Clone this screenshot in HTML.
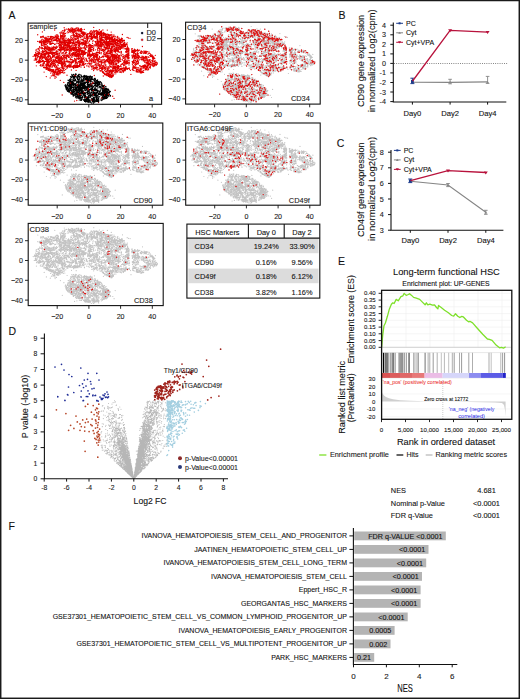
<!DOCTYPE html><html><head><meta charset="utf-8"><style>html,body{margin:0;padding:0;background:#fff}svg{display:block}</style></head><body>
<svg width="520" height="699" viewBox="0 0 520 699" font-family='"Liberation Sans", sans-serif'>
<style>text{stroke:#111;stroke-width:0.1px}</style>
<defs>
<path id="up" d="M47.8 12.3h0M51.4 7.4h0M50.3 7.3h0M50.8 6.9h0M47.9 6h0M49.9 6h0M53.1 7.5h0M52.3 7.2h0M50.5 6.8h0M49.6 7.6h0M78.2 33.5h0M76.9 33.1h0M76.2 31.4h0M82.2 28.7h0M82.4 28.6h0M83.3 29.4h0M79.8 28.5h0M43.4 39.1h0M46.8 37.6h0M42.7 39.8h0M44.2 38.2h0M47.6 39.5h0M43.2 40.6h0M44 39.7h0M47.2 40.2h0M38.1 24.5h0M33.7 23.4h0M37.9 22.2h0M36.4 25h0M34.7 25.6h0M37.5 23.9h0M37.2 24.7h0M36.9 25.2h0M80 18.4h0M80.8 19.2h0M79.7 19.3h0M84.4 21h0M55.9 9.4h0M55.6 9.9h0M55.1 9.6h0M56.2 9.3h0M56.5 9.9h0M54.7 8.9h0M36.5 21.9h0M33.1 22h0M36 21.9h0M38.8 23.1h0M37.2 20.6h0M36.6 20.7h0M50.8 38.5h0M109.9 31.1h0M108.8 30.2h0M109.2 29.5h0M104.4 41.1h0M37.3 18h0M44.3 17.1h0M39.9 17.8h0M40.8 17.9h0M41.2 18.6h0M42.9 16.1h0M65.7 37h0M63.5 38.4h0M31 48.6h0M32 47h0M29.5 50.1h0M33 49h0M31.1 50h0M31 49h0M87 21.9h0M88 20.4h0M89.3 22.9h0M90.1 24.2h0M88.3 23.9h0M88.3 22.1h0M84.7 21.9h0M86.4 23.1h0M87.5 21.6h0M85 46.8h0M86.1 45.7h0M87.6 45.7h0M87 46h0M90.6 45.8h0M88.7 46.7h0M87.6 44.5h0M87.1 46.8h0M85.4 45.1h0M19.4 33h0M20.5 33.3h0M22.3 33.1h0M20.4 33h0M125.7 34h0M124.6 34.8h0M38.6 32.2h0M39.3 33.4h0M39.2 33h0M40.2 33.3h0M27.1 42.3h0M26.2 40.5h0M26.6 40.4h0M20.6 40.9h0M25.6 40.1h0M23.5 41.2h0M49.2 14.5h0M47.1 15h0M47.6 13.1h0M46.7 13.9h0M48.7 13.9h0M48.9 13.7h0M29.8 41.5h0M30 42.4h0M26.8 42.4h0M27.2 42.7h0M28 44.5h0M29.8 44.6h0M28.5 42.9h0M19.8 18.2h0M15.7 17.6h0M13.8 16.6h0M16.9 17.9h0M72.3 16.1h0M72.6 18.3h0M83.3 32.3h0M84.3 32h0M84.9 31.3h0M86.2 31.3h0M74.2 14.8h0M73 12.5h0M73.1 12.7h0M77.2 12h0M73.8 14.4h0M74.3 14.4h0M75.9 12.6h0M77 16h0M7.4 36.2h0M7.1 35.2h0M8.8 36.2h0M50.9 21.1h0M51.8 20.4h0M51.6 21.7h0M52.1 21.2h0M50.4 20.2h0M51.2 20.4h0M51.4 20.3h0M49.8 20.3h0M50.4 22.2h0M116.6 42.6h0M115.1 44.2h0M115.7 43.8h0M117.4 42.7h0M114.8 44.1h0M115.8 43h0M118.5 43.2h0M77.2 44.4h0M116.7 39.1h0M113.9 37h0M116.6 39h0M74.4 16.6h0M71.7 15.3h0M69.6 16.2h0M74 17.2h0M71.7 16.9h0M39.2 42.8h0M36.1 41.8h0M41.8 42.4h0M40.9 41.8h0M79.6 20.6h0M78.4 21.1h0M80.8 20.9h0M80.5 22.1h0M79.8 20.2h0M64.9 45.9h0M63.9 43.2h0M61 43.8h0M65.2 43.1h0M63.5 44h0M64.6 43h0M62.9 43h0M60 42.9h0M65.5 44.7h0M92.3 16.2h0M91 16.7h0M91.7 16.3h0M93.9 16.5h0M92.3 16.7h0M90.1 17.3h0M93 16h0M13.1 24.8h0M14.1 24.3h0M18.1 46.3h0M20.2 46.5h0M19 45.7h0M21.2 47h0M76.9 14.9h0M72.1 14.9h0M87.3 18h0M26.5 26.8h0M28.3 25.1h0M26.5 24.5h0M25.8 24.9h0M27.6 25.8h0M30.2 50h0M30.5 51.8h0M30.1 50.9h0M31.8 51h0M30.5 50.1h0M29.9 51.7h0M31.9 50.6h0M32.8 49.7h0M38.8 45.1h0M40.7 43.3h0M37.4 41.1h0M39.7 43.3h0M39.5 43.5h0M36 43.3h0M41.2 40.9h0M41.8 42.8h0M118.2 28.2h0M116.7 28.7h0M117.7 29.2h0M121.8 36.7h0M118.1 36.9h0M119.8 36.6h0M118.6 39.3h0M120.1 37.8h0M39.4 20.3h0M40.6 22.7h0M40.1 19.4h0M42.3 20.4h0M89.6 26.5h0M88.2 26.4h0M88.6 24h0M88.4 26.3h0M90.6 25.5h0M67.4 15h0M67.4 13.4h0M69 13.9h0M67.7 14.9h0M58 37.9h0M59.6 38.3h0M55.6 38.9h0M61.1 37h0M62.8 40.1h0M63.9 39.8h0M60.9 39.6h0M61.2 41h0M32.4 21.3h0M33.3 22.6h0M29.4 23.9h0M32.2 23.2h0M32 22.1h0M47.8 19.5h0M44.8 16.8h0M20.8 40.4h0M19.3 41.7h0M15.9 40.7h0M20.5 42.3h0M19.1 38.8h0M19.6 39.3h0M18.7 41.4h0M17.7 42h0M15.9 14.5h0M17.7 14.4h0M13.9 16.6h0M34.9 9.7h0M39.7 8.2h0M22.5 25.7h0M22.1 27.2h0M23.2 26.9h0M21.2 27.2h0M36 18.7h0M36.9 16.9h0M36.6 17.3h0M68.5 34.7h0M72.5 37.9h0M108.5 47.2h0M108 47.5h0M109.2 46.8h0M108.6 46.6h0M108.4 46.2h0M81.1 36h0M85.8 36.9h0M82.1 36.1h0M82.1 34.8h0M52.8 37.5h0M51.5 35.7h0M19.7 25.3h0M17.8 23.4h0M18 27.2h0M17.9 23.3h0M21 24.8h0M19.8 23.5h0M21.2 24.4h0M19.3 22.9h0M17.4 24.9h0M16.4 33.7h0M19.2 33.7h0M15.2 31.9h0M19 34.3h0M16.1 34.4h0M18 34.2h0M18.6 30.9h0M22.7 29.7h0M18.7 30.4h0M19.1 28.8h0M92.2 37.7h0M92.6 38.3h0M94.6 40.3h0M52.3 12h0M50.5 11.4h0M50.9 11.2h0M48.9 10.9h0M83.1 20.4h0M82.4 20.3h0M82.6 19.7h0M87.9 19.7h0M81.9 19.9h0M81.5 18.4h0M85 18.1h0M48.2 22.7h0M51.2 22.8h0M51.5 22.3h0M50.3 22.3h0M50.4 20.6h0M48.9 21.3h0M50.9 22.8h0M48.6 21.7h0M107.5 45.1h0M106.3 44.1h0M107.2 44.2h0M106.6 44.2h0M31.9 18.4h0M32.3 18.4h0M31 16.8h0M31.1 18.3h0M32.1 16.7h0M31.9 17.1h0M34.3 15.4h0M30.1 17.8h0M30.6 15.5h0M37.1 30.5h0M36.2 32.1h0M38 32.1h0M38.2 31.8h0M34.4 29.8h0M36.7 32.6h0M35.8 33.8h0M116.9 42.3h0M84 25.1h0M83.7 26.8h0M83.5 25.4h0M82.9 25.8h0M82.7 25.9h0M81.6 24.7h0M31.5 36.1h0M32.1 34.5h0M30.8 36.1h0M32.7 37.1h0M31 37.8h0M31.8 35.9h0M32.7 34h0M29.7 35.2h0M80.5 32.7h0M82.2 30.8h0M79.5 30.9h0M82.9 31.1h0M82.3 30.6h0M81.2 30.3h0M80.8 29.9h0M43.1 6.4h0M44.6 5.1h0M40.8 6.8h0M42.2 6.7h0M44 6.9h0M44.5 6.7h0M43.2 4.9h0M44.5 5.2h0M37.6 30.3h0M40.2 32.2h0M41.8 31.4h0M40.5 33h0M40.5 34.3h0M39.5 31.8h0M40.7 34.2h0M27.7 25.2h0M33.5 22.6h0M30.8 22.9h0M28 24.1h0M114.9 44.1h0M116.1 44.1h0M116.1 44.5h0M116.6 44h0M115.6 44.6h0M117.6 44.8h0M113.8 43.3h0M79.5 22.4h0M81.3 21h0M79.7 22.4h0M79.2 23.1h0M81.9 23h0M79.8 21.3h0M80 21.3h0M78.9 23.1h0M81.1 23.6h0M31.3 21.3h0M31.8 20.2h0M31.6 18.1h0M31.7 19h0M30.2 20.5h0M31.3 18.6h0M33.2 20.6h0M17.2 27.8h0M68.8 44.5h0M68.5 44.5h0M66 44.5h0M30.1 12.7h0M34 12.3h0M48.4 7.8h0M44.5 9.5h0M45.6 9.5h0M44.7 9.4h0M48.5 11.4h0M44 7.1h0M47.8 9.8h0M90.4 35.7h0M25.2 46.6h0M22.9 47.8h0M24.6 46.9h0M22.3 47.7h0M25.4 47.8h0M24.5 48.6h0M25.8 46.7h0M25.9 47.8h0M24.4 48.2h0M25.8 23.3h0M26.9 20.8h0M25.4 20.2h0M26.5 21.3h0M44.1 20.6h0M44.2 19.7h0M43.1 19.4h0M41.3 20.3h0M42.8 18.1h0M84.1 29.4h0M82.4 27h0M109.7 36.9h0M109.3 38.4h0M110.1 37.9h0M108.3 39h0M95.2 35.3h0M97.1 36.5h0M92 36.1h0M96.4 34.7h0M94.1 36.4h0M20.6 18.3h0M20.9 16.4h0M20.8 17.6h0M16.9 16.5h0M67.8 36.6h0M70.3 36.5h0M68.8 35.8h0M69.4 36.2h0M70.8 36.6h0M70.5 37h0M57.2 25.3h0M57.3 26.5h0M61.6 24.8h0M61.6 25.4h0M56.9 25.7h0M30.3 36.4h0M28.5 35.3h0M30.4 35.9h0M32.5 36.8h0M84.5 45.5h0M86.2 44.9h0M86.3 45h0M86.4 44h0M86.1 43.1h0M86.4 44.8h0M84.8 44.1h0M84.9 42.8h0M108.2 35.8h0M12.4 18.1h0M15.6 20h0M54.2 29.5h0M56.5 29.5h0M33 40.4h0M30.1 39h0M31.6 40.2h0M31.3 38.5h0M28.9 39.1h0M32.4 38.6h0M30.5 40.1h0M28.5 38.5h0M31.2 40.2h0M92.8 28.7h0M88.7 30.7h0M90.7 28.4h0M93.3 29.1h0M32.1 26.6h0M31.8 27.2h0M30.8 26.3h0M35.2 26.1h0M31.6 26.8h0M31.4 26.3h0M33 27.8h0M54.9 32.3h0M55.3 32.5h0M53.9 30.9h0M53.7 31.3h0M53.5 31.5h0M31.7 37.7h0M30.8 36.4h0M31.7 38.4h0M32.6 38.1h0M32.9 37.8h0M31.5 39.6h0M33 37.7h0M32.6 38.2h0M74.2 33.6h0M105 42.6h0M107.7 43.7h0M106.4 44.5h0M111.9 42.5h0M106.4 43.8h0M109.7 44.5h0M108.2 44.2h0M37.3 41.1h0M36 40h0M37.6 42.9h0M38.9 33.1h0M42.2 35.1h0M42.3 32.4h0M44.5 32.7h0M42.6 32.2h0M41.4 34h0M43.8 34.3h0M41.8 32.6h0M50.6 33.6h0M52.2 33.3h0M52.4 33.3h0M52 32.4h0M51.8 32.4h0M51.1 35.1h0M50.9 34.1h0M49.9 32.4h0M106.1 33.5h0M42.6 27h0M41.7 24.7h0M44.6 25.2h0M45.4 26h0M73.4 44.1h0M71.2 43.2h0M74.5 45.4h0M74.8 43.5h0M72 42.8h0M72.8 43.9h0M73.7 45.5h0M74.2 42.7h0M19.4 44h0M70.9 29h0M71.5 29.8h0M69.3 29.4h0M69.1 29.1h0M20.3 37.5h0M18.2 37.4h0M67.2 32.7h0M67.5 33.7h0M64.4 32.3h0M68.1 34.5h0M63.6 35.8h0M50 4.7h0M79.8 23.9h0M79.5 25h0M67.9 13.9h0M68.5 12.7h0M72 12.5h0M13.7 32h0M101.1 39.4h0M104.3 40.9h0M113.8 47h0M114.5 49.1h0M113.7 49.6h0M35.6 10.5h0M37.2 10.5h0M34.2 9.7h0M35.8 9.3h0M34.2 10.2h0M34.6 11.8h0M48.7 13.3h0M46.6 12.7h0M45.3 12.5h0M48.2 10.4h0M44.8 11.9h0M49.3 13.7h0M49 12.4h0M47.3 13.3h0M35.9 23.8h0M35.3 23.2h0M35.8 24h0M36 23.1h0M35.6 24h0M36.4 22.9h0M36.1 25h0M75.6 11h0M77.6 12.3h0M96.9 44.3h0M95.6 41.2h0M95.5 42.6h0M16 39.6h0M12.8 41.4h0M13.8 42.9h0M14.8 41.4h0M12.1 42.4h0M15.7 42.6h0M14.2 42.8h0M90.7 35.3h0M50.7 14.6h0M47.3 15.5h0M50 17h0M50 15.5h0M52.8 16.8h0M50.9 17.1h0M18 36.2h0M17.2 35.5h0M19 36.6h0M80.2 34.6h0M79.7 33.9h0M80.6 34.2h0M78.2 33.8h0M80.2 33h0M82.4 35h0M79.1 33.3h0M80.4 35h0M78.7 33.8h0M88.4 40.1h0M85.9 39.8h0M82.2 40.6h0M83.9 37.6h0M80.5 38.4h0M83.9 40.4h0M83.3 39.2h0M85.9 40.7h0M82.7 41.1h0M17.9 14.1h0M20.4 13.7h0M22.1 13.3h0M19.9 13.4h0M83.5 16.3h0M86 17.7h0M85.5 17.7h0M85.4 17.9h0M86.4 18.2h0M79.6 52.1h0M78.7 52.4h0M80.6 52.4h0M80.1 50.6h0M77 51.1h0M83.1 28.2h0M79.1 29.4h0M83 27.7h0M8.3 32.3h0M7.6 32.9h0M8.7 31.7h0M9.4 34.7h0M8.7 31.6h0M8.1 33h0M90.3 34.5h0M89.3 33.9h0M89.6 34.4h0M90 34h0M90.2 35.3h0M96.9 35.9h0M100.3 35.4h0M100.2 33.2h0M99.8 34.7h0M98.7 33.8h0M100.6 33.9h0M52.8 19.9h0M51.4 18.8h0M56 20.5h0M51.8 21.1h0M55.1 17.2h0M53.6 20.4h0M53.3 19.3h0M55 19.7h0M49.7 19.4h0M99.8 31.4h0M100.4 32.6h0M99.5 33.5h0M100.8 30.5h0M100.1 32.3h0M75.4 49.1h0M73.5 46.7h0M76 50.1h0M77.4 48.5h0M77.8 48h0M79.4 50.4h0M92.5 45.3h0M92 46.7h0M89.5 45.9h0M91.7 46.6h0M89.9 45h0M88.4 48.6h0M91 45.8h0M89.1 46.9h0M90.5 47.4h0M110.7 35.1h0M73.6 17.6h0M75.1 18.9h0M75.5 18.6h0M74.1 17.6h0M77.7 18.7h0M72.7 17.7h0M72 18.4h0M73.1 16.4h0M73.7 17.4h0M35.5 18.6h0M118.5 35.1h0M118.8 33.9h0M115.7 34.8h0M118.2 33.9h0M117.8 34.5h0M118.8 34.9h0M109.5 27.4h0M113.2 28.3h0M112.1 29.2h0M110.5 27.5h0M113.2 27.9h0M49.2 14.1h0M48.8 15.3h0M49.2 14.8h0M51.9 13.3h0M52 12.9h0M54 28.2h0M53.2 27.1h0M55.2 29.2h0M54.9 28.3h0M54.3 27.5h0M51.3 28.6h0M48.3 40h0M48.1 38.9h0M51.7 41h0M51.5 40.9h0M95.9 42.1h0M43.6 22.3h0M44.6 24.6h0M119.8 46.7h0M120 45.7h0M119.6 44.3h0M117.2 46.7h0M116.9 45.5h0M84.4 49h0M84.4 46.7h0M84 48.1h0M83.3 47.1h0M85.3 48.2h0M42 17.6h0M43 18h0M42.5 18.7h0M41.8 18.1h0M43.5 36.4h0M42.7 36.7h0M46.5 36h0M22.4 41.9h0M17.9 42.3h0M22.2 42.9h0M21.2 43.3h0M20.2 42.2h0M85.2 16.6h0M79 16.4h0M81.2 13.8h0M83.1 14.1h0M81.6 15.4h0M81.6 14.3h0M78.7 15.1h0M83.9 16.5h0M84.3 15.7h0M85.7 31.7h0M84.5 32.2h0M84.3 31.4h0M84.2 30.8h0M48.6 18.9h0M49 19h0M46.3 20.4h0M58 14.7h0M59.3 15.1h0M56 15h0M54.9 17h0M57.1 15.5h0M76.6 18.9h0M78.9 18.7h0M78.5 19.6h0M78.3 18.7h0M77.7 19.6h0M75.5 19.1h0M76.2 18.8h0M78.3 18.1h0M74 17.1h0M88.9 17.7h0M88.2 17h0M87.6 17.6h0M88.5 16.6h0M117.3 37.1h0M116.6 38h0M29 46.8h0M31.4 45.3h0M28.9 46.6h0M31 47.4h0M34.5 44.2h0M28.5 46.4h0M34.9 25.6h0M32.2 25.3h0M32.9 26.2h0M85.8 23.6h0M34.7 21.4h0M103.7 25.9h0M103.5 25.8h0M104.2 25.6h0M90.6 33.5h0M85.6 33.7h0M92 32h0M93.3 32.6h0M87.5 31.8h0M91.6 33.6h0M88.5 32.5h0M86.2 32h0M66.7 36.2h0M63.5 35.7h0M65.9 38.8h0M65.2 36.6h0M63.8 36.5h0M36.5 27h0M37.2 25.8h0M38 27.9h0M35.8 27h0M34.6 26.5h0M64.3 32h0M66.2 30.2h0M63.9 31.6h0M65.4 30.7h0M22.1 28.1h0M26.1 31.8h0M22.6 29.3h0M23.4 28.9h0M24.5 32h0M20.3 29.1h0M24.4 31.1h0M23.7 30h0M22.5 29.9h0M80.1 15.3h0M80 14.7h0M80.5 14.9h0M81.3 16h0M78.6 15.7h0M110.4 44.7h0M53.7 42.5h0M51.6 41.1h0M49.5 42.4h0M51.5 41.5h0M21.8 46.9h0M21.3 43.9h0M20.8 43.9h0M84.9 34.8h0M82.1 36h0M83.2 39.5h0M81.3 36.9h0M81.4 36.9h0M84.2 38h0M83.4 38.8h0M94.8 21.6h0M97.9 21h0M95.8 21.1h0M91.7 21.7h0M96.7 21.1h0M95.3 20.3h0M95.7 22.1h0M95.8 22.3h0M75.7 42.1h0M74.4 42.8h0M74.8 45.2h0M77.8 41.8h0M90.1 18.4h0M89.3 18.9h0M88.8 19.2h0M91.5 19.9h0M88.3 22.2h0M88.8 19.7h0M36.8 16.6h0M37.9 15.1h0M34.9 16.6h0M36.6 13.7h0M35.4 15.7h0M35.9 15.3h0M77.6 38h0M78.5 37.1h0M76.3 38.6h0M72.8 38.3h0M75.9 36.2h0M79.3 36.8h0M43.1 12.5h0M44.8 12.4h0M46 13h0M42.5 13.7h0M45.2 14.1h0M20.4 16.1h0M22.8 13.5h0M22.8 13.8h0M21.7 15.4h0M24.7 13.8h0M24.3 15.4h0M23.2 13.2h0M24.5 13.6h0M85.1 19h0M86.6 20.4h0M87.3 20.5h0M87 19.6h0M87.5 19.1h0M84.9 19.7h0M84.8 19.6h0M81.1 19.9h0M82.5 21.2h0M79.3 19.9h0M79.9 19.7h0M79.2 21.9h0M37.8 17.2h0M40.1 16h0M41 16.9h0M40 16.5h0M40.7 17h0M41.6 17.4h0M39 16.7h0M41.3 16.6h0M40.5 17.5h0M83.4 21.8h0M85.3 21.4h0M84.6 21.3h0M83.7 20.8h0M85 21.4h0M83.2 21.2h0M87.8 20.5h0M85.9 15.7h0M83.6 16.4h0M82.8 16.4h0M83 17.5h0M79.3 15.5h0M104.5 28.3h0M106.8 28.5h0M103.8 29.3h0M100.9 26.8h0M61.7 13h0M59.2 12.3h0M58.3 12.5h0M58.3 11.4h0M60.3 35h0M58.3 37h0M57.9 35.4h0M56.2 36.9h0M56 38.8h0M56.4 36.9h0M26.9 38.2h0M30 39h0M30.2 37h0M34.9 7.8h0M34.7 7.6h0M36.3 8.2h0M44.5 5.8h0M48 5h0M45.3 6.6h0M42.8 7.4h0M45.2 6.8h0M45.6 6.4h0M46.5 6.1h0M80.3 49.9h0M84 51.3h0M80.8 51.1h0M80.9 51.2h0M80.8 50.4h0M73.8 38.8h0M75.1 39.1h0M75 37.1h0M73.1 39h0M76.2 39h0M73.4 37.9h0M73.4 40.2h0M73.6 39.8h0M84.2 39.5h0M80 36.7h0M81.9 37.9h0M83.4 37h0M80.6 39.8h0M76.6 37h0M12.4 42.6h0M14.7 42.1h0M15.5 44.4h0M15.7 40.9h0M14.5 42.6h0M23.6 18h0M23.8 16.8h0M90.2 18.1h0M86.3 18.4h0M88.6 16.5h0M89.2 19.3h0M86.7 19h0M35.8 22.3h0M35.4 23h0M35.3 24.3h0M34.8 24.2h0M36.4 22.6h0M35.3 24.1h0M71.4 30.3h0M71.5 27.9h0M51.7 6.5h0M50.1 6.8h0M51.9 7h0M52.5 5.8h0M53.2 5.2h0M52.9 6.5h0M63.1 24.3h0M62.1 22.8h0M61 23.1h0M10.4 39.7h0M10.5 38.9h0M12.2 37.7h0M12.9 38.9h0M11.7 38.2h0M8.4 39.3h0M11.5 39.7h0M12.3 37.8h0M11.1 36.9h0M24 24.4h0M48.1 31.7h0M70.2 10.4h0M68.6 8h0M69.9 8.6h0M69.3 10.3h0M71.3 6.6h0M70.3 9.1h0M72.1 8.8h0M52.1 27.2h0M53.5 27.4h0M50 28.2h0M51 26.4h0M52.8 27.8h0M54.9 27.2h0M53.3 27.9h0M51.3 28h0M81.8 25.4h0M82.8 26.6h0M82.1 25.2h0M83.5 23.5h0M81.3 24.8h0M81.1 23.2h0M82.1 25.4h0M81.1 23.2h0M107.2 33.1h0M105.3 31.8h0M107.3 32.4h0M87.1 16.7h0M89.6 17.7h0M90.2 17.7h0M87.2 17.9h0M86.3 16.8h0M86.7 17h0M88.6 16.7h0M87.9 16.7h0M51.7 35.5h0M53.3 37.3h0M53.6 37.6h0M52.7 37h0M53.1 37.6h0M48.3 37.5h0M48.1 39h0M46.1 37.7h0M16.1 28.1h0M18.3 29.1h0M17.2 30.9h0M18.2 28.2h0M17.9 28.7h0M46.6 27.9h0M49.4 28.2h0M48.1 25.5h0M44.9 27.5h0M10.5 33.2h0M9.8 33.2h0M9.4 34.7h0M11.5 34.2h0M12.2 33.3h0M12.7 32h0M10.1 33.7h0M19.3 29.2h0M20.6 30.7h0M21.7 29.6h0M21.7 29.1h0M16.4 28.4h0M22.6 28.5h0M19.5 29.2h0M21.1 29.7h0M23.1 30h0M93.5 15.1h0M90.9 15.4h0M94.2 15.6h0M21.2 39.3h0M21.5 36.5h0M22.1 38.3h0M17.5 36.3h0M11.7 34.8h0M11.8 34.6h0M11.4 35.6h0M37.1 42.3h0M37 42.1h0M36.6 42.4h0M105.7 29.1h0M106.6 29.3h0M105.2 28.9h0M105.8 28.3h0M104.4 27.5h0M104.1 27.4h0M40.2 38.6h0M39.5 38h0M36.8 38.9h0M39.3 38h0M39 38.9h0M75.6 31.7h0M79 32.5h0M77.9 31.9h0M76.9 31.5h0M77.9 33.6h0M79.7 32.5h0M77.4 31.2h0M77 30.9h0M58.5 19.6h0M60.9 20.8h0M57.5 18.9h0M58.3 20.2h0M57 21.1h0M83.5 18.9h0M83.8 18.3h0M72.4 16.1h0M73 15.8h0M72.1 18.9h0M71.9 16.9h0M115.5 36.1h0M117.9 34h0M113.7 34h0M117.5 35h0M118.9 35.4h0M116.9 35.7h0M114 34.7h0M96.8 37h0M96.7 38.2h0M97.1 37.9h0M95.5 39.2h0M96.5 39.3h0M96.7 39.4h0M96.5 37.2h0M99.6 37.9h0M99.1 39.2h0M69.7 40.1h0M89.8 33.7h0M91.7 33.7h0M87 33.2h0M90.3 32.6h0M91.6 32.2h0M91.8 34.6h0M85.3 32.4h0M91.4 33.7h0M126.9 37.3h0M123.8 37.4h0M125.8 34.7h0M126.7 35.2h0M123.8 42h0M124.6 40.3h0M121.9 39.9h0M125.9 42.1h0M126.2 40.7h0M67 37.5h0M92.2 18.8h0M91.1 18.1h0M91.7 18.9h0M88.8 19.6h0M91.6 18.6h0M93.1 17.4h0M92.9 16.7h0M92 17.1h0M23.3 41.1h0M24.4 43h0M23 43.8h0M22.7 43.9h0M25.3 42.4h0M24.7 42.8h0M22.6 42.5h0M24.2 44h0M115.6 47.3h0M113.2 49.8h0M21.9 19.4h0M18.9 18.1h0M17 21.2h0M96.4 21.5h0M99.3 22.8h0M94.9 22.7h0M97.5 22.2h0M96.4 19.4h0M97.9 21.5h0M75.4 16.8h0M76.5 18h0M77.7 14.2h0M78.3 17.3h0M77 14.9h0M79.5 14.8h0M76.8 14.2h0M84.4 47.4h0M83.8 50.4h0M85.6 47.3h0M81.9 29.6h0M77.9 29.2h0M82.6 30.2h0M97.9 26.3h0M99.5 26.2h0M99.5 28h0M7 31.6h0M9.5 30.3h0M10.7 30.5h0M11.1 29.5h0M8.1 28h0M11 30.2h0M7.5 29.6h0M33.6 38h0M38.7 35.9h0M37.9 38.1h0M101.4 46.1h0M104.5 44.7h0M49.7 26.3h0M50.9 26.6h0M51.1 25.4h0M50.7 25.6h0M47.8 27.1h0M50.4 24.4h0M50.4 25.7h0M51.3 26.8h0M45.3 25.9h0M122 43h0M119.8 43.7h0M118.7 45.7h0M117.4 45.9h0M119.6 44.4h0M118.2 46.5h0M116.1 44.5h0M118.6 44.1h0M98.8 31.3h0M103.7 29h0M45.8 32.8h0M48.2 33.4h0M49.1 32.1h0M49.5 33.5h0M48.6 33.1h0M46 33h0M46.4 31.5h0M47.4 32.8h0M63.9 23.4h0M65.7 23.6h0M65.5 25.3h0M62.5 25.5h0M7.4 33.1h0M9.4 32.7h0M7.2 33.1h0M31.1 36.7h0M33.1 39h0M35.7 38.6h0M36.4 40h0M33 37.8h0M33.5 37.8h0M32.5 38.4h0M33.9 36.4h0M33.3 38.4h0M109.2 32.4h0M109 31.5h0M72.5 17.8h0M73.7 19.5h0M70.6 18.8h0M74.1 20.4h0M73.3 17.4h0M75.5 18.8h0M75 19.5h0M36.6 49.6h0M35.2 49.9h0M67.1 33.4h0M67.8 33.7h0M66.4 32.2h0M65.5 33.4h0M65.4 34.3h0M65.1 31.7h0M97.8 43.4h0M10 38.5h0M9 38.3h0M9.9 39.4h0M10.6 37h0M11.3 39h0M10.4 39.4h0M12 38.4h0M64.4 36.6h0M64.3 36h0M64.9 38h0M65.7 35.5h0M64.9 34.2h0M66.6 34.8h0M70.6 9.8h0M72.5 9.6h0M70.8 9.5h0M73.9 9.9h0M71.9 11.6h0M73.5 8.9h0M82 11.8h0M81.9 12.8h0M81.6 11.9h0M81.7 15.1h0M80.7 11.5h0M86.9 35h0M87.4 34.7h0M86.6 35h0M88.5 35.4h0M89.4 34.3h0M86.8 36.3h0M87.4 35h0M41.3 25.5h0M46.4 26.2h0M42 26.5h0M33.5 47.1h0M35 47.8h0M34.8 47.4h0M33 46.7h0M33.5 47.2h0M34.5 48.1h0M87.8 33.5h0M86.3 35.5h0M87.9 32.8h0M85.7 33h0M50.5 42.7h0M51.4 42.7h0M51.8 41h0M52 42.7h0M50.3 42.8h0M12.4 38.2h0M11.7 38.2h0M10.1 38.4h0M13 38.3h0M11.4 38.1h0M12.5 39h0M50.2 27.9h0M51.1 29.6h0M47.9 27.2h0M53.6 27.6h0M53.5 29.6h0M49.6 27.9h0M28.5 48.9h0M23.6 48.7h0M27.3 47.8h0M27.9 46.9h0M20.3 19h0M17.1 18.5h0M16.1 18.3h0M19.4 16.4h0M16.8 17.2h0M20.3 18.7h0M101 37.6h0M29 15.4h0M28.6 15.9h0M27.8 15.8h0M29.4 17.2h0M25.5 14.4h0M26.7 16.5h0M32.2 15.8h0M28.7 16.7h0M84.6 18.8h0M81.8 15.3h0M84.1 14.9h0M81.7 15.6h0M82.7 14.9h0M82.2 15.5h0M82.8 15.1h0M81.9 14.6h0M62.9 33.3h0M65 34.5h0M62.7 33.2h0M60.2 32.6h0M62.6 32.5h0M62.3 33.4h0M60.8 32.2h0M90.1 47.7h0M89.1 48.6h0M89.5 45.7h0M88.3 47.8h0M87.8 47.4h0M51.2 18.8h0M50.8 19.4h0M52 18.5h0M50.7 19.2h0M50.8 19.9h0M52.6 20.4h0M55 17.4h0M51.7 18.6h0M53.8 19.2h0M106.4 39.1h0M87.8 45.2h0M112.6 28.9h0M116.4 28.8h0M116.3 29.5h0M114.6 29h0M34.9 15.8h0M35.1 14.1h0M32.6 14.1h0M32.3 15.3h0M32.3 14.8h0M105.7 39.8h0M105.4 38.9h0M105.3 39.3h0M34.8 35.7h0M36.3 33.8h0M38.3 34.8h0M35.5 32.8h0M79.6 25.5h0M80.6 25.1h0M79.6 25h0M79.8 25.9h0M78.6 22.2h0M80.4 25.2h0M83.3 24.1h0M80.5 25.8h0M78.3 25h0M55.9 30.5h0M57.5 29.3h0M61.5 29.4h0M59.7 30h0M56.8 29.6h0M24.4 33.4h0M24.4 34.1h0M23.4 35.2h0M23.3 35.3h0M23 35h0M25.1 36.4h0M21.9 35.3h0M24.3 33.7h0M24.3 34h0M108 27.4h0M109.6 27.7h0M109.9 27.6h0M108.8 27.4h0M109.5 26.3h0M33.1 13.4h0M30.2 13.7h0M28.5 13.6h0M29.2 12h0M29 11.7h0M57 31.2h0M56.8 31.1h0M55.3 31.3h0M53.3 30.7h0M49.8 39.9h0M51.5 39.5h0M53 38.8h0M51.4 39.1h0M53.8 41.9h0M53.2 38.8h0M86.7 47.8h0M86.8 47.9h0M87.8 47.6h0M86.7 49.3h0M87.8 48h0M88.1 47.9h0M71.9 47.6h0M72.6 45.2h0M62.5 33.9h0M65.2 30.9h0M79.9 19.2h0M81.3 17.2h0M82.2 18.2h0M81.9 17.9h0M80.8 18.6h0M78 18.6h0M79.3 16.2h0M79.7 18.2h0M95.9 47.2h0M97.3 47.5h0M96.2 47.7h0M35.5 20h0M33.1 19.6h0M33.5 22.6h0M36.5 20.4h0M34.3 18.6h0M78.5 50.6h0M98 45.6h0M98.1 46h0M99.1 45.3h0M100.1 45.3h0M45.3 43.4h0M46.9 42.7h0M44.3 43.9h0M45.9 44.5h0M45.6 44.1h0M45.4 43.9h0M45.9 43h0M46.1 43.8h0M64.4 24.3h0M61 23h0M62 26.5h0M62.5 24.4h0M60.8 23.6h0M61.5 24.4h0M60.5 25.6h0M85 14h0M86.7 13h0M87.2 13.6h0M86.4 15h0M89.1 14.7h0M89.2 14.6h0M44.2 31.4h0M41.6 30.2h0M39.6 32.2h0M42 29.8h0M41.6 30.1h0M40.9 30.8h0M115.6 35h0M114 34.4h0M115.3 34.3h0M113.9 33h0M111.5 36.7h0M113.8 35.2h0M110.5 34.9h0M75.8 10.4h0M74.3 10.9h0M75 12.4h0M73.6 11.3h0M75.4 11.4h0M74 12.7h0M75.2 10.6h0M75.2 12.6h0M30.1 34.6h0M29.1 35.6h0M26.9 34.5h0M28.6 34h0M68.6 29.2h0M61.6 38.2h0M62.9 37.4h0M63.7 37.6h0M62 36.1h0M63.5 37.3h0M63.8 37h0M62.2 37.8h0M63.6 37.7h0M59.2 37.7h0M64.9 14.6h0M66.4 14.8h0M65.8 13.9h0M63.4 15h0M62.9 15.4h0M63.7 14.5h0M65.6 13.2h0M67.2 14.2h0M64.1 13.2h0M85.9 50.7h0M85.1 52.3h0M83.9 51h0M83.1 49.8h0M83.2 50.2h0M83 52.3h0M84.4 52.9h0M25.2 32.8h0M28.8 30.7h0M23.4 31h0M61.6 17.5h0M57.2 17.6h0M59.4 17.2h0M60.4 19h0M58.4 19.7h0M59.4 17.9h0M61.5 18.2h0M23.5 15.9h0M70 42.5h0M68 41.5h0M69.8 41.6h0M67 41h0M68.3 42.6h0M65.6 39.1h0M58.1 24.4h0M58.3 22.1h0M61.8 22.9h0M58.2 23h0M57.4 22.5h0M99.9 32.6h0M79.5 21.2h0M82.8 21.8h0M78.6 21.1h0M80 20.7h0M79.3 20.3h0M82.4 20.5h0M83 20.5h0M48.6 39.4h0M52.7 39.5h0M106.2 44.3h0M47.1 42.7h0M45.6 42.5h0M44.8 43h0M54.1 20.1h0M59.5 20h0M57.1 19.5h0M58.4 18.3h0M57.1 18.3h0M57 17.6h0M57.8 20.5h0M57 20h0M73.8 45.9h0M73.7 46.8h0M76 45.5h0M76.7 44.8h0M76.5 45.1h0M84.6 24.5h0M84.4 23.4h0M87.1 24.1h0M85.5 22.8h0M80.1 47.9h0M81.2 48.6h0M21.2 44.2h0M22.9 46.3h0M39.9 6.4h0M40.7 6.8h0M36.9 6.2h0M110.2 27.3h0M111.5 27h0M55.2 35.1h0M54.3 37.1h0M52.7 36.2h0M52.7 37.8h0M54.6 38.3h0M52.3 37.4h0M52.2 38.4h0M53.6 36.1h0M25.6 49.7h0M27.9 49.1h0M25.8 50.2h0M25.3 49.1h0M26.3 48.5h0M22.5 50h0M58.9 23.2h0M64.5 22.5h0M62.8 23.5h0M62.8 23.7h0M61.7 21.4h0M61 22.4h0M68.6 36.6h0M73.9 36.5h0M68.7 36.5h0M70.2 37.9h0M43.4 33h0M94.8 31.3h0M95 33h0M96.6 32.7h0M67.9 21.4h0M72.3 21.3h0M70.5 20.5h0M69.7 19.8h0M70.6 21.3h0M67.8 18.5h0M74.5 20.4h0M82.1 38.1h0M85.3 39.1h0M81.8 38.4h0M27.1 12.8h0M74.6 33.1h0M76.9 32h0M79.2 34.5h0M80.2 32.8h0M75.4 34h0M78.1 31.5h0M75.5 33.2h0M30.6 16.4h0M32.8 18.1h0M32.9 18.1h0M28.4 17.8h0M31.3 18.2h0M31.2 17.1h0M79.7 27.9h0M78.5 29.8h0M76.1 29.3h0M54 16.3h0M58.8 16.9h0M57.1 15.7h0M55.2 16.1h0M16.3 39.9h0M16.4 38.6h0M15.1 40.1h0M16.2 39.4h0M18.6 39.7h0M20.3 39.1h0M18.4 30.2h0M20.2 29.1h0M17.9 29.8h0M15.8 28.6h0M18.8 30h0M16.4 30.3h0M19.4 29.8h0M20.8 29.6h0M104.6 45h0M105.5 44.9h0M93 22.9h0M96.2 22.7h0M95.7 22.3h0M93.9 21.5h0M95.7 24h0M94.8 21.2h0M20.5 45.3h0M21.9 45.6h0M84.3 52.6h0M84.4 53.4h0M84.7 52.2h0M84.1 52.5h0M85.2 52h0M84.5 52.4h0M85.9 51h0M100.7 30.2h0M47.2 37.7h0M45.1 39h0M47.3 38.8h0M45.6 38.1h0M45.5 39h0M44.4 38.6h0M44.3 39.5h0M81.6 48.9h0M80.9 50h0M81.9 48h0M79.8 49.6h0M81 50.7h0M110.7 49h0M112.2 49.6h0M110.6 47.5h0M113 49h0M110.9 48.7h0M111.2 48.7h0M110.2 48.7h0M111.3 47.3h0M18.2 18.7h0M19.8 18.1h0M18.7 18.5h0M21.3 18h0M19.9 17h0M19 16.6h0M20 18.1h0M18.9 16.7h0M19.6 18.5h0M36.3 34.9h0M32 33.8h0M36.3 34.6h0M35 35.1h0M38.2 33.9h0M36 34.1h0M47.2 25.8h0M46.8 24.6h0M47.9 22.7h0M46.8 26.2h0M42.7 24.8h0M48.5 24.8h0M47.4 25.8h0M76.3 23.6h0M73.8 21.5h0M64.6 18.5h0M69.7 19.9h0M67.4 18.8h0M69.5 18.3h0M69.8 18.2h0M67.8 20h0M73.9 17.5h0M76.5 17.7h0M126.3 38.6h0M126.8 37.7h0M54.9 11.4h0M54.8 12.7h0M56.2 11.2h0M56.5 11.4h0M87.8 38.1h0M89.8 38.5h0M90.8 39.2h0M91 37.5h0M89.6 37h0M88.7 36.9h0M89.9 39.8h0M89.9 37h0M19 16.9h0M17.9 16.9h0M18.9 17.7h0M17.2 18.7h0M17.5 17.3h0M52 25.7h0M52.7 27.8h0M54.5 27.4h0M126.3 40.9h0M129.2 39.9h0M128.2 41.5h0M126.2 41.7h0M126.9 40.3h0M36.7 12.8h0M36.9 13.5h0M36.1 13.5h0M35 13h0M36.2 14h0M35 15.6h0M120.6 45.9h0M122.2 44.9h0M118.3 44.2h0M118 45.9h0M61.9 15.7h0M63 13.4h0M61.9 13.1h0M63.2 16.5h0M49.5 30.2h0M51.8 28.3h0M51.2 29.1h0M52.5 31.1h0M54.5 28.9h0M53 31.5h0M50.7 30.4h0M52.6 30h0M53.6 29.6h0M36.7 34.2h0M37.7 33.8h0M79.3 47.1h0M79.7 46.4h0M80.3 46h0M77.7 46.3h0M81.2 48.3h0M78.6 49h0M101.1 39.3h0M104.1 38.5h0M104.5 39.3h0M71.8 26.6h0M75.5 26.3h0M69.6 27.2h0M72.1 26.1h0M69.8 27.3h0M74.6 26.4h0M69.6 25.2h0M73.2 27.3h0M74.7 27.6h0M45.8 17.4h0M44.8 16.5h0M31.4 17.7h0M34.9 17.1h0M34.5 16.9h0M35 16.5h0M35.5 17.4h0M34.6 13.2h0M33.8 16.7h0M33.7 15.4h0M35 16h0M44.7 6.2h0M43.1 7.1h0M44.7 6.9h0M46.2 5.8h0M45.1 7.1h0M45.7 7.9h0M47.8 7.1h0M46.5 7.7h0M46.4 8.8h0M65.6 12.2h0M65.7 13.6h0M66.3 11.4h0M65 10.9h0M60 22.4h0M58 20.1h0M62.5 21.7h0M50 12h0M52.2 12.9h0M49.9 13.5h0M51 13.4h0M52.9 12.8h0M52.2 14.3h0M51.3 12.3h0M68.3 31.7h0M69.9 34.7h0M23.7 25h0M25.5 24.5h0M24.6 25.8h0M25.2 24.1h0M26.9 24.6h0M87.9 44.1h0M88.7 44.2h0M87.3 45.9h0M89.5 44.6h0M89.2 45.2h0M88.9 44.5h0M88.1 44.8h0M88.9 44.8h0M68.2 11.5h0M68.5 13.4h0M66.2 10h0M67.9 10.6h0M69.9 11.3h0M71.2 11.7h0M69.1 10.7h0M111.3 48.3h0M108.5 47.3h0M111.1 48.8h0M109.3 49h0M73.1 34.3h0M69.3 36.3h0M68.7 34h0M71.6 34.4h0M106 34.1h0M104.6 33.7h0M27.2 36.9h0M25.4 37.5h0M27.4 37h0M29 39.7h0M26.4 38h0M53.2 36.6h0M49.6 40.1h0M52.3 38.1h0M99.9 26.6h0M104.1 27.9h0M106 29.5h0M112.7 30.2h0M113.7 30.1h0M113.6 30.2h0M40.1 24h0M63.8 26.1h0M65.1 26.2h0M63.8 27.9h0M62.2 26.8h0M63.4 26.2h0M62.7 26.8h0M65.5 27h0M97.9 33.7h0M100.4 35.3h0M98.2 33.5h0M99.1 33.3h0M99.3 33.9h0M16.9 19.1h0M19 20h0M16.3 21.5h0M18.4 21.5h0M16.7 19.8h0M37 39.7h0M36.3 38.4h0M35.5 40.4h0M109.8 46h0M63 26.1h0M65.8 23.8h0M35 19.8h0M35.6 19.5h0M38 20h0M34.5 19.9h0M35.8 19.6h0M37.1 18h0M36.6 18.7h0M34 19.7h0M19.8 23.5h0M18.1 24.8h0M20 23.9h0M17 24.2h0M17.7 23.6h0M18 21.6h0M83 49.2h0M79.5 47.9h0M82.6 47.7h0M81 48.1h0M78.8 48.1h0M41.7 44.1h0M117.9 33.9h0M83.2 32.9h0M83.2 32.8h0M83.4 31.4h0M85.8 43.1h0M86.1 43.4h0M88.7 44.8h0M85.5 44.6h0M105.6 47.2h0M104.5 46.6h0M76.3 43.7h0M71.6 43.7h0M76.6 45.3h0M73.6 44.4h0M75.6 43.5h0M74.7 44.1h0M22 19.3h0M107.4 31.4h0M105.8 30.7h0M61 30.6h0M61.1 32.1h0M59.5 31.1h0M59.5 29.7h0M60.9 29.4h0M61 32h0M51.7 11.3h0M101.1 44.7h0M54.1 8.7h0M54.3 11h0M57 10.6h0M55.8 12.2h0M55.1 8.7h0M53.4 10.1h0M56.7 11.1h0M55.3 11.2h0M45.6 19.8h0M46.9 18.7h0M47.8 18.9h0M44.7 19h0M45.4 18.9h0M45.6 17.1h0M45.3 18.4h0M49.4 18.5h0M46.8 35.6h0M50.4 36.2h0M47.8 38h0M48.1 37.9h0M45.2 37.3h0M51.3 35.6h0M44.6 37.2h0M50.6 38.6h0M46.5 35.3h0M98.7 26.5h0M98.8 27.6h0M96 25.6h0M98.7 28.6h0M97.5 29h0M98.4 27h0M97.7 28.4h0M32.6 19.3h0M35.5 19.7h0M49.6 26.8h0M44.9 25.3h0M48.7 26.3h0M10.8 29.9h0M11.4 30.4h0M11.3 27.5h0M10.9 31.3h0M9 30h0M10.3 29.5h0M12.7 30.2h0M10.1 28.7h0M13.1 28.7h0M42.7 8.4h0M43.8 7.7h0M42 9.2h0M41.4 8.3h0M40.4 9.5h0M43.2 8.5h0M44.8 8.9h0M46.4 6.7h0M43.4 6.9h0M95.5 45.9h0M93.6 46.2h0M94.6 47.4h0M93 45.2h0M93.4 45h0M96.7 45.7h0M92.5 46.2h0M93.2 46.4h0M93.4 45.3h0M32 35.1h0M33.6 33.8h0M28.7 38.5h0M34.9 36.6h0M33.7 36.7h0M29.9 37.5h0M31.4 37.1h0M32.2 35.2h0M31.9 35.3h0M32.6 27.4h0M99.3 46.2h0M101.2 45h0M101 45.2h0M26.1 26.3h0M24.6 25.6h0M24.2 26.4h0M23.8 27.3h0M25.4 24.9h0M97.5 40.8h0M101.1 39.3h0M98.9 40.3h0M99.2 37.9h0M98.6 40.5h0M98.4 38.2h0M98.4 40.8h0M99.5 39.5h0M97.3 40.7h0M48.4 31.3h0M47.2 30.3h0M45.8 29.7h0M48.1 29.1h0M50.7 29.1h0M46.8 29.6h0M48 30.5h0M115.6 35.9h0M115.5 35.8h0M69.7 11.6h0M70.2 10.1h0M69.6 9.9h0M71.7 10.6h0M70.6 10.4h0M70.6 11.2h0M71.8 11.7h0M72 12.3h0M18.7 36.4h0M18.2 34.8h0M19.2 35.5h0M15 37.4h0M15.8 38.1h0M18.8 35.5h0M14.6 35.2h0M20 47.2h0M21.3 47.3h0M21.1 45.9h0M56.2 43.8h0M106.1 26.9h0M105.3 27.6h0M105 27.7h0M107 26.5h0M16.1 39.9h0M80.9 45.2h0M77.9 45.2h0M79.4 46.8h0M80.4 47.6h0M79.6 46h0M85.7 39.3h0M84.7 38.5h0M84.2 38.7h0M85.3 38.5h0M87.4 38h0M93.2 30.8h0M93.2 28.4h0M93.1 28.9h0M91.1 29.1h0M91.2 29.2h0M92.9 29.6h0M17.6 27.6h0M17.4 27.8h0M15.6 28h0M17.7 27.9h0M22.6 15.9h0M19.8 15.8h0M124.6 32.9h0M121.6 32.5h0M120.1 33.7h0M76.4 10.3h0M76.9 11.8h0M76 10.5h0M76.7 11.4h0M75.6 9.9h0M76.5 11h0M75.9 10.6h0M77 11.4h0M64.5 20.2h0M88 27.1h0M89.8 28.6h0M89.1 26h0M87.1 28.4h0M88 25.3h0M92.1 25.6h0M87.8 27.3h0M88.5 25.9h0M79.3 45.1h0M76.7 44.7h0M79.9 43.7h0M21.8 17.8h0M22.9 16.5h0M22.5 14.4h0M17.2 15.4h0M21.1 15.4h0M21.3 15.6h0M26.5 29.9h0M29.1 46.8h0M30.3 48.1h0M30.4 47.8h0M31.6 47.6h0M31.3 49.3h0M32.2 47.9h0M31.7 48.7h0M31.8 49.1h0M29.4 49.3h0M56.8 29.1h0M57.5 30.3h0M56.7 27.2h0M55.3 28h0M90.4 42.6h0M90 44.1h0M88 42h0M37.3 17.4h0M36.6 18.6h0M36.7 17.6h0M35.7 17.8h0M38.7 19.1h0M84 51.1h0M83.8 47.4h0M87.9 49.1h0M83.7 50.2h0M21 36.2h0M20 35.8h0M23.4 36.9h0M18.7 36.5h0M20 38.2h0M19.7 37h0M52.6 34.1h0M51.1 32h0M55 33.1h0M52.7 34.7h0M54.8 32.6h0M54.7 33.6h0M52.5 33.4h0M77.9 12.3h0M77.4 13h0M75.7 11.4h0M78.6 13.1h0M79.1 11.2h0M79.5 13.4h0M26 38.7h0M24.4 38h0M25 38.3h0M24.8 38.4h0M23.5 39h0M23.3 37.5h0M61.9 42h0M46.6 25.2h0M47.3 24.5h0M47 24.6h0M48.2 25.4h0M45.8 25.4h0M44.6 26.1h0M47.3 24.4h0M45.6 24.6h0M45.1 26.3h0M17.2 21.3h0M99.2 32.6h0M98.4 31.3h0M99.1 31.5h0M99.3 34.6h0M29.1 51.1h0M27.4 49.5h0M29.2 49.3h0M28.8 50.6h0M29.5 50.8h0M28.6 50.2h0M25.9 50.4h0M29.4 51.8h0M120 41.9h0M120.2 42.3h0M117.5 43.1h0M117.7 42.1h0M116.6 42.5h0M116.8 41.9h0M80.3 37.8h0M82 36.9h0M77.2 38h0M80.9 38.6h0M79.5 36h0M76.8 40.1h0M75.3 19.3h0M74.7 20.9h0M78.4 18.6h0M74.9 19.9h0M74.8 20.2h0M33.9 26.7h0M34 26.8h0M35.8 25.9h0M34 25.9h0M33 26.3h0M32.9 26.4h0M31.7 25.9h0M89.4 31.4h0M88.7 32.3h0M86.5 33.3h0M88.8 33h0M90.6 32.4h0M86.4 28.5h0M65 14h0M65.3 12.5h0M63.5 11.9h0M64.5 14.1h0M69.3 12.3h0M48.6 42.1h0M48.6 39.1h0M42.7 41.4h0M47.2 41.9h0M47.2 41.7h0M48.1 31.1h0M45.7 31h0M78.3 51.3h0M77.6 51.6h0M76.5 51.5h0M76.9 50.4h0M80.2 53.1h0M18 41.1h0M14.8 37.9h0M15.9 38.8h0M15 40.3h0M14.3 37.9h0M16.2 39.3h0M105.7 29h0M107.9 27.7h0M107.5 28.1h0M105.4 28h0M109.4 30.1h0M61.1 12.8h0M59.2 11.8h0M59.6 13.3h0M58.5 13.9h0M59.3 12h0M59.4 10.7h0M63.2 13.8h0M45.8 8.4h0M46.6 7h0M47.7 7.8h0M46.4 7.5h0M41.5 8.2h0M48.6 19.5h0M45.3 20.3h0M45 20.9h0M43.9 19.8h0M47.7 20.9h0M45.6 20.2h0M46.3 22h0M46.5 19.8h0M89 25.5h0M90.8 24.2h0M90.7 24.8h0M91.3 25.9h0M90.3 24.8h0M88.2 26.1h0M90 24.4h0M87 25.7h0M110.1 30.3h0M112.8 29.3h0M109.7 32.2h0M113.3 30.1h0M109.7 30h0M109.8 28.1h0M112.1 29.7h0M112.5 29.9h0M71.1 35.5h0M70.6 37h0M70.5 35.9h0M72 36.1h0M126.2 42.6h0M126.5 42.2h0M124.5 42h0M128.1 41.5h0M125.4 40.7h0M122.4 43.6h0M126.3 42.3h0M123 41.3h0M123.4 41.8h0M108.6 41.3h0M110.4 40.7h0M108.7 40.9h0M109.1 40.5h0M108.4 40.8h0M108.7 38.8h0M104.9 43.7h0M84.2 52.6h0M83.7 53h0M85.3 52.8h0M84.1 51.2h0M79.9 51.5h0M84.3 50.7h0M84.4 52.9h0M44.9 22.7h0M67.4 45.1h0M68 45.3h0M67 44.2h0M98.5 32.9h0M97.7 33.6h0M95.5 33.1h0M97.6 33h0M97 33.1h0M97.9 33.5h0M98.5 32.5h0M82.7 26.1h0M84.2 24.5h0M83.6 25.3h0M82.6 26.7h0M13.6 20.3h0M15.2 18.6h0M11.1 18.6h0M11.3 19h0M13.2 18.2h0M13.3 19.1h0M15.8 19.4h0M11.6 18h0M13.9 20h0M70.3 22.9h0M71.9 20.9h0M73.8 23.3h0M72.7 23.2h0M67.4 18.6h0M70 20.3h0M66.9 18.2h0M67.7 19.9h0M70 19.4h0M68.6 19.8h0M69.2 20.9h0M69.2 21.1h0M106.7 32.4h0M60.8 10.6h0M62.1 10.6h0M59.6 10.5h0M62.6 11.3h0M32.9 13.9h0M33.3 12.5h0M32.5 13.8h0M30.1 12.8h0M32.3 13.5h0M29.8 12.9h0M33.9 14.3h0M37.2 34h0M35.5 32.9h0M31 32.9h0M35.5 33.6h0M34.4 32.2h0M36.9 32h0M37 34.4h0M36 34.7h0M33.2 35.5h0M87.4 29.7h0M63.6 32.4h0M66.9 32.2h0M60.5 32.2h0M63 31.4h0M63.1 32.4h0M63.9 35.9h0M62 36.8h0M100.1 31.3h0M45.4 10.1h0M48.9 11h0M47.5 10.1h0M46.1 9.2h0M50.8 13.9h0M44 9.8h0M46.4 11.7h0M45.5 10.8h0M69.3 13.9h0M68.2 15.5h0M69.2 14.3h0M69.1 16.1h0M69.8 14.8h0M68.9 12.8h0M68.6 13.9h0M69.5 13.7h0M69.1 13.3h0M118.2 29.8h0M115.9 27.8h0M114.1 28.5h0M116.4 29.2h0M93.3 41.1h0M97.7 39.3h0M94.9 41h0M96 40.8h0M39 9.7h0M35.9 11.1h0M36.4 12.7h0M35.1 11.7h0M36.2 10.9h0M35.1 12h0M35.9 11.8h0M37.2 12.5h0M36.3 10.7h0M34.2 49.2h0M30.2 48.4h0M33.3 49.3h0M99.3 27.7h0M98.9 26h0M99.3 25.9h0M65.7 42.7h0M65.9 42.7h0M64 42.8h0M63 41.5h0M63.9 43h0M67.3 15h0M66.8 13.5h0M67.1 14.9h0M28.3 33h0M28.6 31.3h0M25.9 32.9h0M29.8 33.4h0M82.6 43.6h0M82.1 43.8h0M81.8 42.7h0M81.7 42.5h0M80.5 44.2h0M85.1 43.9h0M83.4 43.9h0M84 44h0M80.5 43.7h0M79.4 25.2h0M37.4 19h0M36.7 20.6h0M37.6 21.5h0M89.9 22.1h0M89.2 21.8h0M91.4 21.8h0M90.1 20.8h0M87 21.1h0M89.3 22.6h0M88.2 21.3h0M89.5 20.3h0M73.7 21.9h0M76 22.6h0M71.9 21.5h0M73.3 22.3h0M73 14.9h0M71.5 13.2h0M29.2 33.7h0M25.1 32.8h0M26.4 32.3h0M30.2 34.5h0M29.2 34.5h0M29.6 34.6h0M13.9 36.7h0M14.5 38.5h0M8.4 37h0M11.2 37.6h0M117.5 30.1h0M117.9 30.5h0M118.7 28.8h0M116.7 29.1h0M117.1 30.1h0M115.7 30.4h0M65.7 7.3h0M68.3 9.9h0M62.8 7.8h0M65.7 8.3h0M15 28.6h0M16.3 26.4h0M14.4 28.2h0M17.2 27.6h0M14.5 27.2h0M37.3 29.6h0M38.5 29.4h0M104.7 39.1h0M106.9 35.7h0M105.5 37.5h0M104.2 38.3h0M105.7 36h0M39.4 26h0M37.6 27.5h0M37.3 26h0M39 27h0M38.4 25.5h0M42 25.5h0M40.2 26.1h0M38.3 26.3h0M38.6 26.6h0M124.8 37h0M121.8 38.4h0M122.3 38h0M124.2 38.8h0M121.3 36.5h0M122 36.5h0M124.5 38.6h0M9.6 34h0M7.8 32.9h0M8.1 30.9h0M9.1 32h0M120.1 41.1h0M125.7 40.3h0M120.3 40h0M124.7 41.2h0M123.1 40h0M121.2 40.8h0M124.7 41.1h0M122.8 39.4h0M125.2 43.5h0M50.1 6.8h0M47.6 8.2h0M50.9 8.7h0M50.4 7.6h0M23.7 30.1h0M24.9 29.7h0M24.5 29.7h0M23.7 29.5h0M24.1 31h0M24.2 28.9h0M22.8 30.4h0M70.7 18.9h0M69.1 18.1h0M70.3 18.1h0M69.8 17.5h0M71.5 18h0M69.2 18.7h0M69.2 18.2h0M69.7 17.5h0M70.1 17.6h0M61.4 32.9h0M61.1 32.6h0M60.1 31.2h0M62.5 31.8h0M64 31h0M63.3 31.6h0M61.7 30.9h0M14.5 29.4h0M12.8 31.1h0M13.6 30.3h0M17.3 30.2h0M16.1 28.5h0M13.9 30.1h0M15.1 29.9h0M16.7 30.4h0M11.4 29.1h0M83.4 36.7h0M81.3 34.7h0M82.5 36.5h0M80.4 36.3h0M82.5 33.9h0M81.9 35.5h0M84.7 36.6h0M26.9 44h0M69.4 46.7h0M70.9 46.2h0M70.9 46.4h0M66.5 45.7h0M69.6 22.8h0M71.6 23.2h0M71.6 22.9h0M76.1 22.9h0M71.9 21.9h0M72.9 23h0M75.8 21.6h0M71.7 23.3h0M72.2 22.1h0M24 34.1h0M19.8 32.7h0M21.7 32.4h0M20.3 32.5h0M20.9 31.7h0M20.3 33.7h0M21.8 33.3h0M20.5 34.2h0M26.7 36.9h0M26.9 40.8h0M107.8 45.3h0M111.6 42.6h0M106.5 44.7h0M106.8 41.4h0M104.7 28.3h0M106.3 26.1h0M106 30h0M105.3 28.6h0M104.4 27.2h0M107.1 27.6h0M106.4 27.8h0M49 41.3h0M119.3 43.1h0M119.4 42.2h0M120.8 41.4h0M119.6 42.4h0M119.8 43.1h0M121.8 43.9h0M121.3 44.3h0M121.9 42.9h0M118.4 43.9h0M60 27.4h0M58.3 29.5h0M61.6 30.1h0M61 28.6h0M60.4 27.9h0M61.2 29.2h0M61 27.7h0M76.5 47.5h0M74.7 46.4h0M75.6 19.1h0M74.2 20.4h0M73.1 18.1h0M16.4 25.1h0M10.6 25.2h0M15.6 25.5h0M16.3 26.1h0M13.8 25.7h0M25.7 41.9h0M43.5 31.2h0M41 30h0M45.4 29.4h0M76 31.5h0M75.6 30.1h0M77.2 31.4h0M49.8 18.1h0M50.1 17.7h0M50.2 17.4h0M51.4 19.3h0M50.6 18.5h0M49.3 17.7h0M92.5 20.7h0M95.1 17.6h0M96.2 22.7h0M93.8 19.7h0M95.3 21.8h0M92.5 19.7h0M98.3 20.9h0M94.1 22.5h0M124.9 39h0M123.5 41.7h0M71.3 33.3h0M69.8 31.9h0M68.1 30.5h0M69.3 32.2h0M69.4 31.8h0M69.6 31h0M65.7 32.9h0M70.4 29.4h0M123.8 32.5h0M122.7 33.4h0M124.7 34.1h0M123.8 31.9h0M122.5 33.3h0M124.4 33.2h0M120.8 34.3h0M125 34.4h0M18.3 17.4h0M16.6 15.1h0M15.5 19.4h0M51.9 27.2h0M54.1 27.9h0M51.5 27.3h0M52.7 25.9h0M50.3 25.7h0M52.1 25.5h0M53.6 25.2h0M51.9 26.8h0M53 27.4h0M112.1 45h0M112.9 46.3h0M113.3 45.2h0M112.1 45.4h0M113.4 44.9h0M112.8 43.4h0M112.1 46.4h0M114.9 45.1h0M47.5 25.2h0M44.4 25.1h0M43.1 23.5h0M41.1 24.2h0M45.1 24.9h0M42.7 26.8h0M48.9 43.5h0M48.9 42.8h0M62.2 32.3h0M62.7 32h0M64.4 29.7h0M63.4 32.2h0M64.9 30.4h0M67.1 31.1h0M62.2 31.9h0M62.4 32.7h0M65.3 37.8h0M65.2 38.7h0M63.5 37h0M117.2 33.3h0M115.1 36.3h0M116.4 34.6h0M117 34.3h0M118.1 33.6h0M116.6 34.6h0M115.5 34h0M114.9 33.2h0M31.2 30.4h0M33.1 26.9h0M35.3 29.2h0M31.7 26.6h0M30.6 34.4h0M30.7 34.4h0M33.6 34.6h0M33.4 33.4h0M32.2 35.7h0M30.1 33.9h0M30 34.8h0M30.6 32.6h0M29.2 34.3h0M38.9 22.5h0M37 20.2h0M37.4 21.2h0M36.8 20.1h0M38.3 19.2h0M39 19h0M19.8 46.4h0M55 30.6h0M55.4 29.8h0M53.9 30.3h0M53.6 29.8h0M53.5 28.9h0M54.4 31.3h0M46.3 6h0M48.8 4.9h0M39.5 24.7h0M41.2 25h0M42.1 22.8h0M27.4 17.1h0M26.4 17.1h0M26.7 53.7h0M28 51.6h0M18.3 44.1h0M17.5 44.2h0M17.9 41.7h0M19 42.9h0M18.9 44.7h0M18.6 43.1h0M18.2 43.8h0M67.6 22.6h0M65.8 22h0M62.5 22.4h0M66.6 21.9h0M62.1 22.4h0M64.3 22.5h0M63.2 22.2h0M63.9 23.4h0M34.7 19.2h0M33.9 19.5h0M30.9 19.8h0M33.7 19h0M26.1 52.4h0M28.3 54h0M25.5 51.8h0M24.6 52.5h0M25.1 52.5h0M27.1 53.6h0M98.5 39.6h0M92.7 42.1h0M94.4 41h0M96.8 42h0M91.9 43.2h0M32.5 11h0M29.4 13.7h0M32.5 12.3h0M31.7 9.7h0M77.7 20.7h0M76.3 19.7h0M78.5 21.2h0M72.9 23.4h0M15.5 31.7h0M72.2 21h0M72.7 23.4h0M71.3 22.2h0M72.1 22.2h0M68.9 23.7h0M56.3 28.4h0M53.7 31h0M56 31.2h0M56.4 30h0M56 30.7h0M82.2 46.8h0M82.8 48.4h0M81.4 47.8h0M82.2 47h0M80.5 47.8h0M78.3 48.4h0M81.4 47.6h0M82.5 47.9h0M83.7 13.8h0M81.2 16.2h0M80.7 16.2h0M84.7 14.1h0M84.2 15.1h0M30.6 47.2h0M29.8 48.4h0M36.2 47.5h0M29.1 49.8h0M33.2 47.5h0M30.6 47.6h0M31.9 46.7h0M83.6 40.9h0M82.8 39.2h0M86.2 38.6h0M82.5 37.7h0M81.3 41h0M83 40.9h0M83.2 40.5h0M83.6 38.4h0M83.3 39.1h0M89.9 27.6h0M90.8 26.5h0M93.4 23.2h0M90.6 24.9h0M92.8 24.4h0M92.4 25h0M90.7 24.9h0M95.7 24.2h0M55.8 28.5h0M54.6 28.5h0M40.6 23.4h0M40.2 21.9h0M40.1 22.7h0M37.3 20.8h0M38.6 18.1h0M35.7 19.6h0M34.4 19.9h0M36.3 20.4h0M35.3 18.6h0M21.6 16.2h0M22.3 18.4h0M26.1 26.8h0M21.3 27.5h0M25.5 26.4h0M28.2 27.7h0M25 26.9h0M83.6 11.8h0M124.2 34.1h0M125 33.5h0M122.6 31.6h0M122.6 32.6h0M123.7 33.3h0M63.1 11.1h0M61.9 9.1h0M61.6 9.7h0M63.2 10.8h0M62.1 8.9h0M62.1 11h0M62.8 11.3h0M64 11h0M85.5 41h0M88.4 40.8h0M85.8 40.5h0M69.8 7.7h0M68 10.4h0M71.1 9.3h0M72.2 9.4h0M69.2 9.1h0M70.2 9.2h0M74.1 9.8h0M70.7 9h0M69.3 8.2h0M71.2 45h0M74.7 48.3h0M99.8 25.4h0M98.3 25.5h0M97.3 23.3h0M98.9 24.8h0M99.3 23.8h0M100.5 25.2h0M97.5 25.2h0M99.4 23h0M84.1 28h0M82.1 27.1h0M83.8 28.3h0M81.7 27.9h0M84.3 28h0M82 28.2h0M37.3 22.3h0M36.3 22.5h0M35.9 20.2h0M96.7 36.7h0M97.5 35.7h0M54 38.3h0M61.9 27.3h0M60.2 27.4h0M60.6 28h0M61.6 27.4h0M60.4 27h0M60.1 27.9h0M59.9 28.1h0M110.3 33.7h0M110.6 34h0M109.5 34.4h0M108.5 34.3h0M109.3 31.3h0M111.4 33.8h0M109.3 33.5h0M107.5 32.6h0M110.5 33.6h0M26.7 49.8h0M96.6 45.4h0M99 45.5h0M96.5 46h0M97.6 46.5h0M95 45.8h0M97.8 46.2h0M80.9 28h0M80.1 27.3h0M97.9 39.9h0M101.2 40.1h0M49.9 44.2h0M51.8 42.7h0M48.6 44.3h0M51.1 43h0M48.8 44.3h0M50.3 42.5h0M46.3 42.1h0M46.6 42.2h0M50.3 43.2h0M49 42.9h0M47.5 42.9h0M44 43.5h0M47.7 43.1h0M50.8 23.7h0M20.5 47.1h0M83.6 54.3h0M81.6 52.9h0M82.7 53.3h0M77.9 13.1h0M80.9 14.4h0M79.9 14.2h0M81 14.3h0M80.3 12.5h0M78.6 14.1h0M76.7 14.8h0M80.1 15.8h0M25.3 14.8h0M105 29.3h0M104 32h0M105.4 30h0M39.2 43.1h0M40.6 42.6h0M36.3 42.8h0M37.8 41h0M37 41.7h0M78.5 21.2h0M79 22.1h0M75.3 22.7h0M77.3 21.6h0M36.7 6.7h0M15.6 20.5h0M13.3 19.4h0M15.7 20.4h0M15.1 19.9h0M17.4 19.5h0M16.2 21.1h0M16 20.4h0M13.6 21.9h0M17.5 19.3h0M81.3 33.8h0M88.3 33.8h0M85.7 31.9h0M83.1 33.4h0M84.1 34.7h0M87 32.3h0M87.7 35h0M84.5 32.5h0M85 34.4h0M79 15.9h0M77.8 15h0M77.8 16.6h0M83.1 15.4h0M81.8 14.5h0M79.1 18.7h0M79.3 14.9h0M78.5 15.6h0M100.6 30.8h0M99.2 32.7h0M99.3 31h0M15.1 33.4h0M15.8 34.5h0M14.3 34.1h0M15.5 34.2h0M17.5 32.9h0M16.9 35.4h0M14.7 34.6h0M13.7 32.8h0M35.2 13.9h0M33.9 13.4h0M35 15.2h0M119.7 39.4h0M120.2 39.6h0M118 38.9h0M119.4 39.2h0M118.5 39h0M120.1 39.3h0M120.5 40h0M28 28.5h0M28.8 27.7h0M30 26.6h0M27.6 46.1h0M21.9 46.1h0M24.4 47.4h0M23.7 46.6h0M22.6 46.9h0M24.1 47h0M23.4 48h0M24.3 46.6h0M31.4 36.7h0M33.1 38.3h0M31 40h0M28.4 39h0M41.8 7.2h0M38.4 6h0M40.3 5.5h0M41.4 6.3h0M42.7 5.6h0M52.4 39.2h0M51.6 37.8h0M52.8 39.8h0M51.9 39.3h0M53.5 38.6h0M55 39.4h0M51.7 39.7h0M50.2 38.2h0M7.4 36.6h0M109 37.7h0M106.1 35.6h0M107.4 37.3h0M105.2 38.2h0M106.1 37.2h0M97.3 32h0M95 33.1h0M95.8 34.6h0M97 34.1h0M94.6 33.9h0M106 47.5h0M111.1 46.8h0M20.6 36.6h0M21.2 38.1h0M22.7 37.4h0M20 35.8h0M43.7 38.5h0M41 39.5h0M40.8 39.2h0M40.9 39.1h0M41.4 38.4h0M42.2 38.9h0M40.1 38h0M79.7 14.7h0M81 11.8h0M79.9 14.7h0M80.6 12.8h0M85.8 11.7h0M84 12.9h0M82.6 11.9h0M80.7 14.1h0M55.9 21.1h0M51.7 23.8h0M54.2 20.4h0M54.1 21.9h0M55.7 19.2h0M54.7 19.4h0M54.5 41.8h0M68.1 20.4h0M97.9 45.1h0M98 43.7h0M47.8 36.5h0M61.8 25.2h0M56.4 24.6h0M33.8 30.6h0M35.6 30.8h0M33.8 29.7h0M81.8 38.8h0M85.6 37.1h0M48.8 10.6h0M52.3 8.2h0M54.2 9h0M49.2 32h0M45.7 29.6h0M45.4 31.3h0M44.7 31.7h0M44.4 31.4h0M32.4 46.6h0M30.1 46.4h0M30.8 45.6h0M29.1 45.4h0M32.1 44.7h0M29.1 45.8h0M29.2 45.3h0M86.3 25.6h0M86 25.8h0M87.7 28.4h0M89 27h0M23.8 41h0M22.4 40.8h0M19.4 39.8h0M83.8 48.4h0M87.7 50.7h0M82.6 48.5h0M81.5 49.5h0M83.2 48.5h0M82.9 50.2h0M87.4 41.2h0M90.2 39.8h0M88.5 41.3h0M87.5 41.3h0M87.6 41.1h0M87.5 41.4h0M88.5 40.4h0M90.1 42.6h0M60.5 26.6h0M54.2 19.8h0M55.4 21.1h0M55.7 20h0M56.5 20.2h0M57.5 19.1h0M56 17.9h0M54.6 20.3h0M57.3 18.4h0M57.7 19.9h0M104 32.4h0M107.3 30.6h0M13.3 22.7h0M14.3 22.1h0M13.3 21.1h0M15.8 23h0M15.3 21.7h0M70.4 22.2h0M71.8 23.1h0M72.7 20.9h0M72.4 22.7h0M69.2 21.5h0M70.6 20.4h0M70.1 22.2h0M74.1 21.6h0M70.7 21.7h0M54.8 13.6h0M53.6 13.1h0M81.6 12.8h0M71.5 18.9h0M72.4 19.1h0M68.4 22.1h0M73.1 19.6h0M69.6 20.9h0M74.2 21h0M72.2 19.2h0M68.6 20.8h0M72.7 20.5h0M36.4 36.6h0M37 35.2h0M38.2 35.9h0M35 35.3h0M36.1 37.3h0M36.7 34h0M99.6 28.2h0M99.8 30.1h0M98.7 29.4h0M100.8 27.8h0M98.7 32.5h0M98.8 29.2h0M100.7 37h0M79.3 25.6h0M79 25.8h0M29.1 38.3h0M27.1 39.4h0M30.4 39.3h0M28.5 37.3h0M29.1 38.6h0M29 37.9h0M27.7 37.7h0M29.1 38h0M127.6 41.3h0M126.7 42.7h0M19.8 46.4h0M18.4 45.6h0M18.4 46.2h0M19 44.4h0M19 45.5h0M12.7 34.4h0M11.5 34h0M76.9 27.8h0M76.3 27.2h0M76.8 24.5h0M75.6 26.4h0M74.1 26.9h0M75.3 26.7h0M76.9 24.9h0M75.5 28.3h0M76.7 26.8h0M57.8 35.3h0M61.2 35.2h0M58.2 36.3h0M127 38.8h0M126.1 40.8h0M81.4 16.7h0M77.9 18.4h0M80.3 18.7h0M73.7 37.9h0M71.5 38.6h0M70.9 38.3h0M70.1 36.3h0M73.2 38h0M70.5 37.7h0M62.9 27.9h0M60.9 27.3h0M60.4 27.4h0M61.3 28.1h0M62.4 28.3h0M61.1 28.3h0M62.1 28.3h0M61.5 26.9h0M47.1 32.6h0M52.2 31.4h0M49.6 31.3h0M47.1 30.6h0M34.3 42h0M35.7 44.9h0M36 43.5h0M36.1 45h0M35 45.4h0M29.7 30.2h0M27.7 29.2h0M28.9 28.3h0M27.4 30.9h0M30 31h0M28.1 29.3h0M28.3 29.5h0M120.1 38.9h0M120.4 37.9h0M121.3 37.3h0M118.7 36.9h0M18.8 16.3h0M19.4 16.9h0M20 16.4h0M19.3 15.6h0M18.1 15.1h0M19 15h0M18.3 15.9h0M22.3 16h0M18.5 16.4h0M73.7 9.7h0M72.7 12.2h0M73.8 10.9h0M73.2 12.2h0M72.9 10h0M73 11.4h0M71.3 10.9h0M13.9 38.3h0M13 35.6h0M11.9 36.9h0M23.8 39.7h0M24.2 38.8h0M24.5 40.4h0M23.1 39.5h0M24 38.9h0M23.4 41.6h0M65.9 9.7h0M64.6 9.5h0M63.2 10.6h0M23.3 26.8h0M21.1 25.5h0M24.7 26.3h0M23.8 24.9h0M25 26h0M46.2 44h0M46.3 44h0M48.6 43.9h0M46.5 44h0M45.4 44.6h0M20.4 24.1h0M21.8 24.8h0M19.6 26.8h0M55.9 10.2h0M54.4 10.2h0M53.1 9.7h0M56.5 10.1h0M55 10.6h0M30.9 48.5h0M29.9 46.9h0M30.2 47.5h0M30.9 48.7h0M28.8 46.4h0M30.6 47.3h0M10.6 30.5h0M13.1 31.2h0M10 30.9h0M9.7 33.2h0M10.1 31.6h0M13.4 31.7h0M71.4 41.5h0M32.3 28.2h0M36.4 27h0M12.5 32.6h0M10.9 36.8h0M14.1 34.4h0M13.6 32.6h0M13.5 35.8h0M13.4 33.5h0M14.5 34.3h0M12.3 35h0M104.5 34.3h0M103.9 32.6h0M105.2 33.4h0M42 43.1h0M42.7 43.4h0M42.9 43.9h0M41.8 43.3h0M43.2 42h0M7.9 33.2h0M28.8 20.5h0M73.7 25.8h0M71.4 25.6h0M69.2 35.9h0M74 33.9h0M68.9 34.3h0M68.7 33.4h0M69.2 33.3h0M52.4 41.5h0M54.9 40.9h0M52.4 39.6h0M73.6 9.6h0M73.4 8.6h0M83.8 50h0M84 48.7h0M82 48.3h0M82.9 47.8h0M80.7 50.5h0M45 20.1h0M44.6 20.6h0M44.9 20.3h0M41.4 18.8h0M17.9 18h0M19.4 18h0M18 17.5h0M15.6 17.7h0M19.6 17.7h0M16.6 18.4h0M18.2 16.2h0M56.4 21.9h0M57.8 21.1h0M106.1 33.7h0M107.5 32.1h0M108.5 33.6h0M106.1 32.2h0M109.3 32.3h0M89.1 24.9h0M91.2 25.5h0M119.9 39.3h0M118 39.9h0M119.2 39.6h0M119.8 40.8h0M120.2 40.2h0M120.4 40.9h0M120.6 40.5h0M118.9 40.9h0M35.4 24h0M35.2 24.8h0M33.7 25.1h0M34.7 26.1h0M35.8 23.2h0M32.6 24.4h0M33.9 24.1h0M34.5 40.5h0M34 41.2h0M35 41.5h0M35.3 40h0M22.5 40.6h0M19.8 40.8h0M119.6 28.5h0M118 30h0M117.9 28.5h0M118.2 29.7h0M120.8 30.4h0M121 29h0M115.8 29h0M117.6 28.1h0M71.2 10.4h0M71.3 9.9h0M71.2 11.4h0M69.9 10.3h0M25.5 30.7h0M28.7 29.9h0M26.3 30.7h0M29.5 30.6h0M97.5 38.8h0M98.6 37.7h0M99.2 38.4h0M97.1 39.3h0M98.9 38.9h0M97.2 38.8h0M98.4 37.7h0M99 36h0M76.7 39h0M76.8 40.9h0M96.8 40.5h0M98.6 40.6h0M95.5 37.9h0M94.3 37h0M97 37.9h0M95.9 38.2h0M43 17.3h0M40.7 18.6h0M39.5 20.6h0M39.2 17.7h0M41.3 18.7h0M41.3 20h0M41.6 18.6h0M41 19.9h0M38.1 19.7h0M37 40.7h0M40.9 42.6h0M40.7 43.2h0M34.2 44h0M34.2 45.3h0M35.9 45.7h0M33.6 44.1h0M35.4 46.1h0M33.7 44.2h0M34.1 45.4h0M88.8 27.3h0M88.4 27.7h0M88.2 27.1h0M88 26.1h0M52.8 24.3h0M54.9 24.8h0M78 25.8h0M78.6 24.1h0M77.6 26.1h0M77.6 25h0M78.5 24.7h0M78 25h0M80.1 25.9h0M78.7 23.7h0M68.5 35.7h0M68.1 39.9h0M69.5 38h0M66.6 39.2h0M67.7 38.7h0M67.5 38.5h0M66.4 38.9h0M6.9 32.3h0M6.4 32.2h0M9.5 32.4h0M6.6 32.6h0M8.2 32h0M7.8 33.1h0M7.7 30.2h0M16.2 31.3h0M18.3 30.3h0M16.6 32h0M20.4 31.3h0M84.2 52.2h0M81.3 52.8h0M82.3 51.2h0M82.9 52.9h0M81.6 53h0M81.7 52.6h0M69.4 26.5h0M67.4 26.7h0M57.4 40.6h0M54.6 41.8h0M15.2 18h0M14.5 18.6h0M15.2 18.4h0M15.8 18.6h0M16.8 18.3h0M78 13.7h0M74.7 14.2h0M73.9 13.4h0M75.3 12.7h0M71.5 13.5h0M71.5 14.9h0M73.1 13.6h0M75.7 14.4h0M87.2 47.5h0M84.9 48.6h0M61.2 34.6h0M59.7 32.2h0M59.4 32.5h0M22 24.6h0M24.7 26.1h0M23 25.5h0M21.5 24.5h0M23.8 24h0M21.7 24.2h0M18.4 25.4h0M23.1 25.6h0M19.8 24.4h0M87.1 37.2h0M83.7 38.4h0M84.9 37.4h0M120.1 46.7h0M119.1 46.7h0M120 45.6h0M117.2 46.6h0M118.3 45.5h0M27.5 24.4h0M28.2 23.1h0M27.5 24.3h0M32.2 22.9h0M8.5 35.9h0M7.2 37h0M68.9 31.6h0M68.9 31.5h0M29.9 28.8h0M31.2 27.1h0M56.3 13.8h0M125 37.8h0M125.6 35h0M124.3 37.9h0M62.9 40.4h0M59.1 40.6h0M59.1 40.6h0M61.6 40.6h0M60.7 40.4h0M89.4 45.6h0M90.5 45.8h0M89.4 44.9h0M87.8 43.5h0M88.3 46.8h0M87.2 45.1h0M89.6 44.9h0M92.8 46.2h0M56.8 11.4h0M54.8 11.3h0M54.3 13.4h0M51.9 10.9h0M25.5 37.4h0M27.4 36h0M25.4 33.6h0M81.7 35.7h0M94.8 48.3h0M94.6 47.8h0M93.6 46.5h0M91.8 48h0M95.7 48h0M93.3 46.8h0M55.9 34.8h0M59.6 33.2h0M58.5 36.2h0M110.1 39.1h0M113.1 36.3h0M109.8 35.8h0M84.5 31.4h0M84.3 33.2h0M84 32.6h0M56.8 40.7h0M55.3 42.2h0M54.4 41h0M52.8 14.6h0M36.9 7.4h0M36.2 7.1h0M34.3 7.7h0M28.1 30.8h0M27.9 28.8h0M26.5 29.7h0M26.1 32h0M25.8 30.1h0M25.9 29.3h0M106.1 45.1h0M107.1 44.7h0M75 21.1h0M82.3 12.1h0M77.2 10.9h0M79.8 11h0M79.9 12.8h0M80.3 11.8h0M78.2 11.2h0M79.8 12.4h0M77.5 10.8h0M110.4 39.1h0M75.6 50.1h0M75.2 49.8h0M76.7 50.9h0M74.4 49.2h0M74.8 48.9h0M89.5 43.5h0M86.8 43.1h0M86.5 43.4h0M89.9 43.8h0M87.3 45.6h0M87.5 43.3h0M88.5 43.8h0M87.1 44h0M89.2 42.5h0M69.5 32.3h0M67.8 33.9h0M68.4 33h0M66.2 35.1h0M66.2 33.6h0M67.9 34.2h0M70.2 18.6h0M69.7 16.4h0M72.7 20.2h0M69.1 17.3h0M72.9 16.7h0M72.1 17.9h0M69.8 17.6h0M72.4 16.9h0M72.1 19.6h0M69.9 20.1h0M68.2 21h0M71 18.6h0M70.5 20.7h0M68.8 21.8h0M72.5 21.5h0M72.8 21h0M73.9 22.3h0M106.8 33.8h0M106.5 33.6h0M107.6 35.2h0M106.5 34.6h0M107.5 33.9h0M108.3 31.8h0M107.2 32.1h0M108.6 34.5h0M109.1 31.9h0M78.3 36.5h0M79.9 35.8h0M80.6 38h0M96.3 17.4h0M96 17.3h0M66.8 8.7h0M67.1 7.7h0M68 7.9h0M66.3 8.2h0M25.3 29.4h0M23.8 29.5h0M22.7 30.3h0M23.5 29.2h0M21.7 30.2h0M25.8 32.7h0M23.7 29.9h0M24.4 50.9h0M28.1 50.8h0M26.5 50.6h0M26.2 50.8h0M25.7 49.1h0M27.2 49.4h0M27.6 49h0M27 48.9h0M26.5 52h0M86 41.5h0M84.8 42.5h0M87.6 41.4h0M83.4 41.1h0M85.3 40.9h0M84.8 42.7h0M85.2 40.5h0M84.7 41.7h0M83.1 41.6h0M18.7 24.6h0M21.9 25.7h0M21.3 26.6h0M18.2 25.7h0M20.4 27.1h0M20.9 25.4h0M20 26.7h0M18.9 26.2h0M46.7 24.8h0M43.3 25.8h0M46.5 25.6h0M43.9 25h0M48.3 26.4h0M47.3 23.2h0M54.9 24.6h0M55.8 25h0M54.2 21.3h0M86 16.5h0M85.4 17.2h0M83.4 16.6h0M83.6 17h0M83.4 16.4h0M84.3 17.1h0M85.2 17.9h0M96.5 45.2h0M98.5 45h0M98.3 45.4h0M97.3 45.2h0M96.9 44.4h0M95.3 44.7h0M95.2 44.9h0M98 43.8h0M97.7 45.1h0M91.6 23.5h0M90.7 22.4h0M91.7 23.1h0M90.8 23h0M92.9 24.4h0M17.2 25.8h0M20.4 25.8h0M14.1 25h0M18.1 25.3h0M18.3 25.4h0M29 17h0M28.9 19h0M25.8 17.5h0M28.1 16.7h0M29 18.9h0M27.9 16.3h0M33.8 13.7h0M30.9 16h0M32.5 14.5h0M30.3 15.2h0M36.3 13.5h0M31.5 16.6h0M73 48.2h0M74.5 48.4h0M73 47.4h0M74.4 45.8h0M31.9 22.7h0M33 24.3h0M33.4 25.2h0M31.4 24.4h0M32.1 23.1h0M32.7 24.8h0M35.3 21.7h0M25.3 17.4h0M28.4 16.6h0M68.3 31.2h0M69 33.5h0M68.7 33h0M65.1 31.4h0M67.9 33.1h0M67.1 33h0M65.9 33.8h0M34.1 40.9h0M87.8 38h0M85.4 37.1h0M84.8 38.1h0M84.1 38.2h0M87.5 39.8h0M72.8 15.9h0M77 13.8h0M73.2 14.1h0M73.4 14.7h0M73.7 15.1h0M49 15.5h0M46.7 16h0M47.3 16.8h0M50.4 16.7h0M45.9 15.6h0M48.3 16.1h0M48.3 16.2h0M48.8 14.2h0M75.1 16.7h0M73.9 15h0M74.9 17.1h0M77.3 16.5h0M75.5 17h0M74.1 16.2h0M73.9 16.9h0M76.1 17.3h0M71.8 16.2h0M14.3 31.3h0M17.6 31.5h0M15.4 31.1h0M128.1 42.3h0M127 40.1h0M27.5 13.4h0M28.9 14.2h0M25.8 13.8h0M26.5 14.5h0M28.2 11.9h0M26.2 14.7h0M29.7 12.1h0M27.5 13.7h0M23.8 14.1h0M96.4 46.6h0M96.8 47.5h0M95.3 47.9h0M94.3 45.2h0M94.5 47.7h0M95 47.6h0M96.2 47.2h0M97 45.7h0M59.9 24.2h0M57.8 26.3h0M56.4 23.6h0M50.2 35h0M50.1 34.7h0M52.7 34.5h0M28.7 43.2h0M28.5 43.9h0M26.5 43.1h0M26.4 43.5h0M28.4 43.6h0M79.2 28.1h0M85.7 28.5h0M83.4 28.9h0M86.2 28.4h0M35.6 24.5h0M33.5 25.1h0M66 9.7h0M66.4 12.6h0M68.7 10.4h0M65.8 8h0M68.4 9.7h0M69.3 9.9h0M65.8 9.7h0M82.7 48h0M81.3 50h0M82.9 47.6h0M84.9 48.4h0M84.1 49h0M81.4 48.6h0M121.6 41.3h0M123 41.2h0M121 40.3h0M124.8 42.9h0M120.4 40.6h0M122.2 41.8h0M46.7 7.3h0M47.6 5.6h0M49.3 6.8h0M36.5 21.7h0M37.8 20.2h0M36.1 22.3h0M37.6 21.2h0M40.7 20.5h0M36.9 21.7h0M64.7 13.7h0M63.8 16.1h0M65 17.4h0M63.3 13.8h0M62.8 13.9h0M64.6 15.2h0M64.4 15.3h0M112.4 34.6h0M110.4 33.9h0M111.5 33h0M113.6 34.3h0M111.2 33.5h0M21.8 47.9h0M70.4 24.2h0M72 21.4h0M81.3 43.9h0M45.4 27.3h0M45.3 26.7h0M47 27.4h0M46.6 26h0M46.8 24.2h0M50.3 25.8h0M46.3 24.9h0M46.5 27.5h0M45.6 26.4h0M20.6 34.4h0M21.1 36.4h0M22.7 36.5h0M22.4 34.4h0M20.4 36.3h0M20.7 34.1h0M87.3 34.5h0M84.6 33.2h0M85.7 31.7h0M84.6 35.4h0M87.1 33.8h0M87.5 34.6h0M85.6 33.9h0M85.8 36.1h0M86.8 34.7h0M17.9 30.7h0M18.4 29.9h0M20.1 29.5h0M37.6 46.4h0M68.3 7.4h0M68.5 11.1h0M68.1 10.1h0M66.2 9h0M115.8 42.2h0M114.8 42.6h0M117.2 43.2h0M115.2 43.5h0M116.2 42.4h0M118.1 43.4h0M115.4 43.3h0M116.8 43.4h0M34.7 49.4h0M30.9 48h0M31.5 48.6h0M29 50.2h0M31.4 47.4h0M31.1 48.1h0M76 24.4h0M74.1 22.6h0M40 42.2h0M40.4 42.5h0M42.5 42.7h0M126.9 41.1h0M129.1 40.6h0M128 39.6h0M128.9 41.3h0M128.2 39h0M127.1 40h0M126.2 38.5h0M65.5 27.5h0M79.2 38.2h0M80.8 36.2h0M79.8 38.6h0M77.8 37.8h0M77.8 38.9h0M59.4 32.3h0M59.4 32.2h0M93.4 21.5h0M96.8 22h0M94 22.7h0M95.3 23.5h0M94.4 22.6h0M94.4 22.9h0M94 22.7h0M92.4 23.8h0M92.9 21.9h0M91 38.3h0M91.3 37.7h0M90.4 37.6h0M88.5 37.7h0M90.2 38h0M89.1 37.9h0M87 37.7h0M90.3 36.8h0M89.7 38.4h0M116.7 29.8h0M117.3 29.7h0M119.8 31h0M96.6 22.4h0M96.5 23.3h0M41.2 42.5h0M39.5 44.5h0M39.8 44.5h0M37.9 44h0M38.5 43h0M39.3 42.9h0M38.9 43.2h0M67.1 31.3h0M67.6 30h0M68.5 29.4h0M82.1 11.8h0M78.8 11.2h0M83.8 11.2h0M85.5 13.1h0M21 42h0M20.4 38.7h0M18.7 42.4h0M19.6 41.6h0M20 42.3h0M20.6 43.2h0M21.8 42h0M20.5 41.2h0M126.4 35.3h0M125.5 36h0M124.6 35.6h0M125.9 35.4h0M87 15.6h0M89.1 13.8h0M86.4 16.1h0M88.3 16.2h0M86.9 15.8h0M47.1 31.4h0M51.3 30.6h0M47.6 33.2h0M47.4 29.3h0M49 30.9h0M46 32.7h0M75 44.6h0M73.8 44.4h0M77.4 42.7h0M72.6 43.9h0M74.9 43.1h0M71.7 45.2h0M75.7 43.1h0M100.7 30.3h0M100.9 32.4h0M91.8 49.1h0M92.9 49.2h0M95.2 48.6h0M89.7 49h0M93 48.5h0M93.1 49.4h0M91.8 48.1h0M51 31.9h0M47.7 32.9h0M50.7 33.4h0M48.9 31.7h0M48.6 32.5h0M49.1 32h0M72.8 41.7h0M70.6 40.7h0M68 41h0M70.8 39.2h0M72.7 39.7h0M71.4 42.4h0M73.2 41.4h0M44.2 8h0M40.9 7.3h0M44.1 6.9h0M105.8 43h0M107.5 42.2h0M105.7 40.3h0M51.5 28.9h0M48.4 27.5h0M49.8 30.7h0M48.2 28.6h0M49 29.3h0M48.9 30.8h0M100.9 41.8h0M99.9 39.6h0M98.6 39.1h0M99.9 40.4h0M114.1 48.3h0M114.9 48.8h0M115.5 49.2h0M112.5 49.5h0M66.4 46h0M63.6 46h0M64.9 44.6h0M8.1 26.2h0M9.7 25.8h0M7.9 27.2h0M11.1 26.9h0M22.3 19.9h0M24.3 20.3h0M19.6 20.1h0M17.8 21.2h0M58 13.6h0M59.8 15.9h0M58.9 13.9h0M58.9 15.3h0M59.8 14.1h0M86 20.5h0M85.9 18.9h0M83.9 20.5h0M82 21.1h0M82.9 18.8h0M32.9 27.6h0M32 29.6h0M65.9 31.7h0M33.8 36.3h0M34.2 34.8h0M83.3 28.6h0M83.6 27.5h0M41.6 28.6h0M43.2 28h0M43.5 26.9h0M42.4 26.8h0M42.2 26.9h0M40.8 27.7h0M42.1 27.5h0M42.2 27.1h0M41.9 27.2h0M70.9 38.4h0M69.7 37.7h0M80.7 33.9h0M12.8 24.7h0M11.6 24.7h0M10.4 26h0M14.3 25.4h0M11.5 23.6h0M12.8 24.8h0M89.5 43.5h0M91 43.7h0M89 43.7h0M93 43.2h0M90.9 45h0M89.6 43.5h0M95.1 45.2h0M61.6 9.7h0M62.5 11.5h0M63.6 9.8h0M99.4 31h0M100.9 31.8h0M10.7 33h0M7.5 33.4h0M6.4 31.6h0M8 35.7h0M7.8 34.6h0M6.2 32.7h0M81.3 51.9h0M83.5 53.2h0M82.9 54.4h0M82.2 52.2h0M81.1 51.4h0M80.3 53.2h0M41.7 17h0M44.2 15.3h0M43.2 14.2h0M42.2 15.8h0M40.3 15.5h0M43.4 16.2h0M43.1 14.3h0M44.6 16.7h0M25.1 40.8h0M25 42.3h0M27.4 41.5h0M23.8 41.4h0M25.5 41.2h0M25.1 39h0M106.8 33.2h0M110.3 32.2h0M110.9 34.4h0M110.4 32.6h0M107.2 34.1h0M109.6 34.1h0M107.2 30.6h0M19.7 37.3h0M17.5 38.2h0M19.1 38.2h0M19.9 38.7h0M21.1 38.5h0M18 38.1h0M19.2 40.4h0M20.9 38.8h0M19 40h0M79.7 50.7h0M78.9 51.9h0M82.4 51.8h0M81.4 52.9h0M79 47.4h0M93 24.9h0M92.7 24.6h0M92.3 26.4h0M94.2 24.4h0M93.9 25.4h0M92.4 24.7h0M93.5 24h0M92 24.4h0M90.9 14.7h0M89.5 17.3h0M89.6 14.9h0M44.6 24.8h0M44.1 24h0M47.3 23.1h0M45.2 22.8h0M104.3 46.4h0M104.7 46.2h0M104.7 46.9h0M101.2 45.7h0M12.5 14.5h0M14 14.7h0M12.6 13.5h0M13.4 13.7h0M14.3 13.4h0M15.5 14h0M87.9 25.8h0M89.2 28h0M88 26.5h0M89.3 27.5h0M90 27.2h0M87.4 27.1h0M88.4 25h0M90.3 27.1h0M33.5 21.7h0M33.8 23.5h0M31.2 21.9h0M32.8 21.5h0M115.5 36.9h0M110.2 38.9h0M62.5 10.4h0M86.2 35.3h0M87.8 34.8h0M88.2 35.7h0M84.3 34.8h0M87 35.3h0M89.4 34.2h0M87.8 33.4h0M87.2 34.1h0M87.5 35.4h0M87.7 34.8h0M88.9 36h0M92.2 36.1h0M90.5 36.8h0M90.3 35.7h0M90.9 35.5h0M91 37.1h0M92.4 35.9h0M91.9 34.3h0M52.9 12.2h0M50.8 13.2h0M89.6 13.2h0M87.8 20.7h0M90.6 20h0M90.8 18.1h0M89.4 16.6h0M87.3 18.4h0M104.3 33.8h0M101.1 34.9h0M104.2 35h0M105.4 33.1h0M58.9 12.9h0M61.8 13.4h0M63.4 12.5h0M61.4 13.7h0M88.1 35.6h0M84.1 35.4h0M88.2 34.9h0M71.3 42.1h0M73.5 42h0M70.2 42.2h0M72.3 42.7h0M116.7 37.3h0M118.6 35.5h0M115.6 36.6h0M115.4 35.5h0M118.9 37.1h0M115.7 34.5h0M115.2 35.3h0M119.6 38h0M31.9 39.8h0M34.4 38.8h0M31.5 40.1h0M31.9 40.2h0M33.6 40.5h0M34.5 42.6h0M33.6 39.9h0M34.6 41.2h0M53.7 35.4h0M53.7 34.9h0M54.4 36h0M51 34.9h0M53.3 34.7h0M44.4 36.7h0M31.3 35.4h0M28.8 33.5h0M29.5 34.9h0M26.9 33.9h0M27.3 34.5h0M31.7 34.5h0M29.5 34.6h0M27.5 34.6h0M27.1 34.4h0M41.7 22.4h0M38 24h0M39.5 22h0M64.2 8.7h0M63.4 7.7h0M63.9 8h0M84 37.3h0M80.7 38.7h0M81.6 38h0M81.6 39.6h0M84.1 37.8h0M83.2 40.8h0M82.5 37.6h0M52.1 7.6h0M50.6 5.4h0M53.5 6h0M6.8 31.5h0M9.8 30h0M122 30.5h0M38.7 37.7h0M42.1 36.4h0M42.2 39h0M45.2 38.6h0M22.2 20.7h0M22.7 21.3h0M21.9 21.3h0M21.6 19.2h0M23.5 20.7h0M24.1 18.8h0M22.9 20h0M22.5 20.2h0M22.2 20h0M110.9 47.4h0M108 48.1h0M109.9 46.5h0M109.1 48h0M108.3 46.5h0M112.1 48.1h0M109 46.3h0M108.7 48.3h0M69 46.8h0M67.2 41.8h0M69.8 42.7h0M67.9 43.7h0M67.4 44.2h0M69 44.7h0M68.6 44.2h0M65.6 45.2h0M69.3 44.3h0M56.3 44.3h0M54.3 40.6h0M58.5 42.7h0M16.7 44.8h0M19.4 45h0M17.7 45h0M16.6 44h0M81.4 23.6h0M83.7 24.8h0M106.8 38.9h0M108.1 38.5h0M108.3 39.1h0M106.9 39.3h0M107.5 40.6h0M105.8 38.7h0M35 41h0M35 41.4h0M34.5 41.4h0M34.7 40.6h0M34.5 39.4h0M36.3 39.8h0M34.7 41.7h0M98.1 21.7h0M96.6 20.6h0M96.8 23.3h0M98.9 21.3h0M85.2 26.2h0M85 27.1h0M84.3 27.2h0M86.4 27.4h0M86.4 27.4h0M45.5 24.4h0M48 27.6h0M48.2 24.3h0M47.4 23.3h0M46.3 25.2h0M45.8 24.4h0M97.8 33.8h0M100.7 34.4h0M100.6 34.7h0M100.2 34.5h0M70.5 24.5h0M71.9 25.1h0M69.9 25.5h0M70.6 24.1h0M70.4 24.1h0M70.2 25h0M69.8 27.5h0M52.2 20.6h0M55.8 19.3h0M44.5 30.8h0M44.1 30.9h0M43.6 30.7h0M45.7 30.7h0M43.3 30.8h0M44.6 30.8h0M44.1 31.6h0M44.4 29.9h0M45.3 30.2h0M22.4 27.1h0M22.2 27h0M21 18.1h0M19.9 18h0M17.7 18.2h0M21.1 18.7h0M19.9 18.1h0M20.5 18.5h0M18 19.4h0M23.4 17.8h0M69.4 37.4h0M75 39.8h0M19.4 23.2h0M16.8 25.5h0M18.4 25.4h0M50.4 42.7h0M51.5 42.8h0M52.9 44h0M51.4 43.5h0M49.9 43.7h0M95 17.5h0M96.8 19.7h0M96.3 17.6h0M92.9 19.1h0M38 28h0M41.4 27h0M36.3 28.1h0M38.4 26.2h0M39.5 27.1h0M36.7 24.7h0M36.6 27.5h0M55.2 35.8h0M73.4 23.1h0M70.9 24.9h0M73.2 24.6h0M71.8 25.3h0M47.5 22.7h0M49.6 24h0M27.9 23.9h0M31 22.5h0M28.4 24.7h0M27.2 21h0M86.4 33.3h0M82.5 33h0M86.3 34.5h0M15.7 20.7h0M18 21.3h0M17.5 23.8h0M16.7 21.5h0M21.4 20.5h0M16 21.9h0M16.4 23.7h0M16.8 21.6h0M46.8 22.6h0M47 21.5h0M43.8 22h0M44.9 24.7h0M46.8 36.4h0M48.9 36h0M47.5 36.8h0M49.7 35.4h0M48.5 35h0M80.3 35h0M79.5 37.9h0M76.9 37.2h0M54.8 19.4h0M95 17.4h0M93.4 17.8h0M96 17.3h0M91.8 17.8h0M94.4 18.3h0M94.8 18.8h0M92.8 17.7h0M93.2 16.2h0M17.5 33.9h0M16.5 32.7h0M18.3 34.4h0M14.6 33h0M18 34h0M15.3 34.3h0M16.7 34.3h0M45.5 43.2h0M47.5 44.4h0M48.6 43h0M46.2 44.1h0M44.6 43.6h0M45.9 43.8h0M49.2 43.5h0M50.2 42.8h0M51.3 38.9h0M53.8 39.2h0M78.1 30.7h0M80.2 30.5h0M77.3 31.4h0M77.7 30.7h0M77.4 31.4h0M79 29.8h0M78.7 30.3h0M80.8 27.7h0M80.8 30.6h0M65.7 37h0M69 34.1h0M29.2 17.6h0M25.1 16.8h0M25.9 15.3h0M25.8 17.4h0M104 29h0M103.7 28.8h0M103.6 28h0M103.9 27.1h0M109.7 40.4h0M75.5 9.2h0M71.7 11.3h0M72.4 9.5h0M72.2 8.3h0M73.4 7.9h0M72.6 10.3h0M36.1 17.1h0M36.2 17.9h0M50.2 31.4h0M51.1 31.2h0M42.2 26h0M40.4 26.3h0M38.4 25.6h0M38.9 26.9h0M41.9 23.9h0M41.1 23.7h0M42.6 26.2h0M41.5 23.1h0M11.4 19.4h0M12.4 19.5h0M12.1 18.8h0M13 17.5h0M11.3 18.8h0M15.2 16.9h0M19.6 30.3h0M20.9 30.1h0M20 31.4h0M51.2 11.9h0M45.9 12h0M49.8 10.7h0M45.3 11.6h0M58.3 11.8h0M57.7 9.8h0M59.7 10.9h0M62.2 11.8h0M26.1 30.9h0M27 29.6h0M25 33.1h0M24 31.1h0M27.6 31.5h0M26.6 29.5h0M25.8 29.6h0M29.4 31.4h0M27.6 31.2h0M41.7 29.2h0M42.9 27.9h0M112.3 47.9h0M112.3 48.2h0M109.3 48.4h0M109.7 48.5h0M113 46.6h0M113.1 48.6h0M111.1 47.3h0M54.5 41.8h0M56 41.6h0M55.4 40.3h0M48.4 32.5h0M45.1 30.4h0M48.6 31.5h0M48.2 31.1h0M47.7 30.9h0M48.4 31.6h0M48.8 32h0M53.9 21.2h0M9.7 28.2h0M20.3 16.5h0M17.4 15.1h0M15.2 13.1h0M19 15.4h0M52 8h0M51.3 7h0M48.7 9.8h0M54 6.6h0M53.4 7.9h0M53.2 8.8h0M36.6 10.6h0M37.3 10.3h0M33.1 8.9h0M33 9.8h0M32.5 11h0M98.3 25.4h0M100 28h0M98.6 25.1h0M76.4 45.5h0M76.7 45.9h0M76.5 44.6h0M79.1 47.3h0M76.4 44.8h0M78.5 43.8h0M83.8 53.2h0M81.5 54h0M81.6 53.8h0M80.6 53.1h0M81.2 51.9h0M100.9 25.9h0M100.7 27.3h0M98.1 28h0M99.2 25.8h0M100.2 24.8h0M100.8 27.7h0M100.5 28.4h0M100.6 28h0M100.7 29.4h0M114 36.3h0M114.1 36.1h0M113.5 36.4h0M115.3 37.8h0M33.5 42.6h0M35 44.9h0M34.5 43.3h0M71.4 29.9h0M73 30.6h0M73.1 29.3h0M69.4 44.6h0M68.1 45.8h0M68 45.2h0M77.5 24.1h0M40.4 6.7h0M42.8 6.6h0M42.8 6.5h0M41.3 6.2h0M40.8 21.4h0M42.1 19.8h0M41.1 21.2h0M40.6 23.2h0M79.4 34.9h0M78.6 32.7h0M82.7 34.7h0M78.3 33.6h0M80.8 35.2h0M79.8 32.6h0M81 32.5h0M76.8 20.3h0M78.2 22.3h0M81.3 22.2h0M75.9 22.5h0M80 22h0M79.5 23.4h0M79.6 22.2h0M80 22.5h0M60.6 15h0M60 13.7h0M58.8 16.2h0M59 12.6h0M28.9 33.7h0M32 32h0M31.1 31.8h0M29.5 32.7h0M28.2 30.9h0M93.8 16.5h0M93.3 17.7h0M95.6 17.3h0M92.6 16.3h0M94.4 17.3h0M93.6 16.7h0M45.2 43.2h0M41.8 23.4h0M41.7 23h0M38.7 21.6h0M39.1 23.2h0M41.2 21.8h0M39.1 23.5h0M40.8 23.4h0M38.6 21.8h0M28.9 14.7h0M28 14.9h0M27.9 15.6h0M30.2 13.3h0M29.4 15.2h0M30.8 15.8h0M29.7 14.9h0M29.9 15.5h0M29.2 14.9h0M47.4 43.8h0M51.6 41.4h0M30.1 39.2h0M36.6 41.7h0M33 41.4h0M35 40.2h0M33.9 41.4h0M35.1 40.8h0M36.4 40.3h0M87.5 26.8h0M86.1 25.4h0M87.8 26.2h0M88.2 27.6h0M87.3 27.1h0M87.7 26.8h0M86.7 26.8h0M85.9 75.3h0M34.1 71.9h0M36.1 4.6h0M66.2 52.4h0M46.4 78h0M23.2 52.8h0M26.6 6.9h0M99.1 19.7h0M83.1 9h0M22.1 54.8h0M16 49h0M9.6 11.6h0M94.3 11.4h0M6.1 37h0M99 14.3h0M74.8 6.9h0M87 67.2h0M108.2 48.7h0M79.2 7h0M102.3 47.2h0M70.5 79.5h0M84.6 73.1h0M8.2 42.7h0M127.2 32.2h0M9.6 18.3h0M35.7 59.3h0M101.9 15.2h0M102.8 51.3h0M56.2 6.3h0M65.6 4.3h0M95.1 49.1h0M26.9 55.2h0M5 33.2h0M65.5 47.4h0M75.2 52.9h0M38.9 52.1h0M48.7 77.4h0M14.3 8.8h0M48 47.3h0M32.2 57.2h0M100.3 14.9h0M43.3 46.9h0M114.3 23.4h0M18.2 53.5h0M45.5 45.3h0"/>
<path id="lo" d="M66.4 69.3h0M69.4 69.8h0M71 68.3h0M69.3 68.6h0M68.3 69.8h0M67.4 67.5h0M61.5 69.1h0M62.3 70.8h0M59.7 57h0M58.8 56.6h0M62.3 58.9h0M59.7 57.6h0M58.5 56.8h0M61.4 57.6h0M60.7 57h0M55.9 54.3h0M56.8 55.1h0M56.8 54.6h0M51.3 58.6h0M49.6 58.5h0M48.5 59.2h0M49.3 59.1h0M51.2 56.6h0M62.5 66.2h0M64.3 65.9h0M65.3 70.9h0M63.3 72.6h0M61 73h0M66.4 70h0M65.2 71.7h0M65.8 71.4h0M64.4 73h0M63.7 72.1h0M65.4 71.6h0M36.9 62.6h0M39.5 64h0M42.2 62.7h0M41.3 62.1h0M41.8 63.5h0M41.5 61.2h0M37.3 61.8h0M39.7 59.5h0M45 69.4h0M44.4 67.6h0M42.9 67.6h0M54.4 67.6h0M55.8 65.3h0M57.2 64.6h0M54.9 64.5h0M53 65.6h0M53.1 66h0M52.8 67.4h0M52 64.4h0M77 65.7h0M78.2 66.8h0M74 69.9h0M76.3 68.2h0M76.7 66.9h0M76.8 67.6h0M78.5 75.3h0M77.7 75.4h0M77.6 73.2h0M79.5 74.1h0M78.8 74.9h0M55.4 60h0M54 62h0M55.5 60.5h0M54.5 59.9h0M57.2 60.4h0M59.6 56.6h0M57.9 56.7h0M58.6 57.1h0M55.7 57.4h0M59.8 64.7h0M63.2 65.6h0M59.8 66.8h0M62.7 65.8h0M62.6 65.8h0M75.4 75.1h0M75.8 76.1h0M74.9 75.7h0M75 74.5h0M77 75.1h0M76.7 74.9h0M75.6 74.8h0M71 59h0M54.6 60.5h0M54.9 61.2h0M51.5 61.9h0M53.4 61.7h0M52.8 62.3h0M54.1 60.5h0M50.6 60.8h0M52.9 59.9h0M46.2 69.7h0M50.9 69.8h0M47.8 71.4h0M48.3 69.1h0M51 68.8h0M69.6 62.6h0M70.1 59.7h0M66.7 62.5h0M42.5 60.8h0M44.5 61.6h0M43.1 62.6h0M41.8 62h0M43.3 61.1h0M57.1 69.7h0M46.4 63.8h0M48.1 65.7h0M75.4 63.8h0M75 65.7h0M75.5 65.5h0M67.1 71.7h0M68.2 70.8h0M66.6 71.9h0M67.6 72.1h0M70 71.7h0M67.2 72.8h0M67.6 71.1h0M66 72.8h0M53.4 57.5h0M72.2 64h0M73.4 59.9h0M76.6 68.6h0M79.5 67.6h0M78.5 67.8h0M78 67.6h0M78.1 68.5h0M80.5 66.6h0M72.3 66.9h0M74 66.8h0M80.1 69.6h0M79 69.6h0M77.4 68.1h0M78.1 70.1h0M78.3 70.3h0M77.4 69.3h0M78.7 69.5h0M78.8 71h0M77.9 69.7h0M54.8 59.8h0M68.4 63.1h0M41.8 65h0M39.9 64.2h0M38.2 65.4h0M38.1 64h0M49.3 53.8h0M46.7 54.7h0M47.5 53.1h0M50.4 53.8h0M48.7 54.2h0M51 53.1h0M50.9 52.9h0M52.9 71.8h0M51.7 70.6h0M53 72.1h0M54.1 69.3h0M52.3 71.4h0M71.1 63.7h0M75.4 64.3h0M72 63.7h0M74.6 65.1h0M47.3 71h0M45.6 71.4h0M46.3 71.9h0M47.8 70.3h0M62.1 52.7h0M62.9 54h0M64.2 53.6h0M63.9 54.9h0M60.5 53.8h0M61.2 53.7h0M44.4 71h0M42.6 69.8h0M43 70.3h0M42 69.5h0M43 71h0M40.6 68.7h0M53.6 62.4h0M54.3 62.7h0M56.8 62.7h0M54.7 63.8h0M56.5 61.8h0M54.8 61.5h0M55.1 64.1h0M53.6 62.5h0M41.4 67.1h0M40 65.3h0M38.5 64.2h0M40.2 66.1h0M41.1 67.1h0M38.9 65.1h0M38 64.8h0M62 62.2h0M62.7 62.9h0M61.4 61.1h0M63.5 63.8h0M62.5 62.9h0M63.6 62.6h0M63.2 62h0M62.9 63.7h0M63.9 63.8h0M60.1 56.3h0M59.2 55.2h0M58.4 56.5h0M58.3 57.6h0M59.5 56.7h0M59.1 56.2h0M57.8 56.3h0M57.3 56.4h0M49.8 62.8h0M48.5 63.7h0M47.2 63.5h0M48 63.6h0M50.2 63.4h0M67.1 60.3h0M69.5 60.6h0M67.6 63h0M70.9 61.2h0M71.9 60.8h0M69.1 60.7h0M69.4 62.4h0M68.9 60.6h0M69.7 62.2h0M45 66.1h0M42.4 53.5h0M44.9 54.8h0M42.4 55h0M46.1 55.3h0M41.6 56.4h0M43 56.1h0M58.5 59.2h0M60.3 59.3h0M57 59.3h0M56.7 59.1h0M45.4 64.3h0M46 65.9h0M46.9 66.5h0M47.2 64.5h0M45.5 65.7h0M45.6 63.9h0M48.2 67.7h0M45.9 61.4h0M43.5 60.9h0M42.5 58.9h0M46.2 60.6h0M42 61.3h0M45.4 61.2h0M43.9 59.6h0M44.4 58.8h0M43.9 61.2h0M77.5 73.2h0M78 73.5h0M77.1 73.6h0M77.8 74.2h0M78.6 73.1h0M78.9 73.7h0M56.7 62.9h0M57 63.6h0M56.6 64h0M56.7 63.3h0M57.5 63.8h0M50.8 72h0M50.1 70.6h0M47.3 70.3h0M49.9 72.9h0M53.9 70.5h0M49.9 71.3h0M52.8 71.4h0M50.9 71.6h0M49.7 71.2h0M77.6 66.3h0M77.3 66.5h0M79.6 66.2h0M79.6 66.5h0M77.3 67.2h0M77.3 66.9h0M79.3 65.8h0M60.4 57.2h0M62.1 57.9h0M59.1 57.8h0M60.5 58.2h0M64 58.5h0M62.8 57.8h0M61.4 58.4h0M54.7 57.9h0M52.1 58.1h0M50.3 58.2h0M54.9 58.3h0M55.4 56.8h0M50.6 59.6h0M66.9 60.4h0M63 62.2h0M63.2 62.6h0M66.7 62.4h0M63.9 61.1h0M64.4 62.7h0M64 60.2h0M63.8 60.1h0M64.9 75.5h0M66.8 76h0M67.8 77.2h0M66.6 74.6h0M64 77.2h0M66.1 77h0M71.6 60.5h0M69.3 62.1h0M68.6 60.8h0M67.5 60.8h0M71.8 59.2h0M70.2 59.3h0M70 62.7h0M60.8 63.6h0M59.7 61.2h0M60.6 61.3h0M59.7 62.3h0M62.5 63h0M63.4 63h0M61.3 61.2h0M60.7 66.2h0M48.2 75h0M45.4 73h0M45.1 72.8h0M44.9 71.9h0M78.2 69.4h0M80.8 69.4h0M77.6 71h0M67.4 65.6h0M66.7 67.5h0M66 67.4h0M69 67.3h0M63.9 66h0M65.7 66.3h0M64.7 64.7h0M45.3 53.3h0M45.9 54.6h0M43.5 54.3h0M54.1 65.6h0M52.2 66.1h0M52 64.6h0M56.2 64.6h0M52.4 64.4h0M52.8 66h0M52.6 66.2h0M50.9 63.8h0M42.5 57h0M40.9 58.9h0M40 57.1h0M41.7 57h0M39.5 63.9h0M39.8 61.8h0M37.7 64.7h0M43.1 65.5h0M38.5 64.4h0M40.4 63.6h0M38.2 62.8h0M40.6 62.5h0M38.3 63.1h0M43.3 58.6h0M44.4 56.7h0M43.8 58.3h0M44.7 58.2h0M43.7 58.2h0M41.4 57.7h0M42.5 56.9h0M42.7 57.7h0M75.2 74.1h0M77.9 74.2h0M74.3 74.2h0M75.4 72.7h0M76.5 72h0M75.7 73.4h0M78.3 73.7h0M70 74h0M45.9 60.4h0M39.6 60.5h0M67.1 55.4h0M67.2 62.9h0M67.2 64.5h0M66.1 62.2h0M63.4 62.8h0M68.3 62.8h0M68 62.7h0M67.9 62.7h0M65.6 63.4h0M68.6 63h0M62.4 73.4h0M57.9 74.6h0M62.7 72.4h0M60.2 72h0M61.8 72.3h0M60.6 72.6h0M61.4 74h0M60.2 73.7h0M60.9 73h0M52.2 67.1h0M53.5 68.9h0M52.2 67.8h0M50.4 68.6h0M51.7 70.1h0M50.3 69.4h0M51.6 68.1h0M51.4 65.3h0M52.9 64.9h0M51.7 66.6h0M54 67h0M53.4 64.4h0M53.9 65.1h0M63.2 67.6h0M67.7 69.6h0M38.6 66.6h0M38.5 66.8h0M69.8 69.5h0M70.8 70.3h0M45 53.6h0M43.6 52.9h0M43.8 53.3h0M57.1 63.8h0M53.9 61.1h0M55.2 62.8h0M55 63.2h0M52.1 60.2h0M54.9 63.2h0M55.4 64.3h0M57.2 62.8h0M55.8 61.6h0M80.4 66.2h0M75 67.9h0M78.5 68.4h0M78.1 66.9h0M78.3 68.9h0M79.8 69.2h0M65.6 60.5h0M66.6 60.4h0M66 58h0M67.6 61.4h0M64.9 59.6h0M67 59.6h0M66.8 59.5h0M67.1 59.3h0M65.4 77.4h0M65 76.6h0M64.4 76.9h0M59.1 61.8h0M56.5 60.8h0M53.3 58.6h0M54 58.7h0M55.8 59.4h0M56.5 60.5h0M55.5 60.3h0M57.4 59.3h0M67.4 62.7h0M47.8 67h0M48.7 66.3h0M48.2 67.8h0M48.1 68.4h0M48.6 66.2h0M49.2 66.5h0M75.8 68.6h0M78.7 68.1h0M81.3 70.8h0M79.9 67.4h0M81 68.8h0M58 52.7h0M57.6 53.2h0M53 53.8h0M53.7 53.3h0M56.2 52.3h0M56.3 52.5h0M57.4 52.9h0M56.5 78.3h0M57 76.3h0M55.6 77h0M57.7 77.1h0M56.7 77.6h0M58.6 76.4h0M57.5 76.6h0M56.5 76.8h0M58.4 77h0M71.3 68h0M67.8 67.8h0M68.1 67h0M69.5 67.8h0M70.1 67.8h0M60 67.8h0M60.5 70.3h0M63.4 69.3h0M61.9 70.6h0M61.8 69h0M55.4 69.6h0M61.9 70.2h0M62.6 72.2h0M59.5 69.7h0M61.2 78.8h0M61.2 78.1h0M59.7 78.6h0M69.4 59.2h0M53.5 61h0M54.9 60.4h0M52.1 61.2h0M53.1 61.4h0M53.1 60.7h0M53.4 60.4h0M52.4 62.4h0M56.5 53.4h0M62.6 53.2h0M61.5 54.1h0M60 54h0M76.4 70.1h0M76.2 70.3h0M73.4 70.9h0M71.9 68.5h0M77.9 69.6h0M72 71.1h0M62.6 78h0M60.8 75.8h0M61.3 77.5h0M63.9 75.1h0M63.5 76.8h0M59.9 74.7h0M59.4 53.5h0M61.6 53.2h0M48.2 70.1h0M48.6 70.4h0M50.2 70.7h0M73.9 66.1h0M79.2 66h0M77.7 68.1h0M76.6 66.6h0M79.8 67.7h0M76.8 67.2h0M45 62.5h0M48 60.8h0M49.3 64.8h0M51.7 63h0M50.5 63.6h0M50.3 64.8h0M51.6 63.1h0M75.2 69h0M73.1 69.8h0M45 53.3h0M47.7 52h0M46 51.7h0M64.8 70.7h0M63.3 71.8h0M68.4 73h0M66.2 72.1h0M66.3 72.5h0M65.3 71.8h0M67.7 70h0M58 73.7h0M56.9 72.3h0M59.9 77.4h0M59.3 77.5h0M58.4 77.8h0M60.5 77.9h0M58.1 77.6h0M57.6 77.2h0M53 65.8h0M52.7 60.9h0M50.9 64.3h0M51.6 63.4h0M52.1 65h0M52.7 63.3h0M51.9 64h0M48.7 66.8h0M51.5 65.5h0M52.7 66.2h0M54 64.2h0M51.3 63.2h0M54.1 66.2h0M41.8 59.1h0M44.8 60.3h0M42.4 58.2h0M43.6 59.9h0M45.6 59.9h0M40.9 59h0M50 74.7h0M47.4 73.9h0M41.3 68.3h0M43.2 68.6h0M62.1 74.4h0M56.8 58.9h0M60.4 61.5h0M53.7 58.9h0M59.7 60.7h0M60.5 57.7h0M60.6 58.1h0M56.7 59.5h0M56.4 59.8h0M70.3 78.8h0M69.2 78.3h0M59.8 70.8h0M59.1 74.4h0M59.9 54.8h0M58.8 54h0M57.9 54.6h0M58.8 55.6h0M62 54.8h0M60.8 56.8h0M61.2 54.1h0M59.2 55.2h0M57.4 56.2h0M52.4 74.2h0M49.9 74.1h0M53.2 74.7h0M50.7 74.4h0M51.7 75.1h0M57.1 73.2h0M53.7 74.3h0M52.3 75.1h0M54.5 73.6h0M47.4 60.9h0M49.3 67.9h0M49.5 74.1h0M51.6 72.7h0M52.6 72.6h0M49.3 73h0M52.4 71.4h0M51.7 74h0M46 58h0M47 56.2h0M47.9 57.8h0M47.6 57.2h0M49.4 56.8h0M47.3 56.4h0M49.8 56.3h0M49.5 72.6h0M48.1 74.5h0M51.2 73.1h0M47.4 73.6h0M48.6 73.1h0M49 72.6h0M61.5 64.2h0M60.6 63.3h0M59.6 63.2h0M59 64.3h0M61.4 63.2h0M61 62.8h0M59.5 53.6h0M57.2 55.2h0M58.6 57h0M60.2 53.4h0M58.6 53.7h0M58.3 54.1h0M58.7 54.5h0M72.3 67.9h0M76.3 67.5h0M74 65.7h0M76.5 66.7h0M55.3 53.1h0M53.1 52.1h0M55.7 53.4h0M82.4 72.9h0M79.1 72.7h0M79.3 72.2h0M77.7 72.3h0M56.7 77.9h0M57.7 77.4h0M57.5 77.7h0M57.6 78.1h0M56.7 76.4h0M55.7 77.2h0M58.9 78h0M57.5 77.8h0M46.8 57.4h0M50.4 58.6h0M47 57.2h0M45.7 55.7h0M76 68.3h0M75 67.1h0M74.4 68.2h0M76.2 69.1h0M74.7 70h0M74 69.6h0M74.6 69.3h0M74.5 70.3h0M74.3 70.9h0M78.1 65.2h0M61.9 76.9h0M58.5 78.3h0M59.2 76.1h0M58.3 78.2h0M58.5 75.6h0M59.8 77h0M58.1 77.5h0M65.6 75.9h0M42.3 66.3h0M39.7 67.2h0M43.3 66.8h0M37.9 65.2h0M39.4 68.2h0M58.7 52.9h0M54.3 62.5h0M54.1 60.2h0M52.4 61h0M55.3 69.5h0M43.8 70h0M44.3 69.3h0M44.9 70h0M47.4 70h0M46.5 70.2h0M48 68.2h0M45.9 68.4h0M45.6 68.9h0M45.7 69.8h0M48.3 65h0M46.1 63.7h0M45.4 64.2h0M47.3 65.6h0M45.6 63.7h0M67 60.6h0M67 59.9h0M68.4 58.6h0M60.8 63.5h0M70.6 75.1h0M69 74.8h0M68.1 72.1h0M70.2 73.6h0M69.9 72.4h0M68.7 74.4h0M71.6 73.7h0M52.5 70.8h0M51.7 70.1h0M51.4 70.7h0M53.1 69.9h0M50 71.1h0M52.6 70.3h0M50.7 69.3h0M49.3 71.8h0M69.4 57.4h0M67.5 58.6h0M67.9 57.1h0M68.9 57.4h0M69.4 58.8h0M67.3 56.4h0M68.9 57.9h0M62.1 77.9h0M59.5 78.8h0M64.4 56.2h0M63.6 54.2h0M64 54.9h0M63.4 55.6h0M64.1 55.5h0M61.6 55.8h0M62.3 55.8h0M63.4 53.7h0M63.5 54.6h0M47.3 72.2h0M48.8 70.1h0M48 70.3h0M50.2 66.1h0M47.3 66.6h0M51.1 65.4h0M51.7 67.1h0M48.5 66h0M50.7 66.6h0M59.7 55.7h0M62.1 57.4h0M61 58.2h0M59.6 57.8h0M60.8 55.7h0M61.3 53.8h0M60.5 57.9h0M58.2 56.1h0M58.3 54.9h0M63.6 63.7h0M47 52.4h0M44.6 52.4h0M43.7 51.2h0M47 53.7h0M46.9 53.8h0M47.1 53.3h0M46.1 53.3h0M45.3 51.2h0M43.4 65.2h0M46.6 66.1h0M44.3 63.7h0M46.9 64.1h0M46.1 61.7h0M48.9 62.5h0M57.4 72.4h0M57 73.9h0M55.1 72.2h0M52.3 71.9h0M54.7 74.5h0M44.4 59.4h0M45.3 60.1h0M44.5 59.9h0M45.4 61.1h0M43.3 61h0M46.1 60.8h0M44 60.2h0M51.6 74.5h0M50.9 73.1h0M50.5 74.2h0M49.6 74.8h0M48.1 74h0M50 74.9h0M48.9 72.9h0M50.7 75h0M52.4 75.1h0M67.9 59.6h0M68.5 60.1h0M70 59.3h0M70.8 59.1h0M67.1 61.5h0M49.8 53.1h0M50.2 52.2h0M51 53.3h0M49.9 53h0M49.4 53.5h0M51.6 53.8h0M49.9 52.4h0M61.6 72.3h0M61.6 71.2h0M48.1 51.1h0M47.4 50.9h0M50.8 51.4h0M51.2 51.4h0M64.2 67.6h0M66.2 67.2h0M63.5 66.5h0M64.1 67.2h0M64 66.6h0M64.7 68h0M66.3 66.3h0M70 58.5h0M64.6 60.1h0M66 58h0M67.1 59.2h0M66.7 58.8h0M66.7 57.2h0M67.5 59.3h0M65.3 56.6h0M55.5 55.4h0M65.8 77.8h0M46.7 61.6h0M71.3 59.8h0M70.6 58.7h0M73.9 61.2h0M71.6 59.2h0M71.7 61.4h0M73.9 60.8h0M76.7 67h0M76.9 67.3h0M76.2 65.7h0M77.3 63.7h0M75.7 67.6h0M75.3 67.9h0M78.8 65.5h0M56.1 61.5h0M55.3 61.1h0M56.7 62h0M57 59.5h0M54.4 61.4h0M49.6 61.1h0M47.4 60.9h0M45.8 60h0M51.4 63h0M48 62h0M49.3 61.9h0M47.7 61h0M50.2 61.1h0M49.4 63h0M46.1 72.1h0M72.5 71.8h0M74.4 71.4h0M75.1 70.4h0M72.7 70.5h0M75.1 69.1h0M75.5 69.8h0M72.6 70.7h0M72.7 70.3h0M60 62.3h0M60.3 62.8h0M59.3 60.4h0M60.3 60.7h0M59.2 61.4h0M62.9 61.7h0M59.4 63.4h0M59.5 63.3h0M56.4 67h0M56.6 66.5h0M59.5 68.1h0M59.6 68.4h0M60.3 68.3h0M58.9 69.4h0M59.3 73.9h0M58.7 75.5h0M58.7 74.9h0M57.1 73.4h0M58 74.4h0M60.8 74h0M56.7 73.3h0M54 74.7h0M67.3 71h0M65.9 69.5h0M65.4 69.1h0M68.5 69.3h0M65.5 70.5h0M67.4 69.9h0M70.1 70.2h0M80.2 71.2h0M79.2 72h0M74.2 73.1h0M76.6 72h0M80 72h0M65.1 69.5h0M66.3 67.2h0M65.6 67.1h0M66.8 67.2h0M70.4 61.4h0M70.5 62h0M69.2 63.9h0M70.9 64.7h0M80.2 72.3h0M77.3 73.2h0M79.6 71.6h0M60.2 66.1h0M59.7 68.1h0M59.6 67.7h0M59.6 65.9h0M63.7 67.4h0M58.4 66.6h0M60.3 68.4h0M61.6 66.4h0M59.9 67.2h0M60 64.6h0M60 63.3h0M57 62.4h0M58.1 64.1h0M58.5 63.5h0M60.2 63.2h0M57.8 63.5h0M57 63.5h0M53.4 66.7h0M48.2 67.2h0M52.8 66.1h0M49.2 66.9h0M60.2 65.7h0M59.7 65.9h0M58.2 63.9h0M44.2 61.8h0M44.9 62.2h0M40.4 67.6h0M38.6 65.6h0M39.4 67h0M40.2 66.2h0M62.4 60.6h0M63.8 62.3h0M61.2 63.1h0M62.3 61.7h0M59.1 64.3h0M61.6 62.5h0M64.1 71.7h0M77.2 74.9h0M75.9 75.8h0M76.5 74.3h0M42.5 63.1h0M51.2 75h0M52.6 76.6h0M53.9 74.4h0M51.7 74.6h0M52.6 77.1h0M51.9 74.5h0M53.3 77.1h0M63.9 62.1h0M63.1 62.4h0M60.4 61.7h0M61.4 63h0M63.1 63h0M63.8 63.9h0M63.7 63.1h0M61 63h0M64.9 64.1h0M73.7 65.1h0M75.6 62.5h0M72.1 63.1h0M72.9 64.1h0M76 63.9h0M74.6 62.5h0M73.4 61.8h0M73.8 62.8h0M56.6 66.7h0M43.8 70.7h0M45.1 68.7h0M43.1 67.9h0M43.1 68.2h0M47 67.8h0M46.4 68.3h0M44.6 69.7h0M44.4 68.6h0M45.7 67.5h0M74.3 68.2h0M74.8 70.6h0M73.2 69.9h0M73.6 71.4h0M71.8 69.6h0M73.5 71.2h0M71.3 68.6h0M71 71.2h0M74.6 69.8h0M69.9 67.3h0M69.1 65.8h0M67 67h0M66.3 67.3h0M66.2 66.2h0M68.2 66.4h0M76.2 62.2h0M47.6 61.2h0M47.1 60.9h0M45.4 61.2h0M50.9 62.4h0M47.9 60.2h0M49.8 62h0M43.4 62.6h0M45.9 61.4h0M47.5 61.6h0M54.7 56.2h0M57.5 56.2h0M53.1 57h0M55.4 55.6h0M56.2 56.8h0M55 56.3h0M54.9 56.6h0M53.4 55.7h0M56.6 56.7h0M53.4 67.3h0M54.8 65.9h0M52.6 66.3h0M55.3 69.6h0M53.7 67h0M54.2 69.5h0M55.1 68.8h0M52.9 67.4h0M64 67.4h0M65.4 67.7h0M63.5 66h0M66.5 66.5h0M65.1 67.5h0M64.9 67.2h0M61.2 67.7h0M60.2 66.7h0M57.8 67.7h0M60.4 67.2h0M60 68.6h0M64.2 64.4h0M56 71.5h0M59.1 71.1h0M56.3 72.3h0M56.8 71.5h0M55.8 69.1h0M58.6 69.4h0M55.1 70.5h0M55.3 71h0M52.7 72.3h0M52.5 71.3h0M59.7 65h0M56.7 65.5h0M58.1 64.8h0M55.7 64.1h0M57.7 64.9h0M57.5 67.1h0M58.1 65.3h0M58.2 66.4h0M41.9 63.1h0M43.9 63.7h0M45.7 66.5h0M41.4 65.2h0M44.7 66.4h0M43.5 65.1h0M46.3 64h0M45.2 66.3h0M68.5 73.3h0M68.7 72.3h0M67.7 72.1h0M69.3 72.6h0M67.7 72.8h0M70.2 73.9h0M68.7 72.2h0M69.4 72.7h0M51.3 55.6h0M51.6 58.8h0M50.6 57.3h0M51 55.9h0M49.7 55h0M54.4 63.6h0M54.2 62h0M55.5 63.7h0M55.2 62.4h0M55.8 62.4h0M52.8 63.7h0M56.2 63.9h0M55.7 63.3h0M66 78.2h0M63.4 76.6h0M65.1 77.3h0M63.9 76.3h0M65 77.9h0M63.6 75.5h0M65.4 75.3h0M50.9 74.1h0M51.3 74.7h0M50.8 75.2h0M75.3 66h0M75.2 64.6h0M74.5 67.5h0M74.1 65.2h0M73.2 65h0M76.7 66h0M63.3 56.4h0M64 56.5h0M66.2 55.4h0M63.6 55.7h0M63.7 56h0M66.3 56.9h0M78.3 72.4h0M79.2 68.7h0M76.4 70.6h0M79.6 70h0M43.4 63.2h0M42.9 63.6h0M79 66.2h0M79.7 67.8h0M80 67.4h0M79.1 68.4h0M81.2 67.8h0M59.2 58.8h0M59.2 59.5h0M75.9 67h0M72.7 64.9h0M52.5 69.6h0M51.9 72.1h0M50.3 70.9h0M54 69.4h0M57.1 74.5h0M56.3 73.6h0M57.7 76.6h0M56.5 74.8h0M59.3 74h0M57.7 74.3h0M59.8 75.7h0M60.4 74.6h0M43.4 71h0M42.7 69.5h0M69.5 56.8h0M61.2 57.7h0M62.3 56.1h0M61.2 56.1h0M60.5 56h0M63.4 56.4h0M62.2 57.8h0M43.7 60.3h0M40.7 59.2h0M42.7 62.9h0M40.1 60.6h0M42.6 62.3h0M43.3 60.6h0M43.7 60.8h0M42.7 61.9h0M42.7 60.2h0M59.5 64h0M60.9 63h0M61.2 63.6h0M56.8 62.7h0M61.7 64.2h0M59.8 62.4h0M58.4 63.8h0M58.7 74.6h0M60.6 73.9h0M57.3 74h0M53.1 55.8h0M53 57.1h0M53.9 57.2h0M50.9 56.4h0M49 55.2h0M53.2 58.1h0M51.1 56.6h0M50.8 57.5h0M64.7 69.9h0M65.7 70.2h0M66.8 70.8h0M65.2 68.9h0M65.9 69.6h0M66.7 72.3h0M66.6 70.5h0M61.3 63.3h0M58.6 64.9h0M64 64.6h0M62.9 62.4h0M80.3 72.7h0M80.2 71.7h0M80.8 73.2h0M41.2 63.4h0M39.2 62.1h0M39.2 62.1h0M57.4 70.4h0M60 69.3h0M60.2 70h0M54.8 70.3h0M55.2 69.2h0M56.9 69.6h0M55.3 67.9h0M53.7 67.3h0M65.2 78.5h0M67 77.6h0M65.8 79.7h0M64.1 76.9h0M63.3 79.9h0M65.5 74.3h0M65.8 74.6h0M53.9 75.7h0M53.9 76.1h0M55.3 76.8h0M57.5 76.5h0M55.6 76.6h0M56.4 76.5h0M60 77.4h0M61 77.1h0M60.2 76.6h0M61.3 78.1h0M58.1 78.1h0M60.2 79.1h0M65.2 77.4h0M62.1 79.3h0M64.3 78.7h0M65.1 80.1h0M60.3 77.9h0M57.7 78.9h0M69.3 76.2h0M68.9 77.5h0M66.5 76.5h0M70.1 78.1h0M69.3 76.2h0M66.4 78.8h0M69.3 77.2h0M71.7 63.2h0M73.7 63h0M71.6 63.1h0M70.7 59.9h0M74 62h0M42.8 64.6h0M41.7 65.5h0M44.4 64.3h0M40.9 63.3h0M42.2 63.6h0M43.2 62.7h0M41.6 63.6h0M42.8 63.7h0M40.3 63.6h0M48.6 71.6h0M73.1 77.4h0M70.8 76.9h0M67.9 78.5h0M67 78.4h0M70.1 76.9h0M70.6 78.2h0M68.5 78.1h0M71.9 61.3h0M74.2 62.3h0M75.4 70.5h0M77.5 68.7h0M73.6 70.9h0M76.7 70.2h0M74.8 68.9h0M69.9 76.1h0M68.9 75.1h0M68.4 75.6h0M68.1 74.6h0M67.8 73.9h0M75.5 74.1h0M79.1 73h0M76.3 74.2h0M76.1 75.3h0M76.3 75.1h0M42.2 66.7h0M41.7 67.1h0M39.3 66.8h0M45.4 67.7h0M40.8 68.9h0M41.4 66.6h0M75.7 63.8h0M75.4 65.1h0M75.5 64.8h0M74.6 63.5h0M76 64.4h0M77.1 65.6h0M66.5 65h0M63.7 66.5h0M63.5 66.4h0M67.8 66.6h0M65.8 67.5h0M63.4 66.9h0M66 66h0M65.9 67.2h0M38 63.1h0M37.5 63.7h0M37.4 61.7h0M38 65.8h0M60.7 57.9h0M60.6 58.5h0M59.5 57.4h0M62.9 57.9h0M41.5 60.2h0M48.8 58.6h0M52.4 60.3h0M50.6 59.4h0M52.1 59.3h0M54.5 60.1h0M57.2 74.6h0M51.2 76.8h0M76.2 62.3h0M77.8 63.2h0M67.6 59.8h0M69.2 61.1h0M70.1 58.5h0M68.2 60.8h0M69.4 60.2h0M67.7 60.9h0M45.9 62.2h0M47.6 64.3h0M43.8 63.5h0M47.5 62.4h0M49.5 69.2h0M49.1 55.1h0M50.5 52.8h0M51.6 54.1h0M49.4 55.6h0M48.4 53.8h0M51.3 53.4h0M48.6 73h0M47.6 73.8h0M50.6 73.8h0M49.6 73.6h0M47.4 73.6h0M49.5 73.8h0M67.7 69.6h0M69.6 68.2h0M67.6 69.8h0M69.5 69.6h0M81.4 68.6h0M55.5 69h0M55.9 70.3h0M55.3 69.6h0M54.2 68.8h0M59.6 68.6h0M54.4 68.7h0M54.2 68.2h0M56.5 70.1h0M54.9 70.9h0M54.7 53.9h0M52.9 54.7h0M61.7 55h0M57.1 54.7h0M59.2 56.2h0M59 55.8h0M57.8 56h0M60 55.4h0M49.6 52.5h0M52.6 51.8h0M81.1 71.6h0M78.9 69.2h0M82.2 68.4h0M80.3 71.2h0M42.3 64.4h0M53.6 67.1h0M50.9 67.1h0M52 68.1h0M47.2 69.8h0M53.6 68.1h0M49.6 69.2h0M49.8 66.6h0M50.5 65.8h0M64.8 69.5h0M64.9 67.6h0M77.5 71.6h0M74.7 71.1h0M76.1 72.1h0M77.9 73h0M77 72.6h0M76.1 71.7h0M75.9 71.8h0M73.9 72.4h0M75.5 71.8h0M74.4 69h0M73.1 70.6h0M73.7 70.1h0M73.5 72h0M75.2 68.8h0M73.7 70.8h0M80.5 71.8h0M81.5 69.2h0M82.3 72.3h0M72.1 59h0M70.3 58.6h0M71 58.2h0M72.3 58.6h0M72.7 59h0M44.9 68.6h0M44.6 68.8h0M44.3 68.8h0M67.7 60.6h0M42.5 60h0M40.2 57.3h0M40 60h0M39.2 61.1h0M45.3 59.5h0M44.7 58.3h0M45.7 56.7h0M45.2 57.4h0M46.3 57.8h0M70.7 77.6h0M68.6 76.7h0M63.6 70h0M63.1 69.7h0M49.9 67.2h0M49.3 64.9h0M50.6 65.9h0M48 65.5h0M49.5 64.6h0M48.5 66.1h0M46.2 66.5h0M48.5 67.3h0M51.5 67.3h0M57.1 67.2h0M53.5 68.3h0M72.8 76h0M74.1 76.2h0M74.2 76.8h0M73.6 74.8h0M51.1 63.9h0M49.8 63.9h0M51.8 63.5h0M51.9 62.4h0M51 62.7h0M54.8 62.2h0M55.2 61h0M52.7 62.6h0M77.3 72.4h0M78.3 71.1h0M75.6 72.1h0M77.2 74.2h0M76.6 71.9h0M76.3 73.1h0M78.8 73.3h0M79.1 70.4h0M56.7 74.5h0M56.4 74.1h0M53.2 72.6h0M54.7 73.2h0"/>
</defs>
<rect x="0" y="0" width="520" height="699" fill="#fff"/>
<text x="8.6" y="18.8" font-size="10.5" fill="#111">A</text>
<text x="338.5" y="19.2" font-size="10.5" fill="#111">B</text>
<text x="336.8" y="147" font-size="10.5" fill="#111">C</text>
<text x="8.6" y="335" font-size="10.5" fill="#111">D</text>
<text x="338" y="265" font-size="10.5" fill="#111">E</text>
<text x="8.6" y="529.7" font-size="10.5" fill="#111">F</text>
<g transform="translate(28.1,23.1)"><g fill="none" stroke-linecap="round" stroke-width="1.35"><use href="#up" stroke="#e00000"/><use href="#lo" stroke="#000"/><path stroke="#e00000" d="M75.2 64.6h0M42.5 60h0M52.3 71.4h0M64.9 59.6h0M63.5 76.8h0M42.6 69.8h0M60.2 66.7h0M50.3 70.9h0M60.2 65.7h0M61.4 58.4h0M65.1 67.5h0M62.9 61.7h0M76.5 72h0M58 74.4h0M58.3 57.6h0M55.8 69.1h0M76.2 62.2h0M80.3 71.2h0M76.6 72h0M64 60.2h0M65.2 71.7h0M42.7 69.5h0M47 52.4h0M49.3 61.9h0M73.6 74.8h0"/></g><circle cx="114" cy="10" r="1.5" fill="#8090c0" opacity="0.5"/><circle cx="114" cy="10" r="1.1" fill="#05081a"/><circle cx="114" cy="16.7" r="1.5" fill="#8090c0" opacity="0.5"/><circle cx="114" cy="16.7" r="1.1" fill="#e02020"/><text x="118.3" y="11.6" font-size="7.4" fill="#222">D0</text><text x="118.3" y="18.2" font-size="7.4" fill="#222">D2</text><path d="M119.6 0v4.9M129 15.6h4.5" stroke="#111" stroke-width="1"/><text x="120.8" y="77.6" font-size="7.4" fill="#222">a</text><text x="1.4" y="6.3" font-size="7.6" fill="#222" textLength="27.7" lengthAdjust="spacingAndGlyphs">samples</text><rect x="0" y="0" width="133.5" height="81.2" fill="none" stroke="#111" stroke-width="1.1"/><path d="M-3.2 17.3H0" stroke="#111" stroke-width="0.9"/><text x="-5.2" y="19.8" font-size="7.1" fill="#222" text-anchor="end">20</text><path d="M-3.2 37.1H0" stroke="#111" stroke-width="0.9"/><text x="-5.2" y="39.6" font-size="7.1" fill="#222" text-anchor="end">0</text><path d="M-3.2 56.9H0" stroke="#111" stroke-width="0.9"/><text x="-5.2" y="59.4" font-size="7.1" fill="#222" text-anchor="end">−20</text><path d="M-3.2 76.7H0" stroke="#111" stroke-width="0.9"/><text x="-5.2" y="79.2" font-size="7.1" fill="#222" text-anchor="end">−40</text><path d="M29 81.2v3.2" stroke="#111" stroke-width="0.9"/><text x="29" y="94.5" font-size="7.1" fill="#222" text-anchor="middle">−20</text><path d="M60.7 81.2v3.2" stroke="#111" stroke-width="0.9"/><text x="60.7" y="94.5" font-size="7.1" fill="#222" text-anchor="middle">0</text><path d="M92.4 81.2v3.2" stroke="#111" stroke-width="0.9"/><text x="92.4" y="94.5" font-size="7.1" fill="#222" text-anchor="middle">20</text><path d="M124.1 81.2v3.2" stroke="#111" stroke-width="0.9"/><text x="124.1" y="94.5" font-size="7.1" fill="#222" text-anchor="middle">40</text></g>
<g transform="translate(185.6,22.2)"><g fill="none" stroke-linecap="round" stroke-width="1.2"><use href="#up" stroke="#c3c3c3"/><use href="#lo" stroke="#c3c3c3"/><path stroke="#e01010" stroke-width="1.4" d="M51.4 7.4h0M50.8 6.9h0M47.9 6h0M53.1 7.5h0M49.6 7.6h0M78.2 33.5h0M76.2 31.4h0M79.8 28.5h0M36.4 25h0M37.5 23.9h0M55.9 9.4h0M55.1 9.6h0M56.5 9.9h0M33.1 22h0M37.2 20.6h0M36.6 20.7h0M37.3 18h0M32 47h0M29.5 50.1h0M33 49h0M31 49h0M88.3 23.9h0M85 46.8h0M87.6 45.7h0M90.6 45.8h0M85.4 45.1h0M20.5 33.3h0M27.1 42.3h0M26.2 40.5h0M20.6 40.9h0M25.6 40.1h0M23.5 41.2h0M47.1 15h0M46.7 13.9h0M29.8 41.5h0M27.2 42.7h0M29.8 44.6h0M73.1 12.7h0M77.2 12h0M73.8 14.4h0M7.1 35.2h0M49.8 20.3h0M50.4 22.2h0M116.6 42.6h0M115.7 43.8h0M74.4 16.6h0M80.8 20.9h0M61 43.8h0M91 16.7h0M91.7 16.3h0M87.3 18h0M26.5 26.8h0M30.2 50h0M30.5 51.8h0M31.8 51h0M29.9 51.7h0M31.9 50.6h0M38.8 45.1h0M88.2 26.4h0M62.8 40.1h0M60.9 39.6h0M32.4 21.3h0M32 22.1h0M44.8 16.8h0M19.3 41.7h0M20.5 42.3h0M15.9 14.5h0M23.2 26.9h0M21.2 27.2h0M36 18.7h0M82.1 36.1h0M18 27.2h0M21 24.8h0M19.3 22.9h0M16.1 34.4h0M18.6 30.9h0M22.7 29.7h0M92.6 38.3h0M50.9 11.2h0M82.6 19.7h0M106.6 44.2h0M32.3 18.4h0M34.3 15.4h0M30.1 17.8h0M36.2 32.1h0M34.4 29.8h0M36.7 32.6h0M31.5 36.1h0M32.7 37.1h0M31 37.8h0M82.9 31.1h0M44.6 5.1h0M40.8 6.8h0M44 6.9h0M30.8 22.9h0M79.5 22.4h0M31.6 18.1h0M31.7 19h0M30.2 20.5h0M31.3 18.6h0M33.2 20.6h0M44 7.1h0M25.2 46.6h0M22.3 47.7h0M25.9 47.8h0M24.4 48.2h0M94.1 36.4h0M20.9 16.4h0M70.8 36.6h0M57.2 25.3h0M61.6 24.8h0M56.9 25.7h0M30.3 36.4h0M28.5 35.3h0M84.5 45.5h0M86.4 44h0M108.2 35.8h0M12.4 18.1h0M54.2 29.5h0M30.1 39h0M31.3 38.5h0M92.8 28.7h0M93.3 29.1h0M32.1 26.6h0M31.6 26.8h0M31.4 26.3h0M31.5 39.6h0M108.2 44.2h0M36 40h0M42.3 32.4h0M41.4 34h0M68.5 12.7h0M72 12.5h0M34.2 9.7h0M34.6 11.8h0M47.3 13.3h0M75.6 11h0M77.6 12.3h0M95.6 41.2h0M14.2 42.8h0M50 17h0M19 36.6h0M80.2 34.6h0M79.7 33.9h0M80.2 33h0M78.7 33.8h0M88.4 40.1h0M85.9 39.8h0M80.5 38.4h0M17.9 14.1h0M20.4 13.7h0M22.1 13.3h0M83.5 16.3h0M80.1 50.6h0M8.3 32.3h0M9.4 34.7h0M8.7 31.6h0M90 34h0M100.1 32.3h0M91.7 46.6h0M91 45.8h0M73.6 17.6h0M74.1 17.6h0M72 18.4h0M73.7 17.4h0M118.8 34.9h0M54.9 28.3h0M119.8 46.7h0M22.4 41.9h0M22.2 42.9h0M21.2 43.3h0M20.2 42.2h0M85.2 16.6h0M81.6 15.4h0M83.9 16.5h0M84.3 15.7h0M84.5 32.2h0M78.3 18.7h0M76.2 18.8h0M116.6 38h0M28.9 46.6h0M34.9 25.6h0M32.2 25.3h0M90.6 33.5h0M93.3 32.6h0M63.5 35.7h0M37.2 25.8h0M22.6 29.3h0M23.4 28.9h0M21.3 43.9h0M82.1 36h0M94.8 21.6h0M75.7 42.1h0M74.8 45.2h0M90.1 18.4h0M88.8 19.2h0M34.9 16.6h0M78.5 37.1h0M79.3 36.8h0M46 13h0M20.4 16.1h0M22.8 13.5h0M22.8 13.8h0M21.7 15.4h0M24.7 13.8h0M24.5 13.6h0M82.5 21.2h0M79.2 21.9h0M41.3 16.6h0M40.5 17.5h0M82.8 16.4h0M83 17.5h0M104.5 28.3h0M58.3 11.4h0M56.4 36.9h0M48 5h0M42.8 7.4h0M45.2 6.8h0M84 51.3h0M80.8 51.1h0M80.9 51.2h0M73.1 39h0M84.2 39.5h0M80 36.7h0M89.2 19.3h0M35.3 24.3h0M36.4 22.6h0M51.7 6.5h0M62.1 22.8h0M10.4 39.7h0M12.2 37.7h0M12.9 38.9h0M11.7 38.2h0M11.5 39.7h0M12.3 37.8h0M24 24.4h0M50 28.2h0M82.8 26.6h0M81.3 24.8h0M81.1 23.2h0M105.3 31.8h0M107.3 32.4h0M87.1 16.7h0M87.2 17.9h0M86.7 17h0M87.9 16.7h0M53.1 37.6h0M16.1 28.1h0M10.5 33.2h0M11.5 34.2h0M21.7 29.1h0M16.4 28.4h0M21.1 29.7h0M17.5 36.3h0M11.8 34.6h0M36.6 42.4h0M58.3 20.2h0M96.5 37.2h0M92.2 18.8h0M92 17.1h0M23.3 41.1h0M24.4 43h0M23 43.8h0M22.7 43.9h0M22.6 42.5h0M24.2 44h0M18.9 18.1h0M17 21.2h0M97.5 22.2h0M76.5 18h0M78.3 17.3h0M77 14.9h0M79.5 14.8h0M97.9 26.3h0M9.5 30.3h0M10.7 30.5h0M37.9 38.1h0M50.9 26.6h0M47.8 27.1h0M7.2 33.1h0M31.1 36.7h0M36.4 40h0M33 37.8h0M33.5 37.8h0M32.5 38.4h0M33.9 36.4h0M72.5 17.8h0M75 19.5h0M65.4 34.3h0M9 38.3h0M64.9 34.2h0M66.6 34.8h0M70.8 9.5h0M71.9 11.6h0M73.5 8.9h0M81.9 12.8h0M81.6 11.9h0M81.7 15.1h0M87.4 34.7h0M86.8 36.3h0M33 46.7h0M51.4 42.7h0M12.4 38.2h0M11.4 38.1h0M12.5 39h0M27.9 46.9h0M16.8 17.2h0M28.6 15.9h0M27.8 15.8h0M32.2 15.8h0M28.7 16.7h0M82.7 14.9h0M82.8 15.1h0M62.3 33.4h0M53.8 19.2h0M34.8 35.7h0M36.3 33.8h0M35.5 32.8h0M79.6 25.5h0M80.4 25.2h0M23 35h0M24.3 33.7h0M24.3 34h0M109.9 27.6h0M29.2 12h0M87.8 48h0M81.9 17.9h0M95.9 47.2h0M97.3 47.5h0M33.5 22.6h0M36.5 20.4h0M34.3 18.6h0M98.1 46h0M64.4 24.3h0M62 26.5h0M60.8 23.6h0M60.5 25.6h0M86.7 13h0M86.4 15h0M89.1 14.7h0M89.2 14.6h0M40.9 30.8h0M115.3 34.3h0M111.5 36.7h0M110.5 34.9h0M75.8 10.4h0M74.3 10.9h0M75.4 11.4h0M75.2 10.6h0M75.2 12.6h0M26.9 34.5h0M62.9 37.4h0M62 36.1h0M64.9 14.6h0M65.8 13.9h0M62.9 15.4h0M65.6 13.2h0M60.4 19h0M68 41.5h0M58.1 24.4h0M79.5 21.2h0M73.8 45.9h0M76.5 45.1h0M84.4 23.4h0M87.1 24.1h0M21.2 44.2h0M27.9 49.1h0M62.8 23.5h0M96.6 32.7h0M74.5 20.4h0M85.3 39.1h0M75.4 34h0M28.4 17.8h0M31.2 17.1h0M76.1 29.3h0M57.1 15.7h0M17.9 29.8h0M15.8 28.6h0M18.8 30h0M104.6 45h0M47.3 38.8h0M81 50.7h0M110.9 48.7h0M18.2 18.7h0M19.8 18.1h0M18.9 16.7h0M19.6 18.5h0M47.4 25.8h0M76.3 23.6h0M64.6 18.5h0M76.5 17.7h0M54.9 11.4h0M56.2 11.2h0M56.5 11.4h0M18.9 17.7h0M17.5 17.3h0M52.7 27.8h0M129.2 39.9h0M36.7 12.8h0M36.1 13.5h0M61.9 15.7h0M63 13.4h0M50.7 30.4h0M75.5 26.3h0M74.6 26.4h0M34.9 17.1h0M34.5 16.9h0M35 16.5h0M35.5 17.4h0M44.7 6.9h0M46.2 5.8h0M46.5 7.7h0M65.7 13.6h0M66.3 11.4h0M52.2 12.9h0M51.3 12.3h0M68.3 31.7h0M69.9 34.7h0M25.5 24.5h0M26.9 24.6h0M68.2 11.5h0M66.2 10h0M71.2 11.7h0M69.3 36.3h0M29 39.7h0M26.4 38h0M53.2 36.6h0M99.9 26.6h0M104.1 27.9h0M113.7 30.1h0M65.1 26.2h0M65.5 27h0M97.9 33.7h0M100.4 35.3h0M37 39.7h0M35.6 19.5h0M20 23.9h0M18 21.6h0M82.6 47.7h0M83.2 32.9h0M83.2 32.8h0M76.3 43.7h0M61 32h0M55.1 8.7h0M55.3 11.2h0M46.9 18.7h0M45.6 17.1h0M98.4 27h0M44.9 25.3h0M10.8 29.9h0M11.4 30.4h0M12.7 30.2h0M42.7 8.4h0M43.8 7.7h0M42 9.2h0M41.4 8.3h0M46.4 6.7h0M93 45.2h0M93.4 45.3h0M28.7 38.5h0M33.7 36.7h0M31.4 37.1h0M31.9 35.3h0M99.3 46.2h0M101.2 45h0M26.1 26.3h0M25.4 24.9h0M101.1 39.3h0M98.9 40.3h0M98.6 40.5h0M48.1 29.1h0M48 30.5h0M69.7 11.6h0M71.7 10.6h0M70.6 10.4h0M72 12.3h0M18.2 34.8h0M15.8 38.1h0M18.8 35.5h0M21.3 47.3h0M106.1 26.9h0M16.1 39.9h0M80.9 45.2h0M91.1 29.1h0M91.2 29.2h0M22.5 14.4h0M26.5 29.9h0M31.6 47.6h0M31.3 49.3h0M56.8 29.1h0M36.7 17.6h0M84 51.1h0M20 35.8h0M23.4 36.9h0M52.5 33.4h0M77.9 12.3h0M75.7 11.4h0M78.6 13.1h0M79.1 11.2h0M79.5 13.4h0M25 38.3h0M61.9 42h0M46.6 25.2h0M17.2 21.3h0M29.1 51.1h0M27.4 49.5h0M28.6 50.2h0M25.9 50.4h0M76.8 40.1h0M75.3 19.3h0M74.8 20.2h0M33.9 26.7h0M34 26.8h0M33 26.3h0M32.9 26.4h0M69.3 12.3h0M42.7 41.4h0M48.1 31.1h0M78.3 51.3h0M18 41.1h0M15.9 38.8h0M15 40.3h0M59.6 13.3h0M58.5 13.9h0M46.6 7h0M47.7 7.8h0M41.5 8.2h0M45.6 20.2h0M46.5 19.8h0M109.7 32.2h0M112.5 29.9h0M125.4 40.7h0M108.7 40.9h0M83.7 53h0M98.5 32.9h0M95.5 33.1h0M97 33.1h0M84.2 24.5h0M11.3 19h0M13.3 19.1h0M11.6 18h0M67.4 18.6h0M67.7 19.9h0M60.8 10.6h0M32.3 13.5h0M35.5 32.9h0M31 32.9h0M37 34.4h0M33.2 35.5h0M60.5 32.2h0M63.9 35.9h0M45.4 10.1h0M50.8 13.9h0M69.1 13.3h0M118.2 29.8h0M115.9 27.8h0M34.2 49.2h0M30.2 48.4h0M66.8 13.5h0M67.1 14.9h0M83.4 43.9h0M79.4 25.2h0M36.7 20.6h0M89.2 21.8h0M91.4 21.8h0M73.7 21.9h0M76 22.6h0M71.5 13.2h0M29.2 34.5h0M13.9 36.7h0M62.8 7.8h0M65.7 8.3h0M15 28.6h0M14.4 28.2h0M17.2 27.6h0M14.5 27.2h0M37.3 26h0M9.6 34h0M7.8 32.9h0M50.1 6.8h0M47.6 8.2h0M50.9 8.7h0M23.7 30.1h0M24.9 29.7h0M23.7 29.5h0M24.2 28.9h0M71.5 18h0M14.5 29.4h0M17.3 30.2h0M13.9 30.1h0M26.9 44h0M70.9 46.2h0M19.8 32.7h0M106.3 26.1h0M104.4 27.2h0M60.4 27.9h0M61.2 29.2h0M74.7 46.4h0M10.6 25.2h0M15.6 25.5h0M16.3 26.1h0M25.7 41.9h0M50.1 17.7h0M51.4 19.3h0M49.3 17.7h0M95.1 17.6h0M94.1 22.5h0M69.8 31.9h0M69.6 31h0M18.3 17.4h0M16.6 15.1h0M15.5 19.4h0M51.9 26.8h0M112.8 43.4h0M62.2 32.3h0M64.9 30.4h0M62.2 31.9h0M31.2 30.4h0M31.7 26.6h0M30.6 34.4h0M33.4 33.4h0M32.2 35.7h0M30.6 32.6h0M37 20.2h0M36.8 20.1h0M19.8 46.4h0M54.4 31.3h0M48.8 4.9h0M27.4 17.1h0M26.4 17.1h0M19 42.9h0M65.8 22h0M34.7 19.2h0M24.6 52.5h0M92.7 42.1h0M72.9 23.4h0M15.5 31.7h0M72.1 22.2h0M82.2 47h0M80.5 47.8h0M81.4 47.6h0M30.6 47.2h0M36.2 47.5h0M29.1 49.8h0M30.6 47.6h0M82.8 39.2h0M81.3 41h0M89.9 27.6h0M90.6 24.9h0M95.7 24.2h0M55.8 28.5h0M37.3 20.8h0M21.6 16.2h0M26.1 26.8h0M62.8 11.3h0M69.8 7.7h0M68 10.4h0M71.1 9.3h0M70.2 9.2h0M69.3 8.2h0M71.2 45h0M99.8 25.4h0M98.3 25.5h0M99.3 23.8h0M99.4 23h0M84.1 28h0M36.3 22.5h0M60.2 27.4h0M61.6 27.4h0M108.5 34.3h0M97.6 46.5h0M80.1 27.3h0M49 42.9h0M47.5 42.9h0M80.9 14.4h0M105.4 30h0M37.8 41h0M37 41.7h0M13.3 19.4h0M17.4 19.5h0M16.2 21.1h0M17.5 19.3h0M79 15.9h0M77.8 16.6h0M78.5 15.6h0M14.3 34.1h0M14.7 34.6h0M35 15.2h0M119.4 39.2h0M21.9 46.1h0M24.4 47.4h0M24.3 46.6h0M31.4 36.7h0M41.8 7.2h0M41.4 6.3h0M51.6 37.8h0M53.5 38.6h0M51.7 39.7h0M109 37.7h0M105.2 38.2h0M106 47.5h0M20 35.8h0M40.8 39.2h0M79.9 14.7h0M84 12.9h0M98 43.7h0M35.6 30.8h0M81.8 38.8h0M48.8 10.6h0M44.4 31.4h0M32.4 46.6h0M29.1 45.4h0M32.1 44.7h0M86 25.8h0M87.7 28.4h0M19.4 39.8h0M83.8 48.4h0M83.2 48.5h0M88.5 40.4h0M90.1 42.6h0M71.8 23.1h0M72.4 22.7h0M70.6 20.4h0M70.1 22.2h0M74.1 21.6h0M54.8 13.6h0M53.6 13.1h0M71.5 18.9h0M36.4 36.6h0M37 35.2h0M36.7 34h0M100.7 37h0M29.1 38.6h0M27.7 37.7h0M29.1 38h0M18.4 45.6h0M76.7 26.8h0M127 38.8h0M61.3 28.1h0M62.1 28.3h0M34.3 42h0M35.7 44.9h0M29.7 30.2h0M118.7 36.9h0M20 16.4h0M19.3 15.6h0M18.1 15.1h0M18.3 15.9h0M73.8 10.9h0M24.5 40.4h0M24 38.9h0M23.4 41.6h0M65.9 9.7h0M64.6 9.5h0M23.3 26.8h0M54.4 10.2h0M56.5 10.1h0M28.8 46.4h0M30.6 47.3h0M14.5 34.3h0M41.8 43.3h0M71.4 25.6h0M74 33.9h0M73.6 9.6h0M73.4 8.6h0M45 20.1h0M15.6 17.7h0M119.2 39.6h0M120.6 40.5h0M32.6 24.4h0M22.5 40.6h0M19.8 40.8h0M119.6 28.5h0M120.8 30.4h0M115.8 29h0M71.2 10.4h0M71.3 9.9h0M25.5 30.7h0M26.3 30.7h0M98.6 40.6h0M95.5 37.9h0M43 17.3h0M39.2 17.7h0M38.1 19.7h0M37 40.7h0M34.2 44h0M34.2 45.3h0M35.9 45.7h0M35.4 46.1h0M33.7 44.2h0M77.6 26.1h0M66.6 39.2h0M6.9 32.3h0M6.4 32.2h0M9.5 32.4h0M7.8 33.1h0M18.3 30.3h0M20.4 31.3h0M84.2 52.2h0M67.4 26.7h0M14.5 18.6h0M15.8 18.6h0M75.3 12.7h0M75.7 14.4h0M59.7 32.2h0M24.7 26.1h0M87.1 37.2h0M27.5 24.4h0M8.5 35.9h0M29.9 28.8h0M90.5 45.8h0M87.8 43.5h0M87.2 45.1h0M56.8 11.4h0M54.3 13.4h0M25.5 37.4h0M27.4 36h0M91.8 48h0M84.5 31.4h0M52.8 14.6h0M28.1 30.8h0M27.9 28.8h0M26.5 29.7h0M79.9 12.8h0M89.5 43.5h0M86.5 43.4h0M66.2 35.1h0M69.1 17.3h0M72.9 16.7h0M69.8 17.6h0M71 18.6h0M72.8 21h0M106.5 33.6h0M106.5 34.6h0M96.3 17.4h0M67.1 7.7h0M68 7.9h0M23.8 29.5h0M22.7 30.3h0M23.7 29.9h0M24.4 50.9h0M28.1 50.8h0M26.5 50.6h0M26.2 50.8h0M25.7 49.1h0M87.6 41.4h0M84.8 42.7h0M21.9 25.7h0M20.4 27.1h0M48.3 26.4h0M86 16.5h0M83.6 17h0M98 43.8h0M91.7 23.1h0M17.2 25.8h0M25.8 17.5h0M33.8 13.7h0M30.9 16h0M32.5 14.5h0M73 48.2h0M74.5 48.4h0M73 47.4h0M74.4 45.8h0M31.9 22.7h0M32.7 24.8h0M35.3 21.7h0M28.4 16.6h0M68.3 31.2h0M87.8 38h0M84.1 38.2h0M73.2 14.1h0M47.3 16.8h0M48.3 16.1h0M48.3 16.2h0M73.9 16.9h0M17.6 31.5h0M15.4 31.1h0M127 40.1h0M26.5 14.5h0M26.2 14.7h0M29.7 12.1h0M27.5 13.7h0M95.3 47.9h0M95 47.6h0M26.4 43.5h0M28.4 43.6h0M85.7 28.5h0M83.4 28.9h0M35.6 24.5h0M33.5 25.1h0M68.4 9.7h0M65.8 9.7h0M84.9 48.4h0M121.6 41.3h0M36.1 22.3h0M20.6 34.4h0M21.1 36.4h0M22.7 36.5h0M85.7 31.7h0M20.1 29.5h0M37.6 46.4h0M68.3 7.4h0M68.5 11.1h0M68.1 10.1h0M66.2 9h0M116.8 43.4h0M29 50.2h0M128 39.6h0M128.9 41.3h0M126.2 38.5h0M80.8 36.2h0M95.3 23.5h0M94 22.7h0M92.9 21.9h0M83.8 11.2h0M20.4 38.7h0M20 42.3h0M87 15.6h0M88.3 16.2h0M51.3 30.6h0M73.8 44.4h0M77.4 42.7h0M100.7 30.3h0M95.2 48.6h0M93.1 49.4h0M49.1 32h0M72.7 39.7h0M105.8 43h0M100.9 41.8h0M99.9 39.6h0M99.9 40.4h0M11.1 26.9h0M24.3 20.3h0M58 13.6h0M59.8 15.9h0M58.9 13.9h0M32.9 27.6h0M32 29.6h0M83.3 28.6h0M43.2 28h0M42.2 26.9h0M70.9 38.4h0M12.8 24.7h0M11.5 23.6h0M89.6 43.5h0M99.4 31h0M10.7 33h0M6.4 31.6h0M6.2 32.7h0M82.9 54.4h0M43.1 14.3h0M25 42.3h0M19.7 37.3h0M17.5 38.2h0M19.9 38.7h0M21.1 38.5h0M20.9 38.8h0M79.7 50.7h0M81.4 52.9h0M93.5 24h0M89.5 17.3h0M44.1 24h0M15.5 14h0M89.2 28h0M88.4 25h0M31.2 21.9h0M32.8 21.5h0M62.5 10.4h0M88.9 36h0M90.9 35.5h0M90.8 18.1h0M89.4 16.6h0M88.1 35.6h0M84.1 35.4h0M118.9 37.1h0M31.5 40.1h0M51 34.9h0M27.3 34.5h0M27.5 34.6h0M63.4 7.7h0M63.9 8h0M81.6 38h0M122 30.5h0M22.2 20.7h0M24.1 18.8h0M22.5 20.2h0M69.8 42.7h0M67.4 44.2h0M68.6 44.2h0M54.3 40.6h0M16.7 44.8h0M17.7 45h0M108.1 38.5h0M108.3 39.1h0M34.5 41.4h0M36.3 39.8h0M96.8 23.3h0M86.4 27.4h0M45.5 24.4h0M71.9 25.1h0M44.1 31.6h0M22.4 27.1h0M22.2 27h0M21 18.1h0M20.5 18.5h0M18 19.4h0M23.4 17.8h0M19.4 23.2h0M18.4 25.4h0M51.5 42.8h0M36.3 28.1h0M36.6 27.5h0M28.4 24.7h0M27.2 21h0M18 21.3h0M17.5 23.8h0M16.7 21.5h0M16.4 23.7h0M16.8 21.6h0M80.3 35h0M95 17.4h0M96 17.3h0M91.8 17.8h0M92.8 17.7h0M17.5 33.9h0M16.5 32.7h0M18.3 34.4h0M14.6 33h0M18 34h0M16.7 34.3h0M46.2 44.1h0M25.9 15.3h0M25.8 17.4h0M75.5 9.2h0M72.2 8.3h0M36.1 17.1h0M42.2 26h0M11.4 19.4h0M12.1 18.8h0M11.3 18.8h0M19.6 30.3h0M45.9 12h0M57.7 9.8h0M59.7 10.9h0M27 29.6h0M27.6 31.5h0M25.8 29.6h0M29.4 31.4h0M113 46.6h0M20.3 16.5h0M19 15.4h0M52 8h0M53.4 7.9h0M33.1 8.9h0M76.7 45.9h0M79.1 47.3h0M100.9 25.9h0M100.7 27.3h0M100.2 24.8h0M100.5 28.4h0M100.6 28h0M34.5 43.3h0M42.8 6.5h0M41.3 6.2h0M81 32.5h0M79.6 22.2h0M80 22.5h0M60.6 15h0M58.8 16.2h0M59 12.6h0M31.1 31.8h0M29.5 32.7h0M93.8 16.5h0M95.6 17.3h0M93.6 16.7h0M30.2 13.3h0M35 40.2h0M36.4 40.3h0M86.1 25.4h0M87.8 26.2h0M34.1 71.9h0M36.1 4.6h0M66.2 52.4h0M23.2 52.8h0M83.1 9h0M22.1 54.8h0M6.1 37h0M79.2 7h0M70.5 79.5h0M8.2 42.7h0M9.6 18.3h0M56.2 6.3h0M65.5 47.4h0M14.3 8.8h0M100.3 14.9h0M66.4 69.3h0M61.5 69.1h0M58.8 56.6h0M49.3 59.1h0M51.2 56.6h0M63.7 72.1h0M55.8 65.3h0M58.6 57.1h0M59.8 66.8h0M75.8 76.1h0M74.9 75.7h0M71 59h0M50.9 69.8h0M69.6 62.6h0M75 65.7h0M67.6 72.1h0M79.5 67.6h0M74 66.8h0M79 69.6h0M78.7 69.5h0M78.8 71h0M54.8 59.8h0M39.9 64.2h0M38.1 64h0M46.7 54.7h0M51 53.1h0M52.3 71.4h0M72 63.7h0M74.6 65.1h0M42 69.5h0M54.7 63.8h0M55.1 64.1h0M38 64.8h0M63.2 62h0M58.4 56.5h0M47.2 63.5h0M70.9 61.2h0M69.1 60.7h0M42.4 53.5h0M44.9 54.8h0M46.1 55.3h0M60.3 59.3h0M57 59.3h0M56.7 59.1h0M45.4 64.3h0M46.9 66.5h0M45.9 61.4h0M43.9 61.2h0M56.6 64h0M56.7 63.3h0M50.8 72h0M79.3 65.8h0M52.1 58.1h0M63 62.2h0M63.2 62.6h0M63.9 61.1h0M64.4 62.7h0M66.6 74.6h0M66.1 77h0M67.5 60.8h0M62.5 63h0M44.9 71.9h0M66.7 67.5h0M45.3 53.3h0M45.9 54.6h0M56.2 64.6h0M40.9 58.9h0M43.3 58.6h0M43.8 58.3h0M39.6 60.5h0M66.1 62.2h0M68.3 62.8h0M57.9 74.6h0M61.4 74h0M52.9 64.9h0M53.4 64.4h0M53.9 65.1h0M38.5 66.8h0M64.9 59.6h0M54 58.7h0M48.1 68.4h0M75.8 68.6h0M53.7 53.3h0M71.3 68h0M60.5 70.3h0M59.5 69.7h0M61.2 78.1h0M53.4 60.4h0M77.9 69.6h0M72 71.1h0M76.6 66.6h0M73.1 69.8h0M45 53.3h0M64.8 70.7h0M59.3 77.5h0M57.6 77.2h0M53 65.8h0M52.7 63.3h0M41.3 68.3h0M62.1 74.4h0M57.9 54.6h0M53.7 74.3h0M49.3 73h0M49.4 56.8h0M59 64.3h0M58.7 54.5h0M82.4 72.9h0M55.7 77.2h0M74.5 70.3h0M74.3 70.9h0M58.5 78.3h0M59.2 76.1h0M58.5 75.6h0M59.8 77h0M58.1 77.5h0M37.9 65.2h0M54.1 60.2h0M52.4 61h0M44.3 69.3h0M46.5 70.2h0M45.9 68.4h0M45.7 69.8h0M67 59.9h0M69 74.8h0M70.2 73.6h0M51.7 70.1h0M53.1 69.9h0M67.5 58.6h0M68.9 57.9h0M62.3 55.8h0M47.3 72.2h0M50.2 66.1h0M62.1 57.4h0M60.5 57.9h0M58.2 56.1h0M47 52.4h0M47 53.7h0M45.3 60.1h0M50.9 73.1h0M49.6 74.8h0M67.9 59.6h0M51.6 53.8h0M49.9 52.4h0M61.6 72.3h0M64.6 60.1h0M66.7 57.2h0M71.6 59.2h0M78.8 65.5h0M55.3 61.1h0M57 59.5h0M72.6 70.7h0M60.3 60.7h0M54 74.7h0M67.3 71h0M68.5 69.3h0M80.2 71.2h0M74.2 73.1h0M69.2 63.9h0M60.2 63.2h0M48.2 67.2h0M51.7 74.6h0M53.3 77.1h0M64.9 64.1h0M72.1 63.1h0M74.3 68.2h0M47.6 61.2h0M47.9 60.2h0M49.8 62h0M43.4 62.6h0M59.1 71.1h0M55.8 69.1h0M57.7 64.9h0M57.5 67.1h0M58.1 65.3h0M45.2 66.3h0M68.7 72.3h0M68.7 72.2h0M54.4 63.6h0M54.2 62h0M66 78.2h0M65.1 77.3h0M63.9 76.3h0M50.8 75.2h0M63.7 56h0M43.4 63.2h0M79.7 67.8h0M51.9 72.1h0M56.5 74.8h0M43.4 71h0M42.7 69.5h0M62.3 56.1h0M40.7 59.2h0M40.1 60.6h0M61.7 64.2h0M60.6 73.9h0M53 57.1h0M61.3 63.3h0M58.6 64.9h0M39.2 62.1h0M39.2 62.1h0M64.1 76.9h0M65.5 74.3h0M57.5 76.5h0M71.7 63.2h0M70.7 59.9h0M41.6 63.6h0M73.1 77.4h0M67.9 78.5h0M74.2 62.3h0M76.3 75.1h0M42.2 66.7h0M41.4 66.6h0M66.5 65h0M66 66h0M51.2 76.8h0M67.6 59.8h0M51.6 54.1h0M48.6 73h0M49.6 73.6h0M55.9 70.3h0M54.9 70.9h0M57.1 54.7h0M59.2 56.2h0M57.8 56h0M50.9 67.1h0M53.6 68.1h0M77.5 71.6h0M73.9 72.4h0M72.7 59h0M44.9 68.6h0M44.6 68.8h0M67.7 60.6h0M40.2 57.3h0M53.5 68.3h0M72.8 76h0M55.2 61h0M78.3 71.1h0M53.2 72.6h0M54.7 73.2h0"/></g><text x="124.19999999999999" y="79.30000000000001" font-size="7.4" fill="#222" text-anchor="end">CD34</text><text x="1.4" y="8.3" font-size="7.6" fill="#222">CD34</text><rect x="0" y="0" width="134.6" height="81.9" fill="none" stroke="#111" stroke-width="1.1"/><path d="M-3.2 17.3H0" stroke="#111" stroke-width="0.9"/><text x="-5.2" y="19.8" font-size="7.1" fill="#222" text-anchor="end">20</text><path d="M-3.2 37.1H0" stroke="#111" stroke-width="0.9"/><text x="-5.2" y="39.6" font-size="7.1" fill="#222" text-anchor="end">0</text><path d="M-3.2 56.9H0" stroke="#111" stroke-width="0.9"/><text x="-5.2" y="59.4" font-size="7.1" fill="#222" text-anchor="end">−20</text><path d="M-3.2 76.7H0" stroke="#111" stroke-width="0.9"/><text x="-5.2" y="79.2" font-size="7.1" fill="#222" text-anchor="end">−40</text><path d="M29 81.9v3.2" stroke="#111" stroke-width="0.9"/><text x="29" y="95.2" font-size="7.1" fill="#222" text-anchor="middle">−20</text><path d="M60.7 81.9v3.2" stroke="#111" stroke-width="0.9"/><text x="60.7" y="95.2" font-size="7.1" fill="#222" text-anchor="middle">0</text><path d="M92.4 81.9v3.2" stroke="#111" stroke-width="0.9"/><text x="92.4" y="95.2" font-size="7.1" fill="#222" text-anchor="middle">20</text><path d="M124.1 81.9v3.2" stroke="#111" stroke-width="0.9"/><text x="124.1" y="95.2" font-size="7.1" fill="#222" text-anchor="middle">40</text></g>
<g transform="translate(28.2,123)"><g fill="none" stroke-linecap="round" stroke-width="1.2"><use href="#up" stroke="#c3c3c3"/><use href="#lo" stroke="#c3c3c3"/><path stroke="#e01010" stroke-width="1.4" d="M37.5 23.9h0M79.7 19.3h0M56.2 9.3h0M54.7 8.9h0M39.2 33h0M27.2 42.7h0M71.7 16.9h0M20.2 46.5h0M19 45.7h0M21.2 47h0M36 43.3h0M32 22.1h0M17.7 42h0M31 37.8h0M31.8 35.9h0M80.8 29.9h0M43.1 6.4h0M113.8 43.3h0M79.2 23.1h0M31.6 18.1h0M20.6 18.3h0M20.9 16.4h0M69.1 29.1h0M79.5 25h0M72 12.5h0M83 27.7h0M9.4 34.7h0M89.9 45h0M72 18.4h0M119.8 46.7h0M84.3 15.7h0M28.5 46.4h0M63.9 31.6h0M78.6 15.7h0M110.4 44.7h0M36.8 16.6h0M37.9 15.1h0M87.5 19.1h0M37.8 17.2h0M79.3 15.5h0M58.3 12.5h0M23.6 18h0M11.7 38.2h0M68.6 8h0M81.3 24.8h0M81.1 23.2h0M21.7 29.6h0M22.6 28.5h0M105.7 29.1h0M77 30.9h0M23.3 41.1h0M17 21.2h0M77 14.9h0M97.9 26.3h0M118.2 46.5h0M75 19.5h0M65.1 31.7h0M9.9 39.4h0M64.9 34.2h0M10.1 38.4h0M29 15.4h0M82.2 15.5h0M112.6 28.9h0M79.6 25.5h0M115.6 35h0M75.2 10.6h0M63.4 15h0M23.4 31h0M69.8 41.6h0M76.9 32h0M31.2 17.1h0M20.2 29.1h0M19.4 29.8h0M18.2 18.7h0M126.8 37.7h0M90.8 39.2h0M36.9 13.5h0M69.6 27.2h0M35 16.5h0M65.7 13.6h0M52.9 12.8h0M68.3 31.7h0M19.8 23.5h0M97.5 29h0M101.2 45h0M26.1 26.3h0M77.9 45.2h0M80.4 47.6h0M124.6 32.9h0M64.5 20.2h0M22.5 14.4h0M30.4 47.8h0M116.6 42.5h0M32.9 26.4h0M105.7 29h0M45.3 20.3h0M90.8 24.2h0M85.3 52.8h0M62.6 11.3h0M47.5 10.1h0M46.4 11.7h0M35.9 11.8h0M28.3 33h0M73.7 21.9h0M117.5 30.1h0M16.3 26.4h0M14.4 28.2h0M124.7 41.1h0M47.6 8.2h0M60.1 31.2h0M11.4 29.1h0M61.6 30.1h0M30.6 32.6h0M64.3 22.5h0M63.9 23.4h0M124.2 34.1h0M61.9 27.3h0M78.6 14.1h0M80.1 15.8h0M77.3 21.6h0M79.3 14.9h0M79.9 14.7h0M68.1 20.4h0M54.2 9h0M23.8 41h0M19.4 39.8h0M54.6 20.3h0M15.8 23h0M74.1 21.6h0M71.5 18.9h0M72.7 20.5h0M36.4 36.6h0M79 25.8h0M126.7 42.7h0M76.9 24.9h0M77.9 18.4h0M13 35.6h0M64.6 9.5h0M30.9 48.7h0M73.4 8.6h0M15.6 17.7h0M119.2 39.6h0M96.8 40.5h0M73.1 13.6h0M56.8 40.7h0M80.3 11.8h0M77.5 10.8h0M72.1 19.6h0M26.2 50.8h0M83.6 17h0M90.8 23h0M33 24.3h0M73.4 14.7h0M48.3 16.1h0M57.8 26.3h0M26.5 43.1h0M85.7 28.5h0M33.5 25.1h0M65.8 8h0M66.2 9h0M74.1 22.6h0M90.2 38h0M21 42h0M8.1 26.2h0M19.6 20.1h0M58 13.6h0M59.8 14.1h0M82 21.1h0M34.2 34.8h0M83.3 28.6h0M69.7 37.7h0M6.2 32.7h0M81.3 51.9h0M27.4 41.5h0M19.2 40.4h0M19 40h0M92 24.4h0M90.9 14.7h0M32.8 21.5h0M115.7 34.5h0M6.8 31.5h0M106.9 39.3h0M35 41h0M96.6 20.6h0M19.9 18.1h0M16.8 25.5h0M54.8 19.4h0M17.5 33.9h0M15.3 34.3h0M103.9 27.1h0M41.1 23.7h0M98.1 28h0M78.3 33.6h0M86.1 25.4h0M99 14.3h0M9.6 18.3h0M56.8 54.6h0M41.8 65h0M59.1 56.2h0M77.1 73.6h0M70 62.7h0M45.7 55.7h0M74.4 68.2h0M44.9 70h0M63.5 54.6h0M72.9 64.1h0M59.2 58.8h0M56.8 62.7h0M56.7 74.5h0M56.4 74.1h0"/></g><text x="124.19999999999999" y="79.60000000000001" font-size="7.4" fill="#222" text-anchor="end">CD90</text><text x="1.4" y="8.3" font-size="7.6" fill="#222" textLength="37.5" lengthAdjust="spacingAndGlyphs">THY1:CD90</text><rect x="0" y="0" width="134.6" height="82.2" fill="none" stroke="#111" stroke-width="1.1"/><path d="M-3.2 17.3H0" stroke="#111" stroke-width="0.9"/><text x="-5.2" y="19.8" font-size="7.1" fill="#222" text-anchor="end">20</text><path d="M-3.2 37.1H0" stroke="#111" stroke-width="0.9"/><text x="-5.2" y="39.6" font-size="7.1" fill="#222" text-anchor="end">0</text><path d="M-3.2 56.9H0" stroke="#111" stroke-width="0.9"/><text x="-5.2" y="59.4" font-size="7.1" fill="#222" text-anchor="end">−20</text><path d="M-3.2 76.7H0" stroke="#111" stroke-width="0.9"/><text x="-5.2" y="79.2" font-size="7.1" fill="#222" text-anchor="end">−40</text><path d="M29 82.2v3.2" stroke="#111" stroke-width="0.9"/><text x="29" y="95.5" font-size="7.1" fill="#222" text-anchor="middle">−20</text><path d="M60.7 82.2v3.2" stroke="#111" stroke-width="0.9"/><text x="60.7" y="95.5" font-size="7.1" fill="#222" text-anchor="middle">0</text><path d="M92.4 82.2v3.2" stroke="#111" stroke-width="0.9"/><text x="92.4" y="95.5" font-size="7.1" fill="#222" text-anchor="middle">20</text><path d="M124.1 82.2v3.2" stroke="#111" stroke-width="0.9"/><text x="124.1" y="95.5" font-size="7.1" fill="#222" text-anchor="middle">40</text></g>
<g transform="translate(185.7,123)"><g fill="none" stroke-linecap="round" stroke-width="1.2"><use href="#up" stroke="#c3c3c3"/><use href="#lo" stroke="#c3c3c3"/><path stroke="#e01010" stroke-width="1.4" d="M82.4 28.6h0M85.4 45.1h0M47.6 13.1h0M27.2 42.7h0M77.2 44.4h0M76.9 14.9h0M40.7 43.3h0M118.6 39.3h0M82.1 34.8h0M22.7 29.7h0M107.2 44.2h0M80.8 29.9h0M37.6 30.3h0M22.9 47.8h0M95.2 35.3h0M33 27.8h0M54.9 32.3h0M101.1 39.4h0M36.1 25h0M80.6 34.2h0M79.1 33.3h0M80.5 38.4h0M96.9 35.9h0M88.4 48.6h0M43.5 36.4h0M22.2 42.9h0M20.2 42.2h0M54.9 17h0M66.7 36.2h0M63.5 35.7h0M90.1 18.4h0M36.8 16.6h0M72.8 38.3h0M84.9 19.7h0M82.5 21.2h0M37.8 17.2h0M75.1 39.1h0M73.4 40.2h0M12.4 42.6h0M72.1 8.8h0M39.5 38h0M9.5 30.3h0M8.1 28h0M118.2 46.5h0M66.4 32.2h0M64.9 38h0M87.8 33.5h0M51.1 29.6h0M27.3 47.8h0M20.3 19h0M28.6 15.9h0M89.5 45.7h0M105.3 39.3h0M59.7 30h0M24.4 33.4h0M56.8 31.1h0M53.8 41.9h0M86.7 49.3h0M44.3 43.9h0M45.4 43.9h0M42 29.8h0M30.1 34.6h0M67 41h0M45.6 42.5h0M44.8 43h0M25.8 50.2h0M74.6 33.1h0M80.2 32.8h0M32.8 18.1h0M19.4 29.8h0M20.8 29.6h0M93 22.9h0M85.2 52h0M85.9 51h0M47.3 38.8h0M36 34.1h0M89.8 38.5h0M52.6 30h0M81.2 48.3h0M89.2 45.2h0M113.7 30.1h0M83 49.2h0M79.5 47.9h0M81 48.1h0M83.4 31.4h0M59.5 31.1h0M47.8 38h0M51.3 35.6h0M46.8 29.6h0M70.6 10.4h0M79.4 46.8h0M91.1 29.1h0M121.6 32.5h0M79.9 43.7h0M21.1 15.4h0M90 44.1h0M52.6 34.1h0M54.7 33.6h0M47.3 24.4h0M48.6 39.1h0M72.7 23.2h0M29.8 12.9h0M63.1 32.4h0M63 41.5h0M67.3 15h0M80.5 44.2h0M79.4 25.2h0M16.3 26.4h0M105.5 37.5h0M11.4 29.1h0M75.6 30.1h0M37 20.2h0M41.2 25h0M33.9 19.5h0M96.8 42h0M53.7 31h0M29.8 48.4h0M90.8 26.5h0M38.6 18.1h0M28.2 27.7h0M72.2 9.4h0M97.9 39.9h0M88.3 33.8h0M41.8 7.2h0M97 34.1h0M54.7 19.4h0M49.2 32h0M45.4 31.3h0M44.4 31.4h0M83.8 48.4h0M87.5 41.3h0M15.3 21.7h0M61.2 35.2h0M70.1 36.3h0M19.3 15.6h0M46.2 44h0M104.5 34.3h0M80.7 50.5h0M35.4 24h0M35.2 24.8h0M94.3 37h0M38.1 19.7h0M57.4 40.6h0M71.5 14.9h0M8.5 35.9h0M68.9 31.5h0M82.3 12.1h0M84.3 17.1h0M98.3 45.4h0M74.4 45.8h0M68.7 33h0M37.8 20.2h0M36.9 21.7h0M45.3 26.7h0M31.5 48.6h0M79.8 38.6h0M59.4 32.3h0M87 37.7h0M124.6 35.6h0M51.3 30.6h0M77.4 42.7h0M71.7 45.2h0M71.4 42.4h0M98.6 39.1h0M8.1 26.2h0M70.9 38.4h0M82.2 52.2h0M92.2 36.1h0M91.9 34.3h0M104.3 33.8h0M88.2 34.9h0M53.7 35.4h0M53.3 34.7h0M51.5 42.8h0M52.9 44h0M49.7 35.4h0M79.5 37.9h0M14.6 33h0M48.6 43h0M53.8 39.2h0M77.7 30.7h0M77.4 31.4h0M65.7 37h0M69 34.1h0M109.7 48.5h0M55.4 40.3h0M48.4 32.5h0M77.5 24.1h0M81 32.5h0M79.6 22.2h0M29.2 14.9h0M47.4 43.8h0M38.9 52.1h0M43.3 46.9h0M45.5 45.3h0M60.5 53.8h0M62.5 62.9h0M50.2 63.4h0M42.5 58.9h0M67.9 62.7h0M38.5 66.8h0M50.5 63.6h0M56.4 59.8h0M70.5 62h0M77.5 71.6h0"/></g><text x="124.1" y="79.60000000000001" font-size="7.4" fill="#222" text-anchor="end">CD49f</text><text x="1.4" y="8.3" font-size="7.6" fill="#222" textLength="46" lengthAdjust="spacingAndGlyphs">ITGA6:CD49F</text><rect x="0" y="0" width="134.5" height="82.2" fill="none" stroke="#111" stroke-width="1.1"/><path d="M-3.2 17.3H0" stroke="#111" stroke-width="0.9"/><text x="-5.2" y="19.8" font-size="7.1" fill="#222" text-anchor="end">20</text><path d="M-3.2 37.1H0" stroke="#111" stroke-width="0.9"/><text x="-5.2" y="39.6" font-size="7.1" fill="#222" text-anchor="end">0</text><path d="M-3.2 56.9H0" stroke="#111" stroke-width="0.9"/><text x="-5.2" y="59.4" font-size="7.1" fill="#222" text-anchor="end">−20</text><path d="M-3.2 76.7H0" stroke="#111" stroke-width="0.9"/><text x="-5.2" y="79.2" font-size="7.1" fill="#222" text-anchor="end">−40</text><path d="M29 82.2v3.2" stroke="#111" stroke-width="0.9"/><text x="29" y="95.5" font-size="7.1" fill="#222" text-anchor="middle">−20</text><path d="M60.7 82.2v3.2" stroke="#111" stroke-width="0.9"/><text x="60.7" y="95.5" font-size="7.1" fill="#222" text-anchor="middle">0</text><path d="M92.4 82.2v3.2" stroke="#111" stroke-width="0.9"/><text x="92.4" y="95.5" font-size="7.1" fill="#222" text-anchor="middle">20</text><path d="M124.1 82.2v3.2" stroke="#111" stroke-width="0.9"/><text x="124.1" y="95.5" font-size="7.1" fill="#222" text-anchor="middle">40</text></g>
<g transform="translate(28.2,223.4)"><g fill="none" stroke-linecap="round" stroke-width="1.2"><use href="#up" stroke="#c3c3c3"/><use href="#lo" stroke="#c3c3c3"/><path stroke="#e01010" stroke-width="1.4" d="M53.1 7.5h0M79.8 28.5h0M79.5 30.9h0M99.8 34.7h0M118.2 33.9h0M80.6 39.8h0M105.7 29.1h0M99.3 46.2h0M87.8 27.3h0M16.3 26.1h0M80.9 28h0M13.3 19.4h0M88.3 33.8h0M90.1 42.6h0M80.3 18.7h0M97.5 38.8h0M78.7 23.7h0M81.3 52.8h0M79.9 12.8h0M91.7 23.1h0M81.3 50h0M116.8 43.4h0M94.4 22.9h0M49.6 24h0M80.8 30.6h0M75.5 9.2h0M12.4 19.5h0M48.4 32.5h0M64.3 65.9h0M59.8 66.8h0M58.5 59.2h0M77.5 73.2h0M67.5 60.8h0M59.7 62.3h0M43.1 65.5h0M57.1 63.8h0M53.3 58.6h0M79.9 67.4h0M43.2 68.6h0M60.8 56.8h0M61.5 64.2h0M62.3 55.8h0M63.5 66.5h0M53.9 74.4h0M52.6 66.3h0M55.1 68.8h0M59.7 65h0M55.2 62.4h0M53.2 58.1h0M57.4 70.4h0M77.5 68.7h0M54.5 60.1h0M56.5 70.1h0M80.3 71.2h0M44.7 58.3h0M48 65.5h0M49.8 63.9h0"/></g><text x="124.6" y="79.60000000000001" font-size="7.4" fill="#222" text-anchor="end">CD38</text><text x="1.4" y="8.3" font-size="7.6" fill="#222">CD38</text><rect x="0" y="0" width="135" height="82.2" fill="none" stroke="#111" stroke-width="1.1"/><path d="M-3.2 17.3H0" stroke="#111" stroke-width="0.9"/><text x="-5.2" y="19.8" font-size="7.1" fill="#222" text-anchor="end">20</text><path d="M-3.2 37.1H0" stroke="#111" stroke-width="0.9"/><text x="-5.2" y="39.6" font-size="7.1" fill="#222" text-anchor="end">0</text><path d="M-3.2 56.9H0" stroke="#111" stroke-width="0.9"/><text x="-5.2" y="59.4" font-size="7.1" fill="#222" text-anchor="end">−20</text><path d="M-3.2 76.7H0" stroke="#111" stroke-width="0.9"/><text x="-5.2" y="79.2" font-size="7.1" fill="#222" text-anchor="end">−40</text><path d="M29 82.2v3.2" stroke="#111" stroke-width="0.9"/><text x="29" y="95.5" font-size="7.1" fill="#222" text-anchor="middle">−20</text><path d="M60.7 82.2v3.2" stroke="#111" stroke-width="0.9"/><text x="60.7" y="95.5" font-size="7.1" fill="#222" text-anchor="middle">0</text><path d="M92.4 82.2v3.2" stroke="#111" stroke-width="0.9"/><text x="92.4" y="95.5" font-size="7.1" fill="#222" text-anchor="middle">20</text><path d="M124.1 82.2v3.2" stroke="#111" stroke-width="0.9"/><text x="124.1" y="95.5" font-size="7.1" fill="#222" text-anchor="middle">40</text></g>
<g font-size="7.4" fill="#111"><rect x="188.3" y="238.6" width="130.2" height="14.6" fill="#dcdcdc"/><rect x="188.3" y="268.6" width="130.2" height="14.6" fill="#dcdcdc"/><rect x="186.9" y="224.1" width="132.9" height="74" fill="none" stroke="#111" stroke-width="1.1"/><path d="M186.9 238.1H319.8M248.4 224.1V238.1M284.2 224.1V238.1" stroke="#111" stroke-width="1.1"/><text x="217.4" y="234.6" text-anchor="middle">HSC Markers</text><text x="266.3" y="234.6" text-anchor="middle">Day 0</text><text x="302" y="234.6" text-anchor="middle">Day 2</text><text x="194.6" y="249.2">CD34</text><text x="266.2" y="249.2" text-anchor="middle">19.24%</text><text x="302" y="249.2" text-anchor="middle">33.90%</text><text x="194.6" y="264.6">CD90</text><text x="266.2" y="264.6" text-anchor="middle">0.16%</text><text x="302" y="264.6" text-anchor="middle">9.56%</text><text x="194.6" y="279.4">CD49f</text><text x="266.2" y="279.4" text-anchor="middle">0.18%</text><text x="302" y="279.4" text-anchor="middle">6.12%</text><text x="194.6" y="294.6">CD38</text><text x="266.2" y="294.6" text-anchor="middle">3.82%</text><text x="302" y="294.6" text-anchor="middle">1.16%</text></g>
<g><text transform="translate(364.1,61) rotate(-90)" font-size="9.2" fill="#111" text-anchor="middle" textLength="92" lengthAdjust="spacingAndGlyphs">CD90 gene expression</text><text transform="translate(374.9,60.7) rotate(-90)" font-size="9.2" fill="#111" text-anchor="middle" textLength="102.6" lengthAdjust="spacingAndGlyphs">in normalized Log2(cpm)</text><path d="M393.3 22.6V102H506.3" fill="none" stroke="#111" stroke-width="1.1"/><path d="M390.3 25.2H393.3" stroke="#111" stroke-width="1"/><text x="386" y="27.7" font-size="7.2" fill="#222" text-anchor="end">4</text><path d="M390.3 34.8H393.3" stroke="#111" stroke-width="1"/><text x="386" y="37.3" font-size="7.2" fill="#222" text-anchor="end">3</text><path d="M390.3 44.3H393.3" stroke="#111" stroke-width="1"/><text x="386" y="46.8" font-size="7.2" fill="#222" text-anchor="end">2</text><path d="M390.3 53.9H393.3" stroke="#111" stroke-width="1"/><text x="386" y="56.4" font-size="7.2" fill="#222" text-anchor="end">1</text><path d="M390.3 63.4H393.3" stroke="#111" stroke-width="1"/><text x="386" y="65.9" font-size="7.2" fill="#222" text-anchor="end">0</text><path d="M390.3 72.9H393.3" stroke="#111" stroke-width="1"/><text x="386" y="75.4" font-size="7.2" fill="#222" text-anchor="end">-1</text><path d="M390.3 82.5H393.3" stroke="#111" stroke-width="1"/><text x="386" y="85" font-size="7.2" fill="#222" text-anchor="end">-2</text><path d="M390.3 92H393.3" stroke="#111" stroke-width="1"/><text x="386" y="94.5" font-size="7.2" fill="#222" text-anchor="end">-3</text><path d="M390.3 101.6H393.3" stroke="#111" stroke-width="1"/><text x="386" y="104.1" font-size="7.2" fill="#222" text-anchor="end">-4</text><path d="M412.4 102v2.6" stroke="#111" stroke-width="1"/><text x="412.4" y="115.6" font-size="7.6" fill="#111" text-anchor="middle">Day0</text><path d="M450.1 102v2.6" stroke="#111" stroke-width="1"/><text x="450.1" y="115.6" font-size="7.6" fill="#111" text-anchor="middle">Day2</text><path d="M487.6 102v2.6" stroke="#111" stroke-width="1"/><text x="487.6" y="115.6" font-size="7.6" fill="#111" text-anchor="middle">Day4</text><path d="M396.2 23.3h6.8" stroke="#1d3c8c" stroke-width="1"/><rect x="398.6" y="22.3" width="2" height="2" fill="#1d3c8c"/><text x="406" y="25.8" font-size="7" fill="#111">PC</text><path d="M396.2 32.8h6.8" stroke="#858585" stroke-width="1"/><path d="M398.2 33.8h2.8l-1.4 -2.1z" fill="#858585"/><text x="406" y="35.3" font-size="7" fill="#111">Cyt</text><path d="M396.2 42.3h6.8" stroke="#b8123c" stroke-width="1"/><path d="M398 41.2h3.2l-1.6 2.4z" fill="#b8123c"/><text x="406" y="44.8" font-size="7" fill="#111">Cyt+VPA</text><path d="M394 63.5H507.5" stroke="#555" stroke-width="0.8" stroke-dasharray="0.9 1.3"/><path d="M412.4 82.3L450.1 82.4L487.6 81.9" fill="none" stroke="#858585" stroke-width="1.1"/><path d="M450.1 79.3V83.8M448.3 79.3h3.6M448.3 83.8h3.6" stroke="#858585" stroke-width="0.9" fill="none"/><path d="M448.6 83.2h3l-1.5 -2.2z" fill="#858585"/><path d="M487.6 76.4V83.4M485.8 76.4h3.6M485.8 83.4h3.6" stroke="#858585" stroke-width="0.9" fill="none"/><path d="M486.1 83.2h3l-1.5 -2.2z" fill="#858585"/><path d="M412.4 78.2V83.6M410.4 78.2h4M410.4 83.6h4" stroke="#1d3c8c" stroke-width="1" fill="none"/><rect x="411" y="80" width="2.8" height="3" fill="#1d3c8c"/><path d="M412.6 81L450.1 30.3L487.6 32.2" fill="none" stroke="#b8123c" stroke-width="1.3"/><path d="M448.1 29.2h4l-2 3zM485.6 31.1h4l-2 3z" fill="#b8123c"/></g>
<g><text transform="translate(363.8,189.8) rotate(-90)" font-size="9.2" fill="#111" text-anchor="middle" textLength="94.5" lengthAdjust="spacingAndGlyphs">CD49f gene expression</text><text transform="translate(374.9,188.9) rotate(-90)" font-size="9.2" fill="#111" text-anchor="middle" textLength="104" lengthAdjust="spacingAndGlyphs">in normalized Log2(cpm)</text><path d="M391 150V230.2H503.4" fill="none" stroke="#111" stroke-width="1.1"/><path d="M388 152.2H391" stroke="#111" stroke-width="1"/><text x="383.7" y="154.7" font-size="7.2" fill="#222" text-anchor="end">8</text><path d="M388 167.8H391" stroke="#111" stroke-width="1"/><text x="383.7" y="170.3" font-size="7.2" fill="#222" text-anchor="end">7</text><path d="M388 183.4H391" stroke="#111" stroke-width="1"/><text x="383.7" y="185.9" font-size="7.2" fill="#222" text-anchor="end">6</text><path d="M388 199H391" stroke="#111" stroke-width="1"/><text x="383.7" y="201.5" font-size="7.2" fill="#222" text-anchor="end">5</text><path d="M388 214.6H391" stroke="#111" stroke-width="1"/><text x="383.7" y="217.1" font-size="7.2" fill="#222" text-anchor="end">4</text><path d="M388 230.2H391" stroke="#111" stroke-width="1"/><text x="383.7" y="232.7" font-size="7.2" fill="#222" text-anchor="end">3</text><path d="M410.3 230.2v2.6" stroke="#111" stroke-width="1"/><text x="410.3" y="243.4" font-size="7.6" fill="#111" text-anchor="middle">Day0</text><path d="M448 230.2v2.6" stroke="#111" stroke-width="1"/><text x="448" y="243.4" font-size="7.6" fill="#111" text-anchor="middle">Day2</text><path d="M485.8 230.2v2.6" stroke="#111" stroke-width="1"/><text x="485.8" y="243.4" font-size="7.6" fill="#111" text-anchor="middle">Day4</text><path d="M393.9 150.4h6.8" stroke="#1d3c8c" stroke-width="1"/><rect x="396.3" y="149.4" width="2" height="2" fill="#1d3c8c"/><text x="403.7" y="152.9" font-size="7" fill="#111">PC</text><path d="M393.9 159.9h6.8" stroke="#858585" stroke-width="1"/><path d="M395.9 160.9h2.8l-1.4 -2.1z" fill="#858585"/><text x="403.7" y="162.4" font-size="7" fill="#111">Cyt</text><path d="M393.9 169.4h6.8" stroke="#b8123c" stroke-width="1"/><path d="M395.7 168.3h3.2l-1.6 2.4z" fill="#b8123c"/><text x="403.7" y="171.9" font-size="7" fill="#111">Cyt+VPA</text><path d="M410.3 181.3L448 185L485.8 212.3" fill="none" stroke="#858585" stroke-width="1.1"/><path d="M448 183.5V186.6M446.2 183.5h3.6M446.2 186.6h3.6" stroke="#858585" stroke-width="0.9" fill="none"/><path d="M446.5 186.1h3l-1.5 -2.2z" fill="#858585"/><path d="M485.8 210.3V214.3M484.0 210.3h3.6M484.0 214.3h3.6" stroke="#858585" stroke-width="0.9" fill="none"/><path d="M484.3 213.4h3l-1.5 -2.2z" fill="#858585"/><path d="M410.3 179V182.6M408.3 179h4M408.3 182.6h4" stroke="#1d3c8c" stroke-width="1" fill="none"/><rect x="408.9" y="179.4" width="2.8" height="2.8" fill="#1d3c8c"/><path d="M410.5 180.6L448 170.7L485.8 172.5" fill="none" stroke="#b8123c" stroke-width="1.3"/><path d="M446 169.6h4l-2 3zM483.8 171.4h4l-2 3z" fill="#b8123c"/></g>
<g><path d="M138.2 457.8h0M128.8 466.5h0M125.4 469.8h0M134.2 477.5h0M126 454.9h0M135.7 472.5h0M139 460.3h0M146.1 448.5h0M138.2 469.1h0M126.7 448.1h0M146 435.7h0M132.4 474.8h0M133.4 477.5h0M132.3 476.5h0M134.8 475.1h0M134.3 477h0M132.2 475.2h0M126.7 461.1h0M122.1 441.7h0M134.5 475.7h0M131.4 473.7h0M133.2 477.2h0M128.4 463h0M138.9 453.4h0M132.7 475.9h0M130.2 473.5h0M132.4 476.1h0M158 442.6h0M137.4 468.5h0M140.8 471.1h0M137.1 469h0M130.6 468.7h0M137.5 465.1h0M101.1 411.2h0M132.4 475h0M146.4 407.3h0M107 453.5h0M145.3 439.2h0M131.6 468h0M130.9 465.3h0M124.5 454.3h0M147.8 450.9h0M139.8 440.1h0M140 461.6h0M124.9 455h0M145.8 443.2h0M154 403.7h0M135.9 472.1h0M139.2 461.5h0M128.6 460h0M147.8 415.8h0M139.4 467.5h0M141.5 441.9h0M132.2 475.6h0M141.3 449.6h0M145.1 424.6h0M121.3 443.4h0M137.8 467.8h0M132.9 476.3h0M134.9 474.3h0M139.6 461.2h0M133.7 478.6h0M140.8 469.4h0M145.2 450.5h0M124.1 451.8h0M133.1 476.4h0M157.5 407.3h0M160.8 440.8h0M132.1 472.8h0M130.4 459.6h0M114.4 437.4h0M129.6 465.1h0M133.6 478.3h0M131.3 471.8h0M132.7 476h0M141.7 444.1h0M132.3 474.5h0M144.9 440.1h0M131.8 472.4h0M135.2 471.9h0M125 457.5h0M141.5 458h0M131.2 470h0M120.8 449.5h0M138.5 463h0M123.1 462.8h0M138 459.6h0M147.5 450.2h0M132.4 475.1h0M141.3 465.8h0M125.1 456.2h0M140 456.4h0M137.4 463h0M141.2 448.6h0M153.5 421.1h0M150.4 409.7h0M148.1 402.8h0M134.7 474.5h0M135.7 475.8h0M130.6 469.9h0M132.2 474.9h0M133.2 475.7h0M148.1 444.5h0M140 455h0M135 474.1h0M147.3 401.2h0M144.4 460.1h0M144.1 443h0M129.9 468.4h0M129.4 466.5h0M142.6 442.6h0M121.9 455.9h0M135.9 469.9h0M122.9 436.7h0M141.3 443.6h0M117.2 446.7h0M138.2 460h0M136.6 471h0M118 451.9h0M129.9 470.3h0M123.1 443h0M131.4 473.7h0M136.2 472.3h0M140.4 455.1h0M112 456.1h0M122.9 433.1h0M140.4 450.8h0M144.5 456.6h0M132.1 473h0M113.3 447.3h0M135.2 473.7h0M120.2 439.7h0M133.5 477.5h0M129.6 467.6h0M120.9 456.8h0M140.3 451.3h0M139.3 460.7h0M139.3 461.4h0M131.8 473.6h0M131.7 475.8h0M130 467.7h0M143.7 452.2h0M128.3 471.6h0M133.6 477.8h0M140.2 462.4h0M133.2 477.2h0M129.8 467.1h0M137.3 466.3h0M130.7 475.6h0M132.2 472.8h0M141.7 447.3h0M127.8 465.1h0M128.1 467.3h0M136.1 476.2h0M123.7 453.1h0M144.8 446.6h0M136.7 468.9h0M150 440.4h0M156.3 404.4h0M114 438.2h0M139.7 463.7h0M126 467.6h0M136 472.4h0M115.6 433.6h0M125.8 454.4h0M129.9 465.3h0M120.5 438h0M145.9 432.8h0M134.6 476.2h0M120.5 455.3h0M129.4 466.1h0M131.9 471.7h0M125.3 459.5h0M131.2 465.6h0M124.6 437.8h0M129.1 453.2h0M137.8 462.6h0M137.8 464.8h0M144.5 462.4h0M143.9 467.9h0M134.3 476.9h0M157.2 407.6h0M135.8 470.8h0M130.1 473.7h0M143.5 436.8h0M136 469.8h0M122.3 459h0M131.9 474.5h0M137.3 464.4h0M143.8 447h0M136.1 459.8h0M141.7 451.2h0M152.1 418.4h0M133.8 478.8h0M133.3 476.7h0M150.5 459.4h0M154.5 421h0M150.2 455.5h0M143.7 425.9h0M138 460.1h0M127 458.8h0M163.3 426.3h0M131.2 470.7h0M133.7 478.6h0M115.9 454.9h0M141 455.8h0M137.2 470h0M107.8 435h0M134.4 475.9h0M123.7 465.9h0M127.8 472.4h0M156.5 403.6h0M141.8 447.9h0M128.4 468.7h0M133.6 478.3h0M140.5 447.6h0M157.2 427h0M124.4 453.8h0M132.7 476.2h0M120.6 447.4h0M118.6 429h0M129 464h0M118.3 433.3h0M134.5 474.5h0M130.2 464.7h0M127.4 449.6h0M118.4 448.9h0M150.6 453.5h0M133.6 478.2h0M139.9 446.9h0M137.7 464.5h0M127.8 473.2h0M137.9 464.3h0M127.6 464.4h0M134.1 477.7h0M130.7 467.9h0M144.3 444.1h0M126.5 464.6h0M126.1 460.2h0M134.8 477.1h0M127.4 456.1h0M132.9 476.5h0M138.2 463.8h0M137 470.7h0M153.4 406.9h0M130.8 465.1h0M125.8 455.2h0M136.1 470.5h0M134.3 476.9h0M128 467.8h0M132.3 472.5h0M137.2 459.8h0M152.4 402.8h0M130.1 467.8h0M135 472.1h0M118.1 442.3h0M153.4 410.4h0M108.3 449h0M133.2 477.4h0M135.5 472.9h0M137.2 465h0M131.4 472.3h0M136.8 469.2h0M104.5 408.8h0M141.9 451.6h0M147.3 430.6h0M136.5 469.1h0M156.8 411.3h0M129.6 470.5h0M132.6 475.4h0M150 433.5h0M144.9 423.4h0M125.3 452.8h0M136.1 470.8h0M145.4 432.3h0M139.1 458.3h0M140.9 441.6h0M130.6 474.7h0M137.1 469.7h0M120 437.9h0M132.8 476.1h0M137.6 467.6h0M133.2 477.2h0M132.4 473.7h0M144.4 432.9h0M143.9 436.3h0M133.5 478.1h0M145.6 464h0M134.4 476.4h0M144.1 439.5h0M140 460.4h0M131.1 471.7h0M120.6 465.9h0M118.8 444.5h0M128 466.3h0M126.4 452.7h0M135.1 473.5h0M137.5 460.1h0M144.5 419.9h0M134.4 476.6h0M132.5 475.3h0M153.7 402.5h0M115 431.4h0M153.6 408.3h0M137.3 464.4h0M158.8 435.1h0M134.2 477.6h0M134 477.8h0M145.4 442.4h0M135.3 474.1h0M144.4 441.8h0M136.3 468.5h0M134.2 477.6h0M135.2 471.6h0M124.4 428.1h0M134.7 476h0M136.3 467h0M135.1 473.7h0M135.6 470.7h0M136.9 462.5h0M144.8 443.1h0M139 465.4h0M139.1 452.6h0M135.9 470.1h0M135.7 469.8h0M129.1 467.9h0M121.8 457.3h0M125.5 454.6h0M152.7 415.9h0M137.9 474.5h0M136 465.5h0M127 459.2h0M139.1 455.5h0M143.6 455.2h0M151.3 414.3h0M143.9 444.4h0M113.9 454.5h0M147 437.8h0M135.8 470.3h0M134.4 476.9h0M143.9 442.6h0M135.2 473.5h0M126.5 471.5h0M152.7 441.4h0M140.7 466.7h0M128.9 457.9h0M151.5 426h0M130 470.7h0M128.3 463.7h0M108.8 449.7h0M137.8 463.8h0M102.4 447.6h0M133.9 478h0M149.4 431h0M131 470.3h0M131.6 466.5h0M132.6 475.5h0M146.8 458.9h0M134 478.2h0M132 474.4h0M136.7 469.9h0M134.4 476.4h0M140.6 462.9h0M128.5 460.4h0M117.7 430.8h0M112.2 434h0M133.1 476.6h0M144.9 437.2h0M147.2 429.5h0M112.5 438.2h0M133.3 476.1h0M118 437.5h0M136.4 471.1h0M138.7 465.3h0M131 473.2h0M126.4 455.5h0M146.8 445h0M134.9 474.2h0M136.8 463.5h0M157.8 437.2h0M136.5 469.3h0M130.7 473.7h0M157.3 448.9h0M136.1 471.7h0M128.3 454h0M140.2 444.1h0M140.8 464.4h0M138.7 453.6h0M142.9 452.1h0M120.7 463h0M113.3 445.4h0M118.9 444.1h0M137.2 470.9h0M125.3 434.6h0M121.8 443.7h0M123.4 450.5h0M136.2 469.1h0M128.2 464.9h0M121.8 445.6h0M123.4 438.2h0M133.5 478.2h0M134.7 475.1h0M147.9 422.7h0M135.1 472.3h0M133.7 478.5h0M142.6 451.4h0M132.8 476.4h0M117.1 430.2h0M132.5 475h0M130.7 467.6h0M137.4 462.4h0M130.7 468.3h0M153.7 442.7h0M136.9 468.8h0M101.8 411h0M140 461.1h0M135.4 469h0M155.2 443.6h0M118.2 440h0M137 466.4h0M126.6 459.1h0M145.5 465.4h0M137.7 466.3h0M107.3 453.7h0M145.3 445.8h0M145.3 443h0M130 468.1h0M143.1 438.6h0M140.7 447.7h0M105.2 437.1h0M119.9 463h0M146.5 411.7h0M135.2 475.3h0M129.1 466.6h0M139.2 457.5h0M144.2 462.9h0M138.3 461h0M148.2 422.5h0M140 463.3h0M131.4 465.5h0M149.3 428.2h0M118.2 459.9h0M144.4 448.2h0M131.7 469.6h0M135.8 467h0M122.7 438.6h0M137.6 465.2h0M138.3 465.6h0M134.1 476.9h0M137.3 463.7h0M140.2 459.2h0M133.9 478.5h0M160.8 452.1h0M128.7 463.1h0M137.9 467.6h0M148.3 437.2h0M146.8 431.7h0M138.8 468.8h0M111.5 407.6h0M122.4 452.1h0M127.3 454h0M149.1 448.6h0M140.6 453.1h0M150.2 445h0M143 461.2h0M137.7 467.4h0M128.6 459.9h0M134.5 475.1h0M162.3 403h0M135.6 474.9h0M133.6 478.3h0M141.3 458.6h0M119.5 452.9h0M153.7 452.6h0M140.2 452.2h0M139.4 453.5h0M103.4 411.1h0M139.9 469.8h0M132.7 477.1h0M124.9 457.1h0M136.6 471h0M133.5 478.2h0M129.8 468.7h0M146.5 430.2h0M138.4 472.2h0M134.4 475h0M120.5 414.4h0M132.2 472.9h0M129 471.6h0M136.5 470.1h0M135.9 469.4h0M138.4 457.7h0M129.2 462.6h0M146.4 446.8h0M132.9 477.4h0M120.6 452.2h0M136.3 466.1h0M128.9 464.5h0M134.6 477.9h0M119 430.5h0M133.3 477.4h0M141.1 458.3h0M143.4 459.1h0M140.8 454.6h0M126.1 469.9h0M118.6 410.5h0M144.9 450.6h0M116.6 460.5h0M132.9 476.8h0M132.9 478h0M124.7 457.1h0M131.9 477h0M130.8 465.7h0M135.3 469.8h0M131.3 471.8h0M132.6 475.5h0M136.8 459.4h0M131.9 473.6h0M145.2 416.6h0M145.3 440.3h0M133 476.8h0M132.5 474.6h0M140.7 465.7h0M131.8 475.2h0M110.9 439.7h0M141.6 459.6h0M128.6 466.9h0M135.4 472h0M131.8 468.3h0M125.4 457.3h0M122.7 442h0M128.3 467.2h0M137 467.9h0M139.5 456.6h0M134.7 476.4h0M137.9 458h0M149.7 432.1h0M127.5 462.9h0M113.6 413.3h0M134.6 477.2h0M139.6 439.2h0M138.9 458.3h0M132.9 475.3h0M140.2 450.2h0M141.4 449.8h0M137.2 462.8h0M138 466.8h0M124.4 442.1h0M141.2 452.8h0M135.7 475.8h0M127.8 464.7h0M139.6 464.7h0M142.3 449.1h0M137.7 458.4h0M137.6 461.4h0M118.6 438.7h0M144.2 458.8h0M152.7 424.2h0M147.6 425.5h0M128 449.9h0M124 438.4h0M138.7 470.5h0M129.8 466.5h0M158.4 407h0M106.9 451.3h0M136.2 467.8h0M120.9 444h0M129.3 457.8h0M128.5 466.7h0M135.4 473.6h0M124.7 458.4h0M137.7 469.3h0M138.1 466.9h0M131.2 468.7h0M143.9 458.9h0M141.3 459.8h0M132.2 474.1h0M134.1 477.2h0M136.8 462.9h0M139.8 459.7h0M121.8 454.1h0M124.6 465.9h0M138.3 474h0M147.1 441.1h0M126.3 457.8h0M135.2 475.5h0M134.2 477.1h0M135 474.7h0M148.6 438.3h0M134.3 477.4h0M133.3 477.8h0M137.8 460h0M138.2 459h0M110 408.1h0M139.1 457.7h0M144.1 414.1h0M138.9 461.1h0M143.9 449.8h0M145.1 434.8h0M136.9 464.8h0M130.5 466h0M113.4 446.6h0M129.3 464.5h0M123 453.5h0M154.3 441.9h0M141.4 450.6h0M157.7 452.8h0M121.9 456.5h0M127.9 457.2h0M142.5 455.5h0M125.9 456.5h0M127.5 464.4h0M148.9 412.3h0M125.7 450.6h0M141.7 456.4h0M131.8 467.9h0M131.2 472.7h0M131 466.8h0M137.9 464.9h0M131.4 472.4h0M130.4 473.9h0M136 469.7h0M123.3 457.9h0M130.1 467.8h0M149.5 429.2h0M132.7 472.5h0M136 466.4h0M141.8 426.6h0M125 467.8h0M132.6 474.4h0M149 441.2h0M137.1 465.9h0M133.4 477.2h0M143.1 443.4h0M137.7 467.2h0M143.6 454.3h0M136.3 469.8h0M139.6 452.2h0M138.7 457.5h0M141.5 449.9h0M128 465.5h0M140.5 460h0M135.6 471.3h0M134.3 477.8h0M130.4 473.5h0M124.7 449.4h0M117.4 442.3h0M133.4 476.9h0M142.1 457.3h0M138.6 474h0M134.6 475.3h0M116.2 442.9h0M121.4 463.2h0M122.9 464h0M134 478.3h0M135.4 476.6h0M111 424.4h0M149.7 428.8h0M132.9 477.9h0M132.2 474.9h0M140.2 467.3h0M155.8 448.9h0M112.8 458.1h0M158.1 441.5h0M134.2 476.8h0M137.2 468.6h0M128.9 451.1h0M133.4 477.8h0M142.3 456.3h0M136.3 466.9h0M154.5 405.7h0M144.8 454.1h0M144.3 440.5h0M139.8 472.6h0M147.5 438.2h0M149.9 416.6h0M134.2 477.4h0M133.6 477.8h0M135.5 472.2h0M132.7 475.6h0M138.5 457.8h0M134 477.6h0M119.8 441.2h0M129 465.4h0M130.1 470.8h0M125.2 470.4h0M142.8 443.1h0M131.2 470.2h0M120.8 455.6h0M113.1 423.6h0M148 433.8h0M136.6 469.1h0M148.1 421h0M131.5 471h0M129 464.8h0M133.8 478.8h0M143.3 448.7h0M147 459.3h0M131.2 465.1h0M135.1 467.7h0M123.7 452.6h0M127.1 462.3h0M146.3 439.9h0M133.5 477.3h0M138.4 460.5h0M114.6 430.3h0M136 471.1h0M134.4 476.8h0M139 466.3h0M151.6 414.9h0M156.1 419.8h0M109.8 441.6h0M132.3 473.5h0M129.4 466.5h0M129.2 468.3h0M134.5 476.3h0M128.7 463h0M131.9 472.8h0M134 478.5h0M120.8 440.8h0M127.2 459.5h0M146.9 433.8h0M156.5 410.3h0M133.4 478h0M132.1 474.8h0M123.2 434.6h0M114.3 446.6h0M115.9 461.3h0M135.2 470.3h0M135.6 473.3h0M125.8 465.2h0M132.3 475.7h0M141.1 448.1h0M135.9 473.1h0M107.5 448.5h0M127.7 455.4h0M120.3 452.7h0M138.5 465.9h0M142 445.3h0M128.6 461.1h0M147.7 403.4h0M134.6 475.1h0M136 470.1h0M119.8 442.7h0M138 462.4h0M163.1 448.6h0M132.7 475.1h0M133.9 478.3h0M138.3 467.4h0M139.5 465.6h0M132.5 475.4h0M130.4 464.8h0M127.2 443.3h0M124.9 453h0M128.2 466.4h0M119 439.9h0M132.8 476.1h0M137.5 461.6h0M136.7 469.1h0M133.8 478.8h0M160.5 414.9h0M142.4 446.2h0M136.5 472.1h0M135.1 474.4h0M141.8 452.9h0M137.1 464.6h0M134.8 473h0M132.7 473h0M152.2 407.4h0M135.8 465.9h0M138.9 461.7h0M139.9 465.1h0M137.2 467.1h0M131.5 471.2h0M138 462.3h0M123.9 469.3h0M145.5 424.6h0M134.5 475.5h0M159.7 440.6h0M125.1 453.6h0M130.6 468.5h0M146.6 429.4h0M121 409.3h0M139.7 461.5h0M131.9 472.9h0M151.7 428h0M143.8 439.8h0M137.8 463h0M140.4 454.1h0M140 458.7h0M134.3 477.2h0M138.9 459.4h0M143.2 461.4h0M134.6 475.6h0M129.2 468.3h0M121 440.3h0M124.9 459.7h0M118.2 449.4h0M128.1 463.1h0M128.4 467.7h0M152.5 454.2h0M150.6 439.3h0M141.4 471.2h0M131.7 470.8h0M134.3 476.9h0M131.7 471.7h0M134.6 474.9h0M142.3 445.7h0M139.9 461.8h0M122.3 419.3h0M132.2 474h0M134.7 476h0M134.1 477.5h0M136 469.7h0M140.5 441.4h0M139.3 457.7h0M149.7 446.6h0M135 471.8h0M148.2 401.8h0M128.8 457.9h0M146.2 424.8h0M139.7 439.9h0M136.9 461.2h0M130.3 467.3h0M125.9 450.9h0M140.2 461h0M130.6 470.1h0M135.8 471.4h0M140.5 445.3h0M147.2 439.7h0M126.6 460.1h0M140.3 446.1h0M126.1 437h0M133.7 478.5h0M128.6 455.1h0M134 478.5h0M136.9 468h0M142.2 451.8h0M136.7 468.1h0M129.7 467.3h0M137.7 466h0M143 443h0M133.4 477.4h0M128.4 464.4h0M134.3 476.6h0M132.2 474.6h0M156.8 408.8h0M132.4 471.5h0M129.6 463.8h0M142.8 441.3h0M147.3 432h0M138.6 458.4h0M140.1 456.6h0M105.5 446.9h0M124 453.4h0M131.3 473h0M124.2 453.5h0M139.3 437.5h0M129.4 474.3h0M141.7 449.9h0M132.8 476.1h0M137.5 462.6h0M164.2 426.7h0M145.4 417.3h0M157.1 444.3h0M130.8 474.6h0M130 459.3h0M152.2 407.3h0M135.8 465.8h0M135.4 472h0M140.5 456.1h0M148.8 429.8h0M143.6 464h0M123.8 457.2h0M129.8 473.3h0M141.2 454.9h0M134.5 477.3h0M147.9 415.6h0M162.8 440.4h0M133.3 477.3h0M132.4 475.8h0M132.9 476.3h0M123 435h0M134 477.9h0M129.7 462.1h0M124.2 437.8h0M134.2 477.1h0M130.8 469.1h0M119.4 425.3h0M127.7 462.3h0M137.7 457.9h0M134.3 476.3h0M149.3 421.8h0M134.2 477.1h0M131.8 474.9h0M138 462.4h0M154.4 418.9h0M136.2 469.2h0M125.5 453.8h0M133.5 478h0M135.4 472h0M148.4 429.9h0M132.4 473.9h0M131.6 470.6h0M125 454.3h0M153.9 412.8h0M137 470h0M128.1 462.6h0M145.4 434.3h0M142.2 465.4h0M126.3 457h0M144 448.3h0M133.3 478.1h0M150.6 423.2h0M146.1 445.2h0M136.5 470.8h0M135.5 468.5h0M128.6 468.4h0M140.5 471.1h0M139.6 456.8h0M140.5 451.6h0M129.3 468.1h0M124.5 456.1h0M126.9 458.9h0M124.1 456h0M117.1 425.9h0M131.5 470.5h0M141.2 452.2h0M130.1 464.5h0M127.1 458.9h0M107.6 450.7h0M132.9 475.7h0M135.4 473.4h0M129.1 466.3h0M119.9 445.1h0M137.4 461.1h0M130.5 468.8h0M129.6 465.5h0M136.7 467.2h0M120.6 459h0M125.2 460.9h0M138 461.7h0M136 469.4h0M132.3 474.1h0M130.2 471.8h0M149.8 444.6h0M142.6 455.2h0M133.1 476.4h0M133.4 477.9h0M130 467.1h0M132.7 475.7h0M111.7 418.5h0M131.4 470.8h0M135.2 472.2h0M150.3 452.5h0M135.8 472.6h0M157.4 444.2h0M132.1 468.7h0M133.2 477.3h0M133.6 478.2h0M144.9 435.6h0M141.4 445h0M124.5 459.5h0M132 471.7h0M132.7 475.3h0M118.5 429.5h0M137.2 460.9h0M126.4 460.3h0M122.4 460.2h0M144.9 434.8h0M146.4 439.7h0M136.2 470.3h0M123.3 452.5h0M141.1 458.7h0M141.9 439h0M134.9 475.1h0M143.7 439.5h0M132.1 474.2h0M121.2 461.1h0M131.7 473.7h0M140.6 456.7h0M126 461h0M158.7 415.8h0M126.2 449.5h0M135 475.6h0M126.6 462.7h0M137.5 468.1h0M128.1 469.4h0M150.2 435.5h0M131.1 463.9h0M164.4 426.3h0M142.3 457h0M142.1 432.3h0M146.5 415.7h0M143.4 427.3h0M128.8 466.7h0M138.5 468.7h0M131.9 473.7h0M140.3 462.6h0M114.1 427.1h0M142 455h0M133.4 477.6h0M128.1 461.8h0M122.9 462.9h0M138.3 453h0M139.6 456.7h0M119.6 438.9h0M130.7 470.4h0M138.1 465.5h0M136.2 465.8h0M114.8 415.7h0M119.7 417.6h0M130.8 471h0M133.9 478.6h0M119.5 447.1h0M127.6 459.9h0M142.7 461.1h0M145.3 440.7h0M134.7 475.9h0M136.7 468.8h0M138.9 456.7h0M133.4 477.4h0M136 468.3h0M133.6 478.3h0M122.4 448.7h0M134.5 476.5h0M130.4 459.2h0M131.7 474.1h0M126.4 459.3h0M137.5 459.4h0M137.9 468.6h0M134.2 476.9h0M138.8 455.5h0M130 469h0M126.5 460.6h0M147.9 458.8h0M142.3 441.5h0M139 460h0M145.3 439.7h0M126.8 460.3h0M125.9 460.9h0M135.8 472.3h0M125.2 448.3h0M115.9 426.7h0M136.8 469.6h0M134.1 477.6h0M137.4 460.2h0M132.7 477h0M132.7 475.7h0M122.3 451.3h0M122.9 467.5h0M123.9 445.9h0M133.3 477.3h0M132.1 473h0M115.5 424.8h0M142.5 439.5h0M118.1 418.3h0M102.1 445.1h0M129.1 461.3h0M130.7 468.7h0M107.7 408.1h0M136.5 466.2h0M145 454.6h0M111.7 451.3h0M138.1 469.3h0M138.2 467.3h0M148.1 425.1h0M131.5 472.7h0M133.7 478.5h0M139 451.3h0M140.1 454.4h0M139.1 459.2h0M141.6 445.5h0M135.7 472h0M129.1 459.9h0M131 467.7h0M134.5 474.7h0M158.3 403.3h0M130.7 471.6h0M135.7 468.3h0M156.7 434.6h0M150.7 459.8h0M121.7 436h0M136 476.4h0M147.7 405.3h0M145.6 433.5h0M130.7 474.9h0M137.7 468.7h0M133.1 476.9h0M127.5 463.3h0M125.8 458.4h0M146.1 428.1h0M145.5 450h0M133.9 478.4h0M138.9 455.9h0M136.2 467.7h0M132.7 475.5h0M134.9 475.8h0M129.7 468.3h0M132.6 475.4h0M140.5 451.3h0M142.1 443.6h0M132.5 472.8h0M142.6 454.9h0M134.7 476.2h0M133.9 478.6h0M136.1 467.8h0M137.8 459.3h0M138.1 458.3h0M125.2 454.8h0M132.6 475.5h0M147.2 441.2h0M150.9 407.7h0M125.7 449.5h0M127.4 458.8h0M137.5 472.5h0M148.4 441.6h0M130.8 470.1h0M133.2 476.8h0M111.6 454.9h0M126.2 461.1h0M113.2 436.9h0M133.5 476.9h0M135.4 471.2h0M141.2 452.6h0M154.2 437.3h0M148.3 438.9h0M132.1 476.1h0M135.4 474h0M134.7 474.9h0M146 456.1h0M119.7 443.3h0M124 461.9h0M118.8 426.4h0M137.9 460.5h0M133.4 477.5h0M134.6 476h0M137.5 466.8h0M146.4 449h0M124.9 462.4h0M143.7 450.6h0M121.5 464.4h0M137.2 465.8h0M141.4 469.5h0M141.7 434.9h0M128.6 465.8h0M139.2 461h0M136.2 466.7h0M135.8 471.7h0M153.2 425.1h0M145.2 452.9h0M138.8 460.8h0M137.6 466.6h0M135.9 469.7h0M153.2 413.9h0M136.7 467.6h0M147.2 420.5h0M133.9 478.6h0M146.9 417.4h0M134.6 475.3h0M135.2 470.4h0M130.7 467.8h0M131.6 472.4h0M108.3 407.1h0M125 451.5h0M141.5 458.9h0M137.2 463.9h0M132.1 471.4h0M133.4 477.7h0M135.6 475.9h0M139.3 454.7h0M134.7 474.7h0M111.6 439.7h0M128.8 469.4h0M133.5 477h0M133.4 478.3h0M130.9 468.7h0M166.8 440.7h0M105.6 426.3h0M123.7 465.7h0M153.1 407.2h0M124.4 445.4h0M146.8 458.9h0M138.1 470.5h0M145.5 448.9h0M134 477.3h0M126.1 461.2h0M141 471h0M131.3 472.8h0M129.5 464.9h0M127.5 462.1h0M142.5 454.4h0M123.9 444.4h0M141.1 450h0M146.1 415.4h0M123.6 431.7h0M130.2 468.3h0M142.1 447.2h0M127.5 473h0M147.3 406.1h0M143.4 465.8h0M126.8 460.5h0M140.5 443.4h0M137.8 464.1h0M134.5 476.1h0M132.2 473h0M134.9 475.2h0M139.1 459.7h0M132.8 474.9h0M116.1 421.5h0M113.6 445.7h0M127.3 442.9h0M123.1 457.5h0M118.2 464h0M103.3 410.8h0M127.7 458h0M124 446.4h0M137.1 468.1h0M141.5 447.7h0M123.4 451.8h0M129.7 459.9h0M121.9 450.4h0M133.2 478h0M132.9 475.9h0M134.5 475h0M131 469.7h0M127.5 463.4h0M144.9 430.8h0M136.6 471h0M131.3 470.4h0M109.9 444.9h0M134.5 476.6h0M138.6 460.5h0M144.6 457h0M130.9 475.1h0M165.9 416h0M114.9 444.6h0M146.3 448.8h0M117.2 457.8h0M135.6 471.9h0M137.4 461.1h0M129.9 461.3h0M134.6 476.2h0M147.2 456.2h0M142.2 445h0M146.2 445.2h0M129.5 467h0M132.5 475.8h0M131 470.6h0M114.5 416.9h0M138 467.2h0M108.1 408.6h0M136.4 469.5h0M133.2 477.5h0M144.9 428.5h0M130 468.7h0M126.7 438.6h0M137.6 462.8h0M126.3 458.5h0M161.6 403.5h0M125 459.9h0M135.8 469.1h0M131.6 473.1h0M125.1 452.8h0M130.7 469.2h0M120.5 442.3h0M136.6 474.7h0M131.8 475.4h0M126.2 462.3h0M120.8 434.9h0M134.9 475.2h0M140 460h0M131 471.1h0M147.5 404.9h0M134.7 475.5h0M130.8 465.8h0M159.1 424.6h0M134 477.6h0M140.1 456.6h0M136.1 472.8h0M140.4 453.5h0M133.1 476.6h0M136.1 463h0M147.8 455.3h0M128.4 465.4h0M133.2 475.8h0M147.1 464.2h0M112.4 429.9h0M126.4 457.6h0M145.6 412.7h0M153.5 458.2h0M139.2 464.5h0M136.4 469.1h0M138.7 467.1h0M136.1 469.8h0M133.9 478.6h0M130 470.5h0M133.7 478.5h0M137.5 465.8h0M131.5 474.3h0M119.8 438.9h0M131.6 472.9h0M123.1 468.8h0M149 435h0M133.3 477.6h0M164 415.6h0M160.7 406.6h0M108.9 425.1h0M131.8 472.6h0M134.5 476.6h0M157 409.1h0M139.1 461.9h0M129.2 467.5h0M134.6 476.4h0M142.1 446.4h0M139.3 469.4h0M155.4 403.4h0M156 415.3h0M128.8 466.6h0M144.3 447.8h0M117.3 443.2h0M136.8 463.2h0M141.9 456.3h0M122.6 452h0M133.9 478.5h0M132.9 476.8h0M128.9 472.9h0M114.1 459.9h0M134 478.4h0M144.7 408.6h0M140.1 454.5h0M137.7 464.8h0M132.6 476h0M123.2 448.5h0M127.8 465.2h0M140 450.7h0M139.8 444.6h0M142.2 459.8h0M151.2 423.5h0M130.2 466h0M148.6 433.3h0M134.7 476.3h0M136.7 464.6h0M107.8 406.6h0M138.3 470.4h0M127.3 459.3h0M108.6 442.2h0M136.4 469.1h0M144.5 462.4h0M131.3 471.4h0M144.1 442.1h0M165 445.9h0M123.1 455.6h0M133 476.6h0M147.8 460.4h0M118 444.6h0M136.9 468.7h0M159.3 413.4h0M125.1 449.8h0M133.7 478.5h0M147.2 404.5h0M129.7 465h0M134.3 476.9h0M137.6 472.6h0M137.1 463.4h0M134.4 477.7h0M115.2 441.2h0M134.5 477.4h0M140 464.9h0M140.1 455.9h0M136.7 468.6h0M138.4 462.1h0M125.5 453.5h0M127.6 456.8h0M146.8 430.9h0M146.3 457.3h0M132.8 475.4h0M129.3 469.9h0M140.5 440.6h0M133.2 477.2h0M137.3 463h0M135.3 470.9h0M139.9 459.1h0M139.5 449.4h0M126.3 460.3h0M125 449.6h0M123.8 448.7h0M135.7 471h0M130.1 461.2h0M134.4 476.2h0M150.1 422.4h0M144.6 433.2h0M127.8 461.6h0M158 413.2h0M126.8 450.1h0M132 475h0M133.1 476.3h0M146.5 454.3h0M113 451h0M145.4 434.1h0M135 473.1h0M143.3 458.2h0M134.5 475.5h0M125.7 455.6h0M131.6 472.3h0M135.4 473.9h0M126.6 460h0M137.6 456h0M140.3 449.2h0M156.3 456.7h0M133.1 476.4h0M126.4 459.1h0M132.1 477.1h0M131.4 472.1h0M139.6 458.2h0M157.7 444.8h0M141.4 458.5h0M131.5 474h0M143.9 465.6h0M130.2 461h0M124.3 453.4h0M131.4 473.9h0M141 456.7h0M130.7 474.2h0M143.4 444.5h0M137.6 459.9h0M116.5 460.3h0M134.7 476.5h0M129.5 472.2h0M131.7 471.7h0M132.5 475.8h0M134.7 475.3h0M141.2 454.2h0M137 467.2h0M131.4 472.7h0M141.4 443.9h0M135.6 468.3h0M138.1 455.1h0M133.9 478.3h0M136.3 473h0M132.6 475.4h0M133.7 478.3h0M135.2 475.2h0M157.5 432.1h0M134.7 474h0M125.3 452.9h0M130.6 467.6h0M135 477.5h0M131 472.9h0M137 465.4h0M147.9 460.4h0M160.1 433.3h0M141.4 449.4h0M135.6 470.7h0M133 475.1h0M152.6 443.7h0M156.8 448.6h0M136.9 472.5h0M132.2 475.5h0M132.6 474.5h0M130.8 461.7h0M158 425.2h0M129.3 470h0M137.9 464.1h0M150.1 449.6h0M136.9 465.7h0M144.8 430.1h0M137 454.5h0M134.7 474.5h0M128.3 467.9h0M139.7 455.5h0M134.6 475.3h0M142.1 460.9h0M147.4 442.6h0M125.4 470.1h0M138.1 462.7h0M141.6 447.9h0M115.8 455.2h0M146.7 430.4h0M150.9 402.9h0M137.7 469.6h0M136.6 467.9h0M139.7 459.5h0M148.1 412.4h0M147.9 423h0M140.8 438.2h0M123.8 447.7h0M128.1 467.8h0M123.1 459.5h0M137.2 463.6h0M141.3 446.4h0M122.2 451h0M150 428.7h0M139 450h0M132 475.2h0M133.6 478.3h0M131.7 472.6h0M136.7 463.7h0M107.6 430.6h0M130.4 467.7h0M138.8 455.8h0M136.7 470.7h0M135.5 471.1h0M127.5 469.9h0M134.7 475.9h0M138.9 459.3h0M116.3 415.3h0M127.9 455.6h0M135.2 473.9h0M139 458.1h0M134.6 476.4h0M138.3 459.9h0M126.2 460.3h0M137.9 458.3h0M120.9 436.2h0M141.1 471.3h0M128.4 466.3h0M127.2 458h0M134.2 478.1h0M134.4 476.6h0M132.1 473h0M141.2 460.8h0M132.5 474.4h0M133.5 477.7h0M140.3 446.3h0M127.6 459.3h0M129.9 467.9h0M128 464.6h0M119.4 440.9h0M128 462.7h0M139.1 466.6h0M124.1 457.6h0M131.7 471.8h0M134.4 476.2h0M141.4 461.6h0M129.8 467.4h0M135.3 474.1h0M135.1 471.5h0M150.9 431.5h0M111 419.7h0M122.7 453.2h0M151.1 413.5h0M141.8 451.2h0M125.1 449.1h0M131 472.3h0M138.5 453.5h0M127.7 464.3h0M139 472.5h0M132.2 474.2h0M140.3 446h0M135.2 471.5h0M139.1 454h0M141.3 468.4h0M131.1 472.9h0M134 477.9h0M145.7 442h0M140.1 452.3h0M122.3 449.2h0M134.1 477.6h0M110.8 428.2h0M141 435.1h0M149.9 439.3h0M128.3 465h0M137.2 470.1h0M123.4 449.7h0M133.2 476.9h0M123.4 447.4h0M132.8 475.7h0M142.8 428.4h0M114.4 443.1h0M122.3 436.2h0M132.4 475.6h0M120.1 448.3h0M140.3 443.5h0M129.8 471.9h0M145.4 438.4h0M128.3 465.6h0M144.6 446.6h0M132.4 474.4h0M133.4 477.2h0M144.5 445.4h0M134.8 475.8h0M136.2 475.2h0M123.5 425.4h0M133 475.9h0M127.8 461.9h0M151.1 459h0M124.3 440.7h0M140.6 455.7h0M149 436.1h0M125.9 438.5h0M138.9 458.4h0M133.6 478.5h0M120.3 455.8h0M158.8 410.2h0M140.6 461h0M133.7 478.3h0M128.2 467h0M130.3 471.4h0M135.5 473.9h0M141.4 455.7h0M130.4 466h0M134.2 476.3h0M137.6 461.2h0M124.9 436h0M151.4 460.1h0M134.1 477.8h0M132.7 473.2h0M131.3 472.1h0M134.6 475.8h0M136.9 465.2h0M135.5 476.4h0M137.5 460.1h0M118.1 438.7h0M129.9 467.5h0M136.5 470.2h0M144.9 432.7h0M142.5 446.8h0M149.7 439.7h0M135.7 470.1h0M131 467.3h0M119.2 443.1h0M146.3 457.3h0M135.4 472.6h0M144.1 444.4h0M117.5 459.2h0M139.9 457.8h0M133.6 478.1h0M137.1 468.3h0M124.7 431.7h0M127.5 465.8h0M143 451h0M132.4 473.6h0M124.2 455.3h0M126.3 459.9h0M128 462.5h0M133.7 478.5h0M149.5 428.5h0M137.8 460.4h0M134.5 476.3h0M152 440.7h0M132.1 472.6h0M134.8 471h0M130.9 471.1h0M143.3 460.3h0M144.2 438.4h0M144.2 421.2h0M145.5 431.9h0M129.1 467.4h0M130 470.7h0M124.3 424.4h0M134.7 476.4h0M166.6 416.1h0M117.5 436.1h0M130.2 472.4h0M159.2 415.4h0M113.2 421.9h0M133.2 477.2h0M130.2 470.3h0M138.3 461.7h0M149.5 423.2h0M147.6 434.8h0M141.1 452.4h0M136.2 467.4h0M129.2 468.6h0M142.9 455.7h0M144.9 461.9h0M126.3 467.8h0M139.9 457.5h0M130.3 467.3h0M144.7 455.1h0M132.7 475.9h0M130.1 470.1h0M129 459.8h0M132.9 475.5h0M155.5 412.4h0M139.6 455.9h0M152.6 407.9h0M135.7 471.5h0M119 449.1h0M140 453.9h0M131.1 471.2h0M135.3 473.4h0M138.8 472h0M126.1 454.4h0M135.1 472.4h0M139.8 459.9h0M111.9 452.6h0M127.8 462.7h0M136.2 468.2h0M132.2 474.8h0M144.7 424.8h0M135.1 474.2h0M138.2 467.2h0M133.8 478.8h0M130 469.7h0M123 455h0M132.3 475h0M133.9 478.5h0M134.8 472.9h0M135.4 473.7h0M130.4 469h0M130.2 472.6h0M124.9 459.7h0M148.2 434.1h0M146 434.4h0M140.6 459.8h0M128.8 472.8h0M136 471.9h0M130.9 473.1h0M142.4 442.6h0M142.1 468.1h0M139.8 457.9h0M109.8 407.5h0M133.1 477.1h0M144.8 431.7h0M142.3 440.5h0M132.4 475.4h0M128.2 463.8h0M135.6 472.4h0M127.9 469.3h0M134 478.3h0M138.6 450.8h0M136.1 474h0M132.5 475.6h0M149.3 447.8h0M144.1 441.2h0M123.2 455.2h0M134 478.4h0M117.7 455.8h0M127.1 466.3h0M141.9 426.3h0M136.7 472.3h0M133.9 478.4h0M132.6 474.8h0M137.7 473.3h0M135.8 471.7h0M136.7 466.5h0M136.9 468.3h0M149.3 460h0M140.3 442.6h0M135.2 473.4h0M122.8 448h0M139.5 465.9h0M121.4 447h0M129.5 469.4h0M148.1 463.6h0M134.6 474.6h0M134.3 476.5h0M120.7 433.2h0M129.4 468.7h0M144.8 431.9h0M131.8 473.1h0M145.3 420.5h0M129.4 469h0M135.6 475.1h0M132.9 475.2h0M124.5 448.2h0M126.2 452h0M135.8 470.6h0M135 474.3h0M139.1 450.4h0M117.7 436.6h0M130.1 467.8h0M125.1 459.4h0M134.9 474.2h0M133.7 478.6h0M129.7 464h0M126.2 439.2h0M137.4 464.2h0M134.9 473h0M131.8 475.3h0M116.3 434.7h0M108.6 408.9h0M131.1 471h0M135.1 472.8h0M150.6 440.5h0M109.7 452h0M133 476.2h0M134.5 474.2h0M153.6 419.3h0M143.7 448.9h0M130.9 469.4h0M131 470.6h0M146.4 452.5h0M123.6 455h0M131.6 473.8h0M129.6 469.4h0M130.7 473h0M142.5 450h0M116 433.2h0M133.7 478.2h0M128.3 459.2h0M124.8 467.2h0M140.8 454.5h0M136.5 472.9h0M124.8 458.2h0M143.1 429h0M137.8 462h0M139.7 469.9h0M134.8 475.1h0M135.6 473.4h0M113.3 445.2h0M125.9 455.8h0M128.5 462.1h0M140.2 462.5h0M125.1 455h0M122.4 464h0M136.7 466.1h0M151.9 457.5h0M134.2 476.6h0M132.1 473.3h0M131.7 468.3h0M134.5 475.4h0M121.6 452.7h0M122.4 452.1h0M132.9 474.8h0M133.8 478.8h0M137.3 471.6h0M134 478h0M135.3 474.7h0M142 448.2h0M133 476h0M143 458.2h0M143.6 464.2h0M125.5 463.8h0M131.4 471.7h0M149.9 412.2h0M127.1 468.1h0M123.6 455.4h0M129.6 455.5h0M120.5 461.1h0M134.6 475.6h0M132.8 474.9h0M130.5 469.2h0M135.1 475.3h0M142 443h0M129.9 468.1h0M132.4 475.5h0M134.8 474.4h0M132.4 474.4h0M127.1 457h0M130.7 471.7h0M127 444h0M134.3 476.1h0M140.8 449.3h0M124.8 461.3h0M143.7 458.4h0M131.8 473.8h0M137 467.7h0M130.4 472.1h0M140.8 450.2h0M135.8 471.4h0M124.9 436.9h0M149.7 432.8h0M126.3 459.7h0M120.9 465.8h0M135.6 472.1h0M132.9 476.1h0M121.7 453.8h0M140.9 463.5h0M151.1 436h0M144.3 441.1h0M136 470.3h0M138 460h0M111.3 428.2h0M130.8 473.4h0M142.3 468.6h0M124.9 457.9h0M135 471.7h0M134.5 476.5h0M129.4 467.3h0M126.6 458.1h0M145.8 418h0M139.8 460.8h0M134.9 475.6h0M132.4 471.1h0M136.1 466.2h0M141 443h0M158.8 405.2h0M150.6 417.8h0M125.9 469.9h0M135.8 471.8h0M135.5 467.5h0M123 447.7h0M112.9 431.3h0M131.4 474.3h0M121.5 449.3h0M136.8 464.6h0M158.9 405.3h0M136.1 471.2h0M132.3 473.2h0M157.2 430.2h0M139.9 441.1h0M132.9 475.9h0M131.4 471.2h0M136 471.8h0M151 457.9h0M124.2 449.4h0M121.6 443.2h0M140.7 452.6h0M122.7 454.5h0M138.9 458.6h0M137.3 471.6h0M126.2 450h0M135.8 474.6h0M150 440.8h0M127 469h0M143.7 422.9h0M118.8 427.5h0M132.5 474.4h0M162.9 429h0M137.9 460.4h0M151.6 419.5h0M141.4 457.5h0M152.6 424h0M131.2 471.9h0M123.1 463.2h0M137.2 471.5h0M133.7 478.6h0M120.2 466.2h0M140.2 441.8h0M133.9 478.5h0M148.8 458h0M119.6 449.4h0M124.7 458.5h0M132.3 474h0M137 469.4h0M123.9 442.4h0M147.7 432.7h0M149.1 419.6h0M125.2 470.6h0M140 458.5h0M147.3 430.9h0M132.1 473.9h0M146.5 464.7h0M136.4 466.5h0M127.8 457.7h0M134.1 478.3h0M134.2 477.3h0M144 448.3h0M127.4 455.2h0M136.3 472h0M124.5 456.2h0M144 437.2h0M146.6 440.2h0M133.5 477.9h0M138.7 452.1h0M140.3 465.5h0M134.9 474.1h0M137.5 467.7h0M131.7 468.8h0M138 463.3h0M133.8 478.8h0M101.1 433h0M145.9 426.2h0M138.6 464.6h0M130.1 474.2h0M152.6 414.6h0M131.4 466.1h0M128.4 456.1h0M122.1 419.6h0M130.5 471.7h0M134.4 475.3h0M152.5 447.1h0M132.2 475.4h0M134.3 476.8h0M137.9 463.5h0M151.2 421.2h0M143.6 426.7h0M134.3 476.9h0M134.4 475.7h0M112.9 413h0M132.6 473.9h0M114.3 442.4h0M134.6 474.9h0M108.7 413.3h0M132.2 474.4h0M130.8 471h0M134.9 477.3h0M134.1 477.6h0M145.9 442.7h0M138.9 458.5h0M143.9 460.7h0M133.4 477.5h0M126.2 454h0M140.1 445.7h0M107.2 450.5h0M137.6 460.2h0M128.9 464.1h0M128.5 473.3h0M140.7 470.6h0M123.9 451.5h0M122.1 451.9h0M120.3 464.2h0M151.5 418.8h0M117.3 462.2h0M133.8 478.6h0M133.6 478.2h0M131 467.9h0M129.8 469.2h0M126.8 454.7h0M147.2 440.7h0M136.5 470.1h0M132.7 476.2h0M149.3 406.4h0M133.8 478.8h0M133.6 478.5h0M140.3 446.4h0M141.3 452h0M138.5 463.2h0M138.8 453.8h0M119.6 463h0M134.7 474.5h0M138.5 463.2h0M152.4 412.5h0M136.1 472.5h0M142.4 445.5h0M138.5 471.8h0M147.5 418.6h0M135 475.2h0M130.4 467.5h0M134.3 476.5h0M134.7 472.1h0M149.1 435.7h0M138.3 466.6h0M111.2 450.2h0M130.2 466.5h0M109.5 437.8h0M132.3 474.3h0M138.6 456.3h0M143.9 442.3h0M150.6 421.5h0M140.2 450.4h0M135.3 474.4h0M138.9 461.4h0M132.9 476.4h0M149.2 461.5h0M135.5 472.7h0M147.8 423.8h0M134 478h0M147.5 436.7h0M141.1 468.4h0M132.7 475.5h0M140 452.4h0M134.6 475.2h0M125.3 467h0M139.8 457h0M147.5 432.6h0M131.6 472.8h0M145.6 451.4h0M145.5 437.7h0M122.6 456.1h0M145.9 458.7h0M111.4 422.9h0M135.2 473.4h0M137 465.8h0M133.4 478.1h0M124.3 469h0M126.1 455.8h0M120.7 448.9h0M161 451.1h0M142.8 427.5h0M128.3 463.4h0M139.5 446.9h0M139.5 467.3h0M140.8 458.6h0M133.2 477.2h0M137.3 466.7h0M151 431.6h0M134.4 477.6h0M155.3 446.9h0M134.4 476.5h0M126.7 460.2h0M148.1 428.4h0M134.9 475.4h0M131.5 469.3h0M140.1 451.9h0M145.1 437.8h0M159.9 444.5h0M137.3 464h0M138.5 472.4h0M133.8 478.6h0M134.6 476.5h0M134.6 476.5h0M127.7 445.8h0M118.3 443.4h0M138.4 470.3h0M131 472.6h0M135 474.5h0M118.4 437.9h0M147.4 439.5h0M142.5 464.7h0M131.3 473h0M140.5 454.7h0M138.7 451.8h0M131.1 464.2h0M130.1 468.2h0M141.1 467.5h0M135 474.5h0M127.2 472.6h0M136 470.9h0M147 402.4h0M136.2 467.8h0M135.4 472.9h0M134.3 476.9h0M134.9 474.5h0M133 475.6h0M144.9 424.9h0M166.6 409.9h0M126 458.3h0M134.1 478h0M136.1 475h0M131.5 473.6h0M149.6 441.9h0M117.5 438.1h0M133 476h0M129.6 466.3h0M140.2 456.1h0M112 431.6h0M137.4 465.2h0M141.7 447.3h0M136.2 466.5h0M137.5 468.9h0M151.5 410.5h0M133.1 476.7h0M141.4 445.9h0M129.3 465.2h0M128.2 467.5h0M138.4 458.1h0M116.7 423.9h0M131.8 474.1h0M134 478.2h0M131.6 472.7h0M139.4 468.7h0M134.3 476.5h0M132 469.6h0M128.4 455.7h0M160.8 406.3h0M143.2 433.7h0M121 450.4h0M146.2 434.5h0M146.6 445.2h0M131.5 471.2h0M134.2 477.7h0M134.6 475.6h0M136.8 467.9h0M145.7 444.6h0M144.1 462.2h0M134.7 475.6h0M137.9 464.9h0M151.8 410.5h0M128.7 468.5h0M106.6 450.2h0M135.4 475.1h0M137.8 467.8h0M123.7 452.1h0M117.6 463.1h0M134.7 476.5h0M120.6 453.6h0M133 477h0M134.7 474.4h0M145.3 438h0M135.6 472.3h0M142.3 442h0M129.9 475.2h0M138.5 465.9h0M137 462.6h0M124.3 440.5h0M139.8 458.1h0M132.3 474.2h0M135.1 474.6h0M135.5 474.2h0M128 465.2h0M132.9 475.9h0M133.4 477.5h0M135.8 471.3h0M140 457.4h0M133.7 478.5h0M109.5 428.5h0M133.2 477.3h0M126.1 459.7h0M124.7 447.6h0M125.3 452h0M149.6 407h0M133.1 476.4h0M120.3 441.6h0M122.9 443.6h0M135.1 474.8h0M132.9 475.6h0M139.4 459.7h0M138 461.2h0M136.2 464.4h0M134.2 477.6h0M128.4 468.2h0M135.7 473h0M127.1 455.6h0M135.3 472.7h0M133.1 476.4h0M128.4 459.6h0M129.5 465.6h0M145 444.6h0M128.6 466.6h0M136.6 472.8h0M130.8 472.9h0M153.3 422.6h0M134.8 473.1h0M135.5 472.3h0M128.3 468.4h0M138.5 458.6h0M130.8 472.8h0M132.3 475.5h0M139.6 455.5h0M155.1 416.4h0M132.8 476.6h0M133.4 477.5h0M133.4 477.9h0M143.8 443.1h0M126.9 463.1h0M127.6 463.2h0M149.1 462.2h0M139.9 456.6h0M130.2 471.8h0M148 417.4h0M129.1 463.3h0M125.7 467.8h0M146.3 440.7h0M124.2 424.6h0M121.6 451.4h0M132.9 475.5h0M136.2 466h0M134.3 477.7h0M134 478h0M132.8 475.9h0M133.7 478.4h0M155.9 406h0M151.5 460.1h0M134.5 475.1h0M139.1 463.7h0M122.8 446.8h0M136.7 467.8h0M148.9 425.8h0M145.1 430h0M143.2 446.4h0M136.9 475.5h0M138.4 460.8h0M128.2 468.1h0M152.8 442.6h0M139.4 455.3h0M137.7 461.8h0M139.3 461.8h0M134.3 476.4h0M135.3 474.1h0M113.8 448.3h0M148.8 419.9h0M131.3 472.5h0M129.4 466.9h0M137.1 460.5h0M142.1 459.6h0M136.3 463h0M110.6 436.5h0M117.6 436.2h0M135.2 471.4h0M150.4 435.1h0M136.5 465.4h0M133.6 478.4h0M143.1 455.8h0M133.8 478.7h0M138.2 469.7h0M136.1 470.5h0M142.5 462.5h0M140.9 441.6h0M135.1 473h0M138.9 454.1h0M129.8 468.3h0M148.6 420.9h0M151 419.2h0M139.4 464.4h0M146.8 434.8h0M131.7 470.8h0M148.1 445.5h0M134.1 477.6h0M131.3 468.9h0M133.9 478.3h0M140.1 454.6h0M123.7 447.4h0M136.4 471.2h0M136.5 463.4h0M119.2 440.3h0M138.1 464.4h0M136 469.3h0M136.8 475.6h0M137 459.7h0M133.5 478.1h0M136.7 466.5h0M121.8 454.4h0M132.4 475.7h0M144.6 416.5h0M125.8 466.5h0M123.6 452.3h0M134.7 474.6h0M136.1 471h0M140 448.3h0M129.8 469.4h0M131.7 470.5h0M133.6 478h0M136.2 474.5h0M123.8 446.7h0M135.3 474.2h0M133.6 478.3h0M124.1 447h0M129.7 471.1h0M133.1 477.5h0M133.9 478.2h0M134.9 474h0M142.9 453.1h0M139.2 461.7h0M130.7 467.3h0M140.5 451.4h0M137.7 467.8h0M147.1 435.2h0M110.6 422.2h0M135.2 474.7h0M140.6 461h0M134 477.9h0M118.7 444.3h0M147.6 432.1h0M136.9 466.3h0M134.2 477.5h0M144 421.1h0M116.1 417h0M137.1 465.2h0M123.4 439.5h0M136.3 467.5h0M133.9 478.3h0M150.8 421.9h0M126.5 462.9h0M154.3 412h0M132.1 475.1h0M141.5 457.6h0M111 415.9h0M155.4 401h0M133.9 478h0M127 464.3h0M142.6 447.6h0M130.3 469.6h0M131.8 473.1h0M132.8 475h0M136.7 468.9h0M150 426.7h0M142.2 453.5h0M133.3 477.5h0M139.7 464.4h0M138.3 464.1h0M139.6 471.5h0M163.9 410.1h0M115.3 437.2h0M132.6 477.3h0M157.1 417.9h0M133.7 478.5h0M122.4 438.3h0M133.8 478.8h0M138.6 459.9h0M134 478.2h0M143.8 456.8h0M136.4 473.6h0M129.9 470.8h0M134.6 475.1h0M139.5 452.8h0M141.2 469.8h0M134.3 477.8h0M134.4 475.1h0M148.9 451.9h0M134.9 474.4h0M137 468.8h0M143.9 449.3h0M135.9 472.3h0M128.4 464.5h0M147.6 451.6h0M142 444.7h0M146.9 437.5h0M135.4 472.5h0M129.1 460.1h0M138.2 461.3h0M121.4 467h0M131.1 472h0M143.2 435.3h0M159.9 417.8h0M120.2 447.3h0M126 455h0M133.5 477.8h0M131.1 469.6h0M133.7 478.6h0M146.9 408h0M139.1 453.3h0M153.1 419.9h0M136.7 469.5h0M131.8 471h0M142.7 453.5h0M134.8 471.9h0M131 467.4h0M136.1 473.9h0M145 467.4h0M131.5 466.2h0M129.5 465.3h0M138 451.9h0M130.4 471.6h0M131.8 472.9h0M127.9 473.2h0M139.9 457.1h0M121.7 417.4h0M133.7 478.7h0M146 441.9h0M137.2 463.4h0M119.5 465.2h0M119.3 446.9h0M135.3 471h0M125.2 468.6h0M138 464.1h0M146.1 431h0M148.2 437.6h0M134.6 475.7h0M137.2 464.9h0M129.1 471.9h0M144 438.3h0M135.3 474.4h0M138.8 459.2h0M138.4 453.6h0M131.4 474.1h0M165.1 444.3h0M150.3 430.1h0M127.9 462.8h0M129.7 460.3h0M120.8 451.4h0M138.3 458.6h0M131.6 472.9h0M134.9 472.8h0M100.8 439.9h0M154.6 411.2h0M134.4 476.5h0M154.2 400.7h0M135 472.2h0M157.9 408h0M130.2 466.9h0M137.1 467.1h0M128.6 468h0M135.6 470.4h0M137 470.9h0M140.4 445.3h0M134.2 477.5h0M142 447.4h0M131.1 472.2h0M141.1 426.5h0M121 428.4h0M134.1 477.7h0M120.3 451.4h0M137.5 460.3h0M153 434.7h0M137.3 470h0M134.9 475.9h0M132.8 476.3h0M112.5 406.9h0M132.2 476.9h0M135 473h0M138.5 463.4h0M111.5 456.5h0M142.3 454.6h0M143.2 465.2h0M140.8 441.5h0M141.1 449.4h0M133.7 478.5h0M138 466.2h0M131.5 471.7h0M138.5 465.7h0M129.1 469.1h0M122.4 454.1h0M157.2 418.3h0M130.5 470.5h0M131.2 472.2h0M118.3 432.4h0M155 406.4h0M135.6 473.6h0M148.8 439.1h0M137.7 470.2h0M124.7 431.5h0M119 424.9h0M133.3 477.9h0M131 475h0M126.6 459.9h0M135.2 472.3h0M159.1 453.4h0M149.1 437.2h0M149.6 430.2h0M115.9 444.2h0M138.6 460.8h0M141.4 465.1h0M136.1 475.6h0M149.5 442.8h0M133.8 478.8h0M154.4 409.7h0M134.5 476.2h0M131.3 476.4h0M150.2 458h0M138.8 457.4h0M134.9 475h0M130.8 471.7h0M147.9 408.3h0M114.5 427.4h0M129 469h0M134.8 475.2h0M146.4 455.8h0M143.1 414.6h0M116.8 428.9h0M132.4 476.7h0M126.2 461.3h0M150.6 429.3h0M137.2 468h0M139.8 460.2h0M133.9 478.3h0M136.5 467.3h0M151.3 408h0M149.8 425.7h0M118.9 443.1h0M138.8 461.2h0M131.2 473.4h0M112.3 451.1h0M158.1 401h0M128.3 463.2h0M134.7 472.2h0M128.5 470.2h0M126.8 455.1h0M134.8 474.4h0M147 419.3h0M137.1 467.7h0M136.4 470.8h0M138.5 454.9h0M152.7 423.3h0M118.9 433.5h0M131.5 471.7h0M106.8 411.9h0M149.3 416.7h0M145.8 436.4h0M131.6 471.7h0M133.6 478.2h0M135 477.4h0M134.7 475.6h0M144.3 452h0M163.3 408.3h0M125.6 450.2h0M133 476.8h0M136.2 468.8h0M157.1 407.3h0M142.4 457.1h0M143 450h0M151.2 416.2h0M148.3 429.3h0M132.4 475.4h0M132.4 474.2h0M145.4 463.1h0M118.3 459.1h0M123.3 454.1h0M128.4 463.6h0M153.1 442h0M136.5 468.5h0M152.4 423.8h0M133.3 477.3h0M132.8 475.9h0M134.4 477.1h0M151.3 457.5h0M138.4 459h0M136.9 463.7h0M148.5 426.8h0M131.6 467.4h0M138.7 466h0M132.2 475.5h0M132.9 476.6h0M135.7 474.1h0M130 469.1h0M144.2 434.9h0M138.3 465.4h0M134 477.9h0M136.7 463.3h0M145.1 426.8h0M130 467.7h0M145.8 445.5h0M123.7 448.1h0M132.1 472.9h0M131.5 472.6h0M129.1 460.4h0M132.3 474h0M119.7 448.2h0M143.4 436.8h0M125.2 447.3h0M129.8 462.8h0M122 454h0M128.3 460.2h0M148.5 443.9h0M134.6 475.4h0M133.6 477.8h0M136.3 473.3h0M133.8 478.7h0M143.6 441.4h0M121.2 457.7h0M127.4 459.5h0M139.9 463.3h0M130.9 474.4h0M131.9 470.4h0M127.6 463.2h0M157.8 441.2h0M121 451.2h0M146.1 447.8h0M145.9 460.8h0M131.6 474.2h0M134.1 477.7h0M141.2 457.9h0M144.6 458.2h0M149.2 430.6h0M134.7 475.4h0M131 470h0M125.6 468.6h0M145 441.1h0M140 465h0M139.6 458.7h0M142.1 459.4h0M122.4 456.8h0M123.7 453.6h0M128.1 460.9h0M126.8 455.7h0M129.6 467.2h0M131.4 465.5h0M139.2 457.5h0M148.5 448.8h0M123.9 438.8h0M134.4 476.6h0M127.1 463.3h0M133.7 478.4h0M125.8 448.4h0M133.4 478h0M131.1 470.8h0M143.1 423.3h0M144.7 466.1h0M131.7 476.3h0M129.9 469.1h0M143.9 452.2h0M151.2 439.8h0M146.1 446h0M139.8 458.6h0M120.8 452.2h0M141.1 443.1h0M124.4 457.7h0M161.7 421.4h0M118.2 444h0M134.4 476.3h0M129.7 467.4h0M140 428.8h0M132.8 477.7h0M151.7 429.4h0M131.9 473.8h0M133.2 477h0M152.5 459.9h0M136.4 465.9h0M141.5 467.6h0M138.3 459.8h0M155.9 413h0M133.5 477.8h0M163 401h0M144.8 451.4h0M130.9 475.1h0M121.7 447.3h0M138 464.3h0M132.2 477.3h0M106 425.2h0M131.7 471.3h0M133.5 477.5h0M140.1 466.1h0M126.3 466.2h0M148.2 460.7h0M148.2 432.1h0M135.1 474.3h0M132.8 474.1h0M140 457.3h0M129.1 465.8h0M135.3 475.1h0M134.8 473.9h0M137.7 464.7h0M127.1 462.9h0M143.1 447.3h0M130.8 470h0M133.6 477.7h0M106.4 442.4h0M144.3 457.1h0M132.8 475.6h0M138.5 464.6h0M131 468h0M134 478h0M134.5 476.3h0M142.3 440.6h0M118.9 462.1h0M134.9 475h0M111.5 421.1h0M135.3 471.9h0M138.5 461.2h0M118.8 427.1h0M131.7 472.4h0M133.8 478.6h0M127.5 462.9h0M137.4 465.3h0M141.6 440.3h0M141.3 449.2h0M144.6 423.4h0M139.7 458.1h0M136 472.9h0M136.9 462.1h0M147.8 451.2h0M156.4 414.7h0M137.1 461.7h0M129.7 466.1h0M130.5 465.3h0M133.6 478.6h0M128.5 465.2h0M134.6 474.9h0M154.9 416.1h0M132.9 476.1h0M136.4 466.5h0M137.2 466h0M136.2 471.4h0M139.5 459.5h0M143.1 443.3h0M126.7 457.2h0M141 444.9h0M158.4 453h0M127.6 461.7h0M134.3 476.9h0M153.4 412.5h0M116.6 447.6h0M123.9 466.9h0M135.3 473.7h0M120.4 430.1h0M123.1 450.9h0M131 471.6h0M142.5 427.5h0M149.6 437.9h0M132.9 476.8h0M139.2 453.7h0M133.9 478.5h0M142.4 436.2h0M134.5 475.5h0M144.9 445.8h0M137.2 464.8h0M130.1 464.3h0M133.8 478.7h0M131.5 472.1h0M128.3 467.6h0M122.1 453.9h0M126.7 457.8h0M141.4 457.2h0M141 450.4h0M145.5 418.6h0M136 471h0M128.9 464.4h0M140 461.9h0M125.4 456.7h0M132.4 475.2h0M146.7 443.1h0M135.3 473h0M128.8 465.4h0M122.3 457.8h0M134.2 476.9h0M141.9 453.2h0M133.9 478.6h0M136.7 465.8h0M139.5 450.6h0M128.1 461.4h0M119.9 428.5h0M144.4 445.2h0M135.7 472.3h0M133.2 477.1h0M131.8 473.6h0M156.1 418h0M123.3 422.4h0M142.7 434.8h0M114.9 431h0M128.1 463.5h0M117 433.2h0M122.2 449.5h0M135.5 475.3h0M148.9 430.5h0M150.5 411.6h0M122.1 449.2h0M132.8 475.1h0M123.6 456.5h0M136.5 472h0M135.5 471.7h0M128.4 467h0M116 431.7h0M131.7 474.8h0M124.5 446.2h0M136.6 467.3h0M160.8 427h0M135.7 473.5h0M135.7 473.1h0M136.9 471h0M150.2 419.2h0M133.3 477h0M151.1 426.4h0M133.4 478h0M127.7 466.9h0M119.1 429.6h0M139.3 454.6h0M131.5 470.8h0M140.9 451.1h0M136.9 466.4h0M134.8 475h0M141.8 450.8h0M143.4 465.6h0M110.5 425.7h0M124.4 447.7h0M129.6 469.8h0M140.1 441h0M140.8 446.6h0M135.6 470.9h0M151.3 461.3h0M158.9 415.7h0M132.1 474.8h0M141.6 441.6h0M131 475.1h0M136.3 468.5h0M129.3 471.2h0M142 439.4h0M102.2 448.7h0M145.4 435.7h0M114.1 415.6h0M141.6 448.6h0M134 478h0M131.7 474.5h0M136.6 470.4h0M141.5 445.6h0M138 463.4h0M140.3 454.5h0M133.8 478.7h0M142.8 454.9h0M130.4 466h0M132.9 474.9h0M159.8 441.3h0M143.5 456.7h0M136.1 475.6h0M131.1 474.3h0M140.8 461.6h0M126.7 458.1h0M145.7 446.9h0M129.2 465h0M138.9 458.8h0M153 420.3h0M139 455.9h0M133 477.1h0M135.5 471.8h0M149.9 444.3h0M128.4 468.6h0M136.7 467.2h0M140.4 453.4h0M135.6 473.2h0M132.1 471.2h0M136.8 468.9h0M137 464h0M133.7 478.4h0M128.4 453.1h0M140.9 455.1h0M137.9 463.4h0M136.3 464.9h0M137.3 460.8h0M136.5 464.4h0M138.3 471.2h0M129.5 466.3h0M133.2 476.9h0M133.2 477.1h0M133.2 477.1h0M150.8 423h0M130.3 470.9h0M166.2 443.5h0M135 477.3h0M124.3 445.5h0M130.5 467h0M124.1 444.1h0M146.5 425.2h0M133.8 478.7h0M128.5 460.2h0M133 475.6h0M126.9 466h0M134 477.6h0M132.1 476.3h0M133.8 478.6h0M154.1 446.1h0M137.9 463.6h0M145.4 430.8h0M151.2 460.2h0M129.2 470.8h0M140.6 451.8h0M122.5 437.4h0M132.6 474.5h0M141.5 451.2h0M128.1 455.1h0M143.5 425h0M149.6 434.3h0M133.1 476.4h0M141.3 442h0M128.4 466.5h0M129 460.4h0M134.1 477.6h0M130.9 468.4h0M127.1 456.2h0M123.5 458.9h0M133.3 476.1h0M143.1 437.5h0M146.5 429.7h0M135.6 470.4h0M122.1 451.5h0M134.2 477.5h0M136.6 470.6h0M132.4 472.5h0M133 475.5h0M132 473h0M140.3 462.8h0M133.8 478.7h0M139.8 471.8h0M133.9 478h0M130.7 471.5h0M149.1 424.9h0M123.4 439.9h0M152.7 432.2h0M112.1 431.2h0M126.5 463.9h0M141.3 458.9h0M132.6 475.1h0M136.3 451.1h0M130.2 470.1h0M135.5 470.6h0M138.9 450.7h0M140.8 442.2h0M131.7 474.1h0M114.1 445h0M144.1 457.9h0M132.5 475.4h0M134.9 473h0M133 474.2h0M133.7 478.6h0M155.6 456.9h0M137.1 467.4h0M136.2 469.1h0M148.1 435.3h0M166.7 446.5h0M143.9 439.6h0M145.4 462.8h0M140.5 462h0M125.4 463.4h0M125.7 462.5h0M133.9 478.5h0M137.2 463.5h0M137.2 466.6h0M138.3 462.7h0M135.3 476.2h0M107.2 453.1h0M143.2 440.5h0M137.5 469.6h0M136.6 471.9h0M138.5 459.1h0M136 469.6h0M134.2 477.5h0M137.4 468.6h0M118.6 442.7h0M132.4 472.9h0M139.3 463.3h0M150.8 429h0M135.2 472.7h0M144.5 446.6h0M114.5 439.8h0M124.7 462.3h0M126.6 458.2h0M125.4 457.6h0M131.2 468.4h0M131.2 471.2h0M143.7 416.9h0M138.6 458h0M117.3 434.8h0M127.8 459.5h0M137.2 469.8h0M127.3 466.3h0M123.1 452.9h0M129 463.6h0M143.3 439.9h0M133.7 478.5h0M140.7 471.4h0M133.8 478.7h0M135.8 470.2h0M144.4 428.7h0M114.9 429.5h0M138.6 466.5h0M131 471.3h0M129 467.7h0M133.4 477.3h0M140.5 448.5h0M135.5 472.2h0M140 449.9h0M141.8 449.2h0M129.8 467h0M136.5 468.3h0M122.8 444h0M118.9 441.1h0M137.2 459.4h0M142.9 434.6h0M135.6 470.4h0M141.4 469.3h0M133.6 478.3h0M134.1 477.7h0M124.3 445.9h0M156 434.9h0M113.7 416.5h0M135.5 472.9h0M142.9 448.7h0M132.9 475h0M136.7 473h0M135 472.9h0M133.6 478h0M140.1 449.7h0M137.9 456.4h0M129.3 468.3h0M131.3 472.8h0M126.3 437.5h0M159 440.3h0M126.9 460.4h0M122.6 443h0M138.4 471.4h0M130.9 467.3h0M139.2 456.2h0M135.3 473.1h0M136 472.1h0M136.3 467.7h0M131 472.2h0M133.4 477.6h0M131 472.2h0M132.1 473.9h0M129.3 469.8h0M126.4 463.2h0M131.3 472.4h0M163.7 446h0M131.4 471h0M133.2 476.9h0M124.6 456h0M133.7 478.3h0M127.9 466.1h0M131.7 473.5h0M123.5 458.3h0M132.3 474.8h0M145.2 445.2h0M141.2 453.9h0M114.8 458.7h0M139 466.3h0M134.2 477.4h0M140.3 457.2h0M150.5 412.5h0M138.8 461.3h0M138.3 472h0M130.7 473.9h0M135.1 474.4h0M135.3 474.7h0M143.8 443.4h0M126.1 460.5h0M140.2 451.3h0M154.8 448.7h0M149.5 400.9h0M137.4 467.7h0M116.2 428.6h0M134.8 475.5h0M134.2 477.6h0M165.4 410.7h0M105.8 436.6h0M134.8 475.1h0M157.7 454.7h0M131.8 473.8h0M163.1 448h0M136.4 469h0M142.1 466h0M139.2 463.1h0M127.5 467.7h0M133.8 478.7h0M130.9 471.1h0M140.1 456.7h0M142.7 453.8h0M130.8 463h0M137.2 463.5h0M138.6 464.6h0M135.7 469h0M142.9 441.3h0M153.8 458h0M132.1 473.9h0M138.8 464.8h0M130.3 468.5h0M136.2 469.6h0M132.6 475.9h0M147.9 437.9h0M119.9 454.2h0M144.3 461.3h0M122.9 431.1h0M138.9 462h0M143.4 435.1h0M136.6 466.9h0M145.6 435.2h0M140.1 460.2h0M129.4 468.3h0M133.4 477.3h0M158.1 412h0M134.1 477.2h0M134.6 476.3h0M130.2 463.7h0M116 427.7h0M112.1 422.4h0M138.5 468.3h0M140.5 463h0M127.8 472.3h0M139.5 460.8h0M135.9 474.8h0M150.1 430.9h0M131.9 474.4h0M120.5 444.1h0M138.6 463.8h0M143.2 430.5h0M146 437.4h0M130.5 471.1h0M147.1 439.1h0M140.8 445.8h0M135 474.6h0M150.3 457.5h0M138.3 456.6h0M151 434h0M140.7 447.7h0M135.3 474.2h0M132.2 475.5h0M134.7 474.4h0M134.8 474.9h0M135 475.2h0M111.3 454.2h0M102.4 426.4h0M129.8 462.6h0M126.2 441.6h0M124.5 461.9h0M140 460.8h0M142.3 428.8h0M134.3 476.5h0M133.5 478h0M122.7 462.7h0M146.6 427.6h0M148.6 455.2h0M144.2 455.5h0M125.1 450.7h0M123.2 454.5h0M132.7 473h0M143.7 423.8h0M144.6 463.6h0M150 437.5h0M132 471.9h0M132.7 473.4h0M141.5 465.1h0M125.5 466.5h0M141.2 454.1h0M133.4 477.5h0M138.7 461.6h0M138.9 463.9h0M130.8 472.9h0M138.1 459.2h0M135.1 471.2h0M124 468h0M136.4 460.9h0M133.5 477.1h0M124 464.6h0M145.8 432.7h0M138.9 450.6h0M134.1 477.7h0M135.2 476.7h0M149.3 421.7h0M137.6 456.6h0M145.8 453.7h0M134.9 475.3h0M165.2 418.6h0M145.6 460.9h0M123.6 442.8h0M134.4 477.3h0M141.8 453.7h0M145.4 434.1h0M138.1 462.9h0M134.1 477.7h0M126.5 462.8h0M128.3 457.5h0M133.9 478.6h0M134.4 476.1h0M107.3 439h0M141.9 442.6h0M132.2 477.2h0M144.9 453.8h0M119.1 463.4h0M133 476.2h0M134.8 474.4h0M143.2 450.4h0M118.5 445h0M137.7 468.8h0M126.4 458.8h0M137.6 466.1h0M118.7 432.5h0M132.1 473.8h0M133.3 477h0M140.6 454.8h0M131.1 472.2h0M146.9 426.4h0M129.6 465.4h0M133.7 478.6h0M124.6 444.9h0M112.6 417.8h0M158.9 421h0M111.1 437.9h0M128.8 472.4h0M133.1 476.3h0M135.6 467.8h0M133.3 477.8h0M136.5 465.4h0M132.5 474.9h0M132.4 476h0M135.8 472.4h0M128.1 454.6h0M124 452h0M133.1 477.2h0M149.5 407.7h0M129.5 468h0M131 471.4h0M137 471.4h0M143.8 445.2h0M133.8 478.7h0M112.7 434.9h0M155.1 449h0M132.5 475h0M141.7 449.8h0M131.8 472.7h0M124.2 446.7h0M132.5 475.1h0M132.8 475.7h0M135.5 470.3h0M132.7 475.5h0M125.9 469.3h0M126.1 451.6h0M121.1 462.1h0M122 445.9h0M133.7 478.7h0M131.4 473.2h0M105.8 440.7h0M129.1 470h0M138.4 465.1h0M135.6 473h0M130.4 469.7h0M139.6 456.6h0M137.6 463.9h0M134.6 475h0M129.8 460.1h0M136 471.1h0M142.7 461.7h0M138.8 468.6h0M135.3 469.2h0M131.7 472.9h0M133.9 478.5h0M121.7 465.1h0M135.9 474.4h0M141.5 452.2h0M131.8 471.5h0M146.7 436.7h0M133.9 478.5h0M127 441.6h0M146.2 424.3h0M140.1 447.4h0M133.7 478.3h0M158.3 434h0M134.9 473.5h0M123.9 469.5h0M134.3 476.3h0M128.3 459.3h0M135.4 472.9h0M132 474.8h0M132.9 474.6h0M134.7 474.8h0M119.9 452.9h0M139.2 471.8h0M139.3 449.6h0M163.4 417h0M138.5 464.5h0M133.6 478h0M143.9 437.7h0M161 435.1h0M131.9 472.8h0M138.8 468.3h0M131.4 473.2h0M134.3 476.9h0M139.1 462.4h0M139 460.1h0M129.9 469.2h0M136.9 465.3h0M159.8 427.5h0M141.5 453.2h0M143.3 439.9h0M134.1 477.2h0M125.2 440.9h0M159 414.1h0M133.1 477.4h0M138.6 470.2h0M143 449.7h0M131.6 473.5h0M146.7 445.1h0M140 459.4h0M133.5 478.3h0M145.9 437.4h0M139.1 470.1h0M130.3 468.2h0M130.7 467.8h0M135.7 470.1h0M136.3 463.9h0M126.4 459.8h0M136.9 467.2h0M131.3 471.7h0M133.6 478.1h0M140 446.7h0M138.4 461.1h0M126.1 456.4h0M136.4 470.1h0M132.2 475.2h0M127.6 467.2h0M141.5 459.3h0M134.8 474.6h0M127.8 459.5h0M131.2 467.5h0M133.8 478.7h0M158.1 421.9h0M137.8 467.6h0M138.5 456.3h0M133.6 477.5h0M136.9 463.8h0M131.7 467.9h0M141.4 448.7h0M136.4 469.5h0M131.7 475.8h0M143.9 430.4h0M136.5 469.6h0M121 446h0M145.8 410.1h0M139 465.3h0M138.5 454h0M135.1 476.4h0M130.1 471.1h0M130.1 462.8h0M152.5 428.3h0M129.9 462.3h0M133.3 477.1h0M132.7 474.4h0M142.7 452.1h0M140.5 464.9h0M134.2 477h0M140.8 462.4h0M142.9 459.4h0M148 421.2h0M131.3 470.6h0M119.6 429.6h0M131 465.5h0M136.3 475.6h0M147.6 424.2h0M123 466.3h0M139.1 462.7h0M143.7 428.5h0M143.3 443.3h0M133 475.7h0M124.8 459h0M134.4 475.2h0M145.8 442.6h0M129.8 474.9h0M131.3 473.7h0M134.2 477.1h0M131.6 472.9h0M110.2 453.7h0M137.1 466.8h0M135.1 476.6h0M138.8 463.6h0M130.5 467.6h0M134.5 475.8h0M125.2 460.8h0M134.8 475.9h0M122.1 456.9h0M128.4 461.2h0M133.1 475.8h0M136.2 474h0M135.3 473.9h0M146.3 441.3h0M113.3 452.8h0M132 476.6h0M142.8 443.9h0M150.4 436h0M132.4 473h0M106.8 443.3h0M136.4 468.2h0M131.2 472.4h0M133.6 478.1h0M141.5 460.6h0M148.6 455.5h0M133.1 475.2h0M136.3 469.9h0M123.4 441.9h0M119 453.2h0M143.4 429.7h0M157.8 421.7h0M134.9 474.2h0M131.1 471.5h0M131.1 472.6h0M149.7 454.6h0M133.9 478.5h0M129.3 468.5h0M123.8 469.3h0M129.6 466.9h0M142.5 440.1h0M134.8 474.2h0M130.2 468.2h0M105.8 433.7h0M134.7 476.3h0M144.1 443.3h0M132.4 472h0M133.1 477.4h0M129.4 467.5h0M123.7 448.9h0M139.9 455.6h0M144.1 465.5h0M133.2 477h0M133.1 476.1h0M137.6 467.1h0M141.2 460.6h0M120.5 464h0M138.4 455.2h0M139 463h0M141.4 455h0M134 478.3h0M147.1 409.8h0M129.8 471.1h0M156 418h0M129.2 459.1h0M132.3 476.2h0M148.1 430.8h0M131.8 472.9h0M141.2 448.4h0M120.1 445.5h0M130.3 470.9h0M137.5 460.1h0M130 472.7h0M144.5 438.9h0M132.6 475.9h0M138.2 470.8h0M133.6 478.2h0M126.8 461.3h0M130.9 465.1h0M122.8 457.2h0M141.1 454.9h0M117.1 422.9h0M142.1 446.8h0M123.4 452h0M136.5 466.4h0M142.4 460.9h0M135.1 473h0M138.8 456.1h0M133.4 477.8h0M128.5 460h0M122.8 447.9h0M134.9 474.3h0M135.8 467.2h0M137 468.1h0M138 456.7h0M129.4 470.5h0M131.6 473.3h0M141.7 440.9h0M128 463.2h0M116 432.4h0M144.9 430h0M139.9 467.6h0M135.6 473.4h0M119 448.9h0M137.6 465.1h0M120.9 448.8h0M131.5 475.2h0M102.9 405.4h0M129.8 466.8h0M131.3 473.1h0M147 429.9h0M120.9 434.9h0M119.4 442.7h0M134.7 475.6h0M142.2 456.8h0M144.4 434h0M133.5 477.9h0M143.1 453.6h0M136 466.9h0M138.8 459.7h0M152.6 401.7h0M122.4 449.1h0M138.5 473.4h0M131.6 474.2h0M120.3 460.4h0M134 477.5h0M132.6 476.2h0M111.2 456.2h0M132.9 476.8h0M141 453.3h0M135.2 471.6h0M146.8 439.9h0M145.1 458.6h0M137.5 469.6h0M131.4 469.2h0M147.7 464.1h0M134.6 475.4h0M128.4 463.3h0M134.1 477.7h0M126.1 459.9h0M140.4 469h0M127.4 459.2h0M135.8 472.9h0M143.7 453h0M134.5 475.1h0M127.7 450.3h0M141.4 450.9h0M136.4 469h0M138.6 455.3h0M130.7 468.8h0M135.4 470h0M138 465.9h0M133.2 476.8h0M146.7 445.1h0M137.8 466.2h0M130.4 469.5h0M143.9 455h0M123.8 451.5h0M135.3 473h0M145.3 420.7h0M134.9 476.9h0M131.8 472h0M138.8 461.1h0M132.7 474.3h0M150.3 407.1h0M135.1 473.9h0M124.4 466.6h0M108.7 454.7h0M137 466.4h0M136.3 471.3h0M117.2 433.7h0M123.9 432.2h0M134.4 477h0M135 474.8h0M130.6 471.8h0M141.6 469.2h0M137.8 471.1h0M134.9 474.6h0M140.9 453.6h0M150.8 409.6h0M139.6 468.8h0M139.1 460.1h0M146.6 436.6h0M139 453h0M139 458.6h0M143.3 444.8h0M135.5 472.4h0M141.7 451.8h0M132.3 474.1h0M135.3 475h0M131.6 473.5h0M142.8 437.9h0M141 451.8h0M136.5 464.5h0M135.7 471.7h0M140.2 453.8h0M132.6 475.5h0M141.1 446h0M135.6 475.5h0M137 470.1h0M135.8 470.5h0M134 478h0M144.2 451h0M146.6 450h0M134.9 472.7h0M144.2 454.3h0M125 451.7h0M135.6 469.6h0M133.5 478h0M156.2 455.6h0M152.7 423.5h0M153.4 413.4h0M116.1 432.3h0M140 459.7h0M145.5 438.1h0M122.5 447.2h0M142.6 445h0M145 436.2h0M115.1 442.5h0M137.5 460.3h0M138.1 450.9h0M138.8 454h0M136.5 471.5h0M126.5 458.1h0M133 477.1h0M130.6 472.3h0M147.5 430h0M137.7 461.5h0M132.2 474.4h0M135.8 465.7h0M135.3 473.3h0M163.4 409.2h0M130 468.3h0M142 450h0M147.6 440.9h0M145.9 422h0M152.5 405.3h0M122.5 451h0M133.7 478.4h0M144.8 436.9h0M126.7 461.7h0M142 440.4h0M158.7 402.4h0M122.2 467.5h0M141.1 455.1h0M131.5 468h0M142.1 443.1h0M131.2 474.2h0M139.6 458.3h0M126 468.6h0M141.4 448.5h0M126.7 460.6h0M124.6 455.3h0M134.3 477.1h0M134.4 476.8h0M139.2 463h0M136.9 464.8h0M122.7 440.3h0M133.1 476.4h0M123.4 453.9h0M126.9 464.9h0M133.8 478.7h0M126 463.3h0M139.8 452.5h0M127.2 447.1h0M144.2 442.7h0M133.1 477.3h0M133.3 477.5h0M131.5 473.3h0M137.6 474.4h0M133.8 478.7h0M134.2 477.8h0M138.5 458.4h0M115.4 401.8h0M126.7 462.8h0M118.8 447.3h0M138 471.1h0M119.6 460.5h0M127.5 468.7h0M130.9 470.2h0M132.2 475.8h0M121.8 444h0M144.7 434.1h0M149.9 423h0M152.2 455.1h0M135.1 472.6h0M129.1 472.9h0M134.3 477.5h0M134.4 477.8h0M149.6 440.3h0M141.3 457.7h0M139.6 463h0M136.3 469.4h0M124.3 455.7h0M115.9 436.8h0M134.6 477h0M129.9 466.7h0M135.3 474.1h0M135.5 472.5h0M136.8 471.8h0M147 419.3h0M154 446h0M129.8 467.4h0M136.9 471.3h0M153.2 423.8h0M133.2 477.1h0M131.5 468h0M132.3 474.5h0M132.2 474.7h0M137.5 472.5h0M137 468.7h0M141.2 461.4h0M121.9 443.4h0M145.7 414.6h0M166.6 443.3h0M139.7 462.4h0M124 430.4h0M135.9 470.6h0M133.1 476.2h0M164.1 414.1h0M148.7 463.1h0M144.1 454.9h0M147 418.2h0M143.3 447.3h0M141.5 450.1h0M138.6 459.1h0M134.2 476.8h0M138.1 457.1h0M105.8 429.4h0M119.6 445.7h0M156.5 420.9h0M122.8 444h0M122.9 462.4h0M139.9 467.8h0M121.2 442.4h0M134.5 476.7h0M120.5 449.1h0M153.1 430.8h0M135.2 471.8h0M145.3 424.1h0M140.6 471.2h0M124.5 468.8h0M116.4 431h0M130.4 469.5h0M134.5 476h0M121.1 448.5h0M147.9 439.2h0M132.2 472.6h0M159.2 401h0M137.6 471.6h0M113.5 427h0M123.9 442h0M139.4 463h0M116.6 414.3h0M137 463.9h0M129 466.2h0M145.2 407h0M135.6 472.8h0M141.9 439.8h0M132 474.1h0M133.7 478.5h0M124.8 456h0M118.3 457.4h0M134.5 476.1h0M155.9 403.5h0M135.3 474.3h0M126.1 456.1h0M153.6 411.1h0M126.5 468.6h0M133.8 478.8h0M146.1 448.8h0M132.9 476h0M138 461.1h0M137.1 470.2h0M132.2 473.9h0M133.4 478.1h0M138.9 455.4h0M138.7 449.8h0M129.6 454.7h0M138.4 461.4h0M135.7 470.7h0M156.7 419.2h0M147.6 430h0M131.1 471.6h0M135.6 474.8h0M133.8 478.7h0M132.8 475.6h0M129.4 464.6h0M131.5 472.3h0M127.8 460.1h0M149.4 425.2h0M101.1 432.4h0M135.3 475.2h0M135.7 471.6h0M144 449.3h0M157.1 423.2h0M130.7 470.2h0M153.3 422.3h0M116.8 454.1h0M136 470.3h0M137.5 462.2h0M138.5 467.5h0M117.6 438.7h0M139.7 453.5h0M148.7 437.5h0M128.9 462.5h0M141.4 440.2h0M133.8 478.7h0M130 472h0M128.9 465.4h0M133.7 478.4h0M134.9 474.1h0M129.7 464.5h0M130.8 473.4h0M134.8 474.6h0M156.8 440.7h0M143.6 432.8h0M142.8 447.2h0M108.3 415.1h0M130.7 471.3h0M131.5 472.6h0M130.9 468.4h0M143.6 439.5h0M134.1 477.8h0M130.3 468.6h0M134.2 477.4h0M131.5 471.5h0M148.8 455.4h0M139.4 456.6h0M135.1 474.8h0M122.8 447.8h0M124.5 468.3h0M157.2 418.6h0M129.5 455.2h0M138.3 460.1h0M154.4 438.6h0M132.6 472.5h0M122.5 456.5h0M136.3 472.5h0M137.5 465.9h0M139 467.2h0M136.7 471.8h0M132.3 475.1h0M137.4 463h0M130.8 469.8h0M139.9 450.6h0M154.8 451.8h0M135.2 474.2h0M134.6 477.4h0M132.8 476.3h0M127.5 460.2h0M116.7 447.7h0M122.6 464.2h0M138.7 450.6h0M132.7 476.1h0M151.3 458.2h0M128.9 459.8h0M136.2 472.6h0M133.1 477.3h0M130.2 458.9h0M138 467.8h0M128 453.3h0M142.2 441.5h0M134.5 476.1h0M125.9 448.7h0M128.8 471.5h0M139.5 459.1h0M124.8 455.3h0M143.7 443.1h0M139 472.7h0M135.7 475.7h0M134.9 474h0M126.6 462.4h0M142.8 428.5h0M141.4 452.4h0M144.8 423.9h0M137.5 468.9h0M136 471h0M142.5 467.3h0M132.6 474.5h0M136.9 461.4h0M127.6 458.6h0M127.5 452.6h0M143.9 436.3h0M129.7 466.6h0M119.3 441.8h0M125.5 460.1h0M141.3 467.3h0M134.2 477.9h0M133.5 478.4h0M138.3 469.5h0M120.8 433.4h0M132 473h0M151.3 429.8h0M134.7 476.1h0M134.3 476.9h0M131.8 474.9h0M137.5 463.9h0M144.7 434.7h0M143.4 457.6h0M154.3 424.2h0M142.8 450.7h0M148.8 401.5h0M125.4 454.8h0M137.5 471.4h0M127.1 452.4h0M116.2 422.4h0M145.7 420.9h0M128.4 468.9h0M122 445.9h0M145.2 442.4h0M128.8 468.2h0M122.3 439.6h0M140.7 450.6h0M132.5 475.9h0M113.6 453.2h0M140.4 438h0M144.3 461.5h0M132.5 475.9h0M152.4 402.4h0M133.9 478.5h0M147.5 441h0M136.4 473.4h0M123.7 437.6h0M149.8 432.9h0M129.2 464.8h0M133.5 478.1h0M133.5 478.3h0M138.8 463.2h0M153.9 440.8h0M138.1 460.2h0M135 474.8h0M132.5 472.5h0M156 432.1h0M140.3 455.2h0M136.3 468.6h0M109.8 455.1h0M140.5 460h0M137.7 460.3h0M134.5 476.7h0M137 466.5h0M129.6 462.5h0M133.6 478.1h0M108.6 424.9h0M142.2 457.1h0M138.4 458.6h0M108.6 403.5h0M122.1 450.8h0M144.7 437.1h0M144.6 431h0M131.8 474.5h0M133.4 477.9h0M134.7 475.1h0M148.1 428.5h0M129.8 468.9h0M146 438.9h0M129.9 466.9h0M135 474.5h0M134.3 476h0M119.8 407h0M120 454.3h0M133.5 478h0M127.3 464.8h0M108.4 418.9h0M132.1 475.1h0M133.6 478.4h0M125 455.1h0M137 458.5h0M107.2 452.9h0M131.3 472.7h0M142.5 442.5h0M132.4 474.9h0M123.7 450.6h0M133.1 475.2h0M144.8 432.3h0M125.4 457.2h0M140.1 465.6h0M130.8 463.3h0M133.2 476.8h0M147.2 448.7h0M143.8 451.1h0M143 468.3h0M143 456.7h0M133.1 477.2h0M130.5 468.8h0M148.5 441.2h0M160.4 404.8h0M120.2 442h0M132.6 474.3h0M128.4 462.5h0M127.3 461.6h0M137.4 473.5h0M129.9 468.3h0M127.1 456h0M136.6 471.8h0M143.7 448.8h0M136.6 466.9h0M111.8 454.3h0M115.6 458h0M147.5 440.8h0M131.9 473.3h0M118.2 464.6h0M120.2 432.7h0M165.6 408.7h0M126.9 465.2h0M126.1 460.6h0M130.9 469.8h0M108.8 417.3h0M136.2 472.1h0M137.9 459.4h0M129.9 466.9h0M124.1 453.9h0M121.3 440.4h0M110.9 413.7h0M134.5 476h0M134.4 476.2h0M120.8 433.4h0M143.2 452.1h0M135 472.1h0M136 470.7h0M124.8 449.9h0M134.3 477.1h0M129.2 460.9h0M140.2 444.7h0M140.6 465.3h0M136.9 464h0M108.9 452.6h0M132.5 475.1h0M134.1 477.5h0M146.5 455.6h0M146.6 427.2h0M144.2 454.7h0M135.4 472.5h0M132.4 474.7h0M133.6 478h0M138 460.4h0M136.6 464.5h0M130.6 466.8h0M129.6 467.8h0M135.4 472.6h0M132.2 475.9h0M144.7 426.1h0M135.4 468.1h0M134.1 477.1h0M136.6 468.6h0M151.8 413.8h0M136.9 469.8h0M143.8 444.8h0M132.2 472.6h0M130.4 469.1h0M131.3 471.6h0M148.2 415h0M138.8 459.3h0M138.9 461h0M139.8 430.4h0M124.6 457.9h0M122.8 447.3h0M135 474.8h0M140.5 449.1h0M145.1 413.6h0M151.1 431.9h0M133 477.1h0M145.7 429.3h0M140.6 454.3h0M131.7 472.5h0M130.9 467.5h0M127.6 468.8h0M142.9 450.6h0M141.6 441.2h0M134.2 477.8h0M146.2 426h0M131.8 467.7h0M130.7 470.5h0M135 475.1h0M138.6 465.3h0M135.6 472.9h0M132.4 476.3h0M137 464h0M125.3 462.5h0M136.9 467.6h0M142.1 432.4h0M137.1 475.4h0M137.2 463.2h0M115.2 450.1h0M142.2 452.1h0M126.7 467.6h0M144.7 441.5h0M124.7 456.7h0M130.3 472.4h0M144.5 463.1h0M139.4 446.2h0M133.1 477.1h0M117.9 408.7h0M142.3 446.1h0M120 453.2h0M134.5 476h0M130.3 469.4h0M146.8 435h0M144.8 468h0M136 472.7h0M133.6 478.2h0M141.9 442.4h0M134.5 477.1h0M140.7 456.5h0M141.3 441.9h0M133.7 478.5h0M135 474.2h0M119.9 451.6h0M123 447.2h0M148.4 436.4h0M154.6 454.4h0M133.1 476.3h0M141.5 449.8h0M105.9 453.5h0M133.6 478.1h0M130.9 471.1h0M137 465h0M134.3 476.7h0M127 458.2h0M139.4 450.5h0M147.1 429.1h0M126.7 460.7h0M162.5 430.6h0M145.6 445.2h0M134.6 477.5h0M135.6 471.6h0M134 477.5h0M137.3 458.5h0M148.9 426.8h0M123.9 459h0M133.6 478.3h0M148 440.2h0M133.3 477.8h0M154.6 418.6h0M142 456.5h0M142.3 451.2h0M162.2 411.1h0M129.1 461.3h0M119.8 423.7h0M154.9 452.2h0M135.5 472.3h0M130.1 466.3h0M156.7 434.1h0M123 465.6h0M133.9 478.6h0M129.5 468.6h0M133.6 478.2h0M132.8 474.7h0M151.7 414.2h0M133.1 477.1h0M139.9 450.9h0M130.5 467.6h0M138.2 457.8h0M137.9 465.4h0M125.9 451.7h0M142.3 452.1h0M146 444.5h0M115 414.5h0M135.4 473.9h0M133.7 478.4h0M136.5 466.7h0M130.7 473.2h0M140.4 441.8h0M112.6 424.9h0M118.2 428.6h0M135.3 474.6h0M123.4 448.5h0M130.8 470.5h0M127 468.4h0M145.5 433.9h0M133.2 476.8h0M137.4 463.7h0M127.2 460.6h0M133.5 477.9h0M136.6 474.3h0M127.7 462.2h0M117.4 429h0M149.6 458.2h0M152.8 433.1h0M132.3 475.2h0M142 449h0M135.5 475h0M130.9 471.1h0M129.1 468.9h0M133.9 478.4h0M137.7 461.5h0M140.8 456.1h0M129.3 461.4h0M139.7 462.5h0M152.8 447.7h0M130.7 470.1h0M133.4 477.8h0M134 478.1h0M115.5 425.3h0M136.1 471.1h0M135 473.5h0M132.5 473.5h0M134.3 478.2h0M139.3 462.3h0M130.2 471.4h0M159.8 422.2h0M140.9 467.6h0M134.9 475.4h0M155.5 414h0M135.7 472.2h0M153 451.1h0M148.7 426.7h0M129.3 469.3h0M131.6 473.9h0M147.6 438.8h0M132.9 476.3h0M142.2 445.1h0M162.5 410.1h0M130 469.2h0M134.7 475.6h0M136.5 466h0M127.9 460.9h0M138.2 461.9h0M149.3 411.2h0M128.1 472.9h0M149.7 451.2h0M120.2 453.7h0M139.4 465.6h0M135.9 467.5h0M136.7 468.2h0M133.7 478.6h0M134 478.6h0M134.7 476.3h0M140.5 439.5h0M133.4 477.8h0M144.5 464.8h0M119.6 457h0M129.3 465.3h0M135.6 474.8h0M121.7 442.7h0M139.7 448.7h0M135.3 471.3h0M113.3 457.4h0M139.5 455.9h0M137.9 465.5h0M147.4 417h0M133.7 478.5h0M122.7 450.9h0M136.4 471h0M136.8 473.6h0M126.1 457h0M148 418.1h0M127.3 458.7h0M136.3 468.2h0M141.3 438.8h0M137.6 467.5h0M118.9 426.1h0M108.4 420.6h0M131.3 467.3h0M132.7 476.2h0M131.4 473.4h0M139.2 463.4h0M129.2 473.8h0M129 468.1h0M110.4 422.4h0M126.1 457.1h0M130.7 468.9h0M137.7 462.1h0M103.7 415h0M133.1 476.7h0M145.6 456.5h0M125.9 435.4h0M131.5 466h0M133.8 478.8h0M140.4 472.2h0M140.5 452.7h0M136.8 464.5h0M146.5 438.9h0M133.8 478.7h0M145.6 462.2h0M152.5 454.7h0M137.9 455.4h0M139.5 459.6h0M127.2 462h0M139.2 457.3h0M141.7 461.1h0M130 467.7h0M124.7 460.2h0M136.3 469.5h0M141.4 454.9h0M120.2 451.1h0M142.2 451.6h0M118.9 464.2h0M129.9 466.2h0M126.9 463.4h0M144.2 421.9h0M129.6 467.2h0M131.7 473.9h0M157.5 426.1h0M126.8 458.9h0M132.2 473.9h0M137.4 468.3h0M135.9 470.5h0M136.9 463.5h0M139.8 450.3h0M129.7 468.8h0M130.1 468.4h0M134.8 476.3h0M129.4 468.1h0M136.8 464.1h0M130.1 469.1h0M151 423.8h0M132.4 475.8h0M130 468.3h0M141.3 459.7h0M114.2 414.2h0M134.8 474.7h0M134 478.2h0M132.9 476.3h0M120.9 447.7h0M142.9 428.8h0M131.7 471.9h0M130.4 468.2h0M141.6 467.4h0M158 412.5h0M140.9 467.8h0M135.2 471.8h0M133.4 477.7h0M124.6 453.6h0M131.8 471.6h0M158.8 416.8h0M133.7 478.6h0M143.7 458.7h0M134.7 475.8h0M134.4 476.9h0M132.4 473.6h0M141.7 462.1h0M132.2 473.6h0M130.4 460.6h0M138.9 452.3h0M128.6 472.8h0M144.6 445.7h0M143.1 463.2h0M133.4 476.7h0M138.8 461.2h0M133.2 477.3h0M121.6 434h0M131.6 472.9h0M139 455.5h0M116 451.4h0M138.2 466.7h0M138.4 457.5h0M133.5 477.8h0M132.4 475.5h0M151.8 427.3h0M135.6 469.6h0M122.5 455.1h0M134.1 477.9h0M126 461.2h0M133.4 477.3h0M138.2 460.2h0M155.2 409.6h0M138.5 459.2h0M136.5 470.7h0M137.9 468.8h0M136 469.1h0M115.8 425.1h0M142.7 456.8h0M132.6 472.8h0M150 444h0M145 445.2h0M124.2 448.9h0M129.4 469.3h0M130.5 469.5h0M145.9 440.1h0M135.5 473.8h0M112.8 430.5h0M138.4 456.5h0M130.2 467.3h0M123.4 444.7h0M135.4 471.4h0M121.8 466.2h0M142.2 469h0M124.2 466.3h0M133.9 478.5h0M142.9 449.5h0M151.6 434.3h0M135.1 473.2h0M132.8 475.3h0M132.8 476.6h0M133.5 478.2h0M142.9 452.1h0M122.1 455.1h0M118.9 454.6h0M132.3 474.6h0M114.9 402.3h0M133.4 477.7h0M126.8 466.5h0M123.4 452.2h0M119.8 445.1h0M131.5 468.6h0M137.1 464h0M135.3 473.7h0M140.7 449.2h0M128.5 473.8h0M142.8 461.5h0M137 466.1h0M147.2 454.7h0M125.5 441.5h0M130.6 465.2h0M130 465.6h0M142.3 430.9h0M115.9 428.4h0M130.4 468.8h0M135 474.5h0M106.7 440.4h0M130.4 470.4h0M140.1 461.4h0M126.4 470.9h0M136.3 469.7h0M138.5 455.6h0M131.9 474.9h0M129.9 465.2h0M141.3 445.9h0M132.4 475.2h0M136.6 465.1h0M128.4 465.7h0M141.8 453.3h0M137.2 467.3h0M155.7 455h0M121 446.9h0M113.3 429.3h0M138.7 457.9h0M112.5 438.9h0M131.9 468.1h0M149.3 441.4h0M127.2 467.2h0M127.2 453.8h0M110 446.5h0M139.3 466h0M127.6 461.1h0M146.6 424.3h0M134.7 476h0M136.5 466.2h0M126 457.5h0M133.4 477.9h0M141.5 458.2h0M143.7 448.7h0M144.6 427.2h0M135.7 467h0M113.8 437.9h0M136.3 470.3h0M129.5 473.9h0M103.2 439.7h0M131.5 465.8h0M155.9 453.6h0M131.3 473.8h0M100.8 441.9h0M133.8 478.8h0M132.6 475.5h0M148.3 450.6h0M133.6 478.1h0M145.8 434.6h0M117.3 444.7h0M139.6 461.2h0M137.5 454.7h0M148.4 424.6h0M145.9 424h0M134.1 477.7h0M130.7 472h0M127.2 461.6h0M161.9 431.9h0M123.8 448.1h0M143.1 463.3h0M138.2 464.5h0M128.5 463h0M132 469.9h0M132.7 475.7h0M123.1 445.1h0M140.1 467.5h0M125.6 454.9h0M133.6 478.2h0M138.3 455h0M128.6 474h0M132.1 473.1h0M161.7 402.9h0M137.1 461.3h0M140.3 466.1h0M134.7 474.4h0M139.1 470.5h0M126.2 461.1h0M151.7 417.9h0M140 443h0M141.3 445.1h0M132.6 474.1h0M138.5 462.3h0M140.5 452.6h0M123.1 450.3h0M149.7 433.8h0M133.6 478.4h0M135.5 470.6h0M126 460h0M137.4 465.6h0M139.1 456.6h0M141.7 435.8h0M128.9 458.3h0M131.9 473.2h0M113.5 418.6h0M133 475.1h0M142.8 422.5h0M134.2 477.4h0M134.4 475.8h0M139.3 466.6h0M134.6 476.6h0M126.9 455.9h0M138.2 461.2h0M147.6 442.3h0M133.7 478.6h0M138.7 454.9h0M117.1 432.8h0M134.3 477h0M130 471.8h0M132.7 476.5h0M128.4 471.8h0M137.2 466h0M135.1 476.7h0M146.2 449.9h0M134.1 478.1h0M133.9 478.5h0M138.2 455.9h0M126.5 458.1h0M137.9 467.3h0M124.1 447.4h0M141.3 456.5h0M138 458.3h0M132.1 475.1h0M142.9 425h0M106.5 417.4h0M142.3 453.6h0M153.2 454.6h0M137.6 467h0M133.7 478.7h0M130.9 468.8h0M117.4 458.3h0M158.5 433.3h0M155.3 409.9h0M131.7 472.3h0M135 474.4h0M127.1 457.4h0M124.4 456.3h0M131.2 468.8h0M128 463.1h0M146.1 438.1h0M141.9 449.6h0M140.7 457.8h0M149.2 436.4h0M125.1 457.4h0M125.5 452.6h0M139.6 460.3h0M130.1 469.9h0M134.9 475.1h0M136 471h0M146.1 436.6h0M135 476h0M133 476.5h0M135 474.1h0M151.5 427.4h0M138.8 455.4h0M140.2 465.4h0M141.1 452.3h0M130.5 466.4h0M139 458.9h0M135.2 472.4h0M131.9 473.9h0M109.8 454.1h0M135 476.3h0M148 461.7h0M129.5 466.4h0M137.4 464.9h0M134.8 476h0M133 476.2h0M139.7 461h0M146 458.8h0M129.9 465.1h0M136.4 470h0M133.2 477.2h0M139.9 450.4h0M136.4 467.2h0M135 474.7h0M148.7 427.7h0M117.4 441.7h0M101.7 431.5h0M129.4 462.5h0M144.5 436.6h0M152.7 457h0M123.4 425.1h0M154.9 449h0M128.6 466.7h0M102.3 406.1h0M116.6 405.1h0M133 476.2h0M140 458h0M142.3 450.2h0M130.9 468.1h0M145.9 430.5h0M143 442.2h0M143.9 464.9h0M134 478.1h0M138.4 470.2h0M138.2 462.4h0M128.5 467.6h0M122.2 445.4h0M152.1 457.5h0M149.6 427.1h0M135.4 469.1h0M130.3 469.5h0M142.5 454.8h0M131.9 474h0M132.6 474.2h0M132.9 477.1h0M129.5 465.9h0M139.4 467.1h0M129 465.2h0M131 468.5h0M115.3 451.1h0M121.2 467.1h0M148.6 443.3h0M134.7 476.8h0M134.3 477.5h0M137.8 470h0M141.4 455.6h0M150.4 445.1h0M131.2 472h0M139.2 449.3h0M129.7 469.2h0M132.6 474.2h0M119.4 456.7h0M136.5 467.2h0M140.5 458.1h0M129.3 470.1h0M126.4 468.8h0M137.6 462h0M135.7 474.9h0M136.3 466.9h0M135.8 468.2h0M139 462h0M137 470.3h0M139.2 457.1h0M134.4 477h0M121.5 453.6h0M135.7 474.4h0M121.9 467h0M140.2 443.8h0M128.9 467.7h0M128.8 462.2h0M133.7 478.5h0M140.9 448.3h0M125.9 461.3h0M143.6 433.3h0M131.7 474h0M135 475.1h0M133.9 478.6h0M131 471.8h0M127.4 458.2h0M119.5 444.5h0M105.9 449.9h0M133.3 477.5h0M133.9 478.4h0M136.4 470.5h0M142.8 454.7h0M141.6 442.9h0M135.2 471.7h0M141.6 450.8h0M138.3 466.3h0M138.5 472.8h0M129 466h0M132.5 474.7h0M112 404.1h0M144 437.2h0M121.5 441.5h0M133.7 478.6h0M134.1 477.6h0M141.1 446.5h0M162.6 433.7h0M146.7 438.8h0M116.1 436h0M131.1 471.9h0M131.4 473h0M126.8 468.6h0M118.2 449.9h0M134.2 476.9h0M126.6 460.2h0M128.2 465.2h0M136.9 464.2h0M153.2 422.8h0M137.4 467.3h0M144.7 426.7h0M141.5 462.5h0M135.5 471.9h0M149.3 418.9h0M134.2 477.3h0M127.5 462.7h0M126.4 456.6h0M150.6 459.2h0M135 474.4h0M121.8 446.4h0M128.4 470.6h0M135.5 471.5h0M137.1 459.6h0M137.7 468.4h0M134.1 477.4h0M134 478.2h0M138.9 459.6h0M128.2 462.4h0M120.3 454.2h0M120.8 465.6h0M113.1 402.6h0M130.7 470.7h0M127.7 462.5h0M124.7 451h0M127.2 458.1h0M135 473.7h0M142.2 436.9h0M136.3 476.2h0M127.3 463.8h0M161.1 416.4h0M133.7 478.6h0M102.1 446.2h0M134.8 475.4h0M124.9 455.9h0M127.5 460.3h0M132 469.5h0M130.4 470.3h0M121.8 444.1h0M127.4 467.6h0M137.4 463.1h0M138.3 458.8h0M131.4 469.7h0M133.3 476.9h0M134.1 477.1h0M137.3 472h0M129 467.1h0M130.4 474.8h0M124.6 459h0M137.5 465.6h0M141.3 444.5h0M125.6 459.6h0M143.4 426.9h0M122.3 445.6h0M129.1 467.2h0M105.2 447.6h0M149.1 455.9h0M133.3 477.4h0M139.9 459.1h0M132.7 473.3h0M126.3 462.2h0M150.3 427.5h0M128.1 473.2h0M129.2 468.6h0M132.3 475.6h0M118.5 433.6h0M134.5 477h0M133.1 477h0M152.1 460.5h0M131.8 473.3h0M134.4 476.8h0M136.6 460.8h0M131.6 473.5h0M132.4 474.5h0M131.6 469.9h0M146.2 443.4h0M120.1 449.7h0M146.5 455.1h0M138.4 467.6h0M150.6 405.7h0M114.1 436.2h0M134 477.8h0M134.4 477.5h0M124.6 452.5h0M134.4 475.9h0M136.4 473.7h0M148.4 424.1h0M136.1 472.4h0M133.4 476.7h0M118.7 438.3h0M133.9 478.7h0M140 464.1h0M131.1 475.5h0M120.3 445.2h0M132.2 472.4h0M145.2 450h0M136.6 468.7h0M138.1 465.6h0M138 471.2h0M149.2 455.3h0M137.7 465.5h0M125 456h0M120.9 454.3h0M132.7 475h0M151.3 427.4h0M135.8 474h0M140.8 448.4h0M134.7 476.9h0M132.3 475.4h0M147.9 445.3h0M136.4 469.5h0M164.3 424.5h0M118.3 449.4h0M123.7 461.1h0M129.2 462.6h0M132.5 475.3h0M129.4 468.9h0M127.8 462.2h0M117 435.8h0M135.1 471.4h0M131.9 471.5h0M131.9 469.1h0M133.8 478.7h0M139.8 443.3h0M134.5 476.5h0M131.3 471.6h0M140.7 442.9h0M127.6 473.2h0M139.4 456.6h0M134.7 476.2h0M122.3 461h0M151 445.7h0M128 470.2h0M134.8 474.7h0M136.3 473.7h0M135.5 472.1h0M132 474h0M135.7 471.3h0M121.4 432.8h0M146.6 464.1h0M139.4 462.7h0M124.6 448.5h0M137.4 466.6h0M127.5 466.4h0M133.3 476.3h0M142.3 461.6h0M134.5 475h0M129.3 458h0M133.3 478.2h0M137.7 467.5h0M127.5 469.6h0M138.4 464h0M137.3 469.1h0M129 466.9h0M151.8 428.3h0M116.4 455.5h0M142.1 453.1h0M135.3 474.7h0M138 470.6h0M129.8 461.8h0M137.7 468.6h0M140.4 470.2h0M147.7 437.2h0M136.8 466.3h0M142.6 449.4h0M131.7 473h0M151.4 413.4h0M141.5 454h0M147.4 435.6h0M144.4 437.7h0M144.4 440.2h0M111.3 444.9h0M134.4 472.7h0M133 476.1h0M130.9 472.7h0M128.9 461.6h0M127.2 461.7h0M147.4 421h0M134.6 477h0M134.9 474.2h0M134.2 477h0M151.1 425.5h0M140.7 455.3h0M129.7 466.7h0M132.2 473.5h0M136.8 463.3h0M113.8 448.5h0M134.9 476h0M132.5 476.4h0M136.6 470.4h0M138.3 468.1h0M135.5 473.3h0M120 449.5h0M127 459.1h0M134.4 474.7h0M122.3 441h0M130.2 471.1h0M124.6 429.6h0M146.1 460.2h0M165.4 418.2h0M138.7 456.7h0M115.1 417.1h0M108.4 416.4h0M144.5 432.6h0M133 476.4h0M131.1 469.8h0M128.7 469.5h0M134.9 474.9h0M138.5 451.4h0M145.1 444.2h0M119.7 439h0M135.9 472.8h0M138.1 450.1h0M132 472.6h0M123.2 453.1h0M128.6 468.2h0M132.4 475.1h0M132.3 473.9h0M137.2 470.9h0M132 471.5h0M144.8 444.1h0M133.8 478.8h0M126.4 470.8h0M112.2 415.6h0M135 475.1h0M131.9 471.6h0M129 451.1h0M136.9 472.9h0M139.8 446.9h0M133.1 477h0M136.5 468.8h0M144 440.6h0M123.1 465.9h0M112 454.5h0M118.7 423.1h0M135.2 474.7h0M140.4 442.5h0M143.8 434.8h0M151.8 405.9h0M139.1 457.4h0M156 446.1h0M139 466.6h0M137.8 458.5h0M143.2 442.8h0M130.5 470.1h0M136.1 473.1h0M159 415.5h0M121.3 449.9h0M145.3 434.1h0M141.5 436.6h0M141 446.5h0M133.1 476.5h0M133.5 478.3h0M124 458.5h0M135.7 469.6h0M132.7 475.1h0M155.8 406.4h0M126.4 454.3h0M134.2 477.1h0M133.4 477.7h0M137.2 470.4h0M134.8 477.8h0M137 469h0M149.9 459.2h0M131.4 475.6h0M128.1 469.2h0M119.5 440.8h0M109.8 413.2h0M130.6 466.8h0M139.5 453.7h0M140.6 452h0M127.3 462.6h0M135.9 472.5h0M139.6 461.5h0M123.8 441.3h0M140 467h0M137.6 473.3h0M129.2 456h0M138 459.9h0M142.5 451.8h0M124.9 456.3h0M127.2 451.3h0M132.6 475.2h0M125.5 431h0M144.7 428.5h0M129.8 465.2h0M143.1 450.2h0M129 463.6h0M137 464h0M143.3 430.5h0M130.1 471.4h0M136 475h0M131.5 471.7h0M142.8 426.6h0M131.5 472h0M134.7 473.7h0M130 468.7h0M135.1 474h0M126.6 461.6h0M139.8 466.5h0M128.6 471.8h0M126.9 460.7h0M145.5 447.1h0M146 407.8h0M138.3 465.9h0M128.2 455.6h0M128.2 462.6h0M133.2 477.3h0M134.6 475.5h0M133 476.7h0M133.1 476.8h0M134.7 475.2h0M134 478.5h0M138 456.6h0M117.3 463h0M125.5 454.7h0M142.1 454.8h0M139.1 465.6h0M133.9 478.2h0M127.2 470.3h0M126.8 462.9h0M140.4 452.7h0M133 476.6h0M134 477.7h0M121.6 445.6h0M121.9 441.1h0M131.2 471.8h0M132.4 474.1h0M147.8 429.7h0M124.9 446.1h0M139.5 454.7h0M124.9 469.8h0M142 455.7h0M138.4 461.6h0M128.6 462.6h0M141.6 448.8h0M120.7 437.1h0M131.6 473.5h0M131.3 471.2h0M153 459h0M140.6 454h0M131.2 474.1h0M149.2 424.4h0M144.1 421.8h0M144.6 436.1h0M133.8 478.8h0M119.9 430.6h0M128.7 466.7h0M142.8 466h0M130.6 471.5h0M134.1 478.4h0M160.2 428.9h0M131.9 473.5h0M145.3 456.2h0M130.6 475.7h0M135.3 472.6h0M125.4 459.1h0M132.3 474h0M132.3 473.4h0M135.3 472.4h0M156.6 440.7h0M160 432.4h0M133.1 476.2h0M127.1 459.6h0M124.1 449.3h0M151.3 422.2h0M136.8 469.8h0M129.9 473.6h0M136.1 466.8h0M138.9 459.1h0M130.7 463.6h0M140 447.4h0M147.2 430.7h0M142.3 438.2h0M114.2 435.9h0M148.9 439.8h0M132.3 476.1h0M111.2 407.7h0M122.5 446.7h0M157.4 426.2h0M135.7 468.4h0M126.8 452.4h0M132.4 475.8h0M115.3 457.9h0M118.1 438.4h0M107.3 440.4h0M141.5 449.9h0M155.2 402.5h0M137.3 458.7h0M136.2 466.5h0M135.4 471.6h0M131.3 472.4h0M147.2 447.1h0M141.1 448h0M131.7 473.3h0M153.3 417.6h0M133.1 477.2h0M133.5 478h0M136.3 469.6h0M104 440.9h0M123.4 445.4h0M140 460h0M140.9 446.7h0M130.4 474.7h0M142.7 457.1h0M133.1 476.7h0M131.5 468.2h0M118.6 409.8h0M134.4 477.2h0M128.3 468.1h0M148.8 441.1h0M140.2 453.5h0M138.4 458.5h0M142.7 450.6h0M117.5 428.1h0M130.1 471h0M138 469.2h0M135.6 468.8h0M131.5 471.9h0M123.4 467.4h0M136.6 465.7h0M122.3 450.4h0M130.6 468.5h0M146.3 454.3h0M134.2 477.9h0M135.3 473.6h0M154.2 403.9h0M123.7 453.6h0M147.7 411.5h0M128 462.2h0M138.8 461.2h0M124 456h0M145.8 437.2h0M135.2 474.4h0M128.8 460.9h0M131.8 471.9h0M135.3 472.9h0M123.2 443.8h0M130.5 472.4h0M136.9 465.1h0M133.1 476.5h0M149.8 404.5h0M130.2 473.3h0M136.4 470.8h0M136.3 469.9h0M104.4 407.7h0M135.8 474h0M143.8 453.3h0M130.4 470.5h0M133.2 477h0M102.3 450.3h0M134.9 475.5h0M131 471h0M129 468.5h0M135.9 466.3h0M129.8 465.9h0M132.7 475.2h0M136.5 471h0M148.6 427.4h0M114 416h0M137.3 463.1h0M125.6 456.8h0M136.8 467.9h0M135.4 477h0M130.2 461.9h0M142.4 455.5h0M138.4 448.5h0M139.3 463.5h0M136.7 475.2h0M139.9 467.3h0M141.4 452.9h0M120.5 447.7h0M134 478.3h0M132.2 469.8h0M146.1 443.5h0M132.1 471.1h0M161.1 444.9h0M138.7 463.1h0M130.2 471.8h0M139 453.3h0M137.3 464.9h0M128.5 473.9h0M132.5 475.5h0M137.3 465.4h0M129.2 461.5h0M146.3 441.7h0M139.7 458.2h0M137.6 466.1h0M138.7 467.5h0M142 455.2h0M128.7 461.1h0M124.9 451.1h0M111.9 418.4h0M137.5 461h0M111.6 454.6h0M132.9 476.2h0M136 470.9h0M134.9 474.9h0M130.4 472.2h0M144.9 432.2h0M134.8 473.7h0M143.1 454.3h0M136 473.4h0M149.8 425.3h0M153.5 425h0M139.1 467.3h0M130.7 461.7h0M140.2 461.5h0M135.1 472.7h0M149.4 412.9h0M133.8 478.7h0M132.4 475.1h0M133.4 477.7h0M134.2 477.1h0M146.5 433.2h0M147.7 464.6h0M136.4 469.4h0M137.1 464.5h0M140.1 461h0M154.4 416.8h0M139.4 452.7h0M147.3 443.3h0M149.2 416.2h0M140.9 434.3h0M132.9 476.1h0M140.2 465.3h0M131.4 474.6h0M132.5 474.9h0M135.8 470.4h0M135 475h0M137.7 464.8h0M148 440.4h0M133.5 477.5h0M135.9 472.1h0M137.7 470.9h0M144.1 422.4h0M129.3 470.9h0M140.9 451.8h0M134 478.1h0M134.6 474.4h0M128.2 458.3h0M121.6 458.8h0M154.5 423.1h0M141.7 461.9h0M127.5 461.2h0M134.4 476.6h0M134.1 477.9h0M133.7 478.6h0M151.9 422.1h0M114.4 461h0M138 470.3h0M132.8 477.4h0M143.1 445.6h0M129.5 467.6h0M131.7 468.7h0M141 459.1h0M137.7 459h0M137.5 460.4h0M134.2 477.1h0M135.2 472.9h0M134.7 476.3h0M135.3 471.6h0M116.9 428.5h0M133.9 478.2h0M133 475.9h0M147.8 444.5h0M132.5 476.3h0M145.5 424h0M137.1 465.7h0M141.1 456.8h0M136.8 465h0M145.5 439.4h0M144.3 416h0M150.9 416.2h0M135.6 473h0M130.8 469.5h0M135 472.1h0M138.3 461h0M155.4 446.9h0M128.5 465.1h0M134 478.4h0M150.3 410.4h0M135.7 469.3h0M145.1 426.7h0M133.5 477.7h0M134.7 474h0M150.3 415.8h0M145.5 436.7h0M130.3 471.5h0M145 438.2h0M135.3 475.1h0M136.8 473.3h0M132.1 475.9h0M148.5 459.5h0M138.1 454.1h0M138.2 459.8h0M121.7 439.2h0M139.8 454.2h0M124.9 449.6h0M132.6 475.4h0M116.6 450.3h0M135.3 472.8h0M131.5 474.4h0M135.2 472.9h0M140.6 439.7h0M129.8 468.2h0M131.7 467.7h0M135.8 470.5h0M124.5 446h0M141 459.4h0M142.6 446.1h0M128.7 464.1h0M137.2 464.5h0M131.4 470.8h0M123.8 450h0M138.4 468.2h0M130.8 469.9h0M149.1 443.5h0M135.6 475.1h0M131.8 471.7h0M126.6 454h0M146.1 440.8h0M146.4 412.8h0M126.2 465h0M134.3 477.5h0M132.1 474.9h0M143.4 449.6h0M131.6 465.9h0M125.2 459.7h0M139.1 459.1h0M134.4 476.7h0M130.2 468.9h0M146 436.1h0M128.9 462.8h0M126.5 471.8h0M140.3 457.2h0M140.8 448.5h0M136.2 475.4h0M130.9 470.6h0M151.1 451.8h0M140.5 457.5h0M142.7 417.8h0M126.9 447.3h0M131.3 472h0M124.4 455.4h0M120.9 432.2h0M129.2 465.1h0M129.8 466.3h0M139.9 448.3h0M136.2 466.7h0M136.7 464h0M143.9 449h0M144 425.4h0M160.8 402.3h0M144.1 461h0M140.6 450.2h0M141 459.5h0M143.4 457.7h0M140.4 458.9h0M137.6 467.3h0M139.5 463.4h0M127.8 451.6h0M134.2 477h0M144.4 436.2h0M136.5 470.9h0M133.7 478.5h0M133.4 476.8h0M125.6 441.7h0M164.4 446.3h0M130 469.7h0M136.5 468.4h0M136.8 475h0M118.3 440h0M130.2 469.1h0M126.7 459h0M131.6 473.4h0M127.1 459.8h0M126.4 467.2h0M127.9 466.9h0M132.3 473.8h0M143.9 440.4h0M148.6 438.5h0M156.9 433.5h0M133.9 478.6h0M134.3 477.7h0M141 451.3h0M155.2 442.3h0M123.4 464.3h0M146.9 447.7h0M144.7 442.9h0M130 471.5h0M148.1 415h0M120.1 463.2h0M141.9 443.4h0M141.5 451.2h0M131.5 476h0M131.9 475.5h0M109.7 419.6h0M135.3 473.1h0M135 476.5h0M159.7 444.5h0M155.1 457.7h0M118.6 440.7h0M125.6 443.3h0M139.1 462.3h0M128.9 465.2h0M136.4 467.2h0M143.3 436.3h0M143.6 445.9h0M138.7 459.1h0M145.5 431.5h0M119.4 461.1h0M142.6 454.9h0M139.4 448.3h0M112.6 422.4h0M136.6 466.9h0M136.7 466.6h0M132.3 475.1h0M141 459.7h0M124.6 444.9h0M119.1 445h0M133.8 478.8h0M124.2 457.9h0M148.8 457.6h0M134.3 477h0M138.2 462.6h0M127.2 468.9h0M126.5 462.7h0M134.1 477h0M133.9 478.6h0M136.1 467.4h0M133.5 478.1h0M143.4 447.2h0M141.6 434.1h0M145.2 450.2h0M140.8 458.1h0M141.9 450.8h0M123 446.1h0M142.6 451.7h0M112.5 419h0M141.6 453.2h0M131.9 474.6h0M136.3 472h0M133.1 478.2h0M136.9 473.5h0M145.8 436.9h0M107.4 433h0M131.2 468.5h0M139.6 462.6h0M134.6 475.2h0M132.5 475.1h0M119.3 422.9h0M126 460.1h0M137.6 456.9h0M137.8 455.5h0M139.1 456.9h0M127.2 466.5h0M134.4 477h0M124.3 452.5h0M133.8 478.7h0M133 475.6h0M134.6 474.7h0M117.5 433h0M133.3 477.3h0M153.9 440.5h0M139.5 456.5h0M129 473.8h0M142.7 459.7h0M137.4 466.6h0M112.2 411.3h0M140.5 470.8h0M136.1 467.2h0M140.6 453.6h0M134.7 476h0M141.5 449.5h0M134.7 476.1h0M133.8 478.6h0M133.2 476.2h0M137.7 466.1h0M125 455.8h0M130.6 472.1h0M131.2 470.1h0M133.4 477.4h0M145.3 424.6h0M133.1 476.5h0M139.7 460.9h0M132.5 474.1h0M142.2 464.9h0M137 469.6h0M156.7 433.4h0M132.6 473.3h0M133.4 476.3h0M135.9 473.2h0M122.6 468.5h0M139.1 457.3h0M133.7 478.7h0M122.5 440.1h0M128 455.6h0M125.4 470.3h0M144.5 441h0M114.5 444.8h0M134.4 476.8h0M146 435.8h0M149.1 408.6h0M127.5 462.2h0M144.4 443.3h0M127.4 469h0M133.1 477.1h0M157.7 444h0M128.1 459.8h0M135.4 473h0M138.5 462.2h0M136.9 469.7h0M122.9 415.3h0M134.6 477.1h0M131.7 471.4h0M141.8 458.5h0M150.1 427.4h0M132.7 475.9h0M136.4 464.5h0M137.4 469.6h0M127.1 458.6h0M123.9 449.2h0M129.7 464.5h0M123.2 453.3h0M142.7 438.5h0M145.8 440.5h0M156.7 447.6h0M134.5 476.3h0M136.4 464.6h0M135.2 477.3h0M143.9 462.8h0M104.2 445.6h0M129.8 468.3h0M133.9 478.2h0M131.3 473.6h0M144.2 429.6h0M129.3 457.4h0M136.3 472.2h0M111.8 439.6h0M107.8 452.5h0M134.5 476.7h0M139.8 455.3h0M153.5 447.5h0M138.7 467.8h0M141.2 460.4h0M146.2 431.2h0M134.8 474h0M131.6 472.5h0M126.2 443.9h0M125.4 452.9h0M150.5 422.6h0M140.3 457.6h0M134 478.3h0M109.6 426.5h0M135.6 474.1h0M130.9 469.6h0M142.5 445.4h0M136.9 465.6h0M142.8 443.3h0M131 469.9h0M135 475.6h0M126.1 446.8h0M128.2 455.6h0M142.6 469.1h0M134.6 475.8h0M133.8 478.7h0M151.8 439.6h0M141.6 455.6h0M137.3 469.6h0M131.3 471.9h0M135.4 473.8h0M131.8 473.3h0M143.8 457.1h0M135.7 472.5h0M138.3 463.2h0M127.7 455.5h0M135 476.4h0M114.4 443.3h0M134 478h0M158.5 438.5h0M137.2 464.3h0M142.7 453.7h0M148.4 433.6h0M123 450.7h0M131.3 468.5h0M135.5 473.1h0M142.7 438.9h0M118 445.8h0M148.4 432.4h0M132.6 475.6h0M136.6 470.6h0M151 428.5h0M148.1 443.7h0M137.3 462h0M133.3 477.1h0M144.3 455.9h0M144.2 438.9h0M129.2 465.6h0M127.8 457.4h0M137.5 460.3h0M126.7 458.5h0M143.4 434.3h0M117.2 440.2h0M118.6 446.7h0M142.3 449.1h0M123.6 452.4h0M131.7 473.4h0M135.4 474h0M127.5 467.7h0M144.7 427.9h0M121.9 447.6h0M125.6 458.9h0M123.6 455.3h0M139 454.8h0M150.8 402.1h0M132.9 475.4h0M148.7 461.7h0M148.3 440.3h0M149.4 453.9h0M124.5 458.2h0M135 476.6h0M128.5 466.1h0M128.9 467h0M116.1 454h0M145.2 434.7h0M114.6 432.6h0M136.2 469.9h0M132.3 474.6h0M118.5 433.7h0M132.8 475h0M126.1 461.2h0M160.2 435h0M133.6 478.1h0M133.5 478.2h0M129.2 467.2h0M150.4 423.2h0M136 475.4h0M114.2 432.7h0M134.2 478.1h0M129.9 466.8h0M137.8 472.5h0M136 466h0M117.7 432.7h0M135.6 469.1h0M136.5 466.2h0M138.8 453.3h0M133.7 478.5h0M144 411.7h0M135.1 473.4h0M142.9 453.8h0M134.5 474.6h0M113.3 415.8h0M131.4 473h0M145 435.3h0M140.1 462.4h0M149.8 442.9h0M137.5 469.8h0M149.8 447.6h0M145.3 442.8h0M142.2 464.6h0M135.6 472.3h0M135.1 475h0M138 454.5h0M125.5 471.1h0M132.5 474.8h0M134.5 476.2h0M147.2 434.5h0M133.4 477.5h0M137.1 466.3h0M117.3 442.6h0M134.7 476.3h0M151.2 415.7h0M128.8 467.2h0M127 459.9h0M134 478.4h0M153 407.3h0M128.6 470h0M127.4 467.7h0M138.2 463.4h0M124 440.1h0M136.6 464.1h0M126.3 456.1h0M151.2 411.7h0M142.4 442.7h0M129.2 470h0M141.3 459.6h0M137.4 462.8h0M126.1 456.4h0M134.5 476.7h0M123.1 460.1h0M117.3 439.4h0M116.7 453h0M135 477.5h0M136.2 464.8h0M146.7 440.5h0M132.4 475.3h0M136.5 474.2h0M134.3 476.5h0M130.6 469.9h0M136.7 470.8h0M142 445.7h0M130.5 471.6h0M132.1 473.4h0M131.9 475h0M135.3 473.1h0M134.9 471.4h0M139.6 459.8h0M134.2 477.1h0M127.3 461.5h0M130.4 468.1h0M125.5 454.3h0M132.8 475.9h0M137.8 473.4h0M132.1 476.8h0M129.6 472.3h0M138.8 460.7h0M154.3 424.3h0M114.7 421.4h0M142.2 444.6h0M130.2 470h0M131.3 472.6h0M137.6 468.4h0M139.4 464.8h0M131.7 472.2h0M131.8 467.6h0M134 477.8h0M142.7 462.9h0M150.9 415.2h0M141.7 441.5h0M136.3 468.9h0M130.1 469.8h0M124.7 467.9h0M122.5 459.7h0M145.4 441.8h0M130.7 472.7h0M137.1 469.5h0M129.2 470.6h0M152 405.7h0M140.3 457.7h0M137.9 470h0M146 431.5h0M109.7 414.7h0M136.3 473.5h0M136.9 467.2h0M111 423.4h0M132.6 477h0M133.5 478h0M132.1 476.9h0M141.9 453.2h0M136.3 467.2h0M147.6 407.1h0M142.8 453.6h0M130 470.8h0M137.6 463.3h0M132.1 474.9h0M127 463.2h0M129.9 467.7h0M134.7 475.1h0M119.4 433.1h0M127.1 463.8h0M122.4 445.9h0M132.4 474.9h0M147.5 426.5h0M137 465.7h0M144.7 422.2h0M134.7 475.3h0M118 456.8h0M133 476.4h0M155.7 434.4h0M135.7 473.7h0M133.9 478.2h0M121.1 451.2h0M135.1 472.5h0M126.2 457.6h0M122.9 448.9h0M142.5 455.1h0M126.5 454.9h0M129.2 452.2h0M139.3 472.7h0M143.1 463.5h0M149.2 426.6h0M120 462.1h0M134.9 472.6h0M139.7 463.3h0M154.7 442.2h0M135.5 472.8h0M134.9 473.9h0M126.2 462h0M137.4 463.9h0M135.8 471h0M142.5 466.9h0M122.8 459.6h0M141.7 448.4h0M114.7 441.6h0M143.2 438.8h0M145.1 449.7h0M137.7 472.4h0M126.6 461.7h0M142.8 440.1h0M134.4 476h0M133.3 477.9h0M131.3 472.1h0M127.3 464.5h0M135.3 473h0M134.3 475.9h0M137.8 468h0M137.7 468.3h0M132.8 475.6h0M115.7 447.2h0M132.2 474.1h0M139.2 457.9h0M143.2 431.4h0M129.6 457.7h0M129.8 469h0M162 432.1h0M163.6 418.8h0M132.6 474.7h0M135.8 470.9h0M136.6 467.2h0M125.4 440.8h0M125.7 457.4h0M126.2 458.4h0M134.2 477.4h0M134.2 477.6h0M130.5 475.3h0M144.2 452.7h0M116.7 445.9h0M115.3 414.1h0M136 472.7h0M126 454.7h0M145.2 429.2h0M117.8 441.8h0M135.4 472.4h0M119.1 418.5h0M145.3 465.5h0M139.6 463.9h0M141.6 452.5h0M136.3 469.3h0M145.4 447.5h0M133.3 477.4h0M131.1 469.4h0M134.7 477h0M135.3 473.9h0M128.8 468.4h0M134 478h0M129.7 463.8h0M135.4 472.1h0M138.5 467.9h0M148 423h0M147.2 422.7h0M123.2 454.2h0M152.1 410.8h0M146.7 433.7h0M136.2 472.5h0M130.6 470h0M119.4 451.8h0M135 475.9h0M136.3 469.5h0M129 461.7h0M134.6 476.3h0M127.2 449.1h0M134.7 475.1h0M133.4 477.7h0M140.1 463.3h0M137.5 463.3h0M128.1 457.8h0M135.6 468.9h0M144.3 438h0M146.8 465.8h0M123.3 458.9h0M136.8 468.3h0M140.5 442.2h0M125.4 461.5h0M135 473.6h0M127.5 463.4h0M139.3 444.7h0M113.9 449.7h0M134.4 475.1h0M131.4 474.6h0M111.4 454.4h0M140.5 447.8h0M124.9 455.7h0M135.1 473.9h0M113.2 441.9h0M134.2 476.4h0M139 455.1h0M134.5 477.9h0M133.5 477.6h0M134.8 474.9h0M135.4 471.1h0M135.5 472.9h0M140.5 443.8h0M132 473.6h0M116.9 450.1h0M115.5 448.2h0M120.4 458.6h0M137.8 470.3h0M138.8 457.5h0M133.5 477.6h0M132.7 476.9h0M136 471.7h0M134.7 477.6h0M135.3 474.7h0M132 474.1h0M134.5 477.8h0M131 465h0M135.5 476.4h0M127.4 463.6h0M147 432h0M130.4 466.6h0M132.8 475.5h0M130.7 468.6h0M138.3 458.7h0M137.8 468.2h0M143.1 447.5h0M134.2 477.9h0M126.8 463.6h0M132.7 474.4h0M132.3 474.8h0M126.7 467.1h0M133.7 478.5h0M144.4 452.4h0M125.8 456.3h0M126.2 461.9h0M141.9 435.5h0M147.7 456.8h0M133.1 477.4h0M114.6 444.4h0M141.9 447.1h0M137.6 463h0M136.5 466.7h0M134.4 476.5h0M141.7 455.2h0M137.1 466.6h0M139 461h0M131.7 473.1h0M136.9 466.1h0M147.1 441.3h0M118.1 452.5h0M133.6 478.4h0M124.8 448.8h0M109.4 421.3h0M126.7 464.8h0M135.8 471.8h0M128.8 466.3h0M119.5 435.4h0M133.8 478.6h0M127.7 469.6h0M141.3 441.6h0M127.1 460.3h0M107.5 416.5h0M132.1 475.2h0M120.9 461.3h0M143.8 431h0M141.8 451.7h0M148 402.5h0M135.7 476.1h0M135.1 470.5h0M139.3 455.2h0M139.4 466.9h0M135.2 471.4h0M143.1 456.2h0M136.8 471.1h0M148 446.7h0M137.2 464.4h0M147 443.5h0M143.4 450.5h0M131.1 471h0M132 476.7h0M147.4 430.6h0M133.9 478.6h0M127.5 469.3h0M111.6 441.1h0M127.2 460.1h0M135 475h0M155.4 430.3h0M133.9 478.4h0M133.1 476.5h0M137 464.6h0M134.1 477.2h0M129 461h0M126.5 455.5h0M126.9 455.3h0M116.1 405.3h0M144.1 461h0M152.2 428h0M134.9 474.3h0M128.8 460.9h0M130.4 469.1h0M147.4 439.1h0M125.8 462h0M148.2 432.7h0M128.2 461.9h0M136 471.3h0M119.1 460.6h0M134.2 476.9h0M137.1 463h0M129.6 468.4h0M125.8 440.2h0M143 451.1h0M131.6 471.1h0M147.5 442.2h0M129.4 468.2h0M136.7 471.2h0M137.6 464.2h0M135.1 474h0M107.1 452.4h0M106.8 453.9h0M129.8 465.5h0M131.6 473.3h0M125.6 450.7h0M105.3 450.7h0M132.4 471.6h0M141.9 435.4h0M140.7 453.6h0M138.3 460h0M125.7 445.8h0M135.6 470.6h0M127 439.9h0M153.3 437.2h0M131 471.3h0M131 469.1h0M140.1 458.2h0M134.8 475.2h0M141.7 453.4h0M132.9 476.4h0M141.8 470.5h0M127.3 457.4h0M156 412.7h0M140.6 455.1h0M161.9 443.6h0M134.7 475.2h0M137 464.7h0M136.8 465.5h0M136.5 465h0M125.2 462.1h0M136 473h0M149.8 408.7h0M133.2 475.9h0M137.1 468.7h0M131.8 472h0M128.2 448.4h0M133 476.4h0M144.5 431.7h0M135.8 470.4h0M145.3 440.8h0M132.4 475.8h0M144.9 439.1h0M142.5 458.9h0M138.6 454.4h0M114.3 435h0M133.2 477.2h0M149.1 435.6h0M122.2 436h0M129.9 464.9h0M135.2 473.7h0M133.2 476.9h0M123.8 454.8h0M155.5 411.6h0M134.1 477.5h0M131.7 472.1h0M160 432.1h0M145.4 447.3h0M139.6 455.4h0M131.7 473.9h0M140.2 441.8h0M129.8 457.8h0M141.3 450.5h0M133.3 477.6h0M138.2 458.8h0M140.1 452.1h0M137.2 460.1h0M139.4 458.8h0M144.4 448.2h0M138.1 458.1h0M127.6 458.5h0M143.1 435.8h0M134.4 477.9h0M135.1 473.7h0M136 472.7h0M138.6 461.5h0M132.7 475.7h0M138 469.3h0M144 438.7h0M116.7 424h0M147.5 412.8h0M148.8 440.3h0M140.7 455h0M146.9 431.7h0M131.2 466h0M143.9 441.6h0M134.5 476.5h0M114 445.4h0M140.7 462.9h0M133.9 478h0M127.9 453.3h0M130 465.8h0M148.2 425h0M131.7 472.9h0M101.8 436.7h0M149.5 431.2h0M140.8 449.2h0M129.4 471.4h0M134.1 477.4h0M147.1 465.1h0M134.1 477.7h0M132.5 477.1h0M134.8 474h0M132.3 475.4h0M142.5 459.8h0M133.1 476.8h0M128.8 461.4h0M137.7 464.8h0M157 414.7h0M132.9 476.3h0M128.9 467h0M124.6 466.3h0M118 436.9h0M139.6 458.2h0M130.7 471.5h0M127.2 465.3h0M126.1 460.8h0M123.8 453.1h0M116.9 457.1h0M131.6 473.7h0M134.1 477.4h0M130.4 466.6h0M129.6 464.2h0M125.7 454.5h0M149.4 446.5h0M136.5 472.3h0M129.7 466.7h0M146.1 421.5h0M140.1 462.9h0M133 476.7h0M131 474.5h0M124.4 444.6h0M133 476.5h0M136.2 468.3h0M138.7 456.6h0M112.3 427.3h0M126.6 459h0M131.2 471.4h0M138.7 460.7h0M124.5 433.1h0M137.7 468h0M127.4 462.7h0M156.5 441h0M117.8 438.9h0M140.7 450.8h0M136.6 469.4h0M133.3 477.3h0M127.5 462.7h0M133.8 478.7h0M133.7 478.3h0M143.8 469h0M147.1 454.2h0M164.9 437.3h0M139.7 435.3h0M132.3 473.9h0M135.5 469h0M161.9 404.7h0M137.2 466.6h0M128.4 467.7h0M150.2 417.1h0M138.8 460h0M135.3 472.1h0M133.1 476.5h0M129.8 463h0M134.3 476.7h0M129.4 464.9h0M147 441.7h0M134 477.7h0M143 449.5h0M141.2 449.3h0M142.8 448.5h0M134.8 475.4h0M137.1 469.8h0M136.4 468.2h0M132.2 474.7h0M133.9 478.2h0M124.1 456.9h0M128 464.1h0M133.2 476.8h0M135.2 474.2h0M137.8 466.1h0M134.5 476.3h0M133.3 477h0M140.7 440.9h0M136.9 466.2h0M153.4 400.8h0M133.7 478.4h0M138.1 464.7h0M139.5 463.3h0M126.3 454.8h0M141.7 450.3h0M128.3 462.5h0M140.8 441.2h0M113.3 428.2h0M134.5 476.7h0M139.4 457.5h0M134.3 477.7h0M144.8 433.4h0M132.7 476.9h0M136.7 462.2h0M134.7 475.7h0M145.7 412.4h0M135.5 472.8h0M123.4 446.7h0M134.6 476.2h0M131.7 469.1h0M119.9 465.5h0M143.6 456.3h0M140.9 459.8h0M126.7 446.7h0M139.2 462.2h0M125.6 447.9h0M108 408.5h0M143.3 443.3h0M134.6 474.7h0M140.3 449.1h0M140.4 452.9h0M139 459.4h0M130.6 469.4h0M140.5 449h0M134.5 476.6h0M124.7 458.5h0M131.1 473.3h0M139.5 458.5h0M136.3 466.1h0M156.6 415.5h0M129.4 467.9h0M139.2 454.3h0M126.9 462.3h0M123.3 460.8h0M143.5 452.3h0M136.8 471.1h0M136.4 471.8h0M134.1 477.9h0M152.8 415.2h0M124.5 463.7h0M134.9 473.4h0M125.1 466.1h0M148.5 434.5h0M132.5 476.1h0M122 423.8h0M126 459.7h0M145 438.6h0M129.8 469.5h0M132.9 475.5h0M120.2 451.9h0M157.2 433.3h0M143 429.1h0M136.2 473h0M127.2 462.7h0M136.8 471.6h0M141 452.2h0M131.1 465.1h0M134.6 474.3h0M128.8 459h0M161.5 407.8h0M116.4 435.8h0M131.2 468.5h0M140.9 450.6h0M132.4 474.2h0M123.2 450.6h0M129.3 461.2h0M131.5 470.7h0M131.6 470h0M120.9 443.7h0M134.2 477.2h0M102.2 426.8h0M139.4 468.3h0M128.5 455.2h0M128.6 463.8h0M134.3 477.2h0M144.7 443.6h0M132.4 472.5h0M136.8 469.8h0M133.2 477.5h0M105.8 441.3h0M133.6 478.3h0M121.7 420.4h0M135.5 475.8h0M135.7 471.2h0M134.6 476h0M137 475.6h0M134 478.1h0M120.7 441.9h0M134.7 475.7h0M130.5 473.2h0M138.8 455.1h0M134.7 475.6h0M133.9 478.6h0M121.5 428.1h0M129.3 462h0M136.9 467.6h0M131.6 470.5h0M136.1 471.4h0M132.7 473.5h0M146.4 433.1h0M110.5 425.5h0M147.6 429.1h0M139.3 464.4h0M137.3 464.7h0M132.9 475.5h0M140.4 466.1h0M127.1 461h0M139.8 451.6h0M141.3 448.2h0M134.2 476.6h0M134.3 476.7h0M123.5 444.1h0M157.4 401.8h0M141.4 448.2h0M136.7 467h0M152.3 414.9h0M137 463.9h0M136.7 473.2h0M142.5 428.9h0M134.2 478.1h0M162 408.5h0M154.6 417.2h0M131.3 471.4h0M140.9 452.8h0M155.8 452.4h0M136.6 471.4h0M140.4 452.4h0M154.7 412.8h0M138.3 460.5h0M135.2 473.9h0M141.9 465.8h0M126.4 458.5h0M143.5 424.3h0M128.4 458.6h0M131.7 473.1h0M140.3 453.8h0M124.8 436h0M134.9 474.6h0M136.5 471.9h0M153.4 432.3h0M130.4 471.1h0M143 447h0M142.9 455.7h0M117.9 442.7h0M119.3 447.7h0M131.2 472.4h0M142.7 434h0M134.3 476h0M114.9 451.2h0M137.4 473.8h0M142.9 453.2h0M133 475.3h0M139.6 456.6h0M139.9 449.2h0M153.2 457.1h0M133.3 476h0M136.1 469.5h0M133.5 478h0M135.5 469.5h0M128.4 467.3h0M137.4 466.2h0M134.8 474.8h0M138.3 465.9h0M125.7 440.3h0M115.6 422.8h0M129.6 474.6h0M141.2 458.4h0M137.7 460.9h0M145.3 466.9h0M139.5 459.1h0M134 478.3h0M132 471.2h0M141.2 456.5h0M135.1 469.1h0M122.1 451h0M132.6 475.2h0M131.4 467h0M130.2 468.7h0M135.5 469.5h0M130.8 465.7h0M127.3 464.7h0M131.6 473.3h0M150.4 445.6h0M128.8 469.5h0M134.8 474.8h0M123.7 445.4h0M136.9 469.5h0M137.3 467.5h0M132.5 473.9h0M137.2 466.6h0M161.3 411.8h0M139.4 465.8h0M138 465.1h0M144.8 444.5h0M114.3 446.1h0M118.8 435.5h0M133.4 478.1h0M139.4 467h0M134.4 477h0M140.9 428.6h0M112 433.8h0M138.9 460.1h0M133.9 478.2h0M143.7 448.2h0M135.7 471h0M144.4 440.2h0M137.6 467.5h0M134.5 474.8h0M150.2 426.5h0M140.7 447.1h0M109.4 425.6h0M141.9 459.2h0M154.8 414.9h0M135.2 473.2h0M146.5 415.6h0M130.7 469.8h0M130.4 463h0M156.7 414h0M134.4 476h0M139.8 453.4h0M130 474h0M138.5 454.8h0M126.4 458.5h0M127.4 464.5h0M129.5 473.7h0M149.6 450.3h0M145.4 447.9h0M134.3 477.1h0M143 430.2h0M132.5 472.8h0M129.6 468.6h0M137.1 461.5h0M118.2 441.6h0M133.8 478.7h0M127.9 465.2h0M132.1 474.8h0M152.6 454.3h0M113.3 412.1h0M139.8 456.6h0M134.5 476.6h0M131 470.7h0M134.2 477.3h0M133.3 477h0M123.4 456.1h0M135.3 473.5h0M133.4 478.4h0M137.4 463.5h0M135.6 473.4h0M114.7 422h0M125.1 464.4h0M149 443.3h0M127.1 457.9h0M147.8 447.2h0M137 460.6h0M133.6 478.5h0M121.7 446.4h0M132.5 472.6h0M129.3 466.7h0M133.6 478.3h0M130 474.4h0M136.1 471.3h0M152.1 413.4h0M137.1 466.2h0M140.5 458.5h0M138.3 472.8h0M118.9 433.2h0M118.3 445.2h0M135.5 471h0M120.1 432.7h0M133.5 478.2h0M138.6 449.5h0M133.2 476.9h0M137.3 460.6h0M145.5 420.6h0M139.5 451.4h0M137.9 470.1h0M141.3 454.8h0M139.7 454.6h0M138.2 468.8h0M133.2 477.5h0M126.6 456.2h0M143.1 453h0M134.1 478.3h0M137.8 454.5h0M157.2 450.8h0M133.3 477.6h0M127.3 450.2h0M127 456h0M124.9 459.8h0M139.9 456.5h0M138.4 452.3h0M133.8 478.6h0M111.5 437.9h0M143.5 449.6h0M113.4 455.8h0M136.5 476.1h0M128.4 463.9h0M150.7 460.8h0M151.7 446.4h0M135.2 472.2h0M148.8 446.2h0M133.6 478.5h0M152.8 418.9h0M133.8 478.8h0M130.5 468.3h0M152.3 451.2h0M127.3 441.8h0M124.2 459.5h0M143.8 454.7h0M134.5 477.7h0M124.9 445.3h0M128.4 473.2h0M147 427.8h0M144.1 441h0M135.2 472.2h0M125.3 453.3h0M149.6 441.7h0M130.2 468.7h0M144.1 426.8h0M134 478.2h0M134.2 476.9h0M137.7 459.8h0M116.9 461.9h0M139.3 450.1h0M135.8 464.3h0M125.1 456.5h0M126.9 459.1h0M140.8 443.2h0M140.7 451.6h0M132.6 476.1h0M124.2 450.3h0M146.7 440.5h0M151.3 412h0M126.7 459.5h0M137.2 466.7h0M135.9 468.9h0M134.3 476.4h0M112 418.5h0M120.6 431.9h0M137.7 471h0M151 411.6h0M121 451.2h0M143.7 449.4h0M135.8 472.1h0M133.9 478.4h0M138.3 472.4h0M139.9 464.1h0M133.7 478.6h0M122.6 453.6h0M143.5 441.2h0M133.6 478.3h0M130.8 470.9h0M136.5 468.7h0M130.8 474.5h0M137.1 464.2h0M104.6 451.3h0M146.9 402.7h0M151.2 425.7h0M132.5 477h0M126.7 465.4h0M125.4 449h0M137.8 461h0M143.3 455.5h0M125.1 465.2h0M112.7 437.4h0M138.2 461.3h0M129.7 464.8h0M128.5 473.2h0M139 460.4h0M126.5 459.1h0M136.1 468.8h0M133.3 477.1h0M134.2 477.1h0M130.8 471.9h0M134.9 474.3h0M137.2 460.9h0M163.3 431h0M134 477.8h0M135 472h0M134.5 476.1h0M132.5 475.5h0M142.1 437.2h0M136.6 475.7h0M122.8 446.8h0M109.4 434.2h0M128.5 467.3h0M134.8 475.2h0M144.4 441h0M148.3 419.4h0M128.3 465.8h0M109.2 421.7h0M132.3 475.2h0M132.9 475.8h0M119.6 456.5h0M145.7 436.4h0M135.8 471.8h0M133.3 477.6h0M130.3 461.3h0M133.1 475.1h0M136.5 473.9h0M137.9 468.6h0M126.9 471.3h0M124.9 460.8h0M134.7 474.4h0M133.7 478.4h0M132.2 472.4h0M137.6 462.7h0M132.2 476.3h0M141.2 446h0M132.5 474.4h0M115 453.9h0M128.7 460.1h0M156.5 422.1h0M150.4 432.9h0M124.8 450.2h0M140.8 452.9h0M140 452.6h0M134.4 476.5h0M131.3 473h0M129.6 468.5h0M134.9 474.4h0M137.1 462.4h0M136.6 471.7h0M129.8 467.3h0M129.8 468.8h0M157.9 413.1h0M152.2 437h0M140.2 461h0M128.5 468.4h0M135.8 475.7h0M142.5 447.9h0M155.6 438.2h0M156.4 417.4h0M128.5 464.5h0M127.9 471.2h0M145 424.1h0M120.2 429.1h0M139.3 454.9h0M144.2 464.5h0M137.1 469.2h0M130.5 459.8h0M131.8 471.8h0M134 477.8h0M137.5 464.8h0M138.9 450.7h0M144.6 447h0M144.5 462.3h0M140.2 463h0M141.1 468.6h0M132.7 473.1h0M148.3 430.4h0M124.5 460.6h0M125.6 462.2h0M129.8 457h0M135.2 472.4h0M121.5 449.8h0M139 463.7h0M144.7 441.1h0M128.3 458.6h0M134.1 477.4h0M120.1 448.1h0M145.5 431.8h0M133.8 478.7h0M140.4 460.7h0M129.7 463.5h0M134.9 474.7h0M130 469.1h0M131.2 471.5h0M126.9 464.9h0M154.7 403.6h0M131.7 474.4h0M133.9 478.5h0M137.5 459.6h0M114.5 400.7h0M128.3 465.4h0M139.3 472.7h0M151.3 406.8h0M150.4 455.1h0M136.2 468.4h0M136.9 466.1h0M149.3 455.2h0M136.9 462.3h0M132.3 471.5h0M157.2 412.9h0M135.7 473.3h0M132.8 476.3h0M131.2 470.8h0M136.3 467.9h0M120.7 449.2h0M160.9 451.5h0M155 430.2h0M135.9 471.6h0M146.3 452.8h0M128.3 458.9h0M123.6 424.9h0M139.5 463.7h0M139.7 457.5h0M137.4 469.3h0M139.6 459.9h0M116.4 430.8h0M135 472.8h0M128 469.5h0M135.8 473.1h0M139.9 469.7h0M114.1 434h0M131 466.7h0M141.1 450.3h0M134.1 477.7h0M139.8 450.8h0M133.2 475.3h0M133 476.2h0M133.8 478.7h0M132.8 476.6h0M135.1 475.9h0M134.3 476.9h0M151 416h0M148 441.7h0M156.6 412.4h0M134.7 475.4h0M132.5 474.9h0M144.6 455h0M135.9 472h0M139.9 463.2h0M130.3 471.8h0M133.7 478.6h0M123.6 469.1h0M148.6 452h0M128.2 456.7h0M133.3 477.4h0M121.9 415.9h0M138.4 453.7h0M147 464.4h0M133.8 478.7h0M140.4 457.1h0M132 473.6h0M136.7 470.3h0M140.4 466.2h0M144.3 451.9h0M134.2 477.8h0M137.3 468.1h0M138.9 469.1h0M139.7 457.7h0M130.6 468.1h0M128.7 462.2h0M133.7 478.4h0M144.2 466.1h0M135.7 468.5h0M128.9 465.1h0M129.6 465.8h0M134.9 475.3h0M147.1 418.2h0M131.9 472.6h0M141.4 441.6h0M138.4 469.3h0M148.6 440.2h0M140.1 448.6h0M154.7 410.2h0M128.8 469h0M144 413.9h0M146 464.9h0M130.9 473.3h0M134.3 477.5h0M134.3 477.1h0M133.3 477.6h0M140.2 447.9h0M133.1 476.6h0M136.3 464.5h0M123.7 452.9h0M137.3 465.3h0M137.4 467.3h0M129.1 468.3h0M140.5 446.3h0M129.3 474.5h0M135.9 472.8h0M141 454.2h0M132.8 474.3h0M134.9 473.9h0M128.2 462h0M146.4 427.9h0M114.2 440.8h0M140 447.8h0M135.2 472.4h0M142.9 426.3h0M129.1 469h0M129.4 455.6h0M134.1 478h0M137.4 461.8h0M143.3 463.4h0M124.5 427.2h0M129.5 467.2h0M143 449.5h0M141.2 450.8h0M132.8 476h0M158.2 408.7h0M132.5 471.7h0M135.9 475.5h0M131.6 467.4h0M141 446.5h0M143.9 442.1h0M137.9 472.4h0M143.2 443.1h0M163.1 436.1h0M140.1 439.5h0M115.5 430.3h0M144.3 440.4h0M140.1 457.1h0M134.3 476.4h0M130.5 470.4h0M136.2 467.1h0M141.9 447.6h0M136.4 468.5h0M129.5 469.2h0M135.7 464h0M122.9 449.9h0M132.1 473.9h0M127.8 472h0M107 420.2h0M127.3 459.6h0M137.1 471.9h0M161.3 415.1h0M151.2 420.5h0M128.2 462.9h0M138.2 465.8h0M156.9 424h0M122.8 456.7h0M127.5 450.8h0M118.3 462.7h0M131.7 469.3h0M133.2 477.7h0M153.9 443.9h0M148.5 417.2h0M131 471.7h0M134.1 477.2h0M134.6 475.3h0M134.1 477.6h0M141.8 451.1h0M153.4 432.1h0M130.9 464.1h0M131 470.6h0M124.4 467h0M133.4 477h0M130.2 469.3h0M137.2 472h0M148.2 437.4h0M121.7 445.1h0M139.7 450.9h0M136.2 476.2h0M131 470.2h0M132.2 474.1h0M139 459.8h0M131.2 473.2h0M130 469.9h0M136.9 465.2h0M131 473.5h0M156.9 412h0M130.3 471.7h0M125.6 446.1h0M152 427.4h0M132.7 476h0M146.5 444.1h0M151.4 449.6h0M130.9 471.6h0M134.6 476h0M133 475.6h0M137 465h0M136.8 460.5h0M131.9 471.2h0M125.9 433.5h0M131 474h0M111.3 456.9h0M128.1 458.3h0M139.5 463.3h0M144.4 426.3h0M127.1 459.4h0M145.4 438.6h0M132.3 475.6h0M136.2 467.9h0M132.8 476h0M142.9 457h0M139.2 473.2h0M115.8 434.9h0M131 463.8h0M114 454.9h0M134.9 474.5h0M131.4 474.2h0M134.8 475.3h0M135.7 468.2h0M133.8 478.8h0M143.5 438.7h0M138.4 457.9h0M124 449.3h0M144.4 432.1h0M139.1 451.7h0M130.3 469.5h0M152.2 404.2h0M155.3 451.9h0M132 473.4h0M135.1 472.2h0M146.1 443.1h0M120.8 434.5h0M126.4 454.6h0M134 478.2h0M124.8 428.4h0M140.3 441.2h0M119.1 417.3h0M137.9 465.6h0M139.4 452.1h0M135.5 470.8h0M128.7 470.1h0M155.1 435.5h0M138.5 448h0M105.7 435.4h0M133.6 478.4h0M138 455.2h0M122.7 439.6h0M138.6 460.9h0M153.9 458.4h0M141.1 459.7h0M118.4 408.8h0M162.7 430.9h0M136.7 466.1h0M125.4 446.3h0M137.9 458h0M130.3 468.6h0M137.2 461.7h0M139.2 446.3h0M130.8 471.5h0M137.5 466.6h0M138.1 457.4h0M137.6 469.1h0M153 420.6h0M137.7 451h0M134.3 476.7h0M126.4 464.3h0M113.6 441.8h0M132.7 476.3h0M129.4 473h0M135.7 468.6h0M132 473.4h0M137 459.7h0M131.8 471.3h0M129.9 468.9h0M125.5 460.1h0M127.5 456.9h0M128.5 467.3h0M138.5 470.1h0M125.7 457.4h0M128.5 468.7h0M133.8 478.7h0M137.2 460.1h0M144.7 446.4h0M116.7 450.9h0M136.8 466.2h0M159.2 453.6h0M131.5 472.4h0M123.4 456.7h0M147.7 438.8h0M136.2 474.8h0M114.1 458.2h0M132.8 473.8h0M138 467.1h0M154.6 454.9h0M139 453.2h0M139.8 446.8h0M145.1 436.6h0M138.6 458h0M131.7 472h0M125.6 462h0M137.4 469.7h0M150.1 451.1h0M131.1 476.2h0M139.1 456.3h0M137 466.5h0M136.8 466.3h0M145.2 419.9h0M155.1 417h0M146.5 426.6h0M133.1 477.3h0M135.8 472h0M134.8 474.9h0M140.9 455.6h0M132.5 474.2h0M139.5 453.2h0M131.6 474.1h0M139.5 465h0M131.3 465.2h0M158.5 453.3h0M135.3 474.4h0M109.9 450.7h0M138.9 458.2h0M138.5 470.6h0M115.5 458.6h0M136.6 472h0M136.2 465.9h0M123.8 454.4h0M136.1 468.1h0M142.9 454.7h0M136.4 459.2h0M157.3 421.9h0M135.5 470h0M116.2 422.9h0M145.1 445.3h0M136.4 471.2h0M145.4 456.6h0M137.8 453.5h0M150.5 428.8h0M139.2 448.4h0M148.9 422.7h0M133.7 478.4h0M134.5 474.8h0M123.1 437.3h0M135.5 470.6h0M137.3 460.9h0M133.2 477h0M144.8 409.3h0M141.5 465.4h0M127.3 460.5h0M109.7 439.4h0M143 437.6h0M127.8 456.3h0M139.8 457.8h0M103.3 418.6h0M136.3 463.6h0M132.6 477.6h0M134.7 475.8h0M141.1 456.6h0M148.7 448.9h0M135.9 471.7h0M138.6 457.6h0M133.5 477.7h0M130.6 468.8h0M137.3 462.1h0M126.6 445.5h0M151.5 409.9h0M142.5 460.5h0M133.5 478.4h0M136.3 464.5h0M147 425.3h0M140.1 461.3h0M123.5 452.1h0M156.3 414.2h0M138.7 457.6h0M121.7 463.7h0M137.6 464.2h0M136.7 469.4h0M124.5 456h0M134.4 477.6h0M133.3 477.5h0M143.9 441.2h0M125.8 459.4h0M138.9 446h0M129.8 469.8h0M134.1 477.5h0M115.3 435.9h0M130.3 470.7h0M138.4 470.6h0M129.5 465.3h0M118.2 441.7h0M132.8 475.4h0M136.9 467.7h0M136.3 469.9h0M117.9 433.9h0M124.7 457.3h0M141.3 468h0M131.9 473.9h0M132.4 474.4h0M140.2 462.5h0M131.5 473h0M137 467.6h0M137.2 459.6h0M139.5 462h0M132.5 474.7h0M146.3 445.9h0M138.7 458.2h0M147.1 433.9h0M134.6 476.3h0M131.7 474.7h0M135.2 477.4h0M142.3 445.7h0M137.7 462.7h0M137.4 467.6h0M131.5 471.3h0M129.3 470.3h0M139.5 438h0M132.4 472.6h0M133.5 478.1h0M137.6 458.2h0M130.4 467.6h0M116.4 445.3h0M127.9 470h0M124.6 447.5h0M131.6 473.1h0M132.5 475.7h0M112.7 430.1h0M135.3 471.8h0M135.5 472.5h0M140.9 442.2h0M135.9 470.2h0M132.2 472.3h0M140.2 445.7h0M127.1 460.1h0M145.6 440.5h0M145.7 455.8h0M122.9 453.8h0M151.7 460.2h0M131.8 476.2h0M140.7 450.5h0M137 475.5h0M136.7 469h0M128.9 458.4h0M140.7 461.4h0M153.4 441.9h0M131 474.1h0M132.8 476.2h0M127.2 462.5h0M139 455h0M144.5 431.1h0M131.7 469.2h0M152 438.4h0M120.4 452.9h0M124.4 465.9h0M143.2 428.4h0M144.9 467.2h0M143.3 451.6h0M108.3 435.3h0M143.7 447.6h0M135.8 466.9h0M124.8 454.2h0M125.1 470.6h0M132.8 474.6h0M133.7 478.1h0M132 474.5h0M142.6 455.1h0M134.5 475.4h0M134.5 476.1h0M136.6 466.5h0M151 410.6h0M133.7 478.6h0M151 415.5h0M107.9 406.2h0M127.3 462.6h0M139.3 463.5h0M133.7 478h0M135.9 470.9h0M126 451.1h0M130.6 471.3h0M141.4 453.1h0M133.1 475.3h0M132.9 475.4h0M126.7 461.1h0M143.5 466.6h0M127.4 469.9h0M147.4 446.7h0M112.3 426.5h0M135.8 471.7h0M121.1 448.1h0M130.9 473h0M139.1 454.6h0M136.8 468.4h0M110.3 455.3h0M126.6 463.7h0M120.7 464.3h0M131.3 470.3h0M138.7 464h0M151.4 460.4h0M135.9 470.5h0M146.6 438.3h0M126.2 461.5h0M128.4 468.7h0M147.7 464.9h0M128.2 466.2h0M138.8 453.7h0M130.8 471.9h0M127.7 470.5h0M133.7 478.1h0M137.6 464.6h0M127.3 457.4h0M134.3 477.4h0M156.8 454.9h0M135.9 470.3h0M122.2 463h0M132.5 473.6h0M144.9 429h0M138.5 454.5h0M109.4 442.7h0M122.3 444.5h0M110.3 410.4h0M141 456.7h0M149 427.2h0M125.6 452.5h0M136 471.2h0M148.5 428.6h0M132.4 473h0M137.3 472.2h0M130.5 472.3h0M110.7 457.7h0M129.4 466.3h0M129.8 465.3h0M126.6 438.3h0M139.6 471.9h0M122.4 444.7h0M142.5 434.5h0M130.1 471.3h0M136.3 469.6h0M133.2 477h0M135.1 475.4h0M141.4 447.8h0M150.7 419.5h0M128.3 451.5h0M126.3 463h0M115.5 445.6h0M132.2 472.5h0M146 449h0M130.2 471.2h0M122 453.7h0M154.7 437.2h0M131.5 473.2h0M122 448.6h0M140 468.5h0M126.6 462.3h0M128.7 465.7h0M133.6 478.2h0M114.1 437.7h0M139.3 447.7h0M132.1 469.8h0M132.5 473.6h0M133 476.2h0M134.6 475.1h0M132.9 476.7h0M132.9 476.2h0M125.5 461.4h0M152.9 456.8h0M134.8 475.2h0M133.7 478.5h0M137.3 460.9h0M121.2 465.8h0M127.2 454.8h0M135.8 469.5h0M148.8 413.3h0M134.7 476.5h0M133.5 478.3h0M132.9 476.2h0M125.5 470.8h0M139 459.1h0M149.8 454.9h0M135.3 473.6h0M142.3 436.4h0M135.7 471.7h0M131.7 476.7h0M134.4 477.4h0M134.4 475h0M139.5 452.3h0M145.9 429.2h0M134.7 475h0M127.3 459.1h0M144.3 468.3h0M120.3 459.3h0M135.9 469.4h0M149.1 420.9h0M126.5 460.6h0M134.8 472.9h0M126.5 459.3h0M138.9 455h0M140.2 461.3h0M143.2 452.4h0M136.8 461.8h0M129.7 466.9h0M129.4 453.8h0M138.2 465.8h0M155.2 445.5h0M133.2 477.8h0M124.4 444.4h0M141.8 447.6h0M153.3 431.6h0M142 455h0M135.8 472.9h0M133.1 477.2h0M158.4 406h0M124.6 432.7h0M138.6 464.2h0M130 470.8h0M139.3 460.6h0M130.4 469.9h0M142.1 452.5h0M136.6 462.1h0M131.3 471.7h0M139.3 441.3h0M148.2 458h0M125.8 456.6h0M122.5 446.3h0M133.5 477.9h0M133.8 478.7h0M126.5 460.8h0M154.5 419.3h0M129.8 469.5h0M130 466.3h0M130.2 471h0M138.3 464.8h0M126.7 448.1h0M130.7 470.3h0M136.6 464.1h0M133.5 477.2h0M131.3 465.8h0M156.9 454.3h0M137.4 464.5h0M126.1 456.8h0M126 460.5h0M136.4 470h0M149.4 413.8h0M129.4 462.6h0M133 477.5h0M136.2 469.6h0M137.7 470.1h0M133.4 478h0M127.1 455.3h0M110.9 441.9h0M145.2 449.9h0M139.6 455.7h0M110.2 435.4h0M132.3 475.4h0M150.1 436.5h0M124 439.2h0M136.9 470h0M129.7 467.4h0M115.1 454.8h0M131.3 473.2h0M156.8 402.5h0M133.4 477.9h0M133 476.4h0M136.2 471.2h0M114.1 421.5h0M133 477.7h0M116.7 463.2h0M136.8 474h0M140.6 459.3h0M129.4 464.3h0M134.8 474.6h0M142.9 439.1h0M134.2 478.4h0M135.8 474.1h0M126.9 462.4h0M141.5 465.1h0M120.6 438.4h0M122.8 457.1h0M140.6 451.3h0M128.5 470.2h0M147.2 420.1h0M143.4 445.9h0M134.4 475.4h0M132.5 474h0M137.6 467.8h0M131.8 475h0M140.9 448.5h0M142.4 456.9h0M135.8 473.4h0M139.6 453.4h0M152.5 425.3h0M128.1 461.1h0M133.4 476.8h0M137.3 465.4h0M143.2 455.4h0M165.4 402.7h0M139.2 461.5h0M137.1 464.7h0M129.7 467.7h0M137.7 462.6h0M132.3 473.1h0M136.3 470.5h0M140 460.9h0M139 448.8h0M129 464.2h0M131.9 473.9h0M147.4 426.1h0M118.4 442.3h0M136.1 470.6h0M131.5 472.2h0M103.9 450h0M143.7 450h0M143.3 426.4h0M147 429.5h0M135.3 475.9h0M153.9 433h0M134.7 472.1h0M139.8 444.5h0M134.1 477.3h0M132.2 474.3h0M143.5 445.3h0M149.2 430.2h0M144.9 448.2h0M134.6 476.2h0M145 425.5h0M128.1 468.9h0M129.4 467.1h0M148.5 460h0M145.6 438.3h0M154.8 439.8h0M134.9 472.6h0M133.6 478.1h0M137.9 466.9h0M138.8 464.6h0M137.7 461.8h0M131 468.8h0M128.8 463.7h0M134.4 476.2h0M126.6 469.4h0M101.2 445.2h0M139.1 452.8h0M142.6 441.7h0M123.9 454.4h0M137.3 465h0M134 478h0M133.3 477.2h0M146.6 422.3h0M146.1 422.2h0M132.4 475.2h0M132.1 473.7h0M138.9 470.1h0M132.7 475.2h0M128.8 462.6h0M138.8 449.2h0M134.5 475.1h0M138.4 466h0M157.8 401.9h0M135.3 473.4h0M161.1 418.5h0M125.1 453.3h0M128.2 468.9h0M142.9 447.8h0M126.6 457.7h0M131.5 472.8h0M127.6 465.3h0M145.6 453.8h0M129.8 466.5h0M148.1 434h0M116.7 442.7h0M120.4 423h0M127.9 447.4h0M139 458.3h0M112.2 456.6h0M132.3 474.7h0M134.2 477.5h0M135 472h0M149.8 448.8h0M137 472.4h0M158.9 429.1h0M136.2 469.5h0M132.1 476.3h0M123.1 429h0M116.7 428h0M125.4 461.5h0M119.8 435.9h0M101.7 447.3h0M145 464.6h0M131.2 472.7h0M105.6 445.8h0M143.9 429.2h0M129.4 474.4h0M131.9 473.6h0M116.7 452.9h0M119.3 448.6h0M140.6 449.2h0M142.1 455.2h0M138.6 452.9h0M126 460h0M139.8 449.2h0M134.1 476.9h0M135.5 475.9h0M116 420.2h0M135.9 471.8h0M139 453.6h0M130.9 468.8h0M125.8 452.8h0M141.6 469.4h0M134.5 476.5h0M133.8 478.6h0M136.1 473.9h0M116.2 432.6h0M152.7 408.1h0M134.6 474.9h0M115.3 428.5h0M130.4 469.8h0M131.3 471.9h0M130.9 470.3h0M131.9 468.3h0M137.2 464h0M134.7 474h0M132.9 477.9h0M127 462.4h0M152.5 422.3h0M144.2 442.2h0M146.7 428.7h0M143.7 453.5h0M125.6 446.1h0M128.5 464.8h0M136 469.6h0M145.6 434.2h0M133.8 478.8h0M137.7 460.1h0M142.3 458.8h0M130.2 464.4h0M127.2 459.5h0M137.4 463.7h0M136.8 468.8h0M111.3 437.9h0M138.7 466h0M161.3 423.1h0M125.1 462.5h0M134.3 477.1h0M140.4 462.7h0M142.7 433.2h0M133.4 476.9h0M140.9 455.2h0M130.4 461.7h0M130.5 470.9h0M141.2 457.8h0M128.8 460.8h0M123.6 452.4h0M142.8 448.5h0M135.5 473.8h0M134.2 476.8h0M143.2 426.2h0M123.8 458.5h0M126.1 454.9h0M138.2 451.5h0M132.6 475.7h0M134.9 474.5h0M146.9 449.7h0M138.6 460.2h0M135.6 475.4h0M135.8 472h0M137.7 460.1h0M142.8 439.8h0M133.6 478.3h0M127.3 463.5h0M114.3 459h0M148.4 412.6h0M134.7 474.4h0M156.1 413.6h0M152.2 432.5h0M146.9 444.4h0M134.4 477.1h0M129 465.7h0M138.6 446.7h0M128.2 459.3h0M152.2 414.4h0M128.9 465.5h0M133.6 478.2h0M117.6 433.5h0M142.6 456.3h0M133.1 476.9h0M129.8 461.9h0M140.8 446h0M131 472.7h0M132 469.7h0M128 455.4h0M125 451.7h0M135.9 470.1h0M131.4 474.4h0M123 450.3h0M125.3 458.8h0M130.1 467h0M145.1 439.6h0M133.2 477.1h0M137.6 465.3h0M136.5 466.6h0M134.1 477.1h0M139.6 456.1h0M132.9 475.7h0M120.5 462h0M136.3 464.6h0M138.4 467.4h0M131.2 463.8h0M133.3 477.9h0M158.5 401.7h0M149.3 449.6h0M123.8 459.3h0M152.5 407h0M137.7 464.2h0M135.6 473.8h0M133.4 477.2h0M120.7 448h0M133.9 477.9h0M136.8 469.1h0M149.6 416.5h0M142.3 463.6h0M133.9 478.2h0M153.4 418.7h0M137.3 468.7h0M130.4 468.7h0M145 444.9h0M126.6 458.9h0M127.1 460.8h0M131.5 472.9h0M135 474.4h0M122.3 442.8h0M140 472.2h0M133.6 478.3h0M126.7 471.8h0M131.9 472.7h0M137.8 467.5h0M134.1 478h0M128.4 452.6h0M140.7 462.4h0M141.9 457.2h0M117.3 448.8h0M125.7 455.8h0M140 452.3h0M132.2 472.4h0M135.1 474.4h0M141.5 442.4h0M115.3 452.9h0M139.1 453.7h0M124.4 439.1h0M137.6 455.1h0M109.3 419.1h0M148.9 454.6h0M136.9 471.3h0M130.3 470.3h0M129.3 463.9h0M115.7 454.2h0M127.6 464.8h0M153.9 442.7h0M134.1 477.5h0M130 468.1h0M137.6 469.2h0M133.3 477.1h0M153.5 423h0M149 439.5h0M138.9 469h0M136.5 466.2h0M134.4 475.7h0M134.1 477.8h0M126.4 458.1h0M126 456.2h0M132.3 475.8h0M134.1 476.8h0M146.5 416.4h0M133.1 477.1h0M121.3 452.8h0M140.4 456.2h0M127.3 471.1h0M115.9 429.6h0M126 461.1h0M130.1 464.8h0M143.2 463.9h0M160 420.5h0M137.7 462.2h0M128.3 465.5h0M105.2 415.8h0M141.4 457.9h0M149.4 451.4h0M125.4 453.8h0M130.3 464.7h0M148.2 421.5h0M127.9 447h0M135.2 471.1h0M128.9 465.1h0M135.5 473.4h0M152.8 458.5h0M138.9 463.3h0M138 463.4h0M136.7 468.9h0M131.4 471.7h0M123.7 427.6h0M135.7 475.1h0M133.4 477.7h0M126.2 466.4h0M133.4 477.7h0M128.9 459h0M157.6 455.6h0M133.2 476.7h0M133 477.3h0M129.3 465.2h0M129.7 469.6h0M132.1 473.3h0M130.5 474.8h0M148.2 426.7h0M140.9 451.7h0M103.6 424.1h0M119.6 414.6h0M120.5 447h0M129.2 463.3h0M128.9 462.6h0M130.6 469.6h0M143.1 445.8h0M127 447.9h0M144.2 439.9h0M126 457.5h0M132.9 476h0M127.7 464.5h0M134.6 476.8h0M143.2 433.1h0M131.5 476.1h0M133.6 478.2h0M138.3 466.9h0M154.9 436.3h0M135.5 470.3h0M148.3 439.5h0M133.3 477.5h0M133.2 477h0M136.1 469.7h0M137 474.5h0M129 465.5h0M139.3 447.9h0M135 475.4h0M130.1 469.5h0M133.9 478.4h0M121.8 463.7h0M135.5 477.1h0M128.2 462.7h0M145.6 423.8h0M119.2 435.3h0M140.7 445.4h0M121.8 450.5h0M133.1 477h0M119.4 442.2h0M139.8 451.7h0M163.5 408.7h0M135.8 474h0M123.5 452.4h0M128.7 468h0M144.2 441.2h0M134.7 475.2h0M125.2 431.4h0M135.9 469h0M130.9 472.1h0M117.9 448.8h0M137.8 464.2h0M133 476h0M138.4 468.2h0M136.1 464.2h0M131.1 473.4h0M136.7 467.5h0M133.6 478.1h0M102.2 423.8h0M144.7 434.5h0M141.3 450.5h0M134.9 474.8h0M140.9 459.4h0M138.4 453.9h0M139 467.8h0M157.7 417.3h0M130.1 472.3h0M136.3 468.2h0M127.7 463.9h0M148.7 425.6h0M125.6 457.8h0M137.4 466.7h0M133.2 477.1h0M133.3 477.2h0M121.6 415.6h0M137 459.7h0M144.9 425.9h0M131.2 474h0M147.5 452.2h0M138 466.8h0M112.3 431.6h0M121.2 436h0M122.4 430.3h0M119.1 443.5h0M127.7 472.1h0M144.4 425.4h0M131.2 468.9h0M133.4 477.6h0M143.1 428.9h0M139.5 463.8h0M131.7 473.8h0M130.6 470h0M134.3 476.8h0M130.4 468.9h0M135.2 472.1h0M140 461.6h0M134.8 474.8h0M142.1 451.7h0M135.4 472.6h0M138.1 462.2h0M139.4 460.8h0M132.6 474.3h0M148.8 444.1h0M130.1 468.3h0M144 437.3h0M135.9 470.7h0M134.4 476.8h0M124 438.4h0M134.7 474.2h0M136.6 465.6h0M132.7 475.9h0M129.2 464.7h0M128.1 464.1h0M139.9 462.5h0M152.2 420.5h0M131 469.4h0M122.7 461.3h0M126 457.8h0M146.7 440.1h0M140.3 447.4h0M145.4 446.3h0M154.1 430.3h0M139.4 446.9h0M136 473h0M139.5 452.1h0M137.3 469.5h0M135.1 473.6h0M132.1 473.9h0M137.6 463.7h0M140.3 451.1h0M137.7 463h0M134.5 476h0M125.9 461.1h0M140.6 454.4h0M119.2 431.8h0M119.6 440.4h0M131.8 473.1h0M139.4 467.5h0M134.1 477.3h0M125.7 458.2h0M131.5 471.9h0M130.5 470.7h0M118.2 452.5h0M140.4 447.5h0M133 477.1h0M131.2 468.8h0M143.4 433.4h0M133.9 478.5h0M135.9 471.1h0M145.7 456.1h0M137.7 458.4h0M138.8 465.6h0M139.6 451.3h0M143.2 444.4h0" fill="none" stroke="#b6b6b6" stroke-width="1.05" stroke-linecap="round"/><path d="M170.9 412.9h0M179.6 422.7h0M175.4 402.4h0M167.5 404.7h0M178.5 423.2h0M177.7 407.4h0M168.5 402.2h0M169.1 429.3h0M186 404.2h0M178.3 410.7h0M173.3 437h0M178.6 404.3h0M181.2 411.5h0M177.2 415.8h0M168.1 415.3h0M170.8 413.8h0M185.5 401.6h0M168.1 401.4h0M167.6 427.9h0M168.1 408.6h0M171.6 401.6h0M168.6 407.8h0M167 427.9h0M166.9 444.8h0M171.5 435.8h0M175.8 404.8h0M169.4 436.6h0M170.8 433.5h0M171.2 426.2h0M190.1 410.2h0M170.5 419.1h0M182.6 419.4h0M171.3 405.3h0M170.2 430.1h0M170.2 402.6h0M185.4 423.5h0M169.9 428.1h0M169.4 412.3h0M185.1 421.4h0M171 432.7h0M179.4 413.3h0M170.7 416.8h0M181.6 418.7h0M180.1 418h0M173.3 404.9h0M175.4 415.5h0M170.5 402.9h0M174.2 424.1h0M169.9 426.7h0M168.6 415.9h0M189.4 402.6h0M179.4 416.1h0M170.5 425.9h0M176.2 434.1h0M174.7 403h0M169.3 430.1h0M169.8 402.3h0M169.8 413.2h0M172.5 428h0M182.9 404.9h0M172.3 410.3h0M167.2 443.7h0M169 413.9h0M171.5 402.3h0M170.8 422.4h0M169.1 419.4h0M178.1 421.2h0M171.4 421.3h0M172.9 417.3h0M177.9 401.9h0M181 410.2h0M167.6 407h0M179.2 401.6h0M173.7 405.2h0M168.5 412.9h0M178.4 402.6h0M170 407.1h0M172.4 407.1h0M167.6 406.3h0M172.6 447.1h0M168.8 416.1h0M181.6 407.4h0M168.1 437.9h0M172.3 412.3h0M169 411.5h0M169.9 412.2h0M169.4 409.6h0M169.7 420.1h0M176.3 429.9h0M205.4 403.6h0M167.7 436.8h0M174.3 412.2h0M169.4 429.5h0M172.9 414.7h0M170.6 404.6h0M178.8 401h0M182.3 405.2h0M179.5 404.4h0M173.7 406.1h0M179.4 434.5h0M169.8 402.6h0M170.5 418.2h0M200.1 405.9h0M171.3 445.1h0M177.5 402.5h0M169.3 410.6h0M183.7 413.4h0M181 407.7h0M167.3 421h0M169 434.4h0M170.5 405.5h0M181.6 427.6h0M167.2 411.1h0M175.3 407.2h0M168.7 450.6h0M174 406.2h0M170.9 402.4h0M168 415.1h0M169.1 414h0M195.3 402.6h0M195.9 402.6h0M194.3 412.1h0M168.8 416.5h0M172 402.2h0M166.9 428.5h0M172.6 405.9h0M189.2 409.9h0M181.2 427.4h0M179.9 420.7h0M174.4 413.6h0M190.6 408.2h0M183.7 404.8h0M168.1 401.3h0M171.8 409.8h0M169 411.5h0M167.8 409h0M187.4 419.5h0M170.5 410h0M170.8 402.1h0M169.5 425.1h0M183.6 422.5h0M168 440.8h0M167.3 415.1h0M173.7 416.3h0M168.6 415.8h0M182.3 433.2h0M171.3 421.1h0M167 427.3h0M185.7 413h0M179.5 406.9h0M173.2 400.8h0M176.9 437.8h0M173.9 406.2h0M172.1 427h0M170.5 434.2h0M171.5 401.1h0M178.5 421.8h0M185.4 422.4h0M177.1 404h0M172.7 423h0M170.2 426.6h0M172.5 445.4h0M167 403.9h0M173.8 426.2h0M177.2 431.7h0M174.9 425.9h0M178.2 406h0M185.4 404.9h0M167.3 414.3h0M170.1 404.8h0M170.9 407.9h0M171.4 403.5h0M178.3 406.2h0M171.4 406.5h0M178.7 427.1h0M169.9 401.2h0M185.5 421.7h0M178.2 421.8h0M172.9 401.5h0M186.2 421.5h0M169.7 403h0M179.1 406.6h0M198.4 410.4h0M167.9 442.1h0M169.9 421h0M170.3 404h0M167.2 401h0M194.8 408.2h0M172.3 414.4h0M168.8 406h0M177.8 411.3h0M177.3 437.3h0M183.8 414.7h0M177.4 405.8h0M172.2 444.9h0M169.7 413h0M201.2 406.2h0M167.3 409.3h0M181.8 418.6h0M180.7 418h0M168.6 446h0M169.9 426.5h0M168.6 426.1h0M177.3 405.6h0M170.3 414.2h0M175 430.8h0M174.6 405.3h0M187.4 403.8h0M176.5 406.7h0M167.3 414.4h0M174.6 443.2h0M176.1 422.6h0M167.3 439.7h0M171.3 412.9h0M171.3 405.6h0M167.2 437.6h0M173.6 423h0M171.6 400.9h0M172.9 410.1h0M169.9 407.6h0M176.2 434.2h0M180.9 402.2h0M167.5 454.7h0M182.5 405.2h0M168.2 428.7h0M168.5 404.6h0M180.4 415.2h0M172.5 412.7h0M181.9 402.5h0M173 431.5h0M174.9 442h0M173.2 401.7h0M184.8 431.2h0M172.7 425.2h0M170.4 411.2h0M168.1 410.3h0M169.1 402h0M180.6 420.2h0M168.3 415h0M173.6 406h0M190.7 401.2h0M193.7 408.2h0M174.3 419.8h0M173.9 406.1h0M168.6 435.4h0M168.1 407.7h0M169.8 438.7h0M170 416.7h0M174.8 423.5h0M178.8 413.9h0M173.3 404.8h0M169.1 428.1h0M179.2 427.4h0M169.6 404.1h0M185.6 407.7h0M167.6 404h0M179 405h0M167.7 437.7h0M196.1 405.6h0M191.1 404.3h0M179.6 430.7h0M200 407.6h0M167.6 419.6h0M169.3 441.5h0M174 411.1h0M167.2 402.5h0M182.3 422.6h0M194.6 403.1h0M169.6 407h0M178.8 435.3h0M169 403.9h0M192 407.9h0M172.7 408.7h0M167.7 430.4h0M187.8 409.8h0M168.2 445.8h0M184.5 424.2h0M193.4 404.8h0M168.1 419.4h0M168.4 435.8h0M167.3 437.4h0M171.3 431h0M174.4 402.2h0M171.8 433.6h0M168.4 409.8h0M170.1 419.6h0M178.2 409.6h0M177 410.3h0M175.1 404h0M177.7 439h0M168 411.6h0M177.9 403.9h0M170.6 409.7h0M183.4 412.6h0M188.2 401.2h0M174.5 409h0M168.2 443.5h0M176.9 404.4h0M167.3 426.3h0M173.7 439.3h0M170.8 433.8h0M167.5 438h0M171.2 424.7h0M170.9 438h0M169.5 429.8h0M180.1 426.5h0M177.9 408.2h0M171.6 441.5h0M166.9 416.5h0M188.4 401.8h0M174.7 412.8h0M171.9 429.3h0M180.4 426.2h0M166.9 455.5h0M177.3 434.6h0M185.5 416.3h0M172.8 427.5h0M181.7 410.2h0M172.2 400.8h0M168.1 446h0M173.6 440.7h0M178 433.6h0M170.4 415.2h0M173.2 443.8h0M171.4 425.1h0M170.3 444.1h0M178.5 431h0M185.7 420.1h0M174.7 401.7h0M180.2 406.8h0M168.7 438.8h0M167.1 436.4h0M168.3 402.6h0M171.2 423.1h0M174.2 401.9h0M168.5 418.1h0M171.2 426.7h0M169 409.1h0M172.5 419.8h0M200.4 401.6h0M174.5 408.2h0M166.9 427.2h0M179.4 419.9h0M182.1 419.2h0M177.9 411.4h0M171.2 410.1h0M176.7 419.6h0M183.3 430.3h0M171 422.6h0M176.3 424.4h0M167.4 437.3h0M166.9 410.1h0M170 406.1h0M184.2 429.9h0M181.1 417.7h0M186.6 428.2h0M187.3 415.1h0M171.1 408.4h0M181.2 401h0M172.5 410.4h0M173.7 423.7h0M176.4 413.9h0M169.8 421.6h0M174.7 402.3h0M168 430.1h0M172.8 409h0M168.8 434.7h0M173.4 443.2h0M167.6 431.4h0M175.1 411.9h0M168.8 423.1h0M169.4 436.9h0M171.9 411.1h0M174.1 436.3h0M167.7 419.6h0M171.7 428h0M167.7 414.6h0M168.8 407.1h0M176.6 403.7h0M168.5 424.6h0M170 418.4h0M189.5 415.3h0M169.8 425.2h0M167.6 407.1h0M171.2 406.6h0M167.4 410.4h0M167 405.5h0M168.7 419.8h0M170.6 439.4h0M171.2 412.7h0M168.5 412.6h0M171.3 408.6h0M167.6 418.8h0M170.9 408.1h0M170.6 424.9h0M169.7 414.2h0M179.3 406h0M172.1 406.3h0M171.3 427.5h0M177 436.6h0" fill="none" stroke="#a4cfe0" stroke-width="1.6" stroke-linecap="round"/><path d="M167.6 383h0M159.5 397.4h0M161.9 387.5h0M174.4 381.1h0M171 393.4h0M179.4 378.8h0M161.8 399.8h0M170.2 390.4h0M177.2 383.6h0M157.7 389.8h0M169.2 381.2h0M171.9 386.5h0M157.8 395.9h0M161.8 386.8h0M166.3 387.1h0M162.2 397.5h0M165 382.9h0M183.1 377.2h0M160.8 398.5h0M184.9 381.5h0M158.5 394.4h0M174.8 376.8h0M157 394h0M162.6 391h0M165 391.4h0M174.9 382.4h0M161.4 390h0M156.4 389h0M165.9 394h0M155.3 397.2h0M192 371.1h0M188.4 372.2h0M161 393.8h0M155.2 392.8h0M163 386.8h0M158.5 394.1h0M177.2 381.4h0M156.1 395.2h0M166.9 387.5h0M158.9 394.7h0M169.7 382.6h0M154.6 395.6h0M169.5 391.7h0M158.4 387.3h0M174.1 383.9h0M159.8 387.2h0M156.7 393.6h0M166.6 391h0M158.3 398.9h0M165.2 386.6h0M157.7 391.8h0M159.8 390.3h0M178 382.2h0M173.3 382.1h0M156.9 393.8h0M160.6 394.5h0M156.4 393.2h0M167.9 396h0M169.8 381.2h0M169.9 390.6h0M169.2 382.2h0M170.7 391.2h0M157.4 390.1h0M178.4 377.1h0M175.7 381.9h0M167.3 390.3h0M171 387.8h0M159.9 387h0M190.3 373.2h0M156.9 387.4h0M180.3 375.9h0M191.2 372.5h0M182.6 372.2h0M168 393h0M169.9 381.9h0M156.3 391.6h0M161.1 386.2h0M157.8 387.8h0M179.7 389.4h0M170.2 395.5h0M188.6 372.3h0M173 390.3h0M177.1 375.2h0M171.5 389.1h0M160.3 391h0M155.4 395.9h0M162.2 388.8h0M161.3 397.3h0M167.8 381.6h0M163.4 387.5h0M166 383.5h0M165.5 383.8h0M168 384h0M161.7 397.9h0M182.7 386.2h0M157.3 398.6h0M156.7 388.2h0M170.1 389.7h0M158.1 386.4h0M163.3 388h0M165 385.3h0M158.3 387.3h0M160.5 397.9h0M161.8 391.5h0M162.5 390.9h0M178.5 376.5h0M179.2 385.1h0M162.5 398.8h0M158.5 386.9h0M164.7 399.3h0M163.8 387.1h0M169.1 394.9h0M183.8 377.5h0M166.3 386.6h0M166.9 396.8h0M157.1 391.9h0M161.3 389.4h0M161.7 393h0M159.6 392.9h0M155.1 393h0M156.1 388.9h0M176.9 375.8h0M169.8 394.9h0M183.7 370.4h0M174.2 389.9h0M163.9 384.2h0M159.1 395.4h0M160.8 388.2h0M157.6 396.8h0M166.7 397.7h0M169.2 394.2h0M172.2 382.4h0M165.1 388.6h0M172.8 392.3h0M177.4 390.8h0M184.9 372.3h0M166.1 389.5h0M162.9 398.3h0M160.1 385.8h0M191.6 374.1h0M158.8 397.2h0M168.6 386.3h0M163.5 398.3h0M186.3 374.5h0M163.6 397.3h0M160.5 388h0M172.8 391.9h0M182.9 387.8h0M154.6 396.8h0M157.1 391.6h0M157.8 393.9h0M154.8 399.7h0M158.6 386.3h0M168.8 391.7h0M172.5 387h0M169.6 390h0M156.6 387.9h0M170.7 387.3h0M170.5 389.7h0M170.5 391.8h0M163.6 395.1h0M164.6 394.4h0M168 382.2h0M156.3 392.9h0M156.5 392.4h0M161.7 390.7h0M190.6 372.2h0M170.5 384.8h0M154.7 390h0M155.5 395.6h0M160.6 385.8h0M166.2 389.6h0M155.6 393.3h0M161.6 394.7h0M180.1 384.9h0M220.6 349.2h0M206.6 360.1h0M208.8 366.3h0M182 364h0M203.2 376.5h0M218.9 396h0M211.1 397.6h0M207.7 399.9h0" fill="none" stroke="#a0231c" stroke-width="1.75" stroke-linecap="round"/><path d="M55 367h0M61.5 364.3h0M64 370h0M69 374.5h0M71.8 376.5h0M68.5 387h0M57.8 396.8h0M65 400.5h0M67.5 394.5h0M73.8 392.5h0M80.8 368h0M88 373.3h0M96.8 373.3h0M84.3 380h0M87.5 379.3h0M90.5 381.5h0M99 380h0M79.5 385.5h0M82.5 383.8h0M83.5 387.5h0M92 388.8h0M94 388.3h0M81.3 391h0M88 390.8h0M89.3 393.8h0M93 395h0M95 395.5h0M81 396.8h0M86.3 396.5h0M83.5 400.5h0M97 400.5h0M101.5 399.5h0M103 395h0M105 393.8h0M107 392h0M108 394.3h0M105.5 397.3h0M103 398.3h0M108.5 396.8h0M100 397h0M91 384h0M86 386h0M57.8 396.6h0M64.9 400.4h0M81.1 397h0M83.1 400.7h0M87.8 396.6h0M92.8 395.7h0M95.5 395.4h0M96.8 400.7h0M98.2 401.1h0M101.3 398.4h0M102.2 399.3h0M104.2 395.7h0M106.2 397h0M107.6 397.7h0M67.9 395h0" fill="none" stroke="#1f2d96" stroke-width="1.7" stroke-linecap="round"/><path d="M56.4 409.8h0M65.9 413.6h0M76 416.1h0M85.4 406.4h0M87.8 404.2h0M93.2 405.5h0M98.8 404.2h0M91.4 412.2h0M95.5 409.8h0M97.5 408.5h0M96.8 412.5h0M98.8 411.8h0M94.1 414.5h0M98.2 413.8h0M82.7 419.9h0M86.7 419h0M88.1 421.9h0M85.4 422.6h0M92.1 419h0M95.5 419.9h0M98.8 419.2h0M77.3 421.9h0M80 423.9h0M70.6 425.3h0M73.9 428.4h0M81.3 426.6h0M84.7 427h0M90.8 424.6h0M92.1 425.7h0M96.1 423.3h0M98.2 422.6h0M95.5 428h0M97.5 427.3h0M68.6 430.3h0M80 430.3h0M84.7 431.1h0M89.1 431.6h0M93.2 430.7h0M94.1 433.4h0M98.2 431.3h0M98.2 434h0M98.8 436h0M94.8 438.3h0M97.5 437.4h0M99.5 438.1h0M98.2 440.1h0M98.8 442.1h0M96.8 442.8h0M98.2 445.1h0M84.3 441h0M85.1 451.3h0M97.8 457.2h0M96.1 439.4h0M99.5 434.7h0M96.5 408h0M97 416h0M99 417h0M96 421h0M97.8 425h0M99.6 429h0M97 432.5h0M99.8 440h0M97 436h0" fill="none" stroke="#b8482a" stroke-width="1.75" stroke-linecap="round"/><path d="M44.4 333.6V478.8H228" fill="none" stroke="#111" stroke-width="1.1"/><path d="M40.6 478.8H44.4" stroke="#111" stroke-width="1"/><text x="37.4" y="481.2" font-size="6.8" fill="#222" text-anchor="end">0</text><path d="M40.6 463.2H44.4" stroke="#111" stroke-width="1"/><text x="37.4" y="465.6" font-size="6.8" fill="#222" text-anchor="end">1</text><path d="M40.6 447.6H44.4" stroke="#111" stroke-width="1"/><text x="37.4" y="450" font-size="6.8" fill="#222" text-anchor="end">2</text><path d="M40.6 431.9H44.4" stroke="#111" stroke-width="1"/><text x="37.4" y="434.3" font-size="6.8" fill="#222" text-anchor="end">3</text><path d="M40.6 416.3H44.4" stroke="#111" stroke-width="1"/><text x="37.4" y="418.7" font-size="6.8" fill="#222" text-anchor="end">4</text><path d="M40.6 400.7H44.4" stroke="#111" stroke-width="1"/><text x="37.4" y="403.1" font-size="6.8" fill="#222" text-anchor="end">5</text><path d="M40.6 385.1H44.4" stroke="#111" stroke-width="1"/><text x="37.4" y="387.5" font-size="6.8" fill="#222" text-anchor="end">6</text><path d="M40.6 369.5H44.4" stroke="#111" stroke-width="1"/><text x="37.4" y="371.9" font-size="6.8" fill="#222" text-anchor="end">7</text><path d="M40.6 353.8H44.4" stroke="#111" stroke-width="1"/><text x="37.4" y="356.2" font-size="6.8" fill="#222" text-anchor="end">8</text><path d="M40.6 338.2H44.4" stroke="#111" stroke-width="1"/><text x="37.4" y="340.6" font-size="6.8" fill="#222" text-anchor="end">9</text><path d="M44.2 478.8v2.8" stroke="#111" stroke-width="1"/><text x="44.2" y="489.6" font-size="6.8" fill="#222" text-anchor="middle">-8</text><path d="M66.6 478.8v2.8" stroke="#111" stroke-width="1"/><text x="66.6" y="489.6" font-size="6.8" fill="#222" text-anchor="middle">-6</text><path d="M89 478.8v2.8" stroke="#111" stroke-width="1"/><text x="89" y="489.6" font-size="6.8" fill="#222" text-anchor="middle">-4</text><path d="M111.4 478.8v2.8" stroke="#111" stroke-width="1"/><text x="111.4" y="489.6" font-size="6.8" fill="#222" text-anchor="middle">-2</text><path d="M133.8 478.8v2.8" stroke="#111" stroke-width="1"/><text x="133.8" y="489.6" font-size="6.8" fill="#222" text-anchor="middle">0</text><path d="M156.2 478.8v2.8" stroke="#111" stroke-width="1"/><text x="156.2" y="489.6" font-size="6.8" fill="#222" text-anchor="middle">2</text><path d="M178.6 478.8v2.8" stroke="#111" stroke-width="1"/><text x="178.6" y="489.6" font-size="6.8" fill="#222" text-anchor="middle">4</text><path d="M201 478.8v2.8" stroke="#111" stroke-width="1"/><text x="201" y="489.6" font-size="6.8" fill="#222" text-anchor="middle">6</text><path d="M223.4 478.8v2.8" stroke="#111" stroke-width="1"/><text x="223.4" y="489.6" font-size="6.8" fill="#222" text-anchor="middle">8</text><text transform="translate(28.3,406.4) rotate(-90)" font-size="9" fill="#111" text-anchor="middle" textLength="63.5" lengthAdjust="spacingAndGlyphs">P value (-log10)</text><text x="133.6" y="503.5" font-size="8.8" fill="#111" textLength="33" lengthAdjust="spacingAndGlyphs">Log2 FC</text><text x="163.8" y="372.6" font-size="7" fill="#222" textLength="34" lengthAdjust="spacingAndGlyphs">Thy1/CD90</text><text x="181.8" y="387.6" font-size="7" fill="#222" textLength="40" lengthAdjust="spacingAndGlyphs">ITGA6/CD49f</text><circle cx="180" cy="458.3" r="2" fill="#8c2a2a"/><circle cx="180" cy="467" r="2" fill="#2a3a7a"/><text x="185" y="460.9" font-size="7.2" fill="#222" textLength="53" lengthAdjust="spacingAndGlyphs">p-Value&lt;0.00001</text><text x="185" y="469.6" font-size="7.2" fill="#222" textLength="53" lengthAdjust="spacingAndGlyphs">p-Value&lt;0.00001</text></g>
<g><path d="M381.6 293.3H511.8M381.6 300.1H511.8M381.6 306.8H511.8M381.6 313.6H511.8M381.6 320.3H511.8M381.6 327.1H511.8M381.6 333.8H511.8M381.6 340.6H511.8M381.6 347.3H511.8M406 290.3V347.3M430 290.3V347.3M454 290.3V347.3M478 290.3V347.3M502 290.3V347.3" stroke="#eeeeee" stroke-width="0.6" fill="none"/><path d="M381.6 394H511.8M381.6 409H511.8M381.6 416.7H511.8" stroke="#f0f0f0" stroke-width="0.6"/><path d="M381.6 347.3H510.8" stroke="#c8c8c8" stroke-width="0.8"/><path d="M381.6 352.6H510.8M381.6 377.9H510.8" stroke="#d8d8d8" stroke-width="0.6"/><path d="M381.6 347.2L382.7 335.1L384 325.7L385.4 323L387.4 316.3L389.4 308.9L391.4 304.2L392.8 302.8L394.1 303.5L396.2 299.4L398.2 300.8L399.5 298.8L400.9 296.7L402.9 295.8L404.2 293.4L406.2 295.4L408.3 294.5L409.6 293.7L411.6 295.4L413.6 297.4L416.3 298.1L419.7 299.4L422.4 302.1L425.1 304.8L426.4 302.8L427.8 304.8L429.8 304.2L432.5 305.2L434.5 304.8L436.5 307.5L437.9 308.9L438.5 305.5L441.2 307.5L444.6 310.2L448.4 312.8L451.7 315.5L453.7 316.2L455.5 313.7L457.8 316.2L459.8 317.5L461.8 316.4L463.2 316.8L466.5 320.2L468.6 321.8L469.9 321.3L472.6 322.9L477.3 328.3L482.7 334.3L487.4 339L489.4 339.3L492.1 340.4L496.1 345.1L499.5 347.8L501.5 347.4L503.5 348.2L505.6 346.8" fill="none" stroke="#7ee02a" stroke-width="1.3" stroke-linejoin="round"/><path d="M383.6 352.8V372.9" stroke="#000" stroke-width="1.3"/><path d="M385.4 352.8V372.9" stroke="#333" stroke-width="0.8"/><path d="M386.5 352.8V372.9" stroke="#555" stroke-width="0.8"/><path d="M387.6 352.8V372.9" stroke="#444" stroke-width="0.8"/><path d="M388.8 352.8V372.9" stroke="#666" stroke-width="0.7"/><path d="M390.9 352.8V372.9" stroke="#333" stroke-width="0.7"/><path d="M392.4 352.8V372.9" stroke="#555" stroke-width="0.7"/><path d="M393.4 352.8V372.9" stroke="#444" stroke-width="0.8"/><path d="M395.1 352.8V372.9" stroke="#333" stroke-width="0.6"/><path d="M399.1 352.8V372.9" stroke="#444" stroke-width="0.8"/><path d="M400.4 352.8V372.9" stroke="#666" stroke-width="0.7"/><path d="M401.4 352.8V372.9" stroke="#555" stroke-width="0.7"/><path d="M402.6 352.8V372.9" stroke="#333" stroke-width="0.6"/><path d="M404.2 352.8V372.9" stroke="#222" stroke-width="0.6"/><path d="M406.3 352.8V372.9" stroke="#444" stroke-width="0.6"/><path d="M408.5 352.8V372.9" stroke="#555" stroke-width="0.6"/><path d="M409.5 352.8V372.9" stroke="#333" stroke-width="0.6"/><path d="M413.7 352.8V372.9" stroke="#666" stroke-width="0.6"/><path d="M415 352.8V372.9" stroke="#888" stroke-width="0.6"/><path d="M417 352.8V372.9" stroke="#666" stroke-width="0.6"/><path d="M418.4 352.8V372.9" stroke="#555" stroke-width="0.6"/><path d="M425.1 352.8V372.9" stroke="#333" stroke-width="0.7"/><path d="M427.9 352.8V372.9" stroke="#aaa" stroke-width="0.6"/><path d="M429 352.8V372.9" stroke="#888" stroke-width="0.6"/><path d="M429.9 352.8V372.9" stroke="#999" stroke-width="0.6"/><path d="M433.2 352.8V372.9" stroke="#555" stroke-width="0.6"/><path d="M437.2 352.8V372.9" stroke="#777" stroke-width="0.6"/><path d="M441.3 352.8V372.9" stroke="#999" stroke-width="0.6"/><path d="M444.4 352.8V372.9" stroke="#888" stroke-width="0.6"/><path d="M448.7 352.8V372.9" stroke="#999" stroke-width="0.6"/><path d="M452.3 352.8V372.9" stroke="#777" stroke-width="0.6"/><path d="M454.2 352.8V372.9" stroke="#555" stroke-width="0.6"/><path d="M459.5 352.8V372.9" stroke="#777" stroke-width="0.6"/><path d="M461.6 352.8V372.9" stroke="#555" stroke-width="0.6"/><path d="M468.8 352.8V372.9" stroke="#666" stroke-width="0.6"/><path d="M472.5 352.8V372.9" stroke="#777" stroke-width="0.6"/><path d="M489 352.8V372.9" stroke="#777" stroke-width="0.6"/><path d="M491.2 352.8V372.9" stroke="#999" stroke-width="0.6"/><path d="M500.8 352.8V372.9" stroke="#999" stroke-width="0.7"/><path d="M502.6 352.8V372.9" stroke="#888" stroke-width="0.8"/><path d="M504.6 352.8V372.9" stroke="#666" stroke-width="0.7"/><rect x="381.6" y="373" width="8.4" height="4.9" fill="#d95252"/><rect x="390" y="373" width="10" height="4.9" fill="#dc5c5c"/><rect x="400" y="373" width="12" height="4.9" fill="#df6868"/><rect x="412" y="373" width="12.6" height="4.9" fill="#e77878"/><rect x="424.6" y="373" width="18" height="4.9" fill="#ebbde6"/><rect x="442.6" y="373" width="26.4" height="4.9" fill="#d6d6fa"/><rect x="469" y="373" width="12" height="4.9" fill="#8c8cf0"/><rect x="481" y="373" width="21.6" height="4.9" fill="#5c5ce6"/><rect x="502.6" y="373" width="3.2" height="4.9" fill="#2020c8"/><path d="M381.6 401.5L381.6 391L382.5 393.5L384 395.5L386 397L389 398.3L393 399.3L400 400.2L410 400.8L425 401.2L443 401.5L470 401.9L495 402.4L502 403L504 405L505 410L505.6 416.5L505.6 401.5Z" fill="#cfcfcf"/><path d="M442.8 380V419" stroke="#aaa" stroke-width="0.6" stroke-dasharray="1 1"/><text x="382.8" y="384.4" font-size="5.6" fill="#e80c0c" style="stroke:none" textLength="69" lengthAdjust="spacingAndGlyphs">'na_pos' (positively correlated)</text><text x="424.2" y="400.8" font-size="5.6" fill="#222" textLength="44" lengthAdjust="spacingAndGlyphs">Zero cross at 12772</text><text x="448.8" y="411.4" font-size="5.6" fill="#2626e6" style="stroke:none" textLength="45.6" lengthAdjust="spacingAndGlyphs">'na_neg' (negatively</text><text x="471.6" y="417.8" font-size="5.6" fill="#2626e6" style="stroke:none" text-anchor="middle">correlated)</text><rect x="381.6" y="290.3" width="130.2" height="129" fill="none" stroke="#111" stroke-width="1.3"/><path d="M378.6 293.3H381.6" stroke="#111" stroke-width="0.9"/><text x="375.6" y="295.4" font-size="6" fill="#222" text-anchor="end">0.40</text><path d="M378.6 300.1H381.6" stroke="#111" stroke-width="0.9"/><text x="375.6" y="302.2" font-size="6" fill="#222" text-anchor="end">0.35</text><path d="M378.6 306.8H381.6" stroke="#111" stroke-width="0.9"/><text x="375.6" y="308.9" font-size="6" fill="#222" text-anchor="end">0.30</text><path d="M378.6 313.6H381.6" stroke="#111" stroke-width="0.9"/><text x="375.6" y="315.7" font-size="6" fill="#222" text-anchor="end">0.25</text><path d="M378.6 320.3H381.6" stroke="#111" stroke-width="0.9"/><text x="375.6" y="322.4" font-size="6" fill="#222" text-anchor="end">0.20</text><path d="M378.6 327.1H381.6" stroke="#111" stroke-width="0.9"/><text x="375.6" y="329.2" font-size="6" fill="#222" text-anchor="end">0.15</text><path d="M378.6 333.8H381.6" stroke="#111" stroke-width="0.9"/><text x="375.6" y="335.9" font-size="6" fill="#222" text-anchor="end">0.10</text><path d="M378.6 340.6H381.6" stroke="#111" stroke-width="0.9"/><text x="375.6" y="342.7" font-size="6" fill="#222" text-anchor="end">0.05</text><path d="M378.6 347.3H381.6" stroke="#111" stroke-width="0.9"/><text x="375.6" y="349.4" font-size="6" fill="#222" text-anchor="end">0.00</text><text x="375.3" y="381.1" font-size="6" fill="#222" text-anchor="end">30</text><text x="375.3" y="388.6" font-size="6" fill="#222" text-anchor="end">20</text><text x="375.3" y="396.1" font-size="6" fill="#222" text-anchor="end">10</text><text x="375.3" y="403.6" font-size="6" fill="#222" text-anchor="end">0</text><text x="375.3" y="411.1" font-size="6" fill="#222" text-anchor="end">-10</text><text x="375.3" y="418.6" font-size="6" fill="#222" text-anchor="end">-20</text><path d="M381.5 419.3v2.8" stroke="#111" stroke-width="0.9"/><text x="381.5" y="432.2" font-size="6.2" fill="#222" text-anchor="middle">0</text><path d="M405.5 419.3v2.8" stroke="#111" stroke-width="0.9"/><text x="405.5" y="432.2" font-size="6.2" fill="#222" text-anchor="middle">5,000</text><path d="M429.5 419.3v2.8" stroke="#111" stroke-width="0.9"/><text x="429.5" y="432.2" font-size="6.2" fill="#222" text-anchor="middle">10,000</text><path d="M453.5 419.3v2.8" stroke="#111" stroke-width="0.9"/><text x="453.5" y="432.2" font-size="6.2" fill="#222" text-anchor="middle">15,000</text><path d="M477.5 419.3v2.8" stroke="#111" stroke-width="0.9"/><text x="477.5" y="432.2" font-size="6.2" fill="#222" text-anchor="middle">20,000</text><path d="M501.5 419.3v2.8" stroke="#111" stroke-width="0.9"/><text x="501.5" y="432.2" font-size="6.2" fill="#222" text-anchor="middle">25,000</text><text x="446.4" y="274.9" font-size="9.3" fill="#111" text-anchor="middle" textLength="106.8" lengthAdjust="spacingAndGlyphs">Long-term functional HSC</text><text x="446" y="285.8" font-size="6.9" fill="#111" text-anchor="middle" textLength="87.4" lengthAdjust="spacingAndGlyphs">Enrichment plot: UP-GENES</text><text transform="translate(354.3,319.4) rotate(-90)" font-size="9" fill="#111" text-anchor="middle" textLength="88.4" lengthAdjust="spacingAndGlyphs">Enrichment score (ES)</text><text transform="translate(344.6,397.3) rotate(-90)" font-size="9" fill="#111" text-anchor="middle" textLength="73" lengthAdjust="spacingAndGlyphs">Ranked list metric</text><text transform="translate(354.3,397.9) rotate(-90)" font-size="9" fill="#111" text-anchor="middle" textLength="48.8" lengthAdjust="spacingAndGlyphs">(PreRanked)</text><text x="446" y="445.2" font-size="9.2" fill="#111" text-anchor="middle" textLength="98.2" lengthAdjust="spacingAndGlyphs">Rank in ordered dataset</text><path d="M319.2 455H326.4" stroke="#7ee02a" stroke-width="1.3"/><text x="329.9" y="457.4" font-size="7" fill="#222" textLength="59" lengthAdjust="spacingAndGlyphs">Enrichment profile</text><path d="M396.5 455H403.3" stroke="#111" stroke-width="1.3"/><text x="406.4" y="457.4" font-size="7" fill="#222">Hits</text><path d="M425.7 455H432.5" stroke="#bbb" stroke-width="1.3"/><text x="435.6" y="457.4" font-size="7" fill="#222" textLength="71.4" lengthAdjust="spacingAndGlyphs">Ranking metric scores</text><g font-size="7.4" fill="#111"><text x="390.8" y="493.2">NES</text><text x="390.8" y="505.9">Nominal p-Value</text><text x="390.8" y="517.7">FDR q-Value</text><text x="486.5" y="493.2" text-anchor="middle">4.681</text><text x="486.5" y="505.9" text-anchor="middle">&lt;0.0001</text><text x="486.5" y="517.7" text-anchor="middle">&lt;0.0001</text></g></g>
<g><rect x="354.2" y="531.5" width="91.6" height="8.8" fill="#b4b4b4"/><path d="M349.4 535.9H353.4" stroke="#111" stroke-width="1"/><text x="347" y="538.4" font-size="7" fill="#111" text-anchor="end">IVANOVA_HEMATOPOIESIS_STEM_CELL_AND_PROGENITOR</text><text x="442.5" y="538.5" font-size="7.2" fill="#111" text-anchor="end">FDR q-VALUE &lt;0.0001</text><rect x="354.2" y="545" width="74.3" height="8.8" fill="#b4b4b4"/><path d="M349.4 549.4H353.4" stroke="#111" stroke-width="1"/><text x="347" y="551.9" font-size="7" fill="#111" text-anchor="end">JAATINEN_HEMATOPOIETIC_STEM_CELL_UP</text><text x="425.2" y="552" font-size="7.2" fill="#111" text-anchor="end">&lt;0.0001</text><rect x="354.2" y="558.5" width="72" height="8.8" fill="#b4b4b4"/><path d="M349.4 562.9H353.4" stroke="#111" stroke-width="1"/><text x="347" y="565.4" font-size="7" fill="#111" text-anchor="end">IVANOVA_HEMATOPOIESIS_STEM_CELL_LONG_TERM</text><text x="422.9" y="565.5" font-size="7.2" fill="#111" text-anchor="end">&lt;0.0001</text><rect x="354.2" y="572" width="67.8" height="8.8" fill="#b4b4b4"/><path d="M349.4 576.4H353.4" stroke="#111" stroke-width="1"/><text x="347" y="578.9" font-size="7" fill="#111" text-anchor="end">IVANOVA_HEMATOPOIESIS_STEM_CELL</text><text x="418.7" y="579" font-size="7.2" fill="#111" text-anchor="end">&lt;0.0001</text><rect x="354.2" y="585.5" width="66.4" height="8.8" fill="#b4b4b4"/><path d="M349.4 589.9H353.4" stroke="#111" stroke-width="1"/><text x="347" y="592.4" font-size="7" fill="#111" text-anchor="end">Eppert_HSC_R</text><text x="417.3" y="592.5" font-size="7.2" fill="#111" text-anchor="end">&lt;0.0001</text><rect x="354.2" y="599" width="66.4" height="8.8" fill="#b4b4b4"/><path d="M349.4 603.4H353.4" stroke="#111" stroke-width="1"/><text x="347" y="605.9" font-size="7" fill="#111" text-anchor="end">GEORGANTAS_HSC_MARKERS</text><text x="417.3" y="606" font-size="7.2" fill="#111" text-anchor="end">&lt;0.0001</text><rect x="354.2" y="612.5" width="53.5" height="8.8" fill="#b4b4b4"/><path d="M349.4 616.9H353.4" stroke="#111" stroke-width="1"/><text x="347" y="619.4" font-size="7" fill="#111" text-anchor="end">GSE37301_HEMATOPOIETIC_STEM_CELL_VS_COMMON_LYMPHOID_PROGENITOR_UP</text><text x="404.4" y="619.5" font-size="7.2" fill="#111" text-anchor="end">&lt;0.0001</text><rect x="354.2" y="626" width="40.4" height="8.8" fill="#b4b4b4"/><path d="M349.4 630.4H353.4" stroke="#111" stroke-width="1"/><text x="347" y="632.9" font-size="7" fill="#111" text-anchor="end">IVANOVA_HEMATOPOIESIS_EARLY_PROGENITOR</text><text x="391.3" y="633" font-size="7.2" fill="#111" text-anchor="end">0.0005</text><rect x="354.2" y="639.5" width="36.3" height="8.8" fill="#b4b4b4"/><path d="M349.4 643.9H353.4" stroke="#111" stroke-width="1"/><text x="347" y="646.4" font-size="7" fill="#111" text-anchor="end">GSE37301_HEMATOPOIETIC_STEM_CELL_VS_MULTIPOTENT_PROGENITOR_UP</text><text x="387.2" y="646.5" font-size="7.2" fill="#111" text-anchor="end">0.002</text><rect x="354.2" y="653" width="20" height="8.8" fill="#b4b4b4"/><path d="M349.4 657.4H353.4" stroke="#111" stroke-width="1"/><text x="347" y="659.9" font-size="7" fill="#111" text-anchor="end">PARK_HSC_MARKERS</text><text x="370.9" y="660" font-size="7.2" fill="#111" text-anchor="end">0.21</text><path d="M353.4 528V664.5H457.3" fill="none" stroke="#111" stroke-width="1.1"/><path d="M353.5 664.5v2.8" stroke="#111" stroke-width="1"/><text x="353.5" y="678.6" font-size="8" fill="#222" text-anchor="middle">0</text><path d="M386.4 664.5v2.8" stroke="#111" stroke-width="1"/><text x="386.4" y="678.6" font-size="8" fill="#222" text-anchor="middle">2</text><path d="M419.3 664.5v2.8" stroke="#111" stroke-width="1"/><text x="419.3" y="678.6" font-size="8" fill="#222" text-anchor="middle">4</text><path d="M452.2 664.5v2.8" stroke="#111" stroke-width="1"/><text x="452.2" y="678.6" font-size="8" fill="#222" text-anchor="middle">6</text><text x="397.3" y="692" font-size="10.2" fill="#111" textLength="15.6" lengthAdjust="spacingAndGlyphs">NES</text></g>
<rect x="0.7" y="0.5" width="518.6" height="697.8" fill="none" stroke="#1a1a1a" stroke-width="1.5"/>
</svg></body></html>
